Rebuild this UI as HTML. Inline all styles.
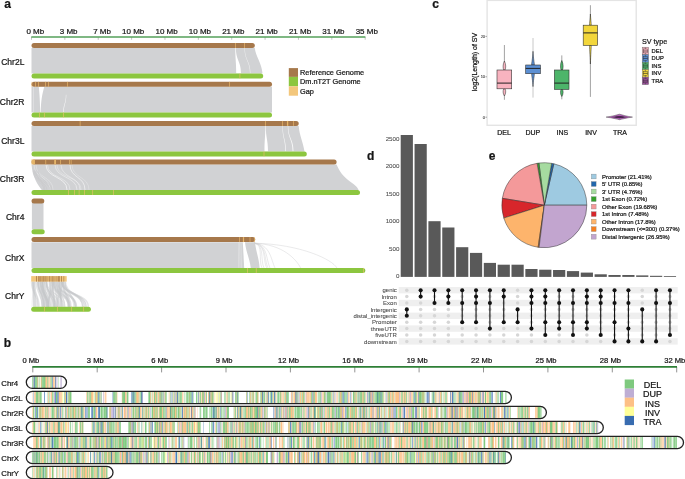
<!DOCTYPE html>
<html><head><meta charset="utf-8"><style>html,body{margin:0;padding:0;background:#fff;width:685px;height:479px;overflow:hidden}svg{display:block;will-change:transform}</style></head>
<body><svg width="685" height="479" viewBox="0 0 685 479" style='font-family:"Liberation Sans", sans-serif'>
<defs><clipPath id="cp0"><rect x="26.3" y="376.2" width="40.2" height="12.2" rx="6.1"/></clipPath><clipPath id="cp1"><rect x="26.3" y="391.4" width="485.1" height="12.2" rx="6.1"/></clipPath><clipPath id="cp2"><rect x="26.3" y="406.4" width="520.1" height="12.2" rx="6.1"/></clipPath><clipPath id="cp3"><rect x="26.3" y="421.4" width="577.0" height="12.2" rx="6.1"/></clipPath><clipPath id="cp4"><rect x="26.3" y="436.4" width="657.2" height="12.2" rx="6.1"/></clipPath><clipPath id="cp5"><rect x="26.3" y="451.4" width="485.1" height="12.2" rx="6.1"/></clipPath><clipPath id="cp6"><rect x="26.3" y="466.4" width="86.7" height="12.2" rx="6.1"/></clipPath></defs>
<rect width="685" height="479" fill="#fff"/>
<text x="4.3" y="8.2" font-size="12" font-weight="bold" fill="#161616" stroke="#161616" stroke-width="0.22">a</text>
<text x="44.20" y="34" font-size="8" text-anchor="end" fill="#161616" stroke="#161616" stroke-width="0.22">0 Mb</text>
<line x1="31.50" y1="37" x2="31.50" y2="39.8" stroke="#9a9a9a" stroke-width="0.6"/>
<text x="77.57" y="34" font-size="8" text-anchor="end" fill="#161616" stroke="#161616" stroke-width="0.22">3 Mb</text>
<line x1="64.87" y1="37" x2="64.87" y2="39.8" stroke="#9a9a9a" stroke-width="0.6"/>
<text x="110.94" y="34" font-size="8" text-anchor="end" fill="#161616" stroke="#161616" stroke-width="0.22">7 Mb</text>
<line x1="98.24" y1="37" x2="98.24" y2="39.8" stroke="#9a9a9a" stroke-width="0.6"/>
<text x="144.31" y="34" font-size="8" text-anchor="end" fill="#161616" stroke="#161616" stroke-width="0.22">10 Mb</text>
<line x1="131.61" y1="37" x2="131.61" y2="39.8" stroke="#9a9a9a" stroke-width="0.6"/>
<text x="177.68" y="34" font-size="8" text-anchor="end" fill="#161616" stroke="#161616" stroke-width="0.22">10 Mb</text>
<line x1="164.98" y1="37" x2="164.98" y2="39.8" stroke="#9a9a9a" stroke-width="0.6"/>
<text x="211.05" y="34" font-size="8" text-anchor="end" fill="#161616" stroke="#161616" stroke-width="0.22">10 Mb</text>
<line x1="198.35" y1="37" x2="198.35" y2="39.8" stroke="#9a9a9a" stroke-width="0.6"/>
<text x="244.42" y="34" font-size="8" text-anchor="end" fill="#161616" stroke="#161616" stroke-width="0.22">21 Mb</text>
<line x1="231.72" y1="37" x2="231.72" y2="39.8" stroke="#9a9a9a" stroke-width="0.6"/>
<text x="277.79" y="34" font-size="8" text-anchor="end" fill="#161616" stroke="#161616" stroke-width="0.22">21 Mb</text>
<line x1="265.09" y1="37" x2="265.09" y2="39.8" stroke="#9a9a9a" stroke-width="0.6"/>
<text x="311.16" y="34" font-size="8" text-anchor="end" fill="#161616" stroke="#161616" stroke-width="0.22">21 Mb</text>
<line x1="298.46" y1="37" x2="298.46" y2="39.8" stroke="#9a9a9a" stroke-width="0.6"/>
<text x="344.53" y="34" font-size="8" text-anchor="end" fill="#161616" stroke="#161616" stroke-width="0.22">31 Mb</text>
<line x1="331.83" y1="37" x2="331.83" y2="39.8" stroke="#9a9a9a" stroke-width="0.6"/>
<text x="377.90" y="34" font-size="8" text-anchor="end" fill="#161616" stroke="#161616" stroke-width="0.22">35 Mb</text>
<line x1="365.20" y1="37" x2="365.20" y2="39.8" stroke="#9a9a9a" stroke-width="0.6"/>
<line x1="31.3" y1="37.1" x2="365.4" y2="37.1" stroke="#55a05a" stroke-width="1.5"/>
<text x="24.4" y="64.7" font-size="8.5" text-anchor="end" fill="#161616" stroke="#161616" stroke-width="0.22">Chr2L</text>
<path d="M31.5,48.0 L254.8,48.0 C255.5,56.0 262,63.599999999999994 262.5,73.6 L31.5,73.6 Z" fill="#d1d2d4"/>
<path d="M235.3,48.0 L235.9,48.0 C235.9,60.8 241.0,60.8 241.0,73.6 L236.2,73.6 C236.2,60.8 235.3,60.8 235.3,48.0 Z" fill="#fff" opacity="1.0"/>
<path d="M244.5,48.0 L244.9,48.0 C244.9,60.8 250.5,60.8 250.5,73.6 L250.0,73.6 C250.0,60.8 244.5,60.8 244.5,48.0 Z" fill="#fff" opacity="0.7"/>
<rect x="31.5" y="43.0" width="223.3" height="5.0" rx="2.5" fill="#a6784b"/>
<rect x="235.15" y="43.0" width="0.7" height="5.0" fill="#f0c070" opacity="0.85"/>
<rect x="244.15" y="43.0" width="0.7" height="5.0" fill="#f0c070" opacity="0.85"/>
<rect x="31.5" y="73.6" width="231.7" height="5.0" rx="2.5" fill="#8cc63f"/>
<rect x="239.55" y="73.6" width="0.7" height="5.0" fill="#f0c070" opacity="0.85"/>
<text x="24.4" y="105.3" font-size="8.5" text-anchor="end" fill="#161616" stroke="#161616" stroke-width="0.22">Chr2R</text>
<path d="M31.5,86.8 L272,86.8 L272,112.6 L31.5,112.6 Z" fill="#d1d2d4"/>
<path d="M38.8,86.8 L44.3,86.8 C42,94.8 41,100.8 40.7,112.6 L40.2,112.6 C40,100.8 39.6,94.8 38.8,86.8 Z" fill="#fff"/>
<path d="M65.9,94.8 L66.3,94.8 C66.3,103.69999999999999 63.9,103.69999999999999 63.9,112.6 L63.3,112.6 C63.3,103.69999999999999 65.9,103.69999999999999 65.9,94.8 Z" fill="#fff" opacity="0.9"/>
<path d="M33.1,86.8 L33.5,86.8 C33.5,99.69999999999999 33.7,99.69999999999999 33.7,112.6 L33.3,112.6 C33.3,99.69999999999999 33.1,99.69999999999999 33.1,86.8 Z" fill="#fff" opacity="0.7"/>
<rect x="31.5" y="81.8" width="240.5" height="5.0" rx="2.5" fill="#a6784b"/>
<rect x="31.55" y="81.8" width="0.7" height="5.0" fill="#f0c070" opacity="0.85"/>
<rect x="35.05" y="81.8" width="0.7" height="5.0" fill="#f0c070" opacity="0.85"/>
<rect x="38.15" y="81.8" width="0.7" height="5.0" fill="#f0c070" opacity="0.85"/>
<rect x="45.05" y="81.8" width="0.7" height="5.0" fill="#f0c070" opacity="0.85"/>
<rect x="48.05" y="81.8" width="0.7" height="5.0" fill="#f0c070" opacity="0.85"/>
<rect x="67.15" y="81.8" width="0.7" height="5.0" fill="#f0c070" opacity="0.85"/>
<rect x="229.05" y="81.8" width="0.7" height="5.0" fill="#f0c070" opacity="0.85"/>
<rect x="31.5" y="112.6" width="240.5" height="5.0" rx="2.5" fill="#8cc63f"/>
<rect x="39.15" y="112.6" width="0.7" height="5.0" fill="#f0c070" opacity="0.85"/>
<rect x="43.95" y="112.6" width="0.7" height="5.0" fill="#f0c070" opacity="0.85"/>
<rect x="63.25" y="112.6" width="0.7" height="5.0" fill="#f0c070" opacity="0.85"/>
<text x="24.4" y="143.8" font-size="8.5" text-anchor="end" fill="#161616" stroke="#161616" stroke-width="0.22">Chr3L</text>
<path d="M31.5,125.9 L298.7,125.9 C299.5,135.9 303,141.4 304.5,151.4 L31.5,151.4 Z" fill="#d1d2d4"/>
<path d="M265.3,125.9 L265.8,125.9 C265.8,138.65 268.0,138.65 268.0,151.4 L264.5,151.4 C264.5,138.65 265.3,138.65 265.3,125.9 Z" fill="#fff" opacity="1.0"/>
<path d="M282.4,125.9 L282.8,125.9 C282.8,138.65 286.0,138.65 286.0,151.4 L285.3,151.4 C285.3,138.65 282.4,138.65 282.4,125.9 Z" fill="#fff" opacity="0.85"/>
<path d="M287.8,125.9 L288.3,125.9 C288.3,138.65 293.5,138.65 293.5,151.4 L292.6,151.4 C292.6,138.65 287.8,138.65 287.8,125.9 Z" fill="#fff" opacity="0.85"/>
<rect x="31.5" y="120.9" width="267.2" height="5.0" rx="2.5" fill="#a6784b"/>
<rect x="79.75" y="120.9" width="0.7" height="5.0" fill="#f0c070" opacity="0.85"/>
<rect x="265.15" y="120.9" width="0.7" height="5.0" fill="#f0c070" opacity="0.85"/>
<rect x="282.25" y="120.9" width="0.7" height="5.0" fill="#f0c070" opacity="0.85"/>
<rect x="286.95" y="120.9" width="1.3" height="5.0" fill="#f0c070" opacity="0.85"/>
<rect x="293.05" y="120.9" width="0.7" height="5.0" fill="#f0c070" opacity="0.85"/>
<rect x="31.5" y="151.4" width="275.3" height="5.0" rx="2.5" fill="#8cc63f"/>
<rect x="263.65" y="151.4" width="0.7" height="5.0" fill="#f0c070" opacity="0.85"/>
<text x="24.4" y="182.1" font-size="8.5" text-anchor="end" fill="#161616" stroke="#161616" stroke-width="0.22">Chr3R</text>
<path d="M31.5,164.5 L336.6,164.5 C339,170.5 343,176.5 350,181.5 C356,185.5 358,188.0 358.5,190.0 L41.8,190.0 C38,185.0 32.5,177.5 31.5,164.5 Z" fill="#d1d2d4"/>
<path d="M46,164.5 C46,178.5 67,176.0 67,190.0" stroke="#fff" stroke-width="0.6" fill="none" opacity="1.0"/>
<path d="M47.5,164.5 C47.5,178.5 70,176.0 70,190.0" stroke="#fff" stroke-width="0.6" fill="none" opacity="0.6"/>
<path d="M55,164.5 C55,178.5 77,176.0 77,190.0" stroke="#fff" stroke-width="0.6" fill="none" opacity="0.7"/>
<path d="M57,164.5 C57,178.5 81,176.0 81,190.0" stroke="#fff" stroke-width="0.6" fill="none" opacity="0.5"/>
<path d="M61,164.5 C61,178.5 80,176.0 80,190.0" stroke="#fff" stroke-width="0.6" fill="none" opacity="0.6"/>
<path d="M70,164.5 C70,178.5 85,176.0 85,190.0" stroke="#fff" stroke-width="0.6" fill="none" opacity="0.9"/>
<path d="M72,164.5 C72,178.5 89,176.0 89,190.0" stroke="#fff" stroke-width="0.6" fill="none" opacity="0.4"/>
<path d="M34,164.5 C34,178.5 50,176.0 50,190.0" stroke="#fff" stroke-width="0.6" fill="none" opacity="0.5"/>
<path d="M36,164.5 C36,178.5 53,176.0 53,190.0" stroke="#fff" stroke-width="0.6" fill="none" opacity="0.4"/>
<path d="M33,170.5 C33,180.5 44,182.0 44,190.0" stroke="#c6c7c9" stroke-width="0.5" fill="none"/>
<path d="M34,170.5 C34,180.5 47,182.0 47,190.0" stroke="#c6c7c9" stroke-width="0.5" fill="none"/>
<path d="M35,170.5 C35,180.5 50,182.0 50,190.0" stroke="#c6c7c9" stroke-width="0.5" fill="none"/>
<path d="M36,170.5 C36,180.5 45,182.0 45,190.0" stroke="#c6c7c9" stroke-width="0.5" fill="none"/>
<path d="M38,170.5 C38,180.5 52,182.0 52,190.0" stroke="#c6c7c9" stroke-width="0.5" fill="none"/>
<rect x="31.5" y="159.4" width="305.1" height="5.0" rx="2.5" fill="#a6784b"/>
<rect x="31.45" y="159.4" width="3.5" height="5.0" fill="#f0c070" opacity="0.85"/>
<rect x="45.45" y="159.4" width="0.7" height="5.0" fill="#f0c070" opacity="0.85"/>
<rect x="54.20" y="159.4" width="1.8" height="5.0" fill="#f0c070" opacity="0.85"/>
<rect x="60.25" y="159.4" width="0.7" height="5.0" fill="#f0c070" opacity="0.85"/>
<rect x="69.05" y="159.4" width="0.7" height="5.0" fill="#f0c070" opacity="0.85"/>
<rect x="70.75" y="159.4" width="0.7" height="5.0" fill="#f0c070" opacity="0.85"/>
<rect x="31.5" y="190.0" width="328.5" height="5.0" rx="2.5" fill="#8cc63f"/>
<rect x="68.05" y="190.0" width="0.7" height="5.0" fill="#f0c070" opacity="0.85"/>
<rect x="74.15" y="190.0" width="0.7" height="5.0" fill="#f0c070" opacity="0.85"/>
<rect x="78.75" y="190.0" width="0.7" height="5.0" fill="#f0c070" opacity="0.85"/>
<rect x="84.15" y="190.0" width="0.7" height="5.0" fill="#f0c070" opacity="0.85"/>
<rect x="92.35" y="190.0" width="0.7" height="5.0" fill="#f0c070" opacity="0.85"/>
<rect x="113.25" y="190.0" width="0.7" height="5.0" fill="#f0c070" opacity="0.85"/>
<text x="24.4" y="219.8" font-size="8.5" text-anchor="end" fill="#161616" stroke="#161616" stroke-width="0.22">Chr4</text>
<rect x="31.9" y="203" width="11.6" height="26.4" fill="#d1d2d4"/>
<rect x="31.5" y="198.4" width="12.8" height="5.0" rx="2.5" fill="#a6784b"/>
<rect x="31.5" y="229.2" width="13.2" height="5.0" rx="2.5" fill="#8cc63f"/>
<text x="24.4" y="260.9" font-size="8.5" text-anchor="end" fill="#161616" stroke="#161616" stroke-width="0.22">ChrX</text>
<path d="M31.5,242.2 L242.8,242.2 L244.2,267.9 L31.5,267.9 Z" fill="#d1d2d4"/>
<path d="M245,242.2 L255,242.2 C256,252.2 259,257.9 259.6,267.9 L250.8,267.9 C249.5,257.9 246,252.2 245,242.2 Z" fill="#d1d2d4"/>
<path d="M254,243.2 C264.0,244.2 258,259.9 262,267.9" stroke="#cfd0d2" stroke-width="0.45" fill="none"/>
<path d="M254,243.2 C265.0,244.2 260,259.9 264,267.9" stroke="#cfd0d2" stroke-width="0.45" fill="none"/>
<path d="M254,243.2 C266.4,244.2 262.7,259.9 266.7,267.9" stroke="#cfd0d2" stroke-width="0.45" fill="none"/>
<path d="M254,243.2 C267.0,244.2 264,259.9 268,267.9" stroke="#cfd0d2" stroke-width="0.45" fill="none"/>
<path d="M254,243.2 C268.0,244.2 266,259.9 270,267.9" stroke="#cfd0d2" stroke-width="0.45" fill="none"/>
<path d="M254,243.2 C270.5,244.2 271,259.9 275,267.9" stroke="#cfd0d2" stroke-width="0.45" fill="none"/>
<path d="M254,243.2 C283.3,244.2 296.6,259.9 300.6,267.9" stroke="#cfd0d2" stroke-width="0.45" fill="none"/>
<path d="M254,243.2 C301.4,244.2 332.8,259.9 336.8,267.9" stroke="#cfd0d2" stroke-width="0.45" fill="none"/>
<line x1="238.2" y1="242.2" x2="238.7" y2="267.9" stroke="#fff" stroke-width="0.4" opacity="0.6"/>
<line x1="239.5" y1="242.2" x2="240.0" y2="267.9" stroke="#fff" stroke-width="0.4" opacity="0.6"/>
<line x1="241" y1="242.2" x2="241.5" y2="267.9" stroke="#fff" stroke-width="0.4" opacity="0.6"/>
<rect x="31.5" y="237.1" width="223.7" height="5.0" rx="2.5" fill="#a6784b"/>
<rect x="239.25" y="237.1" width="0.7" height="5.0" fill="#f0c070" opacity="0.85"/>
<rect x="242.90" y="237.1" width="1.2" height="5.0" fill="#f0c070" opacity="0.85"/>
<rect x="249.65" y="237.1" width="0.7" height="5.0" fill="#f0c070" opacity="0.85"/>
<rect x="254.15" y="237.1" width="0.7" height="5.0" fill="#f0c070" opacity="0.85"/>
<rect x="31.5" y="267.9" width="333.8" height="5.0" rx="2.5" fill="#8cc63f"/>
<rect x="247.05" y="267.9" width="0.7" height="5.0" fill="#f0c070" opacity="0.85"/>
<rect x="255.85" y="267.9" width="0.7" height="5.0" fill="#f0c070" opacity="0.85"/>
<rect x="363.15" y="267.9" width="0.7" height="5.0" fill="#f0c070" opacity="0.85"/>
<text x="24.4" y="298.8" font-size="8.5" text-anchor="end" fill="#161616" stroke="#161616" stroke-width="0.22">ChrY</text>
<path d="M40.0,281.5 C40.0,295 43.5,293 43.5,306.8" stroke="#c6c7c9" stroke-opacity="0.45" stroke-width="1.7" fill="none"/>
<path d="M53.4,281.5 C53.4,295 47.5,293 47.5,306.8" stroke="#c6c7c9" stroke-opacity="0.45" stroke-width="2.1" fill="none"/>
<path d="M40.7,281.5 C40.7,295 48.8,293 48.8,306.8" stroke="#c6c7c9" stroke-opacity="0.45" stroke-width="1.4" fill="none"/>
<path d="M60.7,281.5 C60.7,295 71.3,293 71.3,306.8" stroke="#c6c7c9" stroke-opacity="0.45" stroke-width="0.9" fill="none"/>
<path d="M53.7,281.5 C53.7,295 69.2,293 69.2,306.8" stroke="#c6c7c9" stroke-opacity="0.45" stroke-width="1.9" fill="none"/>
<path d="M55.0,281.5 C55.0,295 57.0,293 57.0,306.8" stroke="#c6c7c9" stroke-opacity="0.45" stroke-width="1.7" fill="none"/>
<path d="M42.2,281.5 C42.2,295 46.9,293 46.9,306.8" stroke="#c6c7c9" stroke-opacity="0.45" stroke-width="1.5" fill="none"/>
<path d="M56.6,281.5 C56.6,295 76.1,293 76.1,306.8" stroke="#c6c7c9" stroke-opacity="0.45" stroke-width="2.3" fill="none"/>
<path d="M45.4,281.5 C45.4,295 54.4,293 54.4,306.8" stroke="#c6c7c9" stroke-opacity="0.45" stroke-width="2.3" fill="none"/>
<path d="M62.1,281.5 C62.1,295 57.2,293 57.2,306.8" stroke="#c6c7c9" stroke-opacity="0.45" stroke-width="1.0" fill="none"/>
<path d="M65.1,281.5 C65.1,295 75.4,293 75.4,306.8" stroke="#c6c7c9" stroke-opacity="0.45" stroke-width="1.1" fill="none"/>
<path d="M49.3,281.5 C49.3,295 52.7,293 52.7,306.8" stroke="#c6c7c9" stroke-opacity="0.45" stroke-width="1.7" fill="none"/>
<path d="M52.0,281.5 C52.0,295 68.8,293 68.8,306.8" stroke="#c6c7c9" stroke-opacity="0.45" stroke-width="2.3" fill="none"/>
<path d="M61.3,281.5 C61.3,295 86.2,293 86.2,306.8" stroke="#c6c7c9" stroke-opacity="0.45" stroke-width="0.9" fill="none"/>
<path d="M61.5,281.5 C61.5,295 88.3,293 88.3,306.8" stroke="#c6c7c9" stroke-opacity="0.45" stroke-width="1.6" fill="none"/>
<path d="M56.4,281.5 C56.4,295 62.3,293 62.3,306.8" stroke="#c6c7c9" stroke-opacity="0.45" stroke-width="1.6" fill="none"/>
<path d="M41.6,281.5 C41.6,295 46.6,293 46.6,306.8" stroke="#c6c7c9" stroke-opacity="0.45" stroke-width="2.4" fill="none"/>
<path d="M34.9,281.5 C34.9,295 38.0,293 38.0,306.8" stroke="#c6c7c9" stroke-opacity="0.45" stroke-width="0.9" fill="none"/>
<path d="M41.9,281.5 C41.9,295 53.5,293 53.5,306.8" stroke="#c6c7c9" stroke-opacity="0.45" stroke-width="0.7" fill="none"/>
<path d="M53.0,281.5 C53.0,295 54.5,293 54.5,306.8" stroke="#c6c7c9" stroke-opacity="0.45" stroke-width="1.2" fill="none"/>
<path d="M62.2,281.5 C62.2,295 85.5,293 85.5,306.8" stroke="#c6c7c9" stroke-opacity="0.45" stroke-width="2.4" fill="none"/>
<path d="M42.5,281.5 C42.5,295 44.7,293 44.7,306.8" stroke="#c6c7c9" stroke-opacity="0.45" stroke-width="0.7" fill="none"/>
<path d="M38.6,281.5 C38.6,295 43.5,293 43.5,306.8" stroke="#c6c7c9" stroke-opacity="0.45" stroke-width="0.9" fill="none"/>
<path d="M33.3,281.5 C33.3,295 34.6,293 34.6,306.8" stroke="#c6c7c9" stroke-opacity="0.45" stroke-width="2.3" fill="none"/>
<path d="M62.7,281.5 C62.7,295 69.1,293 69.1,306.8" stroke="#c6c7c9" stroke-opacity="0.45" stroke-width="1.5" fill="none"/>
<path d="M54.0,281.5 C54.0,295 64.6,293 64.6,306.8" stroke="#c6c7c9" stroke-opacity="0.45" stroke-width="1.7" fill="none"/>
<path d="M64.3,281.5 C64.3,295 74.3,293 74.3,306.8" stroke="#c6c7c9" stroke-opacity="0.45" stroke-width="1.9" fill="none"/>
<path d="M40.0,281.5 C40.0,295 48.3,293 48.3,306.8" stroke="#c6c7c9" stroke-opacity="0.45" stroke-width="1.5" fill="none"/>
<path d="M50.7,281.5 C50.7,295 48.7,293 48.7,306.8" stroke="#c6c7c9" stroke-opacity="0.45" stroke-width="1.6" fill="none"/>
<path d="M32.5,281.5 C32.5,295 36.7,293 36.7,306.8" stroke="#c6c7c9" stroke-opacity="0.45" stroke-width="0.7" fill="none"/>
<path d="M53.4,281.5 C53.4,295 62.7,293 62.7,306.8" stroke="#c6c7c9" stroke-opacity="0.45" stroke-width="1.2" fill="none"/>
<path d="M56.2,281.5 C56.2,295 64.8,293 64.8,306.8" stroke="#c6c7c9" stroke-opacity="0.45" stroke-width="0.7" fill="none"/>
<path d="M55.1,281.5 C55.1,295 70.4,293 70.4,306.8" stroke="#c6c7c9" stroke-opacity="0.45" stroke-width="1.4" fill="none"/>
<path d="M52.2,281.5 C52.2,295 55.1,293 55.1,306.8" stroke="#c6c7c9" stroke-opacity="0.45" stroke-width="1.2" fill="none"/>
<path d="M44.5,281.5 C44.5,295 49.1,293 49.1,306.8" stroke="#c6c7c9" stroke-opacity="0.45" stroke-width="1.3" fill="none"/>
<path d="M58.4,281.5 C58.4,295 57.0,293 57.0,306.8" stroke="#c6c7c9" stroke-opacity="0.45" stroke-width="1.9" fill="none"/>
<path d="M42.5,281.5 C42.5,295 48.3,293 48.3,306.8" stroke="#c6c7c9" stroke-opacity="0.45" stroke-width="1.0" fill="none"/>
<path d="M38.3,281.5 C38.3,295 44.2,293 44.2,306.8" stroke="#c6c7c9" stroke-opacity="0.45" stroke-width="0.8" fill="none"/>
<path d="M42.9,281.5 C42.9,295 50.2,293 50.2,306.8" stroke="#c6c7c9" stroke-opacity="0.45" stroke-width="1.4" fill="none"/>
<path d="M61.3,281.5 C61.3,295 60.6,293 60.6,306.8" stroke="#c6c7c9" stroke-opacity="0.45" stroke-width="1.8" fill="none"/>
<path d="M62.3,281.5 C62.3,295 68.1,293 68.1,306.8" stroke="#c6c7c9" stroke-opacity="0.45" stroke-width="0.8" fill="none"/>
<path d="M50.1,281.5 C50.1,295 55.4,293 55.4,306.8" stroke="#c6c7c9" stroke-opacity="0.45" stroke-width="2.1" fill="none"/>
<path d="M38.1,281.5 C38.1,295 44.3,293 44.3,306.8" stroke="#c6c7c9" stroke-opacity="0.45" stroke-width="1.8" fill="none"/>
<path d="M59.6,281.5 C59.6,295 61.1,293 61.1,306.8" stroke="#c6c7c9" stroke-opacity="0.45" stroke-width="1.1" fill="none"/>
<path d="M59.2,281.5 C59.2,295 61.2,293 61.2,306.8" stroke="#c6c7c9" stroke-opacity="0.45" stroke-width="1.4" fill="none"/>
<path d="M46.3,281.5 C46.3,295 55.9,293 55.9,306.8" stroke="#c6c7c9" stroke-opacity="0.45" stroke-width="0.9" fill="none"/>
<path d="M32.0,281.5 C32.0,295 38.7,293 38.7,306.8" stroke="#c6c7c9" stroke-opacity="0.45" stroke-width="2.4" fill="none"/>
<path d="M46.8,281.5 C46.8,295 63.8,293 63.8,306.8" stroke="#c6c7c9" stroke-opacity="0.45" stroke-width="1.0" fill="none"/>
<path d="M57.5,281.5 C57.5,295 76.0,293 76.0,306.8" stroke="#c6c7c9" stroke-opacity="0.45" stroke-width="1.5" fill="none"/>
<path d="M41.8,281.5 C41.8,295 42.3,293 42.3,306.8" stroke="#c6c7c9" stroke-opacity="0.45" stroke-width="0.7" fill="none"/>
<path d="M52.1,281.5 C52.1,295 59.2,293 59.2,306.8" stroke="#c6c7c9" stroke-opacity="0.45" stroke-width="0.7" fill="none"/>
<path d="M63.0,281.5 C63.0,295 83.4,293 83.4,306.8" stroke="#c6c7c9" stroke-opacity="0.45" stroke-width="2.2" fill="none"/>
<path d="M62.8,281.5 C62.8,295 69.9,293 69.9,306.8" stroke="#c6c7c9" stroke-opacity="0.45" stroke-width="1.9" fill="none"/>
<path d="M37.7,281.5 C37.7,295 42.4,293 42.4,306.8" stroke="#c6c7c9" stroke-opacity="0.45" stroke-width="1.5" fill="none"/>
<path d="M46.1,281.5 C46.1,295 59.0,293 59.0,306.8" stroke="#c6c7c9" stroke-opacity="0.45" stroke-width="1.2" fill="none"/>
<path d="M40.5,281.5 C40.5,295 47.8,293 47.8,306.8" stroke="#c6c7c9" stroke-opacity="0.45" stroke-width="2.0" fill="none"/>
<path d="M43.9,281.5 C43.9,295 46.5,293 46.5,306.8" stroke="#c6c7c9" stroke-opacity="0.45" stroke-width="2.1" fill="none"/>
<path d="M37.7,281.5 C37.7,295 47.9,293 47.9,306.8" stroke="#c6c7c9" stroke-opacity="0.45" stroke-width="2.1" fill="none"/>
<path d="M60.2,281.5 C60.2,295 58.6,293 58.6,306.8" stroke="#c6c7c9" stroke-opacity="0.45" stroke-width="2.2" fill="none"/>
<path d="M33.5,281.5 C33.5,295 33.6,293 33.6,306.8" stroke="#c6c7c9" stroke-opacity="0.45" stroke-width="1.5" fill="none"/>
<path d="M46.4,281.5 C46.4,295 55.2,293 55.2,306.8" stroke="#c6c7c9" stroke-opacity="0.45" stroke-width="0.6" fill="none"/>
<path d="M33.7,281.5 C33.7,295 32.0,293 32.0,306.8" stroke="#c6c7c9" stroke-opacity="0.45" stroke-width="0.7" fill="none"/>
<path d="M65.4,281.5 C65.4,295 82.5,293 82.5,306.8" stroke="#c6c7c9" stroke-opacity="0.45" stroke-width="1.5" fill="none"/>
<path d="M42.7,281.5 C42.7,295 44.5,293 44.5,306.8" stroke="#c6c7c9" stroke-opacity="0.45" stroke-width="1.8" fill="none"/>
<path d="M52.0,281.5 C52.0,295 53.7,293 53.7,306.8" stroke="#c6c7c9" stroke-opacity="0.45" stroke-width="1.2" fill="none"/>
<path d="M36.1,281.5 C36.1,295 42.2,293 42.2,306.8" stroke="#c6c7c9" stroke-opacity="0.45" stroke-width="1.3" fill="none"/>
<path d="M34.6,281.5 C34.6,295 35.6,293 35.6,306.8" stroke="#c6c7c9" stroke-opacity="0.45" stroke-width="1.7" fill="none"/>
<path d="M58.8,281.5 C58.8,295 68.5,293 68.5,306.8" stroke="#c6c7c9" stroke-opacity="0.45" stroke-width="1.7" fill="none"/>
<path d="M46.7,281.5 C46.7,295 51.2,293 51.2,306.8" stroke="#c6c7c9" stroke-opacity="0.45" stroke-width="1.9" fill="none"/>
<path d="M46.3,281.5 C46.3,295 54.5,293 54.5,306.8" stroke="#c6c7c9" stroke-opacity="0.45" stroke-width="1.0" fill="none"/>
<rect x="31.2" y="276.1" width="35.5" height="5.5" fill="#f3c77c"/>
<rect x="36.0" y="276.1" width="1.0" height="5.5" fill="#a8794a" opacity="0.81"/>
<rect x="38.2" y="276.1" width="1.2" height="5.5" fill="#a8794a" opacity="0.88"/>
<rect x="39.6" y="276.1" width="1.1" height="5.5" fill="#a8794a" opacity="0.87"/>
<rect x="41.0" y="276.1" width="0.6" height="5.5" fill="#a8794a" opacity="0.71"/>
<rect x="42.4" y="276.1" width="1.3" height="5.5" fill="#a8794a" opacity="0.78"/>
<rect x="43.6" y="276.1" width="1.2" height="5.5" fill="#a8794a" opacity="0.59"/>
<rect x="45.0" y="276.1" width="0.9" height="5.5" fill="#a8794a" opacity="0.64"/>
<rect x="46.4" y="276.1" width="1.0" height="5.5" fill="#a8794a" opacity="0.75"/>
<rect x="47.8" y="276.1" width="0.6" height="5.5" fill="#a8794a" opacity="0.63"/>
<rect x="49.0" y="276.1" width="0.8" height="5.5" fill="#a8794a" opacity="0.87"/>
<rect x="50.5" y="276.1" width="1.1" height="5.5" fill="#a8794a" opacity="0.61"/>
<rect x="52.0" y="276.1" width="1.2" height="5.5" fill="#a8794a" opacity="0.60"/>
<rect x="53.4" y="276.1" width="1.0" height="5.5" fill="#a8794a" opacity="0.59"/>
<rect x="54.8" y="276.1" width="0.6" height="5.5" fill="#a8794a" opacity="0.85"/>
<rect x="56.2" y="276.1" width="0.7" height="5.5" fill="#a8794a" opacity="0.63"/>
<rect x="57.6" y="276.1" width="1.3" height="5.5" fill="#a8794a" opacity="0.86"/>
<rect x="59.0" y="276.1" width="0.8" height="5.5" fill="#a8794a" opacity="0.89"/>
<rect x="61.0" y="276.1" width="1.0" height="5.5" fill="#a8794a" opacity="0.79"/>
<rect x="63.5" y="276.1" width="0.7" height="5.5" fill="#a8794a" opacity="0.88"/>
<rect x="31.2" y="306.7" width="59.7" height="5.0" rx="2.5" fill="#8cc63f"/>
<rect x="44.25" y="306.7" width="0.7" height="5.0" fill="#f0c070" opacity="0.85"/>
<rect x="57.25" y="306.7" width="0.7" height="5.0" fill="#f0c070" opacity="0.85"/>
<rect x="71.35" y="306.7" width="0.7" height="5.0" fill="#f0c070" opacity="0.85"/>
<rect x="83.35" y="306.7" width="0.7" height="5.0" fill="#f0c070" opacity="0.85"/>
<rect x="288.8" y="68.1" width="9.2" height="8.8" fill="#a6784b"/>
<rect x="288.8" y="76.9" width="9.2" height="9.4" fill="#8cc63f"/>
<rect x="288.8" y="86.3" width="9.2" height="9.4" fill="#f3c77c"/>
<text x="300" y="75" font-size="7.35" fill="#161616" stroke="#161616" stroke-width="0.22">Reference Genome</text>
<text x="300" y="84" font-size="7.35" fill="#161616" stroke="#161616" stroke-width="0.22">Dm.nT2T Genome</text>
<text x="300" y="93.5" font-size="7.35" fill="#161616" stroke="#161616" stroke-width="0.22">Gap</text>
<text x="432.3" y="7.6" font-size="12" font-weight="bold" fill="#161616" stroke="#161616" stroke-width="0.22">c</text>
<rect x="487.1" y="0.4" width="149.1" height="124.9" fill="none" stroke="#e4e4e4" stroke-width="1.4"/>
<line x1="485.4" y1="117.2" x2="487" y2="117.2" stroke="#444" stroke-width="0.45"/>
<text x="485.0" y="118.5" font-size="3.9" text-anchor="end" fill="#333" stroke="#333" stroke-width="0.08">0</text>
<line x1="485.4" y1="76.8" x2="487" y2="76.8" stroke="#444" stroke-width="0.45"/>
<text x="485.0" y="78.1" font-size="3.9" text-anchor="end" fill="#333" stroke="#333" stroke-width="0.08">10</text>
<line x1="485.4" y1="36.4" x2="487" y2="36.4" stroke="#444" stroke-width="0.45"/>
<text x="485.0" y="37.7" font-size="3.9" text-anchor="end" fill="#333" stroke="#333" stroke-width="0.08">20</text>
<text transform="translate(477.2,62) rotate(-90)" font-size="7" text-anchor="middle" fill="#161616" stroke="#161616" stroke-width="0.22">log2(Length) of SV</text>
<line x1="504.4" y1="45" x2="504.4" y2="99.8" stroke="#555" stroke-width="0.55"/>
<path d="M504.4,61 C506.09,64.15 505.96,68.20 505.05,70 L503.75,70 C502.84,68.20 502.71,64.15 504.4,61 Z" fill="#f8b3bf" stroke="#2a2a2a" stroke-width="0.5"/>
<path d="M504.4,96 C506.09,93.48 505.96,90.24 505.05,88.8 L503.75,88.8 C502.84,90.24 502.71,93.48 504.4,96 Z" fill="#f8b3bf" stroke="#2a2a2a" stroke-width="0.5"/>
<rect x="497" y="70" width="14.7" height="18.8" fill="#f8b3bf" stroke="#333" stroke-width="0.6"/>
<line x1="497" y1="83.1" x2="511.7" y2="83.1" stroke="#222" stroke-width="1"/>
<line x1="533" y1="38" x2="533" y2="97.6" stroke="#9a9a9a" stroke-width="0.55"/>
<path d="M533,51.3 C533.3,58.15 534.4,63 534.4,65 L531.6,65 C531.6,63 532.7,58.15 533,51.3 Z" fill="#5b8fd3" stroke="#2a2a2a" stroke-width="0.5"/>
<path d="M533,86.6 C533.3,80.15 534.4,75.7 534.4,73.7 L531.6,73.7 C531.6,75.7 532.7,80.15 533,86.6 Z" fill="#5b8fd3" stroke="#2a2a2a" stroke-width="0.5"/>
<rect x="525.7" y="65" width="14.7" height="8.7" fill="#5b8fd3" stroke="#333" stroke-width="0.6"/>
<line x1="525.7" y1="68.4" x2="540.4" y2="68.4" stroke="#222" stroke-width="1"/>
<line x1="561.8" y1="55.4" x2="561.8" y2="99.3" stroke="#555" stroke-width="0.55"/>
<path d="M561.8,60.5 C563.49,63.83 563.36,68.10 562.45,70 L561.15,70 C560.24,68.10 560.11,63.83 561.8,60.5 Z" fill="#4db56a" stroke="#2a2a2a" stroke-width="0.5"/>
<path d="M561.8,96.5 C563.49,94.02 563.36,90.82 562.45,89.4 L561.15,89.4 C560.24,90.82 560.11,94.02 561.8,96.5 Z" fill="#4db56a" stroke="#2a2a2a" stroke-width="0.5"/>
<rect x="554.4" y="70" width="14.6" height="19.4" fill="#4db56a" stroke="#333" stroke-width="0.6"/>
<line x1="554.4" y1="83.1" x2="569" y2="83.1" stroke="#222" stroke-width="1"/>
<line x1="590.4" y1="5.2" x2="590.4" y2="96.9" stroke="#555" stroke-width="0.55"/>
<path d="M590.4,14 C590.6999999999999,19.6 591.3,23.2 591.3,25.2 L589.5,25.2 C589.5,23.2 590.1,19.6 590.4,14 Z" fill="#f2d63b" stroke="#2a2a2a" stroke-width="0.5"/>
<path d="M590.4,64 C590.6999999999999,54.7 591.3,47.4 591.3,45.4 L589.5,45.4 C589.5,47.4 590.1,54.7 590.4,64 Z" fill="#f2d63b" stroke="#2a2a2a" stroke-width="0.5"/>
<rect x="583.2" y="25.2" width="14.4" height="20.2" fill="#f2d63b" stroke="#333" stroke-width="0.6"/>
<line x1="583.2" y1="32.9" x2="597.6" y2="32.9" stroke="#222" stroke-width="1"/>
<path d="M606.1,117.1 C612,116.4 617,114.8 619.5,114.2 C622,114.8 627,116.4 632.5,117.1 C627,117.8 622,119.2 619.5,119.7 C617,119.2 612,117.8 606.1,117.1 Z" fill="#b064b4" stroke="#333" stroke-width="0.4"/>
<path d="M611.5,117.1 C615,116.3 618,115.9 619.5,115.9 C621,115.9 624,116.3 627.5,117.1 C624,117.9 621,118.3 619.5,118.3 C618,118.3 615,117.9 611.5,117.1 Z" fill="#4a2450"/>
<text x="504" y="135" font-size="7.0" text-anchor="middle" fill="#161616" stroke="#161616" stroke-width="0.22">DEL</text>
<text x="532.8" y="135" font-size="7.0" text-anchor="middle" fill="#161616" stroke="#161616" stroke-width="0.22">DUP</text>
<text x="562.3" y="135" font-size="7.0" text-anchor="middle" fill="#161616" stroke="#161616" stroke-width="0.22">INS</text>
<text x="591" y="135" font-size="7.0" text-anchor="middle" fill="#161616" stroke="#161616" stroke-width="0.22">INV</text>
<text x="620" y="135" font-size="7.0" text-anchor="middle" fill="#161616" stroke="#161616" stroke-width="0.22">TRA</text>
<text x="642" y="44.3" font-size="7.2" fill="#161616" stroke="#161616" stroke-width="0.22">SV type</text>
<rect x="642.2" y="47.2" width="6.4" height="7.5" fill="#f8b3bf" stroke="#666" stroke-width="0.45"/>
<line x1="645.4" y1="47.5" x2="645.4" y2="54.4" stroke="#333" stroke-width="0.45"/>
<rect x="643.2" y="49.0" width="4.4" height="3.9" fill="#f8b3bf" stroke="#333" stroke-width="0.4"/>
<line x1="643.2" y1="51.0" x2="647.6" y2="51.0" stroke="#222" stroke-width="0.6"/>
<text x="651.6" y="52.8" font-size="5.8" fill="#161616" stroke="#161616" stroke-width="0.22">DEL</text>
<rect x="642.2" y="54.7" width="6.4" height="7.5" fill="#5b8fd3" stroke="#666" stroke-width="0.45"/>
<line x1="645.4" y1="55.0" x2="645.4" y2="61.9" stroke="#333" stroke-width="0.45"/>
<rect x="643.2" y="56.5" width="4.4" height="3.9" fill="#5b8fd3" stroke="#333" stroke-width="0.4"/>
<line x1="643.2" y1="58.4" x2="647.6" y2="58.4" stroke="#222" stroke-width="0.6"/>
<text x="651.6" y="60.3" font-size="5.8" fill="#161616" stroke="#161616" stroke-width="0.22">DUP</text>
<rect x="642.2" y="62.2" width="6.4" height="7.5" fill="#4db56a" stroke="#666" stroke-width="0.45"/>
<line x1="645.4" y1="62.5" x2="645.4" y2="69.4" stroke="#333" stroke-width="0.45"/>
<rect x="643.2" y="64.0" width="4.4" height="3.9" fill="#4db56a" stroke="#333" stroke-width="0.4"/>
<line x1="643.2" y1="65.9" x2="647.6" y2="65.9" stroke="#222" stroke-width="0.6"/>
<text x="651.6" y="67.8" font-size="5.8" fill="#161616" stroke="#161616" stroke-width="0.22">INS</text>
<rect x="642.2" y="69.6" width="6.4" height="7.5" fill="#f2d63b" stroke="#666" stroke-width="0.45"/>
<line x1="645.4" y1="69.9" x2="645.4" y2="76.8" stroke="#333" stroke-width="0.45"/>
<rect x="643.2" y="71.4" width="4.4" height="3.9" fill="#f2d63b" stroke="#333" stroke-width="0.4"/>
<line x1="643.2" y1="73.4" x2="647.6" y2="73.4" stroke="#222" stroke-width="0.6"/>
<text x="651.6" y="75.2" font-size="5.8" fill="#161616" stroke="#161616" stroke-width="0.22">INV</text>
<rect x="642.2" y="77.1" width="6.4" height="7.5" fill="#9b4f9b" stroke="#666" stroke-width="0.45"/>
<line x1="645.4" y1="77.4" x2="645.4" y2="84.3" stroke="#333" stroke-width="0.45"/>
<rect x="643.2" y="78.9" width="4.4" height="3.9" fill="#9b4f9b" stroke="#333" stroke-width="0.4"/>
<line x1="643.2" y1="80.9" x2="647.6" y2="80.9" stroke="#222" stroke-width="0.6"/>
<text x="651.6" y="82.7" font-size="5.8" fill="#161616" stroke="#161616" stroke-width="0.22">TRA</text>
<text x="367" y="159.5" font-size="12" font-weight="bold" fill="#161616" stroke="#161616" stroke-width="0.22">d</text>
<text x="399.4" y="278.3" font-size="6.2" text-anchor="end" fill="#4d4d4d" stroke="#4d4d4d" stroke-width="0.08">0</text>
<text x="399.4" y="250.8" font-size="6.2" text-anchor="end" fill="#4d4d4d" stroke="#4d4d4d" stroke-width="0.08">500</text>
<text x="399.4" y="223.3" font-size="6.2" text-anchor="end" fill="#4d4d4d" stroke="#4d4d4d" stroke-width="0.08">1000</text>
<text x="399.4" y="195.7" font-size="6.2" text-anchor="end" fill="#4d4d4d" stroke="#4d4d4d" stroke-width="0.08">1500</text>
<text x="399.4" y="168.2" font-size="6.2" text-anchor="end" fill="#4d4d4d" stroke="#4d4d4d" stroke-width="0.08">2000</text>
<text x="399.4" y="140.7" font-size="6.2" text-anchor="end" fill="#4d4d4d" stroke="#4d4d4d" stroke-width="0.08">2500</text>
<rect x="400.70" y="135" width="12.2" height="141.9" fill="#595959"/>
<rect x="414.55" y="144" width="12.2" height="132.9" fill="#595959"/>
<rect x="428.40" y="221.2" width="12.2" height="55.7" fill="#595959"/>
<rect x="442.25" y="227.5" width="12.2" height="49.4" fill="#595959"/>
<rect x="456.10" y="247.2" width="12.2" height="29.7" fill="#595959"/>
<rect x="469.95" y="252.9" width="12.2" height="24.0" fill="#595959"/>
<rect x="483.80" y="262.9" width="12.2" height="14.0" fill="#595959"/>
<rect x="497.65" y="264.7" width="12.2" height="12.2" fill="#595959"/>
<rect x="511.50" y="264.7" width="12.2" height="12.2" fill="#595959"/>
<rect x="525.35" y="269" width="12.2" height="7.9" fill="#595959"/>
<rect x="539.20" y="269.7" width="12.2" height="7.2" fill="#595959"/>
<rect x="553.05" y="270" width="12.2" height="6.9" fill="#595959"/>
<rect x="566.90" y="271.1" width="12.2" height="5.8" fill="#595959"/>
<rect x="580.75" y="272.6" width="12.2" height="4.3" fill="#595959"/>
<rect x="594.60" y="274.3" width="12.2" height="2.6" fill="#595959"/>
<rect x="608.45" y="275" width="12.2" height="1.9" fill="#595959"/>
<rect x="622.30" y="275" width="12.2" height="1.9" fill="#595959"/>
<rect x="636.15" y="275.4" width="12.2" height="1.5" fill="#595959"/>
<rect x="650.00" y="275.8" width="12.2" height="1.1" fill="#595959"/>
<rect x="663.85" y="276.1" width="12.2" height="0.8" fill="#595959"/>
<rect x="398.7" y="287.0" width="279" height="6.4" fill="#efefef"/>
<text x="396.8" y="292.3" font-size="6" text-anchor="end" fill="#4d4d4d" stroke="#4d4d4d" stroke-width="0.08">genic</text>
<text x="396.8" y="298.7" font-size="6" text-anchor="end" fill="#4d4d4d" stroke="#4d4d4d" stroke-width="0.08">Intron</text>
<rect x="398.7" y="299.8" width="279" height="6.4" fill="#efefef"/>
<text x="396.8" y="305.1" font-size="6" text-anchor="end" fill="#4d4d4d" stroke="#4d4d4d" stroke-width="0.08">Exon</text>
<text x="396.8" y="311.5" font-size="6" text-anchor="end" fill="#4d4d4d" stroke="#4d4d4d" stroke-width="0.08">Intergenic</text>
<rect x="398.7" y="312.6" width="279" height="6.4" fill="#efefef"/>
<text x="396.8" y="317.9" font-size="6" text-anchor="end" fill="#4d4d4d" stroke="#4d4d4d" stroke-width="0.08">distal_intergenic</text>
<text x="396.8" y="324.3" font-size="6" text-anchor="end" fill="#4d4d4d" stroke="#4d4d4d" stroke-width="0.08">Promoter</text>
<rect x="398.7" y="325.4" width="279" height="6.4" fill="#efefef"/>
<text x="396.8" y="330.7" font-size="6" text-anchor="end" fill="#4d4d4d" stroke="#4d4d4d" stroke-width="0.08">threeUTR</text>
<text x="396.8" y="337.1" font-size="6" text-anchor="end" fill="#4d4d4d" stroke="#4d4d4d" stroke-width="0.08">fiveUTR</text>
<rect x="398.7" y="338.2" width="279" height="6.4" fill="#efefef"/>
<text x="396.8" y="343.5" font-size="6" text-anchor="end" fill="#4d4d4d" stroke="#4d4d4d" stroke-width="0.08">downstream</text>
<circle cx="406.80" cy="290.2" r="1.75" fill="#d6d6d6"/>
<circle cx="406.80" cy="296.6" r="1.75" fill="#d6d6d6"/>
<circle cx="406.80" cy="303.0" r="1.75" fill="#d6d6d6"/>
<circle cx="406.80" cy="322.2" r="1.75" fill="#d6d6d6"/>
<circle cx="406.80" cy="328.6" r="1.75" fill="#d6d6d6"/>
<circle cx="406.80" cy="335.0" r="1.75" fill="#d6d6d6"/>
<circle cx="406.80" cy="341.4" r="1.75" fill="#d6d6d6"/>
<line x1="406.80" y1="309.4" x2="406.80" y2="315.8" stroke="#111" stroke-width="1.1"/>
<circle cx="406.80" cy="309.4" r="2.05" fill="#111"/>
<circle cx="406.80" cy="315.8" r="2.05" fill="#111"/>
<circle cx="420.65" cy="303.0" r="1.75" fill="#d6d6d6"/>
<circle cx="420.65" cy="309.4" r="1.75" fill="#d6d6d6"/>
<circle cx="420.65" cy="315.8" r="1.75" fill="#d6d6d6"/>
<circle cx="420.65" cy="322.2" r="1.75" fill="#d6d6d6"/>
<circle cx="420.65" cy="328.6" r="1.75" fill="#d6d6d6"/>
<circle cx="420.65" cy="335.0" r="1.75" fill="#d6d6d6"/>
<circle cx="420.65" cy="341.4" r="1.75" fill="#d6d6d6"/>
<line x1="420.65" y1="290.2" x2="420.65" y2="296.6" stroke="#111" stroke-width="1.1"/>
<circle cx="420.65" cy="290.2" r="2.05" fill="#111"/>
<circle cx="420.65" cy="296.6" r="2.05" fill="#111"/>
<circle cx="434.50" cy="296.6" r="1.75" fill="#d6d6d6"/>
<circle cx="434.50" cy="309.4" r="1.75" fill="#d6d6d6"/>
<circle cx="434.50" cy="315.8" r="1.75" fill="#d6d6d6"/>
<circle cx="434.50" cy="322.2" r="1.75" fill="#d6d6d6"/>
<circle cx="434.50" cy="328.6" r="1.75" fill="#d6d6d6"/>
<circle cx="434.50" cy="335.0" r="1.75" fill="#d6d6d6"/>
<circle cx="434.50" cy="341.4" r="1.75" fill="#d6d6d6"/>
<line x1="434.50" y1="290.2" x2="434.50" y2="303.0" stroke="#111" stroke-width="1.1"/>
<circle cx="434.50" cy="290.2" r="2.05" fill="#111"/>
<circle cx="434.50" cy="303.0" r="2.05" fill="#111"/>
<circle cx="448.35" cy="309.4" r="1.75" fill="#d6d6d6"/>
<circle cx="448.35" cy="315.8" r="1.75" fill="#d6d6d6"/>
<circle cx="448.35" cy="322.2" r="1.75" fill="#d6d6d6"/>
<circle cx="448.35" cy="328.6" r="1.75" fill="#d6d6d6"/>
<circle cx="448.35" cy="335.0" r="1.75" fill="#d6d6d6"/>
<circle cx="448.35" cy="341.4" r="1.75" fill="#d6d6d6"/>
<line x1="448.35" y1="290.2" x2="448.35" y2="303.0" stroke="#111" stroke-width="1.1"/>
<circle cx="448.35" cy="290.2" r="2.05" fill="#111"/>
<circle cx="448.35" cy="296.6" r="2.05" fill="#111"/>
<circle cx="448.35" cy="303.0" r="2.05" fill="#111"/>
<circle cx="462.20" cy="296.6" r="1.75" fill="#d6d6d6"/>
<circle cx="462.20" cy="309.4" r="1.75" fill="#d6d6d6"/>
<circle cx="462.20" cy="315.8" r="1.75" fill="#d6d6d6"/>
<circle cx="462.20" cy="328.6" r="1.75" fill="#d6d6d6"/>
<circle cx="462.20" cy="335.0" r="1.75" fill="#d6d6d6"/>
<circle cx="462.20" cy="341.4" r="1.75" fill="#d6d6d6"/>
<line x1="462.20" y1="290.2" x2="462.20" y2="322.2" stroke="#111" stroke-width="1.1"/>
<circle cx="462.20" cy="290.2" r="2.05" fill="#111"/>
<circle cx="462.20" cy="303.0" r="2.05" fill="#111"/>
<circle cx="462.20" cy="322.2" r="2.05" fill="#111"/>
<circle cx="476.05" cy="309.4" r="1.75" fill="#d6d6d6"/>
<circle cx="476.05" cy="315.8" r="1.75" fill="#d6d6d6"/>
<circle cx="476.05" cy="328.6" r="1.75" fill="#d6d6d6"/>
<circle cx="476.05" cy="335.0" r="1.75" fill="#d6d6d6"/>
<circle cx="476.05" cy="341.4" r="1.75" fill="#d6d6d6"/>
<line x1="476.05" y1="290.2" x2="476.05" y2="322.2" stroke="#111" stroke-width="1.1"/>
<circle cx="476.05" cy="290.2" r="2.05" fill="#111"/>
<circle cx="476.05" cy="296.6" r="2.05" fill="#111"/>
<circle cx="476.05" cy="303.0" r="2.05" fill="#111"/>
<circle cx="476.05" cy="322.2" r="2.05" fill="#111"/>
<circle cx="489.90" cy="296.6" r="1.75" fill="#d6d6d6"/>
<circle cx="489.90" cy="309.4" r="1.75" fill="#d6d6d6"/>
<circle cx="489.90" cy="315.8" r="1.75" fill="#d6d6d6"/>
<circle cx="489.90" cy="322.2" r="1.75" fill="#d6d6d6"/>
<circle cx="489.90" cy="335.0" r="1.75" fill="#d6d6d6"/>
<circle cx="489.90" cy="341.4" r="1.75" fill="#d6d6d6"/>
<line x1="489.90" y1="290.2" x2="489.90" y2="328.6" stroke="#111" stroke-width="1.1"/>
<circle cx="489.90" cy="290.2" r="2.05" fill="#111"/>
<circle cx="489.90" cy="303.0" r="2.05" fill="#111"/>
<circle cx="489.90" cy="328.6" r="2.05" fill="#111"/>
<circle cx="503.75" cy="303.0" r="1.75" fill="#d6d6d6"/>
<circle cx="503.75" cy="309.4" r="1.75" fill="#d6d6d6"/>
<circle cx="503.75" cy="315.8" r="1.75" fill="#d6d6d6"/>
<circle cx="503.75" cy="328.6" r="1.75" fill="#d6d6d6"/>
<circle cx="503.75" cy="335.0" r="1.75" fill="#d6d6d6"/>
<circle cx="503.75" cy="341.4" r="1.75" fill="#d6d6d6"/>
<line x1="503.75" y1="290.2" x2="503.75" y2="322.2" stroke="#111" stroke-width="1.1"/>
<circle cx="503.75" cy="290.2" r="2.05" fill="#111"/>
<circle cx="503.75" cy="296.6" r="2.05" fill="#111"/>
<circle cx="503.75" cy="322.2" r="2.05" fill="#111"/>
<circle cx="517.60" cy="290.2" r="1.75" fill="#d6d6d6"/>
<circle cx="517.60" cy="296.6" r="1.75" fill="#d6d6d6"/>
<circle cx="517.60" cy="303.0" r="1.75" fill="#d6d6d6"/>
<circle cx="517.60" cy="315.8" r="1.75" fill="#d6d6d6"/>
<circle cx="517.60" cy="328.6" r="1.75" fill="#d6d6d6"/>
<circle cx="517.60" cy="335.0" r="1.75" fill="#d6d6d6"/>
<circle cx="517.60" cy="341.4" r="1.75" fill="#d6d6d6"/>
<line x1="517.60" y1="309.4" x2="517.60" y2="322.2" stroke="#111" stroke-width="1.1"/>
<circle cx="517.60" cy="309.4" r="2.05" fill="#111"/>
<circle cx="517.60" cy="322.2" r="2.05" fill="#111"/>
<circle cx="531.45" cy="309.4" r="1.75" fill="#d6d6d6"/>
<circle cx="531.45" cy="315.8" r="1.75" fill="#d6d6d6"/>
<circle cx="531.45" cy="322.2" r="1.75" fill="#d6d6d6"/>
<circle cx="531.45" cy="335.0" r="1.75" fill="#d6d6d6"/>
<circle cx="531.45" cy="341.4" r="1.75" fill="#d6d6d6"/>
<line x1="531.45" y1="290.2" x2="531.45" y2="328.6" stroke="#111" stroke-width="1.1"/>
<circle cx="531.45" cy="290.2" r="2.05" fill="#111"/>
<circle cx="531.45" cy="296.6" r="2.05" fill="#111"/>
<circle cx="531.45" cy="303.0" r="2.05" fill="#111"/>
<circle cx="531.45" cy="328.6" r="2.05" fill="#111"/>
<circle cx="545.30" cy="309.4" r="1.75" fill="#d6d6d6"/>
<circle cx="545.30" cy="315.8" r="1.75" fill="#d6d6d6"/>
<circle cx="545.30" cy="328.6" r="1.75" fill="#d6d6d6"/>
<circle cx="545.30" cy="341.4" r="1.75" fill="#d6d6d6"/>
<line x1="545.30" y1="290.2" x2="545.30" y2="335.0" stroke="#111" stroke-width="1.1"/>
<circle cx="545.30" cy="290.2" r="2.05" fill="#111"/>
<circle cx="545.30" cy="296.6" r="2.05" fill="#111"/>
<circle cx="545.30" cy="303.0" r="2.05" fill="#111"/>
<circle cx="545.30" cy="322.2" r="2.05" fill="#111"/>
<circle cx="545.30" cy="335.0" r="2.05" fill="#111"/>
<circle cx="559.15" cy="296.6" r="1.75" fill="#d6d6d6"/>
<circle cx="559.15" cy="309.4" r="1.75" fill="#d6d6d6"/>
<circle cx="559.15" cy="315.8" r="1.75" fill="#d6d6d6"/>
<circle cx="559.15" cy="335.0" r="1.75" fill="#d6d6d6"/>
<circle cx="559.15" cy="341.4" r="1.75" fill="#d6d6d6"/>
<line x1="559.15" y1="290.2" x2="559.15" y2="328.6" stroke="#111" stroke-width="1.1"/>
<circle cx="559.15" cy="290.2" r="2.05" fill="#111"/>
<circle cx="559.15" cy="303.0" r="2.05" fill="#111"/>
<circle cx="559.15" cy="322.2" r="2.05" fill="#111"/>
<circle cx="559.15" cy="328.6" r="2.05" fill="#111"/>
<circle cx="573.00" cy="296.6" r="1.75" fill="#d6d6d6"/>
<circle cx="573.00" cy="309.4" r="1.75" fill="#d6d6d6"/>
<circle cx="573.00" cy="315.8" r="1.75" fill="#d6d6d6"/>
<circle cx="573.00" cy="328.6" r="1.75" fill="#d6d6d6"/>
<circle cx="573.00" cy="341.4" r="1.75" fill="#d6d6d6"/>
<line x1="573.00" y1="290.2" x2="573.00" y2="335.0" stroke="#111" stroke-width="1.1"/>
<circle cx="573.00" cy="290.2" r="2.05" fill="#111"/>
<circle cx="573.00" cy="303.0" r="2.05" fill="#111"/>
<circle cx="573.00" cy="322.2" r="2.05" fill="#111"/>
<circle cx="573.00" cy="335.0" r="2.05" fill="#111"/>
<circle cx="586.85" cy="309.4" r="1.75" fill="#d6d6d6"/>
<circle cx="586.85" cy="315.8" r="1.75" fill="#d6d6d6"/>
<circle cx="586.85" cy="335.0" r="1.75" fill="#d6d6d6"/>
<circle cx="586.85" cy="341.4" r="1.75" fill="#d6d6d6"/>
<line x1="586.85" y1="290.2" x2="586.85" y2="328.6" stroke="#111" stroke-width="1.1"/>
<circle cx="586.85" cy="290.2" r="2.05" fill="#111"/>
<circle cx="586.85" cy="296.6" r="2.05" fill="#111"/>
<circle cx="586.85" cy="303.0" r="2.05" fill="#111"/>
<circle cx="586.85" cy="322.2" r="2.05" fill="#111"/>
<circle cx="586.85" cy="328.6" r="2.05" fill="#111"/>
<circle cx="600.70" cy="309.4" r="1.75" fill="#d6d6d6"/>
<circle cx="600.70" cy="315.8" r="1.75" fill="#d6d6d6"/>
<circle cx="600.70" cy="322.2" r="1.75" fill="#d6d6d6"/>
<circle cx="600.70" cy="328.6" r="1.75" fill="#d6d6d6"/>
<circle cx="600.70" cy="341.4" r="1.75" fill="#d6d6d6"/>
<line x1="600.70" y1="290.2" x2="600.70" y2="335.0" stroke="#111" stroke-width="1.1"/>
<circle cx="600.70" cy="290.2" r="2.05" fill="#111"/>
<circle cx="600.70" cy="296.6" r="2.05" fill="#111"/>
<circle cx="600.70" cy="303.0" r="2.05" fill="#111"/>
<circle cx="600.70" cy="335.0" r="2.05" fill="#111"/>
<circle cx="614.55" cy="296.6" r="1.75" fill="#d6d6d6"/>
<circle cx="614.55" cy="309.4" r="1.75" fill="#d6d6d6"/>
<circle cx="614.55" cy="315.8" r="1.75" fill="#d6d6d6"/>
<circle cx="614.55" cy="328.6" r="1.75" fill="#d6d6d6"/>
<circle cx="614.55" cy="335.0" r="1.75" fill="#d6d6d6"/>
<line x1="614.55" y1="290.2" x2="614.55" y2="341.4" stroke="#111" stroke-width="1.1"/>
<circle cx="614.55" cy="290.2" r="2.05" fill="#111"/>
<circle cx="614.55" cy="303.0" r="2.05" fill="#111"/>
<circle cx="614.55" cy="322.2" r="2.05" fill="#111"/>
<circle cx="614.55" cy="341.4" r="2.05" fill="#111"/>
<circle cx="628.40" cy="296.6" r="1.75" fill="#d6d6d6"/>
<circle cx="628.40" cy="309.4" r="1.75" fill="#d6d6d6"/>
<circle cx="628.40" cy="315.8" r="1.75" fill="#d6d6d6"/>
<circle cx="628.40" cy="322.2" r="1.75" fill="#d6d6d6"/>
<circle cx="628.40" cy="335.0" r="1.75" fill="#d6d6d6"/>
<line x1="628.40" y1="290.2" x2="628.40" y2="341.4" stroke="#111" stroke-width="1.1"/>
<circle cx="628.40" cy="290.2" r="2.05" fill="#111"/>
<circle cx="628.40" cy="303.0" r="2.05" fill="#111"/>
<circle cx="628.40" cy="328.6" r="2.05" fill="#111"/>
<circle cx="628.40" cy="341.4" r="2.05" fill="#111"/>
<circle cx="642.25" cy="290.2" r="1.75" fill="#d6d6d6"/>
<circle cx="642.25" cy="296.6" r="1.75" fill="#d6d6d6"/>
<circle cx="642.25" cy="303.0" r="1.75" fill="#d6d6d6"/>
<circle cx="642.25" cy="315.8" r="1.75" fill="#d6d6d6"/>
<circle cx="642.25" cy="322.2" r="1.75" fill="#d6d6d6"/>
<circle cx="642.25" cy="328.6" r="1.75" fill="#d6d6d6"/>
<circle cx="642.25" cy="335.0" r="1.75" fill="#d6d6d6"/>
<line x1="642.25" y1="309.4" x2="642.25" y2="341.4" stroke="#111" stroke-width="1.1"/>
<circle cx="642.25" cy="309.4" r="2.05" fill="#111"/>
<circle cx="642.25" cy="341.4" r="2.05" fill="#111"/>
<circle cx="656.10" cy="296.6" r="1.75" fill="#d6d6d6"/>
<circle cx="656.10" cy="309.4" r="1.75" fill="#d6d6d6"/>
<circle cx="656.10" cy="315.8" r="1.75" fill="#d6d6d6"/>
<circle cx="656.10" cy="322.2" r="1.75" fill="#d6d6d6"/>
<circle cx="656.10" cy="328.6" r="1.75" fill="#d6d6d6"/>
<circle cx="656.10" cy="335.0" r="1.75" fill="#d6d6d6"/>
<line x1="656.10" y1="290.2" x2="656.10" y2="341.4" stroke="#111" stroke-width="1.1"/>
<circle cx="656.10" cy="290.2" r="2.05" fill="#111"/>
<circle cx="656.10" cy="303.0" r="2.05" fill="#111"/>
<circle cx="656.10" cy="341.4" r="2.05" fill="#111"/>
<circle cx="669.95" cy="296.6" r="1.75" fill="#d6d6d6"/>
<circle cx="669.95" cy="309.4" r="1.75" fill="#d6d6d6"/>
<circle cx="669.95" cy="315.8" r="1.75" fill="#d6d6d6"/>
<circle cx="669.95" cy="322.2" r="1.75" fill="#d6d6d6"/>
<circle cx="669.95" cy="328.6" r="1.75" fill="#d6d6d6"/>
<circle cx="669.95" cy="341.4" r="1.75" fill="#d6d6d6"/>
<line x1="669.95" y1="290.2" x2="669.95" y2="335.0" stroke="#111" stroke-width="1.1"/>
<circle cx="669.95" cy="290.2" r="2.05" fill="#111"/>
<circle cx="669.95" cy="303.0" r="2.05" fill="#111"/>
<circle cx="669.95" cy="335.0" r="2.05" fill="#111"/>
<text x="488.8" y="159.5" font-size="12" font-weight="bold" fill="#161616" stroke="#161616" stroke-width="0.22">e</text>
<path d="M544.3,205.2 L586.80,205.20 A42.5,42.5 0 0 0 553.82,163.78 Z" fill="#9ecae1" stroke="#333" stroke-width="0.5"/>
<path d="M544.3,205.2 L553.82,163.78 A42.5,42.5 0 0 0 551.59,163.33 Z" fill="#2166ac" stroke="#333" stroke-width="0.5"/>
<path d="M544.3,205.2 L551.59,163.33 A42.5,42.5 0 0 0 538.93,163.04 Z" fill="#a6dba0" stroke="#333" stroke-width="0.5"/>
<path d="M544.3,205.2 L538.93,163.04 A42.5,42.5 0 0 0 537.03,163.33 Z" fill="#33a02c" stroke="#333" stroke-width="0.5"/>
<path d="M544.3,205.2 L537.03,163.33 A42.5,42.5 0 0 0 502.36,198.32 Z" fill="#f4999a" stroke="#333" stroke-width="0.5"/>
<path d="M544.3,205.2 L502.36,198.32 A42.5,42.5 0 0 0 503.79,218.05 Z" fill="#d7262b" stroke="#333" stroke-width="0.5"/>
<path d="M544.3,205.2 L503.79,218.05 A42.5,42.5 0 0 0 538.14,247.25 Z" fill="#fdb46c" stroke="#333" stroke-width="0.5"/>
<path d="M544.3,205.2 L538.14,247.25 A42.5,42.5 0 0 0 539.12,247.38 Z" fill="#f57f20" stroke="#333" stroke-width="0.5"/>
<path d="M544.3,205.2 L539.12,247.38 A42.5,42.5 0 0 0 586.80,205.20 Z" fill="#c2a5cf" stroke="#333" stroke-width="0.5"/>
<rect x="591.3" y="174.1" width="4.8" height="4.8" fill="#9ecae1" stroke="#777" stroke-width="0.3"/>
<text x="602" y="178.5" font-size="5.9" fill="#161616" stroke="#161616" stroke-width="0.22">Promoter (21.41%)</text>
<rect x="591.3" y="181.6" width="4.8" height="4.8" fill="#2166ac" stroke="#777" stroke-width="0.3"/>
<text x="602" y="186.0" font-size="5.9" fill="#161616" stroke="#161616" stroke-width="0.22">5' UTR (0.85%)</text>
<rect x="591.3" y="189.1" width="4.8" height="4.8" fill="#a6dba0" stroke="#777" stroke-width="0.3"/>
<text x="602" y="193.5" font-size="5.9" fill="#161616" stroke="#161616" stroke-width="0.22">3' UTR (4.76%)</text>
<rect x="591.3" y="196.7" width="4.8" height="4.8" fill="#33a02c" stroke="#777" stroke-width="0.3"/>
<text x="602" y="201.1" font-size="5.9" fill="#161616" stroke="#161616" stroke-width="0.22">1st Exon (0.72%)</text>
<rect x="591.3" y="204.2" width="4.8" height="4.8" fill="#f4999a" stroke="#777" stroke-width="0.3"/>
<text x="602" y="208.6" font-size="5.9" fill="#161616" stroke="#161616" stroke-width="0.22">Other Exon (19.68%)</text>
<rect x="591.3" y="211.7" width="4.8" height="4.8" fill="#d7262b" stroke="#777" stroke-width="0.3"/>
<text x="602" y="216.1" font-size="5.9" fill="#161616" stroke="#161616" stroke-width="0.22">1st Intron (7.48%)</text>
<rect x="591.3" y="219.2" width="4.8" height="4.8" fill="#fdb46c" stroke="#777" stroke-width="0.3"/>
<text x="602" y="223.6" font-size="5.9" fill="#161616" stroke="#161616" stroke-width="0.22">Other Intron (17.8%)</text>
<rect x="591.3" y="226.7" width="4.8" height="4.8" fill="#f57f20" stroke="#777" stroke-width="0.3"/>
<text x="602" y="231.1" font-size="5.9" fill="#161616" stroke="#161616" stroke-width="0.22">Downstream (&lt;=300) (0.37%)</text>
<rect x="591.3" y="234.3" width="4.8" height="4.8" fill="#c2a5cf" stroke="#777" stroke-width="0.3"/>
<text x="602" y="238.7" font-size="5.9" fill="#161616" stroke="#161616" stroke-width="0.22">Distal Intergenic (26.95%)</text>
<text x="3.8" y="346.8" font-size="12" font-weight="bold" fill="#161616" stroke="#161616" stroke-width="0.22">b</text>
<text x="30.9" y="363" font-size="7.6" text-anchor="middle" fill="#161616" stroke="#161616" stroke-width="0.22">0 Mb</text>
<line x1="32.8" y1="367" x2="32.8" y2="372.4" stroke="#666" stroke-width="0.7"/>
<text x="95.3" y="363" font-size="7.6" text-anchor="middle" fill="#161616" stroke="#161616" stroke-width="0.22">3 Mb</text>
<line x1="97.2" y1="367" x2="97.2" y2="372.4" stroke="#666" stroke-width="0.7"/>
<text x="159.7" y="363" font-size="7.6" text-anchor="middle" fill="#161616" stroke="#161616" stroke-width="0.22">6 Mb</text>
<line x1="161.6" y1="367" x2="161.6" y2="372.4" stroke="#666" stroke-width="0.7"/>
<text x="224.1" y="363" font-size="7.6" text-anchor="middle" fill="#161616" stroke="#161616" stroke-width="0.22">9 Mb</text>
<line x1="226.0" y1="367" x2="226.0" y2="372.4" stroke="#666" stroke-width="0.7"/>
<text x="288.5" y="363" font-size="7.6" text-anchor="middle" fill="#161616" stroke="#161616" stroke-width="0.22">12 Mb</text>
<line x1="290.4" y1="367" x2="290.4" y2="372.4" stroke="#666" stroke-width="0.7"/>
<text x="352.9" y="363" font-size="7.6" text-anchor="middle" fill="#161616" stroke="#161616" stroke-width="0.22">16 Mb</text>
<line x1="354.8" y1="367" x2="354.8" y2="372.4" stroke="#666" stroke-width="0.7"/>
<text x="417.2" y="363" font-size="7.6" text-anchor="middle" fill="#161616" stroke="#161616" stroke-width="0.22">19 Mb</text>
<line x1="419.1" y1="367" x2="419.1" y2="372.4" stroke="#666" stroke-width="0.7"/>
<text x="481.6" y="363" font-size="7.6" text-anchor="middle" fill="#161616" stroke="#161616" stroke-width="0.22">22 Mb</text>
<line x1="483.5" y1="367" x2="483.5" y2="372.4" stroke="#666" stroke-width="0.7"/>
<text x="546.0" y="363" font-size="7.6" text-anchor="middle" fill="#161616" stroke="#161616" stroke-width="0.22">25 Mb</text>
<line x1="547.9" y1="367" x2="547.9" y2="372.4" stroke="#666" stroke-width="0.7"/>
<text x="610.4" y="363" font-size="7.6" text-anchor="middle" fill="#161616" stroke="#161616" stroke-width="0.22">28 Mb</text>
<line x1="612.3" y1="367" x2="612.3" y2="372.4" stroke="#666" stroke-width="0.7"/>
<text x="674.8" y="363" font-size="7.6" text-anchor="middle" fill="#161616" stroke="#161616" stroke-width="0.22">32 Mb</text>
<line x1="676.7" y1="367" x2="676.7" y2="372.4" stroke="#666" stroke-width="0.7"/>
<line x1="32.3" y1="366.8" x2="677" y2="366.8" stroke="#2e7f36" stroke-width="1.8"/>
<text x="1.3" y="386.0" font-size="7.8" fill="#161616" stroke="#161616" stroke-width="0.22">Chr4</text>
<g clip-path="url(#cp0)">
<rect x="32.3" y="376.2" width="1.0" height="12.2" fill="#7fc97f" opacity="0.96"/>
<rect x="33.0" y="376.2" width="1.3" height="12.2" fill="#beaed4" opacity="0.88"/>
<rect x="33.7" y="376.2" width="0.8" height="12.2" fill="#7fc97f" opacity="0.86"/>
<rect x="34.2" y="376.2" width="1.0" height="12.2" fill="#386cb0" opacity="0.76"/>
<rect x="34.9" y="376.2" width="1.3" height="12.2" fill="#7fc97f" opacity="0.71"/>
<rect x="35.6" y="376.2" width="1.0" height="12.2" fill="#7fc97f" opacity="0.88"/>
<rect x="36.3" y="376.2" width="1.6" height="12.2" fill="#7fc97f" opacity="0.70"/>
<rect x="36.8" y="376.2" width="0.8" height="12.2" fill="#7fc97f" opacity="0.87"/>
<rect x="37.3" y="376.2" width="0.8" height="12.2" fill="#fdc086" opacity="0.85"/>
<rect x="37.8" y="376.2" width="0.4" height="12.2" fill="#7fc97f" opacity="0.95"/>
<rect x="38.9" y="376.2" width="0.4" height="12.2" fill="#fdc086" opacity="0.70"/>
<rect x="39.6" y="376.2" width="0.4" height="12.2" fill="#7fc97f" opacity="0.99"/>
<rect x="40.7" y="376.2" width="1.3" height="12.2" fill="#fdc086" opacity="0.93"/>
<rect x="41.6" y="376.2" width="0.8" height="12.2" fill="#7fc97f" opacity="0.99"/>
<rect x="42.1" y="376.2" width="1.6" height="12.2" fill="#7fc97f" opacity="0.72"/>
<rect x="43.2" y="376.2" width="1.3" height="12.2" fill="#7fc97f" opacity="0.85"/>
<rect x="43.9" y="376.2" width="1.0" height="12.2" fill="#7fc97f" opacity="0.83"/>
<rect x="44.6" y="376.2" width="1.3" height="12.2" fill="#7fc97f" opacity="0.97"/>
<rect x="45.3" y="376.2" width="1.3" height="12.2" fill="#fdc086" opacity="0.73"/>
<rect x="46.0" y="376.2" width="0.8" height="12.2" fill="#fdc086" opacity="0.82"/>
<rect x="46.5" y="376.2" width="1.3" height="12.2" fill="#fdc086" opacity="0.70"/>
<rect x="47.4" y="376.2" width="1.0" height="12.2" fill="#7fc97f" opacity="0.88"/>
<rect x="48.1" y="376.2" width="0.6" height="12.2" fill="#fdc086" opacity="0.79"/>
<rect x="48.8" y="376.2" width="0.6" height="12.2" fill="#fdc086" opacity="0.75"/>
<rect x="49.5" y="376.2" width="1.0" height="12.2" fill="#fdc086" opacity="0.88"/>
<rect x="50.6" y="376.2" width="0.4" height="12.2" fill="#7fc97f" opacity="0.99"/>
<rect x="51.3" y="376.2" width="1.0" height="12.2" fill="#7fc97f" opacity="0.95"/>
<rect x="52.4" y="376.2" width="0.6" height="12.2" fill="#386cb0" opacity="0.84"/>
<rect x="53.1" y="376.2" width="1.3" height="12.2" fill="#fdc086" opacity="0.88"/>
<rect x="53.6" y="376.2" width="0.6" height="12.2" fill="#fdc086" opacity="0.72"/>
<rect x="54.7" y="376.2" width="0.8" height="12.2" fill="#fdc086" opacity="0.99"/>
<rect x="55.2" y="376.2" width="1.0" height="12.2" fill="#386cb0" opacity="0.76"/>
<rect x="55.9" y="376.2" width="0.4" height="12.2" fill="#beaed4" opacity="0.81"/>
<rect x="57.3" y="376.2" width="0.4" height="12.2" fill="#beaed4" opacity="0.92"/>
<rect x="58.2" y="376.2" width="0.4" height="12.2" fill="#7fc97f" opacity="0.86"/>
<rect x="60.3" y="376.2" width="1.6" height="12.2" fill="#beaed4" opacity="0.72"/>
</g>
<rect x="26.3" y="376.2" width="40.2" height="12.2" rx="6.1" fill="none" stroke="#222" stroke-width="1.3"/>
<text x="1.3" y="401.2" font-size="7.8" fill="#161616" stroke="#161616" stroke-width="0.22">Chr2L</text>
<g clip-path="url(#cp1)">
<rect x="32.3" y="391.4" width="0.4" height="12.2" fill="#fdc086" opacity="0.81"/>
<rect x="33.3" y="391.4" width="0.4" height="12.2" fill="#386cb0" opacity="0.82"/>
<rect x="34.2" y="391.4" width="1.6" height="12.2" fill="#fdc086" opacity="0.84"/>
<rect x="35.8" y="391.4" width="1.3" height="12.2" fill="#7fc97f" opacity="0.88"/>
<rect x="36.9" y="391.4" width="1.6" height="12.2" fill="#7fc97f" opacity="0.93"/>
<rect x="38.0" y="391.4" width="0.4" height="12.2" fill="#7fc97f" opacity="0.74"/>
<rect x="38.7" y="391.4" width="0.8" height="12.2" fill="#fdc086" opacity="0.83"/>
<rect x="39.4" y="391.4" width="1.6" height="12.2" fill="#7fc97f" opacity="0.89"/>
<rect x="41.2" y="391.4" width="0.8" height="12.2" fill="#7fc97f" opacity="0.74"/>
<rect x="44.0" y="391.4" width="0.8" height="12.2" fill="#386cb0" opacity="0.81"/>
<rect x="47.3" y="391.4" width="0.4" height="12.2" fill="#7fc97f" opacity="0.88"/>
<rect x="48.2" y="391.4" width="0.8" height="12.2" fill="#fdc086" opacity="0.87"/>
<rect x="48.9" y="391.4" width="0.6" height="12.2" fill="#7fc97f" opacity="0.95"/>
<rect x="50.6" y="391.4" width="1.6" height="12.2" fill="#fdc086" opacity="0.89"/>
<rect x="52.2" y="391.4" width="1.0" height="12.2" fill="#7fc97f" opacity="0.91"/>
<rect x="53.3" y="391.4" width="0.4" height="12.2" fill="#7fc97f" opacity="0.78"/>
<rect x="54.2" y="391.4" width="1.3" height="12.2" fill="#beaed4" opacity="1.00"/>
<rect x="54.9" y="391.4" width="1.6" height="12.2" fill="#386cb0" opacity="0.62"/>
<rect x="56.0" y="391.4" width="1.0" height="12.2" fill="#7fc97f" opacity="0.97"/>
<rect x="56.5" y="391.4" width="0.8" height="12.2" fill="#7fc97f" opacity="0.90"/>
<rect x="57.2" y="391.4" width="1.6" height="12.2" fill="#386cb0" opacity="0.63"/>
<rect x="57.9" y="391.4" width="0.4" height="12.2" fill="#386cb0" opacity="0.73"/>
<rect x="58.8" y="391.4" width="1.6" height="12.2" fill="#fdc086" opacity="0.80"/>
<rect x="59.3" y="391.4" width="0.8" height="12.2" fill="#fdc086" opacity="0.93"/>
<rect x="60.4" y="391.4" width="0.6" height="12.2" fill="#fdc086" opacity="0.72"/>
<rect x="60.9" y="391.4" width="0.8" height="12.2" fill="#fdc086" opacity="0.97"/>
<rect x="62.0" y="391.4" width="1.3" height="12.2" fill="#ffff99" opacity="0.73"/>
<rect x="64.2" y="391.4" width="1.6" height="12.2" fill="#7fc97f" opacity="0.77"/>
<rect x="65.1" y="391.4" width="1.3" height="12.2" fill="#fdc086" opacity="0.86"/>
<rect x="66.0" y="391.4" width="1.0" height="12.2" fill="#386cb0" opacity="0.82"/>
<rect x="66.7" y="391.4" width="0.6" height="12.2" fill="#386cb0" opacity="0.73"/>
<rect x="67.8" y="391.4" width="1.3" height="12.2" fill="#7fc97f" opacity="0.70"/>
<rect x="68.9" y="391.4" width="1.0" height="12.2" fill="#fdc086" opacity="1.00"/>
<rect x="69.4" y="391.4" width="1.6" height="12.2" fill="#7fc97f" opacity="0.98"/>
<rect x="70.5" y="391.4" width="1.0" height="12.2" fill="#7fc97f" opacity="0.84"/>
<rect x="86.2" y="391.4" width="1.0" height="12.2" fill="#fdc086" opacity="0.73"/>
<rect x="87.3" y="391.4" width="0.8" height="12.2" fill="#7fc97f" opacity="0.93"/>
<rect x="87.8" y="391.4" width="0.6" height="12.2" fill="#7fc97f" opacity="0.91"/>
<rect x="88.7" y="391.4" width="0.6" height="12.2" fill="#fdc086" opacity="0.73"/>
<rect x="89.2" y="391.4" width="1.3" height="12.2" fill="#7fc97f" opacity="0.76"/>
<rect x="90.3" y="391.4" width="1.6" height="12.2" fill="#7fc97f" opacity="0.86"/>
<rect x="91.0" y="391.4" width="1.6" height="12.2" fill="#fdc086" opacity="0.77"/>
<rect x="91.7" y="391.4" width="1.3" height="12.2" fill="#fdc086" opacity="0.74"/>
<rect x="92.6" y="391.4" width="0.8" height="12.2" fill="#fdc086" opacity="0.97"/>
<rect x="93.3" y="391.4" width="0.6" height="12.2" fill="#ffff99" opacity="0.63"/>
<rect x="94.0" y="391.4" width="0.4" height="12.2" fill="#7fc97f" opacity="0.73"/>
<rect x="95.1" y="391.4" width="1.6" height="12.2" fill="#7fc97f" opacity="0.82"/>
<rect x="95.6" y="391.4" width="1.3" height="12.2" fill="#fdc086" opacity="0.97"/>
<rect x="96.5" y="391.4" width="1.3" height="12.2" fill="#fdc086" opacity="0.80"/>
<rect x="97.2" y="391.4" width="1.0" height="12.2" fill="#7fc97f" opacity="0.71"/>
<rect x="98.3" y="391.4" width="0.6" height="12.2" fill="#386cb0" opacity="0.83"/>
<rect x="98.8" y="391.4" width="0.6" height="12.2" fill="#386cb0" opacity="0.72"/>
<rect x="99.3" y="391.4" width="1.0" height="12.2" fill="#7fc97f" opacity="0.81"/>
<rect x="100.0" y="391.4" width="0.4" height="12.2" fill="#fdc086" opacity="0.71"/>
<rect x="100.7" y="391.4" width="1.0" height="12.2" fill="#7fc97f" opacity="0.81"/>
<rect x="101.4" y="391.4" width="0.4" height="12.2" fill="#beaed4" opacity="0.70"/>
<rect x="103.0" y="391.4" width="0.6" height="12.2" fill="#beaed4" opacity="0.99"/>
<rect x="103.9" y="391.4" width="0.4" height="12.2" fill="#fdc086" opacity="0.93"/>
<rect x="105.0" y="391.4" width="0.8" height="12.2" fill="#fdc086" opacity="0.91"/>
<rect x="106.1" y="391.4" width="0.4" height="12.2" fill="#fdc086" opacity="0.79"/>
<rect x="112.6" y="391.4" width="0.8" height="12.2" fill="#386cb0" opacity="0.83"/>
<rect x="113.1" y="391.4" width="1.6" height="12.2" fill="#7fc97f" opacity="0.76"/>
<rect x="114.2" y="391.4" width="1.3" height="12.2" fill="#7fc97f" opacity="0.85"/>
<rect x="115.3" y="391.4" width="1.6" height="12.2" fill="#7fc97f" opacity="0.82"/>
<rect x="115.8" y="391.4" width="0.4" height="12.2" fill="#fdc086" opacity="0.78"/>
<rect x="116.9" y="391.4" width="0.6" height="12.2" fill="#fdc086" opacity="0.70"/>
<rect x="121.8" y="391.4" width="0.8" height="12.2" fill="#fdc086" opacity="0.85"/>
<rect x="122.3" y="391.4" width="1.6" height="12.2" fill="#7fc97f" opacity="0.88"/>
<rect x="122.8" y="391.4" width="0.6" height="12.2" fill="#7fc97f" opacity="0.99"/>
<rect x="123.9" y="391.4" width="1.3" height="12.2" fill="#7fc97f" opacity="0.98"/>
<rect x="125.0" y="391.4" width="1.0" height="12.2" fill="#fdc086" opacity="0.81"/>
<rect x="125.9" y="391.4" width="0.8" height="12.2" fill="#fdc086" opacity="0.79"/>
<rect x="126.8" y="391.4" width="1.6" height="12.2" fill="#7fc97f" opacity="0.93"/>
<rect x="131.4" y="391.4" width="1.3" height="12.2" fill="#386cb0" opacity="0.84"/>
<rect x="132.6" y="391.4" width="1.0" height="12.2" fill="#7fc97f" opacity="0.93"/>
<rect x="133.1" y="391.4" width="1.6" height="12.2" fill="#386cb0" opacity="0.64"/>
<rect x="133.8" y="391.4" width="0.4" height="12.2" fill="#7fc97f" opacity="0.83"/>
<rect x="134.3" y="391.4" width="0.4" height="12.2" fill="#7fc97f" opacity="0.75"/>
<rect x="135.2" y="391.4" width="1.6" height="12.2" fill="#7fc97f" opacity="0.88"/>
<rect x="136.3" y="391.4" width="1.6" height="12.2" fill="#fdc086" opacity="1.00"/>
<rect x="137.2" y="391.4" width="0.8" height="12.2" fill="#fdc086" opacity="0.89"/>
<rect x="138.1" y="391.4" width="1.3" height="12.2" fill="#fdc086" opacity="0.87"/>
<rect x="138.8" y="391.4" width="0.6" height="12.2" fill="#7fc97f" opacity="0.77"/>
<rect x="140.0" y="391.4" width="0.4" height="12.2" fill="#7fc97f" opacity="0.83"/>
<rect x="140.5" y="391.4" width="1.3" height="12.2" fill="#7fc97f" opacity="0.93"/>
<rect x="141.2" y="391.4" width="1.6" height="12.2" fill="#386cb0" opacity="0.72"/>
<rect x="142.1" y="391.4" width="0.8" height="12.2" fill="#beaed4" opacity="0.74"/>
<rect x="148.4" y="391.4" width="1.6" height="12.2" fill="#7fc97f" opacity="0.94"/>
<rect x="149.3" y="391.4" width="1.3" height="12.2" fill="#7fc97f" opacity="0.86"/>
<rect x="150.0" y="391.4" width="0.8" height="12.2" fill="#fdc086" opacity="0.84"/>
<rect x="150.9" y="391.4" width="0.4" height="12.2" fill="#7fc97f" opacity="0.87"/>
<rect x="152.0" y="391.4" width="0.4" height="12.2" fill="#7fc97f" opacity="0.76"/>
<rect x="152.5" y="391.4" width="1.0" height="12.2" fill="#fdc086" opacity="0.91"/>
<rect x="154.1" y="391.4" width="1.6" height="12.2" fill="#7fc97f" opacity="0.97"/>
<rect x="155.0" y="391.4" width="1.3" height="12.2" fill="#fdc086" opacity="0.97"/>
<rect x="155.9" y="391.4" width="0.8" height="12.2" fill="#7fc97f" opacity="0.77"/>
<rect x="156.6" y="391.4" width="0.8" height="12.2" fill="#7fc97f" opacity="0.90"/>
<rect x="157.7" y="391.4" width="1.0" height="12.2" fill="#fdc086" opacity="0.95"/>
<rect x="158.4" y="391.4" width="1.0" height="12.2" fill="#fdc086" opacity="0.78"/>
<rect x="158.9" y="391.4" width="0.4" height="12.2" fill="#fdc086" opacity="0.87"/>
<rect x="159.4" y="391.4" width="1.0" height="12.2" fill="#7fc97f" opacity="0.86"/>
<rect x="159.9" y="391.4" width="0.8" height="12.2" fill="#fdc086" opacity="0.97"/>
<rect x="160.4" y="391.4" width="1.6" height="12.2" fill="#7fc97f" opacity="0.92"/>
<rect x="161.5" y="391.4" width="0.6" height="12.2" fill="#beaed4" opacity="0.97"/>
<rect x="162.4" y="391.4" width="1.0" height="12.2" fill="#7fc97f" opacity="0.94"/>
<rect x="163.3" y="391.4" width="1.0" height="12.2" fill="#beaed4" opacity="0.94"/>
<rect x="163.8" y="391.4" width="0.4" height="12.2" fill="#7fc97f" opacity="0.95"/>
<rect x="164.7" y="391.4" width="1.0" height="12.2" fill="#fdc086" opacity="0.97"/>
<rect x="165.2" y="391.4" width="1.6" height="12.2" fill="#7fc97f" opacity="0.73"/>
<rect x="168.8" y="391.4" width="0.6" height="12.2" fill="#fdc086" opacity="1.00"/>
<rect x="169.9" y="391.4" width="0.8" height="12.2" fill="#7fc97f" opacity="0.83"/>
<rect x="170.8" y="391.4" width="0.4" height="12.2" fill="#beaed4" opacity="0.92"/>
<rect x="171.7" y="391.4" width="0.6" height="12.2" fill="#386cb0" opacity="0.79"/>
<rect x="172.2" y="391.4" width="0.4" height="12.2" fill="#7fc97f" opacity="0.76"/>
<rect x="173.1" y="391.4" width="0.6" height="12.2" fill="#fdc086" opacity="0.84"/>
<rect x="173.8" y="391.4" width="0.8" height="12.2" fill="#7fc97f" opacity="0.97"/>
<rect x="174.7" y="391.4" width="1.3" height="12.2" fill="#beaed4" opacity="0.78"/>
<rect x="175.8" y="391.4" width="0.8" height="12.2" fill="#fdc086" opacity="0.93"/>
<rect x="176.3" y="391.4" width="0.6" height="12.2" fill="#7fc97f" opacity="0.77"/>
<rect x="177.0" y="391.4" width="1.0" height="12.2" fill="#386cb0" opacity="0.80"/>
<rect x="177.9" y="391.4" width="0.4" height="12.2" fill="#fdc086" opacity="0.77"/>
<rect x="178.4" y="391.4" width="0.8" height="12.2" fill="#7fc97f" opacity="0.77"/>
<rect x="179.5" y="391.4" width="0.8" height="12.2" fill="#7fc97f" opacity="0.97"/>
<rect x="180.2" y="391.4" width="1.3" height="12.2" fill="#7fc97f" opacity="0.86"/>
<rect x="180.9" y="391.4" width="0.6" height="12.2" fill="#7fc97f" opacity="0.95"/>
<rect x="182.1" y="391.4" width="1.3" height="12.2" fill="#fdc086" opacity="0.73"/>
<rect x="184.6" y="391.4" width="0.6" height="12.2" fill="#7fc97f" opacity="0.98"/>
<rect x="186.2" y="391.4" width="1.3" height="12.2" fill="#7fc97f" opacity="0.85"/>
<rect x="187.1" y="391.4" width="1.0" height="12.2" fill="#7fc97f" opacity="0.79"/>
<rect x="188.2" y="391.4" width="0.4" height="12.2" fill="#7fc97f" opacity="0.91"/>
<rect x="188.7" y="391.4" width="1.6" height="12.2" fill="#7fc97f" opacity="0.99"/>
<rect x="189.2" y="391.4" width="0.4" height="12.2" fill="#fdc086" opacity="0.91"/>
<rect x="190.3" y="391.4" width="1.3" height="12.2" fill="#7fc97f" opacity="0.93"/>
<rect x="191.7" y="391.4" width="1.0" height="12.2" fill="#386cb0" opacity="0.79"/>
<rect x="193.1" y="391.4" width="0.6" height="12.2" fill="#7fc97f" opacity="0.73"/>
<rect x="196.0" y="391.4" width="1.0" height="12.2" fill="#7fc97f" opacity="0.74"/>
<rect x="196.5" y="391.4" width="0.6" height="12.2" fill="#7fc97f" opacity="0.95"/>
<rect x="197.0" y="391.4" width="0.4" height="12.2" fill="#7fc97f" opacity="0.74"/>
<rect x="198.1" y="391.4" width="0.8" height="12.2" fill="#386cb0" opacity="0.71"/>
<rect x="198.8" y="391.4" width="0.6" height="12.2" fill="#fdc086" opacity="0.82"/>
<rect x="199.7" y="391.4" width="1.3" height="12.2" fill="#7fc97f" opacity="0.82"/>
<rect x="201.3" y="391.4" width="1.3" height="12.2" fill="#fdc086" opacity="0.78"/>
<rect x="202.0" y="391.4" width="1.6" height="12.2" fill="#7fc97f" opacity="0.87"/>
<rect x="202.7" y="391.4" width="0.8" height="12.2" fill="#fdc086" opacity="0.88"/>
<rect x="203.4" y="391.4" width="0.6" height="12.2" fill="#7fc97f" opacity="0.85"/>
<rect x="204.1" y="391.4" width="0.6" height="12.2" fill="#386cb0" opacity="0.73"/>
<rect x="204.8" y="391.4" width="0.4" height="12.2" fill="#fdc086" opacity="0.76"/>
<rect x="205.3" y="391.4" width="1.0" height="12.2" fill="#fdc086" opacity="0.91"/>
<rect x="206.2" y="391.4" width="0.8" height="12.2" fill="#7fc97f" opacity="0.96"/>
<rect x="208.0" y="391.4" width="1.3" height="12.2" fill="#fdc086" opacity="0.87"/>
<rect x="208.9" y="391.4" width="1.6" height="12.2" fill="#386cb0" opacity="0.80"/>
<rect x="209.6" y="391.4" width="0.4" height="12.2" fill="#7fc97f" opacity="0.97"/>
<rect x="210.3" y="391.4" width="0.8" height="12.2" fill="#fdc086" opacity="0.76"/>
<rect x="210.8" y="391.4" width="1.0" height="12.2" fill="#7fc97f" opacity="1.00"/>
<rect x="211.5" y="391.4" width="1.6" height="12.2" fill="#fdc086" opacity="0.97"/>
<rect x="212.0" y="391.4" width="1.0" height="12.2" fill="#7fc97f" opacity="0.74"/>
<rect x="213.1" y="391.4" width="0.6" height="12.2" fill="#7fc97f" opacity="0.87"/>
<rect x="214.0" y="391.4" width="0.4" height="12.2" fill="#fdc086" opacity="0.94"/>
<rect x="215.6" y="391.4" width="1.0" height="12.2" fill="#ffff99" opacity="0.83"/>
<rect x="216.7" y="391.4" width="1.0" height="12.2" fill="#ffff99" opacity="0.72"/>
<rect x="217.8" y="391.4" width="0.4" height="12.2" fill="#fdc086" opacity="0.97"/>
<rect x="218.7" y="391.4" width="1.0" height="12.2" fill="#7fc97f" opacity="0.71"/>
<rect x="219.2" y="391.4" width="1.3" height="12.2" fill="#ffff99" opacity="0.78"/>
<rect x="220.1" y="391.4" width="0.4" height="12.2" fill="#7fc97f" opacity="0.95"/>
<rect x="220.8" y="391.4" width="1.0" height="12.2" fill="#386cb0" opacity="0.72"/>
<rect x="221.3" y="391.4" width="0.6" height="12.2" fill="#fdc086" opacity="0.90"/>
<rect x="224.0" y="391.4" width="0.6" height="12.2" fill="#7fc97f" opacity="0.92"/>
<rect x="225.0" y="391.4" width="0.6" height="12.2" fill="#7fc97f" opacity="0.86"/>
<rect x="226.1" y="391.4" width="0.6" height="12.2" fill="#fdc086" opacity="0.71"/>
<rect x="226.8" y="391.4" width="1.0" height="12.2" fill="#fdc086" opacity="0.82"/>
<rect x="227.7" y="391.4" width="0.6" height="12.2" fill="#7fc97f" opacity="0.71"/>
<rect x="228.6" y="391.4" width="1.0" height="12.2" fill="#7fc97f" opacity="0.93"/>
<rect x="230.4" y="391.4" width="1.6" height="12.2" fill="#ffff99" opacity="0.65"/>
<rect x="231.8" y="391.4" width="1.6" height="12.2" fill="#386cb0" opacity="0.65"/>
<rect x="232.5" y="391.4" width="0.4" height="12.2" fill="#fdc086" opacity="0.79"/>
<rect x="235.0" y="391.4" width="1.0" height="12.2" fill="#7fc97f" opacity="0.75"/>
<rect x="235.9" y="391.4" width="1.6" height="12.2" fill="#7fc97f" opacity="0.75"/>
<rect x="236.6" y="391.4" width="0.8" height="12.2" fill="#fdc086" opacity="0.81"/>
<rect x="237.1" y="391.4" width="0.6" height="12.2" fill="#386cb0" opacity="0.82"/>
<rect x="237.8" y="391.4" width="0.8" height="12.2" fill="#7fc97f" opacity="0.90"/>
<rect x="246.0" y="391.4" width="0.8" height="12.2" fill="#fdc086" opacity="0.83"/>
<rect x="246.5" y="391.4" width="0.6" height="12.2" fill="#7fc97f" opacity="0.78"/>
<rect x="247.0" y="391.4" width="0.6" height="12.2" fill="#386cb0" opacity="0.61"/>
<rect x="249.2" y="391.4" width="1.0" height="12.2" fill="#7fc97f" opacity="0.72"/>
<rect x="250.1" y="391.4" width="1.0" height="12.2" fill="#fdc086" opacity="0.86"/>
<rect x="250.8" y="391.4" width="0.6" height="12.2" fill="#7fc97f" opacity="0.83"/>
<rect x="251.9" y="391.4" width="0.8" height="12.2" fill="#fdc086" opacity="0.94"/>
<rect x="252.6" y="391.4" width="1.3" height="12.2" fill="#7fc97f" opacity="0.87"/>
<rect x="253.7" y="391.4" width="0.6" height="12.2" fill="#fdc086" opacity="0.91"/>
<rect x="255.5" y="391.4" width="1.3" height="12.2" fill="#7fc97f" opacity="0.85"/>
<rect x="256.6" y="391.4" width="1.6" height="12.2" fill="#7fc97f" opacity="0.94"/>
<rect x="257.1" y="391.4" width="0.6" height="12.2" fill="#fdc086" opacity="0.86"/>
<rect x="258.3" y="391.4" width="0.4" height="12.2" fill="#fdc086" opacity="0.95"/>
<rect x="260.3" y="391.4" width="1.3" height="12.2" fill="#7fc97f" opacity="0.78"/>
<rect x="261.0" y="391.4" width="1.6" height="12.2" fill="#fdc086" opacity="0.94"/>
<rect x="261.5" y="391.4" width="1.0" height="12.2" fill="#7fc97f" opacity="0.76"/>
<rect x="262.0" y="391.4" width="1.3" height="12.2" fill="#386cb0" opacity="0.64"/>
<rect x="263.1" y="391.4" width="0.4" height="12.2" fill="#7fc97f" opacity="0.82"/>
<rect x="263.8" y="391.4" width="1.3" height="12.2" fill="#7fc97f" opacity="0.83"/>
<rect x="265.0" y="391.4" width="0.4" height="12.2" fill="#fdc086" opacity="0.77"/>
<rect x="266.1" y="391.4" width="0.6" height="12.2" fill="#7fc97f" opacity="0.80"/>
<rect x="266.8" y="391.4" width="1.0" height="12.2" fill="#fdc086" opacity="1.00"/>
<rect x="267.7" y="391.4" width="1.3" height="12.2" fill="#386cb0" opacity="0.64"/>
<rect x="268.8" y="391.4" width="0.4" height="12.2" fill="#7fc97f" opacity="0.80"/>
<rect x="270.2" y="391.4" width="1.0" height="12.2" fill="#7fc97f" opacity="0.84"/>
<rect x="271.1" y="391.4" width="1.0" height="12.2" fill="#386cb0" opacity="0.77"/>
<rect x="272.2" y="391.4" width="1.0" height="12.2" fill="#7fc97f" opacity="0.71"/>
<rect x="273.1" y="391.4" width="0.8" height="12.2" fill="#fdc086" opacity="0.86"/>
<rect x="274.0" y="391.4" width="1.3" height="12.2" fill="#386cb0" opacity="0.78"/>
<rect x="274.9" y="391.4" width="0.4" height="12.2" fill="#7fc97f" opacity="0.98"/>
<rect x="275.8" y="391.4" width="0.6" height="12.2" fill="#fdc086" opacity="0.97"/>
<rect x="277.4" y="391.4" width="1.0" height="12.2" fill="#7fc97f" opacity="0.93"/>
<rect x="277.9" y="391.4" width="1.3" height="12.2" fill="#7fc97f" opacity="0.71"/>
<rect x="278.6" y="391.4" width="0.6" height="12.2" fill="#7fc97f" opacity="0.79"/>
<rect x="279.7" y="391.4" width="1.6" height="12.2" fill="#7fc97f" opacity="0.91"/>
<rect x="280.6" y="391.4" width="1.0" height="12.2" fill="#fdc086" opacity="0.74"/>
<rect x="282.4" y="391.4" width="1.0" height="12.2" fill="#fdc086" opacity="0.81"/>
<rect x="282.9" y="391.4" width="0.8" height="12.2" fill="#fdc086" opacity="0.74"/>
<rect x="284.5" y="391.4" width="1.6" height="12.2" fill="#7fc97f" opacity="0.90"/>
<rect x="285.2" y="391.4" width="0.8" height="12.2" fill="#fdc086" opacity="0.99"/>
<rect x="286.1" y="391.4" width="1.6" height="12.2" fill="#7fc97f" opacity="0.94"/>
<rect x="286.6" y="391.4" width="0.4" height="12.2" fill="#beaed4" opacity="0.98"/>
<rect x="287.5" y="391.4" width="0.8" height="12.2" fill="#7fc97f" opacity="0.98"/>
<rect x="288.2" y="391.4" width="0.6" height="12.2" fill="#7fc97f" opacity="0.91"/>
<rect x="290.9" y="391.4" width="1.6" height="12.2" fill="#fdc086" opacity="0.79"/>
<rect x="291.9" y="391.4" width="0.4" height="12.2" fill="#386cb0" opacity="0.67"/>
<rect x="293.0" y="391.4" width="0.8" height="12.2" fill="#ffff99" opacity="0.62"/>
<rect x="293.5" y="391.4" width="0.8" height="12.2" fill="#fdc086" opacity="0.78"/>
<rect x="294.2" y="391.4" width="1.0" height="12.2" fill="#fdc086" opacity="0.99"/>
<rect x="295.1" y="391.4" width="1.6" height="12.2" fill="#386cb0" opacity="0.79"/>
<rect x="295.6" y="391.4" width="1.0" height="12.2" fill="#fdc086" opacity="0.72"/>
<rect x="296.1" y="391.4" width="1.0" height="12.2" fill="#7fc97f" opacity="0.97"/>
<rect x="296.6" y="391.4" width="1.6" height="12.2" fill="#beaed4" opacity="0.79"/>
<rect x="297.5" y="391.4" width="0.4" height="12.2" fill="#7fc97f" opacity="0.76"/>
<rect x="298.2" y="391.4" width="0.6" height="12.2" fill="#7fc97f" opacity="0.70"/>
<rect x="299.3" y="391.4" width="1.3" height="12.2" fill="#beaed4" opacity="0.90"/>
<rect x="299.8" y="391.4" width="1.3" height="12.2" fill="#fdc086" opacity="0.91"/>
<rect x="300.7" y="391.4" width="0.4" height="12.2" fill="#ffff99" opacity="0.68"/>
<rect x="301.4" y="391.4" width="1.6" height="12.2" fill="#7fc97f" opacity="0.76"/>
<rect x="302.1" y="391.4" width="1.3" height="12.2" fill="#fdc086" opacity="0.94"/>
<rect x="303.0" y="391.4" width="0.8" height="12.2" fill="#7fc97f" opacity="0.90"/>
<rect x="304.1" y="391.4" width="0.6" height="12.2" fill="#7fc97f" opacity="0.91"/>
<rect x="304.8" y="391.4" width="0.4" height="12.2" fill="#fdc086" opacity="0.97"/>
<rect x="305.7" y="391.4" width="1.0" height="12.2" fill="#beaed4" opacity="0.90"/>
<rect x="306.2" y="391.4" width="1.0" height="12.2" fill="#fdc086" opacity="0.72"/>
<rect x="307.1" y="391.4" width="1.6" height="12.2" fill="#fdc086" opacity="0.82"/>
<rect x="308.0" y="391.4" width="0.6" height="12.2" fill="#fdc086" opacity="0.95"/>
<rect x="309.1" y="391.4" width="0.6" height="12.2" fill="#fdc086" opacity="0.95"/>
<rect x="309.8" y="391.4" width="1.0" height="12.2" fill="#fdc086" opacity="0.79"/>
<rect x="310.5" y="391.4" width="1.0" height="12.2" fill="#fdc086" opacity="0.98"/>
<rect x="311.2" y="391.4" width="0.8" height="12.2" fill="#7fc97f" opacity="0.89"/>
<rect x="312.3" y="391.4" width="1.6" height="12.2" fill="#386cb0" opacity="0.61"/>
<rect x="312.8" y="391.4" width="0.6" height="12.2" fill="#7fc97f" opacity="0.92"/>
<rect x="313.3" y="391.4" width="0.4" height="12.2" fill="#fdc086" opacity="0.96"/>
<rect x="314.0" y="391.4" width="0.8" height="12.2" fill="#7fc97f" opacity="0.96"/>
<rect x="314.9" y="391.4" width="1.6" height="12.2" fill="#fdc086" opacity="0.93"/>
<rect x="316.0" y="391.4" width="0.6" height="12.2" fill="#fdc086" opacity="0.94"/>
<rect x="316.7" y="391.4" width="0.4" height="12.2" fill="#fdc086" opacity="0.97"/>
<rect x="317.8" y="391.4" width="0.6" height="12.2" fill="#7fc97f" opacity="0.71"/>
<rect x="318.5" y="391.4" width="1.0" height="12.2" fill="#7fc97f" opacity="0.77"/>
<rect x="319.6" y="391.4" width="1.3" height="12.2" fill="#7fc97f" opacity="0.72"/>
<rect x="320.1" y="391.4" width="0.4" height="12.2" fill="#7fc97f" opacity="0.85"/>
<rect x="320.8" y="391.4" width="1.0" height="12.2" fill="#beaed4" opacity="0.82"/>
<rect x="321.9" y="391.4" width="0.6" height="12.2" fill="#fdc086" opacity="0.90"/>
<rect x="322.8" y="391.4" width="0.8" height="12.2" fill="#fdc086" opacity="1.00"/>
<rect x="323.9" y="391.4" width="1.6" height="12.2" fill="#7fc97f" opacity="0.96"/>
<rect x="324.6" y="391.4" width="0.4" height="12.2" fill="#fdc086" opacity="0.79"/>
<rect x="325.7" y="391.4" width="0.6" height="12.2" fill="#7fc97f" opacity="0.81"/>
<rect x="326.6" y="391.4" width="1.6" height="12.2" fill="#beaed4" opacity="0.79"/>
<rect x="327.1" y="391.4" width="1.0" height="12.2" fill="#7fc97f" opacity="0.91"/>
<rect x="328.0" y="391.4" width="1.3" height="12.2" fill="#7fc97f" opacity="0.87"/>
<rect x="328.7" y="391.4" width="1.6" height="12.2" fill="#7fc97f" opacity="0.90"/>
<rect x="329.6" y="391.4" width="1.0" height="12.2" fill="#7fc97f" opacity="0.78"/>
<rect x="330.5" y="391.4" width="0.8" height="12.2" fill="#7fc97f" opacity="0.92"/>
<rect x="331.2" y="391.4" width="0.6" height="12.2" fill="#fdc086" opacity="0.90"/>
<rect x="331.9" y="391.4" width="0.6" height="12.2" fill="#7fc97f" opacity="0.81"/>
<rect x="333.0" y="391.4" width="1.0" height="12.2" fill="#beaed4" opacity="0.82"/>
<rect x="333.9" y="391.4" width="0.6" height="12.2" fill="#7fc97f" opacity="0.75"/>
<rect x="334.4" y="391.4" width="0.4" height="12.2" fill="#fdc086" opacity="0.80"/>
<rect x="335.5" y="391.4" width="0.6" height="12.2" fill="#beaed4" opacity="0.93"/>
<rect x="336.2" y="391.4" width="0.4" height="12.2" fill="#fdc086" opacity="0.98"/>
<rect x="337.1" y="391.4" width="0.8" height="12.2" fill="#fdc086" opacity="0.70"/>
<rect x="338.2" y="391.4" width="0.4" height="12.2" fill="#7fc97f" opacity="0.88"/>
<rect x="339.3" y="391.4" width="1.6" height="12.2" fill="#7fc97f" opacity="0.99"/>
<rect x="339.8" y="391.4" width="1.6" height="12.2" fill="#fdc086" opacity="0.84"/>
<rect x="340.9" y="391.4" width="1.3" height="12.2" fill="#fdc086" opacity="0.71"/>
<rect x="341.4" y="391.4" width="1.0" height="12.2" fill="#7fc97f" opacity="0.88"/>
<rect x="342.6" y="391.4" width="0.8" height="12.2" fill="#386cb0" opacity="0.78"/>
<rect x="343.5" y="391.4" width="1.0" height="12.2" fill="#386cb0" opacity="0.70"/>
<rect x="344.2" y="391.4" width="1.0" height="12.2" fill="#7fc97f" opacity="0.76"/>
<rect x="345.4" y="391.4" width="0.8" height="12.2" fill="#7fc97f" opacity="0.96"/>
<rect x="346.3" y="391.4" width="0.8" height="12.2" fill="#7fc97f" opacity="0.86"/>
<rect x="347.4" y="391.4" width="0.8" height="12.2" fill="#386cb0" opacity="0.66"/>
<rect x="347.9" y="391.4" width="1.0" height="12.2" fill="#fdc086" opacity="0.72"/>
<rect x="349.5" y="391.4" width="0.6" height="12.2" fill="#fdc086" opacity="0.75"/>
<rect x="350.4" y="391.4" width="0.8" height="12.2" fill="#386cb0" opacity="0.65"/>
<rect x="351.3" y="391.4" width="0.6" height="12.2" fill="#fdc086" opacity="0.71"/>
<rect x="352.9" y="391.4" width="1.6" height="12.2" fill="#7fc97f" opacity="0.89"/>
<rect x="353.6" y="391.4" width="1.0" height="12.2" fill="#7fc97f" opacity="0.94"/>
<rect x="354.5" y="391.4" width="0.6" height="12.2" fill="#fdc086" opacity="0.75"/>
<rect x="355.2" y="391.4" width="1.3" height="12.2" fill="#7fc97f" opacity="0.74"/>
<rect x="355.7" y="391.4" width="0.8" height="12.2" fill="#fdc086" opacity="0.81"/>
<rect x="356.4" y="391.4" width="0.4" height="12.2" fill="#fdc086" opacity="0.92"/>
<rect x="357.3" y="391.4" width="1.0" height="12.2" fill="#7fc97f" opacity="0.72"/>
<rect x="358.2" y="391.4" width="1.3" height="12.2" fill="#7fc97f" opacity="0.84"/>
<rect x="358.7" y="391.4" width="0.8" height="12.2" fill="#beaed4" opacity="0.83"/>
<rect x="359.8" y="391.4" width="0.8" height="12.2" fill="#7fc97f" opacity="0.96"/>
<rect x="360.3" y="391.4" width="1.0" height="12.2" fill="#7fc97f" opacity="0.84"/>
<rect x="361.0" y="391.4" width="1.3" height="12.2" fill="#7fc97f" opacity="0.89"/>
<rect x="361.9" y="391.4" width="0.8" height="12.2" fill="#fdc086" opacity="0.90"/>
<rect x="362.8" y="391.4" width="1.6" height="12.2" fill="#7fc97f" opacity="0.88"/>
<rect x="363.3" y="391.4" width="0.6" height="12.2" fill="#fdc086" opacity="0.96"/>
<rect x="364.4" y="391.4" width="0.8" height="12.2" fill="#7fc97f" opacity="0.96"/>
<rect x="364.9" y="391.4" width="0.4" height="12.2" fill="#7fc97f" opacity="0.76"/>
<rect x="365.8" y="391.4" width="0.4" height="12.2" fill="#fdc086" opacity="0.90"/>
<rect x="366.7" y="391.4" width="0.4" height="12.2" fill="#fdc086" opacity="0.75"/>
<rect x="367.2" y="391.4" width="1.0" height="12.2" fill="#beaed4" opacity="0.84"/>
<rect x="367.7" y="391.4" width="0.4" height="12.2" fill="#386cb0" opacity="0.70"/>
<rect x="368.4" y="391.4" width="1.6" height="12.2" fill="#7fc97f" opacity="0.72"/>
<rect x="369.5" y="391.4" width="1.6" height="12.2" fill="#386cb0" opacity="0.73"/>
<rect x="370.2" y="391.4" width="0.6" height="12.2" fill="#fdc086" opacity="0.73"/>
<rect x="370.7" y="391.4" width="1.6" height="12.2" fill="#fdc086" opacity="0.94"/>
<rect x="371.6" y="391.4" width="1.6" height="12.2" fill="#beaed4" opacity="0.97"/>
<rect x="372.7" y="391.4" width="0.4" height="12.2" fill="#7fc97f" opacity="0.81"/>
<rect x="373.2" y="391.4" width="1.0" height="12.2" fill="#fdc086" opacity="0.86"/>
<rect x="373.7" y="391.4" width="0.4" height="12.2" fill="#7fc97f" opacity="0.85"/>
<rect x="374.2" y="391.4" width="0.6" height="12.2" fill="#7fc97f" opacity="0.73"/>
<rect x="375.1" y="391.4" width="0.6" height="12.2" fill="#7fc97f" opacity="0.82"/>
<rect x="375.6" y="391.4" width="1.3" height="12.2" fill="#7fc97f" opacity="0.87"/>
<rect x="376.7" y="391.4" width="1.3" height="12.2" fill="#7fc97f" opacity="0.99"/>
<rect x="377.4" y="391.4" width="1.3" height="12.2" fill="#386cb0" opacity="0.78"/>
<rect x="377.9" y="391.4" width="0.4" height="12.2" fill="#7fc97f" opacity="0.94"/>
<rect x="378.4" y="391.4" width="1.6" height="12.2" fill="#7fc97f" opacity="0.79"/>
<rect x="378.9" y="391.4" width="1.0" height="12.2" fill="#7fc97f" opacity="0.99"/>
<rect x="379.4" y="391.4" width="0.8" height="12.2" fill="#7fc97f" opacity="0.78"/>
<rect x="379.9" y="391.4" width="1.0" height="12.2" fill="#7fc97f" opacity="0.85"/>
<rect x="380.6" y="391.4" width="1.3" height="12.2" fill="#386cb0" opacity="0.62"/>
<rect x="381.5" y="391.4" width="1.3" height="12.2" fill="#7fc97f" opacity="0.81"/>
<rect x="382.6" y="391.4" width="1.0" height="12.2" fill="#7fc97f" opacity="0.83"/>
<rect x="383.7" y="391.4" width="0.6" height="12.2" fill="#fdc086" opacity="0.86"/>
<rect x="385.3" y="391.4" width="0.4" height="12.2" fill="#7fc97f" opacity="0.85"/>
<rect x="386.0" y="391.4" width="1.3" height="12.2" fill="#beaed4" opacity="0.70"/>
<rect x="387.1" y="391.4" width="0.4" height="12.2" fill="#7fc97f" opacity="0.88"/>
<rect x="387.8" y="391.4" width="1.3" height="12.2" fill="#fdc086" opacity="0.95"/>
<rect x="388.5" y="391.4" width="1.3" height="12.2" fill="#7fc97f" opacity="0.76"/>
<rect x="389.0" y="391.4" width="0.8" height="12.2" fill="#7fc97f" opacity="0.73"/>
<rect x="389.9" y="391.4" width="1.0" height="12.2" fill="#fdc086" opacity="0.81"/>
<rect x="390.4" y="391.4" width="0.6" height="12.2" fill="#fdc086" opacity="0.80"/>
<rect x="391.3" y="391.4" width="0.6" height="12.2" fill="#fdc086" opacity="0.89"/>
<rect x="391.8" y="391.4" width="1.0" height="12.2" fill="#7fc97f" opacity="0.89"/>
<rect x="392.5" y="391.4" width="1.6" height="12.2" fill="#fdc086" opacity="0.89"/>
<rect x="393.2" y="391.4" width="0.4" height="12.2" fill="#fdc086" opacity="0.84"/>
<rect x="394.1" y="391.4" width="0.4" height="12.2" fill="#7fc97f" opacity="0.73"/>
<rect x="394.8" y="391.4" width="1.0" height="12.2" fill="#fdc086" opacity="0.94"/>
<rect x="395.9" y="391.4" width="1.6" height="12.2" fill="#fdc086" opacity="0.95"/>
<rect x="396.8" y="391.4" width="1.3" height="12.2" fill="#fdc086" opacity="0.91"/>
<rect x="397.9" y="391.4" width="1.6" height="12.2" fill="#fdc086" opacity="0.98"/>
<rect x="398.6" y="391.4" width="0.8" height="12.2" fill="#fdc086" opacity="0.95"/>
<rect x="399.1" y="391.4" width="0.8" height="12.2" fill="#beaed4" opacity="0.71"/>
<rect x="400.2" y="391.4" width="0.6" height="12.2" fill="#fdc086" opacity="0.98"/>
<rect x="401.3" y="391.4" width="1.0" height="12.2" fill="#7fc97f" opacity="0.92"/>
<rect x="402.0" y="391.4" width="0.8" height="12.2" fill="#7fc97f" opacity="0.80"/>
<rect x="402.7" y="391.4" width="1.0" height="12.2" fill="#fdc086" opacity="0.86"/>
<rect x="403.8" y="391.4" width="1.3" height="12.2" fill="#fdc086" opacity="0.81"/>
<rect x="404.5" y="391.4" width="1.0" height="12.2" fill="#7fc97f" opacity="0.91"/>
<rect x="405.2" y="391.4" width="0.8" height="12.2" fill="#fdc086" opacity="0.87"/>
<rect x="406.1" y="391.4" width="0.8" height="12.2" fill="#7fc97f" opacity="0.91"/>
<rect x="407.2" y="391.4" width="0.4" height="12.2" fill="#fdc086" opacity="0.99"/>
<rect x="408.3" y="391.4" width="0.4" height="12.2" fill="#7fc97f" opacity="0.93"/>
<rect x="408.8" y="391.4" width="1.3" height="12.2" fill="#fdc086" opacity="0.71"/>
<rect x="409.7" y="391.4" width="1.3" height="12.2" fill="#beaed4" opacity="0.85"/>
<rect x="410.8" y="391.4" width="0.8" height="12.2" fill="#fdc086" opacity="0.73"/>
<rect x="411.5" y="391.4" width="0.6" height="12.2" fill="#fdc086" opacity="0.92"/>
<rect x="412.4" y="391.4" width="0.6" height="12.2" fill="#fdc086" opacity="0.97"/>
<rect x="413.3" y="391.4" width="0.8" height="12.2" fill="#7fc97f" opacity="0.94"/>
<rect x="414.2" y="391.4" width="1.6" height="12.2" fill="#386cb0" opacity="0.63"/>
<rect x="415.1" y="391.4" width="0.8" height="12.2" fill="#7fc97f" opacity="0.87"/>
<rect x="416.0" y="391.4" width="0.8" height="12.2" fill="#7fc97f" opacity="0.94"/>
<rect x="416.7" y="391.4" width="0.6" height="12.2" fill="#fdc086" opacity="0.86"/>
<rect x="417.4" y="391.4" width="1.3" height="12.2" fill="#fdc086" opacity="0.75"/>
<rect x="418.3" y="391.4" width="1.0" height="12.2" fill="#386cb0" opacity="0.69"/>
<rect x="419.0" y="391.4" width="1.6" height="12.2" fill="#7fc97f" opacity="0.92"/>
<rect x="419.9" y="391.4" width="1.3" height="12.2" fill="#7fc97f" opacity="0.98"/>
<rect x="420.4" y="391.4" width="0.4" height="12.2" fill="#7fc97f" opacity="0.87"/>
<rect x="420.9" y="391.4" width="0.8" height="12.2" fill="#7fc97f" opacity="0.96"/>
<rect x="421.9" y="391.4" width="1.0" height="12.2" fill="#fdc086" opacity="0.99"/>
<rect x="422.4" y="391.4" width="1.6" height="12.2" fill="#7fc97f" opacity="0.86"/>
<rect x="423.3" y="391.4" width="0.6" height="12.2" fill="#fdc086" opacity="0.73"/>
<rect x="424.0" y="391.4" width="0.4" height="12.2" fill="#fdc086" opacity="0.71"/>
<rect x="424.5" y="391.4" width="0.8" height="12.2" fill="#7fc97f" opacity="0.77"/>
<rect x="426.6" y="391.4" width="1.3" height="12.2" fill="#386cb0" opacity="0.74"/>
<rect x="428.0" y="391.4" width="0.6" height="12.2" fill="#386cb0" opacity="0.61"/>
<rect x="428.5" y="391.4" width="0.8" height="12.2" fill="#386cb0" opacity="0.61"/>
<rect x="429.0" y="391.4" width="0.6" height="12.2" fill="#fdc086" opacity="0.86"/>
<rect x="429.5" y="391.4" width="0.4" height="12.2" fill="#386cb0" opacity="0.65"/>
<rect x="431.7" y="391.4" width="0.6" height="12.2" fill="#7fc97f" opacity="0.70"/>
<rect x="432.4" y="391.4" width="1.3" height="12.2" fill="#7fc97f" opacity="0.92"/>
<rect x="433.3" y="391.4" width="0.6" height="12.2" fill="#386cb0" opacity="0.70"/>
<rect x="434.0" y="391.4" width="0.8" height="12.2" fill="#7fc97f" opacity="0.77"/>
<rect x="434.9" y="391.4" width="1.6" height="12.2" fill="#fdc086" opacity="0.78"/>
<rect x="435.8" y="391.4" width="0.4" height="12.2" fill="#7fc97f" opacity="0.80"/>
<rect x="437.2" y="391.4" width="0.4" height="12.2" fill="#fdc086" opacity="0.85"/>
<rect x="438.3" y="391.4" width="1.0" height="12.2" fill="#fdc086" opacity="0.74"/>
<rect x="439.2" y="391.4" width="0.4" height="12.2" fill="#386cb0" opacity="0.70"/>
<rect x="439.9" y="391.4" width="1.6" height="12.2" fill="#fdc086" opacity="0.80"/>
<rect x="440.6" y="391.4" width="0.8" height="12.2" fill="#fdc086" opacity="0.98"/>
<rect x="441.1" y="391.4" width="0.4" height="12.2" fill="#7fc97f" opacity="0.71"/>
<rect x="441.6" y="391.4" width="0.6" height="12.2" fill="#7fc97f" opacity="0.76"/>
<rect x="443.6" y="391.4" width="0.6" height="12.2" fill="#7fc97f" opacity="0.91"/>
<rect x="444.1" y="391.4" width="0.6" height="12.2" fill="#fdc086" opacity="0.77"/>
<rect x="445.2" y="391.4" width="1.6" height="12.2" fill="#7fc97f" opacity="0.78"/>
<rect x="447.1" y="391.4" width="0.6" height="12.2" fill="#fdc086" opacity="0.78"/>
<rect x="450.1" y="391.4" width="0.8" height="12.2" fill="#386cb0" opacity="0.83"/>
<rect x="450.8" y="391.4" width="0.8" height="12.2" fill="#fdc086" opacity="0.73"/>
<rect x="451.9" y="391.4" width="1.3" height="12.2" fill="#386cb0" opacity="0.72"/>
<rect x="452.4" y="391.4" width="1.0" height="12.2" fill="#386cb0" opacity="0.61"/>
<rect x="453.5" y="391.4" width="0.8" height="12.2" fill="#7fc97f" opacity="0.75"/>
<rect x="454.2" y="391.4" width="0.4" height="12.2" fill="#7fc97f" opacity="0.94"/>
<rect x="455.3" y="391.4" width="0.4" height="12.2" fill="#7fc97f" opacity="0.75"/>
<rect x="455.8" y="391.4" width="0.4" height="12.2" fill="#7fc97f" opacity="0.95"/>
<rect x="456.7" y="391.4" width="0.8" height="12.2" fill="#fdc086" opacity="0.80"/>
<rect x="457.6" y="391.4" width="1.3" height="12.2" fill="#fdc086" opacity="0.83"/>
<rect x="458.7" y="391.4" width="1.0" height="12.2" fill="#7fc97f" opacity="0.98"/>
<rect x="459.4" y="391.4" width="1.3" height="12.2" fill="#386cb0" opacity="0.67"/>
<rect x="460.1" y="391.4" width="0.8" height="12.2" fill="#7fc97f" opacity="0.88"/>
<rect x="460.8" y="391.4" width="0.8" height="12.2" fill="#7fc97f" opacity="0.73"/>
<rect x="461.3" y="391.4" width="1.3" height="12.2" fill="#7fc97f" opacity="0.92"/>
<rect x="462.4" y="391.4" width="1.6" height="12.2" fill="#beaed4" opacity="0.78"/>
<rect x="463.5" y="391.4" width="0.8" height="12.2" fill="#beaed4" opacity="0.84"/>
<rect x="464.2" y="391.4" width="0.8" height="12.2" fill="#fdc086" opacity="0.72"/>
<rect x="465.1" y="391.4" width="0.6" height="12.2" fill="#fdc086" opacity="0.82"/>
<rect x="465.6" y="391.4" width="1.6" height="12.2" fill="#beaed4" opacity="0.83"/>
<rect x="466.1" y="391.4" width="1.0" height="12.2" fill="#fdc086" opacity="0.75"/>
<rect x="467.0" y="391.4" width="1.3" height="12.2" fill="#beaed4" opacity="0.98"/>
<rect x="467.7" y="391.4" width="1.0" height="12.2" fill="#fdc086" opacity="0.99"/>
<rect x="468.4" y="391.4" width="1.6" height="12.2" fill="#fdc086" opacity="0.94"/>
<rect x="469.1" y="391.4" width="1.0" height="12.2" fill="#7fc97f" opacity="0.77"/>
<rect x="469.6" y="391.4" width="1.6" height="12.2" fill="#7fc97f" opacity="0.94"/>
<rect x="470.7" y="391.4" width="1.6" height="12.2" fill="#fdc086" opacity="0.99"/>
<rect x="471.4" y="391.4" width="0.8" height="12.2" fill="#fdc086" opacity="0.79"/>
<rect x="472.1" y="391.4" width="0.8" height="12.2" fill="#386cb0" opacity="0.76"/>
<rect x="472.8" y="391.4" width="1.0" height="12.2" fill="#fdc086" opacity="0.94"/>
<rect x="473.3" y="391.4" width="1.0" height="12.2" fill="#fdc086" opacity="0.85"/>
<rect x="474.4" y="391.4" width="0.4" height="12.2" fill="#7fc97f" opacity="0.75"/>
<rect x="475.1" y="391.4" width="1.3" height="12.2" fill="#fdc086" opacity="0.91"/>
<rect x="476.2" y="391.4" width="0.8" height="12.2" fill="#fdc086" opacity="0.71"/>
<rect x="477.1" y="391.4" width="0.4" height="12.2" fill="#7fc97f" opacity="0.98"/>
<rect x="477.6" y="391.4" width="1.3" height="12.2" fill="#fdc086" opacity="0.99"/>
<rect x="478.1" y="391.4" width="0.8" height="12.2" fill="#7fc97f" opacity="1.00"/>
<rect x="478.6" y="391.4" width="1.6" height="12.2" fill="#fdc086" opacity="0.84"/>
<rect x="479.3" y="391.4" width="1.3" height="12.2" fill="#7fc97f" opacity="0.83"/>
<rect x="480.4" y="391.4" width="0.4" height="12.2" fill="#386cb0" opacity="0.67"/>
<rect x="481.5" y="391.4" width="0.6" height="12.2" fill="#fdc086" opacity="0.97"/>
<rect x="482.0" y="391.4" width="1.0" height="12.2" fill="#beaed4" opacity="0.82"/>
<rect x="482.9" y="391.4" width="1.0" height="12.2" fill="#386cb0" opacity="0.73"/>
<rect x="483.6" y="391.4" width="0.4" height="12.2" fill="#fdc086" opacity="0.76"/>
<rect x="484.5" y="391.4" width="1.3" height="12.2" fill="#fdc086" opacity="0.80"/>
<rect x="485.0" y="391.4" width="1.0" height="12.2" fill="#7fc97f" opacity="0.99"/>
<rect x="486.1" y="391.4" width="0.8" height="12.2" fill="#ffff99" opacity="0.61"/>
<rect x="486.6" y="391.4" width="1.0" height="12.2" fill="#fdc086" opacity="0.83"/>
<rect x="487.3" y="391.4" width="1.0" height="12.2" fill="#fdc086" opacity="0.92"/>
<rect x="488.4" y="391.4" width="0.6" height="12.2" fill="#fdc086" opacity="0.88"/>
<rect x="488.9" y="391.4" width="1.3" height="12.2" fill="#7fc97f" opacity="0.72"/>
<rect x="490.0" y="391.4" width="1.0" height="12.2" fill="#7fc97f" opacity="0.82"/>
<rect x="491.1" y="391.4" width="0.6" height="12.2" fill="#386cb0" opacity="0.81"/>
<rect x="492.2" y="391.4" width="0.8" height="12.2" fill="#386cb0" opacity="0.76"/>
<rect x="494.9" y="391.4" width="0.4" height="12.2" fill="#fdc086" opacity="0.83"/>
<rect x="495.8" y="391.4" width="0.6" height="12.2" fill="#7fc97f" opacity="0.79"/>
<rect x="496.3" y="391.4" width="0.8" height="12.2" fill="#fdc086" opacity="0.73"/>
<rect x="497.4" y="391.4" width="1.3" height="12.2" fill="#7fc97f" opacity="0.81"/>
<rect x="499.9" y="391.4" width="1.3" height="12.2" fill="#386cb0" opacity="0.76"/>
<rect x="501.0" y="391.4" width="1.6" height="12.2" fill="#7fc97f" opacity="0.88"/>
<rect x="501.5" y="391.4" width="1.6" height="12.2" fill="#7fc97f" opacity="0.91"/>
<rect x="505.4" y="391.4" width="1.0" height="12.2" fill="#7fc97f" opacity="0.87"/>
</g>
<rect x="26.3" y="391.4" width="485.1" height="12.2" rx="6.1" fill="none" stroke="#222" stroke-width="1.3"/>
<text x="1.3" y="416.2" font-size="7.8" fill="#161616" stroke="#161616" stroke-width="0.22">Chr2R</text>
<g clip-path="url(#cp2)">
<rect x="32.3" y="406.4" width="1.6" height="12.2" fill="#fdc086" opacity="0.80"/>
<rect x="33.2" y="406.4" width="0.8" height="12.2" fill="#7fc97f" opacity="0.90"/>
<rect x="34.3" y="406.4" width="0.4" height="12.2" fill="#7fc97f" opacity="0.93"/>
<rect x="35.2" y="406.4" width="1.3" height="12.2" fill="#386cb0" opacity="0.67"/>
<rect x="36.1" y="406.4" width="1.0" height="12.2" fill="#7fc97f" opacity="0.98"/>
<rect x="37.2" y="406.4" width="0.8" height="12.2" fill="#386cb0" opacity="0.84"/>
<rect x="37.9" y="406.4" width="0.4" height="12.2" fill="#7fc97f" opacity="0.86"/>
<rect x="39.0" y="406.4" width="0.8" height="12.2" fill="#7fc97f" opacity="0.93"/>
<rect x="39.5" y="406.4" width="1.3" height="12.2" fill="#fdc086" opacity="0.91"/>
<rect x="40.2" y="406.4" width="0.8" height="12.2" fill="#7fc97f" opacity="0.87"/>
<rect x="40.7" y="406.4" width="1.0" height="12.2" fill="#fdc086" opacity="0.74"/>
<rect x="41.6" y="406.4" width="1.3" height="12.2" fill="#7fc97f" opacity="0.75"/>
<rect x="42.1" y="406.4" width="1.6" height="12.2" fill="#fdc086" opacity="0.92"/>
<rect x="43.0" y="406.4" width="0.4" height="12.2" fill="#fdc086" opacity="0.71"/>
<rect x="43.9" y="406.4" width="0.6" height="12.2" fill="#fdc086" opacity="0.81"/>
<rect x="44.8" y="406.4" width="0.6" height="12.2" fill="#fdc086" opacity="0.91"/>
<rect x="45.3" y="406.4" width="1.3" height="12.2" fill="#7fc97f" opacity="0.85"/>
<rect x="46.2" y="406.4" width="0.6" height="12.2" fill="#fdc086" opacity="0.80"/>
<rect x="47.1" y="406.4" width="1.0" height="12.2" fill="#7fc97f" opacity="0.75"/>
<rect x="47.8" y="406.4" width="1.3" height="12.2" fill="#fdc086" opacity="0.76"/>
<rect x="48.7" y="406.4" width="0.6" height="12.2" fill="#beaed4" opacity="0.72"/>
<rect x="49.8" y="406.4" width="0.4" height="12.2" fill="#fdc086" opacity="0.92"/>
<rect x="50.3" y="406.4" width="0.4" height="12.2" fill="#fdc086" opacity="0.93"/>
<rect x="51.4" y="406.4" width="1.0" height="12.2" fill="#7fc97f" opacity="0.73"/>
<rect x="51.9" y="406.4" width="1.3" height="12.2" fill="#7fc97f" opacity="0.78"/>
<rect x="52.6" y="406.4" width="0.8" height="12.2" fill="#7fc97f" opacity="0.93"/>
<rect x="53.3" y="406.4" width="0.8" height="12.2" fill="#7fc97f" opacity="0.70"/>
<rect x="54.2" y="406.4" width="1.0" height="12.2" fill="#fdc086" opacity="0.78"/>
<rect x="54.7" y="406.4" width="0.4" height="12.2" fill="#7fc97f" opacity="0.85"/>
<rect x="55.6" y="406.4" width="1.3" height="12.2" fill="#fdc086" opacity="0.83"/>
<rect x="56.3" y="406.4" width="1.0" height="12.2" fill="#7fc97f" opacity="0.78"/>
<rect x="57.4" y="406.4" width="1.3" height="12.2" fill="#386cb0" opacity="0.80"/>
<rect x="58.1" y="406.4" width="0.8" height="12.2" fill="#7fc97f" opacity="0.71"/>
<rect x="58.6" y="406.4" width="0.8" height="12.2" fill="#fdc086" opacity="0.81"/>
<rect x="59.7" y="406.4" width="1.6" height="12.2" fill="#386cb0" opacity="0.62"/>
<rect x="61.1" y="406.4" width="0.6" height="12.2" fill="#fdc086" opacity="0.80"/>
<rect x="62.2" y="406.4" width="0.8" height="12.2" fill="#7fc97f" opacity="0.79"/>
<rect x="63.6" y="406.4" width="0.4" height="12.2" fill="#7fc97f" opacity="0.74"/>
<rect x="64.7" y="406.4" width="1.0" height="12.2" fill="#fdc086" opacity="0.86"/>
<rect x="65.2" y="406.4" width="0.6" height="12.2" fill="#7fc97f" opacity="0.92"/>
<rect x="65.9" y="406.4" width="0.6" height="12.2" fill="#386cb0" opacity="0.76"/>
<rect x="66.8" y="406.4" width="1.6" height="12.2" fill="#fdc086" opacity="0.70"/>
<rect x="67.5" y="406.4" width="0.6" height="12.2" fill="#fdc086" opacity="0.80"/>
<rect x="68.0" y="406.4" width="0.6" height="12.2" fill="#7fc97f" opacity="0.94"/>
<rect x="68.7" y="406.4" width="0.4" height="12.2" fill="#7fc97f" opacity="0.92"/>
<rect x="69.4" y="406.4" width="1.6" height="12.2" fill="#7fc97f" opacity="0.75"/>
<rect x="70.5" y="406.4" width="0.8" height="12.2" fill="#fdc086" opacity="0.97"/>
<rect x="71.2" y="406.4" width="0.4" height="12.2" fill="#fdc086" opacity="0.98"/>
<rect x="71.7" y="406.4" width="0.8" height="12.2" fill="#7fc97f" opacity="0.95"/>
<rect x="72.6" y="406.4" width="1.6" height="12.2" fill="#7fc97f" opacity="0.85"/>
<rect x="73.1" y="406.4" width="0.8" height="12.2" fill="#7fc97f" opacity="0.76"/>
<rect x="73.6" y="406.4" width="0.6" height="12.2" fill="#fdc086" opacity="0.81"/>
<rect x="74.1" y="406.4" width="1.6" height="12.2" fill="#fdc086" opacity="0.91"/>
<rect x="75.0" y="406.4" width="0.4" height="12.2" fill="#7fc97f" opacity="0.88"/>
<rect x="75.5" y="406.4" width="0.4" height="12.2" fill="#7fc97f" opacity="0.81"/>
<rect x="76.4" y="406.4" width="1.0" height="12.2" fill="#7fc97f" opacity="0.88"/>
<rect x="77.1" y="406.4" width="0.4" height="12.2" fill="#beaed4" opacity="0.93"/>
<rect x="77.8" y="406.4" width="1.0" height="12.2" fill="#fdc086" opacity="0.72"/>
<rect x="78.3" y="406.4" width="1.0" height="12.2" fill="#7fc97f" opacity="0.95"/>
<rect x="79.4" y="406.4" width="0.8" height="12.2" fill="#fdc086" opacity="0.72"/>
<rect x="79.9" y="406.4" width="0.6" height="12.2" fill="#fdc086" opacity="0.97"/>
<rect x="80.6" y="406.4" width="1.0" height="12.2" fill="#7fc97f" opacity="0.91"/>
<rect x="81.3" y="406.4" width="1.3" height="12.2" fill="#386cb0" opacity="0.80"/>
<rect x="81.8" y="406.4" width="0.6" height="12.2" fill="#7fc97f" opacity="0.73"/>
<rect x="82.5" y="406.4" width="1.3" height="12.2" fill="#7fc97f" opacity="0.75"/>
<rect x="83.6" y="406.4" width="1.0" height="12.2" fill="#fdc086" opacity="0.85"/>
<rect x="85.2" y="406.4" width="0.8" height="12.2" fill="#386cb0" opacity="0.71"/>
<rect x="86.3" y="406.4" width="0.8" height="12.2" fill="#386cb0" opacity="0.63"/>
<rect x="87.4" y="406.4" width="0.8" height="12.2" fill="#386cb0" opacity="0.63"/>
<rect x="87.9" y="406.4" width="0.8" height="12.2" fill="#7fc97f" opacity="0.93"/>
<rect x="88.4" y="406.4" width="1.6" height="12.2" fill="#7fc97f" opacity="0.82"/>
<rect x="91.3" y="406.4" width="1.6" height="12.2" fill="#386cb0" opacity="0.82"/>
<rect x="93.3" y="406.4" width="1.3" height="12.2" fill="#7fc97f" opacity="0.82"/>
<rect x="93.8" y="406.4" width="1.6" height="12.2" fill="#7fc97f" opacity="0.89"/>
<rect x="94.7" y="406.4" width="1.3" height="12.2" fill="#7fc97f" opacity="0.78"/>
<rect x="95.2" y="406.4" width="0.8" height="12.2" fill="#beaed4" opacity="0.88"/>
<rect x="96.1" y="406.4" width="1.3" height="12.2" fill="#fdc086" opacity="0.92"/>
<rect x="96.6" y="406.4" width="0.4" height="12.2" fill="#fdc086" opacity="0.89"/>
<rect x="98.2" y="406.4" width="1.6" height="12.2" fill="#386cb0" opacity="0.80"/>
<rect x="98.9" y="406.4" width="1.0" height="12.2" fill="#386cb0" opacity="0.71"/>
<rect x="99.8" y="406.4" width="0.6" height="12.2" fill="#7fc97f" opacity="0.92"/>
<rect x="100.9" y="406.4" width="1.3" height="12.2" fill="#7fc97f" opacity="0.93"/>
<rect x="101.6" y="406.4" width="1.3" height="12.2" fill="#7fc97f" opacity="0.71"/>
<rect x="103.4" y="406.4" width="1.6" height="12.2" fill="#7fc97f" opacity="0.89"/>
<rect x="104.3" y="406.4" width="0.4" height="12.2" fill="#7fc97f" opacity="0.90"/>
<rect x="105.2" y="406.4" width="1.3" height="12.2" fill="#7fc97f" opacity="0.95"/>
<rect x="105.7" y="406.4" width="1.6" height="12.2" fill="#7fc97f" opacity="0.77"/>
<rect x="106.2" y="406.4" width="0.4" height="12.2" fill="#7fc97f" opacity="0.80"/>
<rect x="106.7" y="406.4" width="0.8" height="12.2" fill="#386cb0" opacity="0.69"/>
<rect x="109.2" y="406.4" width="0.8" height="12.2" fill="#fdc086" opacity="0.84"/>
<rect x="109.7" y="406.4" width="1.3" height="12.2" fill="#7fc97f" opacity="0.78"/>
<rect x="110.4" y="406.4" width="0.8" height="12.2" fill="#fdc086" opacity="1.00"/>
<rect x="111.3" y="406.4" width="1.3" height="12.2" fill="#beaed4" opacity="0.94"/>
<rect x="112.4" y="406.4" width="1.6" height="12.2" fill="#beaed4" opacity="0.82"/>
<rect x="113.5" y="406.4" width="0.4" height="12.2" fill="#386cb0" opacity="0.61"/>
<rect x="114.6" y="406.4" width="1.6" height="12.2" fill="#386cb0" opacity="0.71"/>
<rect x="115.7" y="406.4" width="0.6" height="12.2" fill="#fdc086" opacity="0.83"/>
<rect x="116.6" y="406.4" width="1.0" height="12.2" fill="#ffff99" opacity="0.65"/>
<rect x="117.1" y="406.4" width="0.6" height="12.2" fill="#beaed4" opacity="0.74"/>
<rect x="117.8" y="406.4" width="1.6" height="12.2" fill="#fdc086" opacity="0.87"/>
<rect x="118.5" y="406.4" width="1.0" height="12.2" fill="#7fc97f" opacity="0.99"/>
<rect x="119.4" y="406.4" width="0.8" height="12.2" fill="#fdc086" opacity="0.83"/>
<rect x="119.9" y="406.4" width="0.4" height="12.2" fill="#386cb0" opacity="0.68"/>
<rect x="121.0" y="406.4" width="0.6" height="12.2" fill="#fdc086" opacity="0.97"/>
<rect x="121.7" y="406.4" width="0.8" height="12.2" fill="#7fc97f" opacity="0.83"/>
<rect x="122.2" y="406.4" width="0.6" height="12.2" fill="#386cb0" opacity="0.75"/>
<rect x="123.1" y="406.4" width="0.4" height="12.2" fill="#fdc086" opacity="0.77"/>
<rect x="124.0" y="406.4" width="1.3" height="12.2" fill="#fdc086" opacity="0.96"/>
<rect x="124.9" y="406.4" width="0.8" height="12.2" fill="#fdc086" opacity="0.96"/>
<rect x="125.6" y="406.4" width="0.4" height="12.2" fill="#beaed4" opacity="0.77"/>
<rect x="126.3" y="406.4" width="1.0" height="12.2" fill="#fdc086" opacity="0.85"/>
<rect x="127.0" y="406.4" width="0.6" height="12.2" fill="#7fc97f" opacity="0.88"/>
<rect x="127.7" y="406.4" width="1.6" height="12.2" fill="#beaed4" opacity="0.86"/>
<rect x="128.8" y="406.4" width="1.0" height="12.2" fill="#fdc086" opacity="0.74"/>
<rect x="129.7" y="406.4" width="0.8" height="12.2" fill="#fdc086" opacity="0.78"/>
<rect x="130.4" y="406.4" width="1.0" height="12.2" fill="#fdc086" opacity="0.71"/>
<rect x="131.5" y="406.4" width="0.4" height="12.2" fill="#386cb0" opacity="0.64"/>
<rect x="132.4" y="406.4" width="1.6" height="12.2" fill="#7fc97f" opacity="0.74"/>
<rect x="132.9" y="406.4" width="1.0" height="12.2" fill="#7fc97f" opacity="0.96"/>
<rect x="133.8" y="406.4" width="0.6" height="12.2" fill="#fdc086" opacity="0.98"/>
<rect x="134.7" y="406.4" width="1.0" height="12.2" fill="#7fc97f" opacity="0.89"/>
<rect x="135.6" y="406.4" width="0.4" height="12.2" fill="#7fc97f" opacity="0.72"/>
<rect x="136.1" y="406.4" width="1.0" height="12.2" fill="#fdc086" opacity="0.80"/>
<rect x="136.6" y="406.4" width="1.0" height="12.2" fill="#7fc97f" opacity="0.99"/>
<rect x="137.5" y="406.4" width="1.6" height="12.2" fill="#fdc086" opacity="0.74"/>
<rect x="138.0" y="406.4" width="1.6" height="12.2" fill="#7fc97f" opacity="0.73"/>
<rect x="139.1" y="406.4" width="0.8" height="12.2" fill="#386cb0" opacity="0.74"/>
<rect x="140.0" y="406.4" width="1.0" height="12.2" fill="#fdc086" opacity="0.84"/>
<rect x="140.9" y="406.4" width="0.6" height="12.2" fill="#fdc086" opacity="0.96"/>
<rect x="142.0" y="406.4" width="0.6" height="12.2" fill="#386cb0" opacity="0.79"/>
<rect x="142.5" y="406.4" width="1.0" height="12.2" fill="#7fc97f" opacity="0.87"/>
<rect x="143.4" y="406.4" width="0.8" height="12.2" fill="#fdc086" opacity="0.70"/>
<rect x="144.5" y="406.4" width="0.6" height="12.2" fill="#7fc97f" opacity="0.78"/>
<rect x="145.2" y="406.4" width="1.3" height="12.2" fill="#fdc086" opacity="0.83"/>
<rect x="145.7" y="406.4" width="1.6" height="12.2" fill="#7fc97f" opacity="0.86"/>
<rect x="146.4" y="406.4" width="1.3" height="12.2" fill="#fdc086" opacity="0.70"/>
<rect x="148.2" y="406.4" width="1.0" height="12.2" fill="#7fc97f" opacity="0.93"/>
<rect x="149.3" y="406.4" width="0.6" height="12.2" fill="#fdc086" opacity="0.81"/>
<rect x="150.4" y="406.4" width="0.4" height="12.2" fill="#386cb0" opacity="0.72"/>
<rect x="151.1" y="406.4" width="0.4" height="12.2" fill="#7fc97f" opacity="0.89"/>
<rect x="152.0" y="406.4" width="1.0" height="12.2" fill="#7fc97f" opacity="0.93"/>
<rect x="153.1" y="406.4" width="1.6" height="12.2" fill="#fdc086" opacity="0.99"/>
<rect x="153.8" y="406.4" width="1.3" height="12.2" fill="#7fc97f" opacity="0.81"/>
<rect x="154.3" y="406.4" width="1.0" height="12.2" fill="#fdc086" opacity="0.77"/>
<rect x="155.2" y="406.4" width="0.8" height="12.2" fill="#7fc97f" opacity="0.73"/>
<rect x="155.9" y="406.4" width="1.6" height="12.2" fill="#fdc086" opacity="0.81"/>
<rect x="156.6" y="406.4" width="0.8" height="12.2" fill="#7fc97f" opacity="0.93"/>
<rect x="157.3" y="406.4" width="0.4" height="12.2" fill="#7fc97f" opacity="0.81"/>
<rect x="158.4" y="406.4" width="1.6" height="12.2" fill="#fdc086" opacity="0.71"/>
<rect x="159.5" y="406.4" width="1.0" height="12.2" fill="#7fc97f" opacity="0.99"/>
<rect x="160.0" y="406.4" width="1.3" height="12.2" fill="#7fc97f" opacity="0.86"/>
<rect x="160.5" y="406.4" width="0.8" height="12.2" fill="#7fc97f" opacity="0.94"/>
<rect x="161.0" y="406.4" width="1.0" height="12.2" fill="#7fc97f" opacity="0.88"/>
<rect x="161.9" y="406.4" width="1.0" height="12.2" fill="#fdc086" opacity="0.85"/>
<rect x="162.4" y="406.4" width="0.8" height="12.2" fill="#fdc086" opacity="0.82"/>
<rect x="162.9" y="406.4" width="1.0" height="12.2" fill="#7fc97f" opacity="0.77"/>
<rect x="163.8" y="406.4" width="1.0" height="12.2" fill="#7fc97f" opacity="0.72"/>
<rect x="164.9" y="406.4" width="0.8" height="12.2" fill="#7fc97f" opacity="0.87"/>
<rect x="165.8" y="406.4" width="1.3" height="12.2" fill="#beaed4" opacity="0.81"/>
<rect x="166.7" y="406.4" width="0.4" height="12.2" fill="#7fc97f" opacity="0.79"/>
<rect x="167.2" y="406.4" width="1.0" height="12.2" fill="#fdc086" opacity="0.92"/>
<rect x="167.7" y="406.4" width="1.0" height="12.2" fill="#fdc086" opacity="0.75"/>
<rect x="168.8" y="406.4" width="1.3" height="12.2" fill="#fdc086" opacity="0.73"/>
<rect x="169.9" y="406.4" width="1.3" height="12.2" fill="#7fc97f" opacity="0.99"/>
<rect x="170.6" y="406.4" width="1.0" height="12.2" fill="#386cb0" opacity="0.82"/>
<rect x="171.1" y="406.4" width="1.3" height="12.2" fill="#fdc086" opacity="0.87"/>
<rect x="171.6" y="406.4" width="0.6" height="12.2" fill="#7fc97f" opacity="0.98"/>
<rect x="172.3" y="406.4" width="0.8" height="12.2" fill="#7fc97f" opacity="0.93"/>
<rect x="173.4" y="406.4" width="1.6" height="12.2" fill="#7fc97f" opacity="0.97"/>
<rect x="173.9" y="406.4" width="1.6" height="12.2" fill="#7fc97f" opacity="0.91"/>
<rect x="174.8" y="406.4" width="1.0" height="12.2" fill="#fdc086" opacity="0.92"/>
<rect x="175.3" y="406.4" width="1.6" height="12.2" fill="#fdc086" opacity="0.71"/>
<rect x="176.4" y="406.4" width="0.6" height="12.2" fill="#7fc97f" opacity="0.97"/>
<rect x="177.5" y="406.4" width="1.0" height="12.2" fill="#7fc97f" opacity="0.87"/>
<rect x="178.0" y="406.4" width="1.3" height="12.2" fill="#7fc97f" opacity="0.88"/>
<rect x="178.5" y="406.4" width="1.3" height="12.2" fill="#7fc97f" opacity="0.77"/>
<rect x="179.6" y="406.4" width="1.0" height="12.2" fill="#fdc086" opacity="0.80"/>
<rect x="180.5" y="406.4" width="0.4" height="12.2" fill="#7fc97f" opacity="0.98"/>
<rect x="181.0" y="406.4" width="0.4" height="12.2" fill="#7fc97f" opacity="0.94"/>
<rect x="181.9" y="406.4" width="1.0" height="12.2" fill="#386cb0" opacity="0.84"/>
<rect x="183.0" y="406.4" width="0.8" height="12.2" fill="#fdc086" opacity="0.85"/>
<rect x="183.9" y="406.4" width="1.3" height="12.2" fill="#fdc086" opacity="0.80"/>
<rect x="184.6" y="406.4" width="0.6" height="12.2" fill="#7fc97f" opacity="0.92"/>
<rect x="185.1" y="406.4" width="1.6" height="12.2" fill="#fdc086" opacity="0.95"/>
<rect x="186.0" y="406.4" width="1.6" height="12.2" fill="#fdc086" opacity="0.71"/>
<rect x="186.5" y="406.4" width="1.0" height="12.2" fill="#7fc97f" opacity="0.88"/>
<rect x="188.3" y="406.4" width="1.6" height="12.2" fill="#7fc97f" opacity="0.72"/>
<rect x="188.8" y="406.4" width="1.0" height="12.2" fill="#fdc086" opacity="0.94"/>
<rect x="190.6" y="406.4" width="1.6" height="12.2" fill="#fdc086" opacity="0.91"/>
<rect x="191.3" y="406.4" width="1.0" height="12.2" fill="#386cb0" opacity="0.81"/>
<rect x="192.0" y="406.4" width="1.0" height="12.2" fill="#fdc086" opacity="0.88"/>
<rect x="192.7" y="406.4" width="0.4" height="12.2" fill="#fdc086" opacity="0.91"/>
<rect x="193.4" y="406.4" width="1.3" height="12.2" fill="#7fc97f" opacity="0.72"/>
<rect x="193.9" y="406.4" width="0.4" height="12.2" fill="#fdc086" opacity="0.86"/>
<rect x="194.4" y="406.4" width="1.3" height="12.2" fill="#beaed4" opacity="0.72"/>
<rect x="195.5" y="406.4" width="0.4" height="12.2" fill="#fdc086" opacity="0.88"/>
<rect x="197.1" y="406.4" width="0.4" height="12.2" fill="#fdc086" opacity="0.80"/>
<rect x="199.6" y="406.4" width="1.6" height="12.2" fill="#7fc97f" opacity="0.70"/>
<rect x="203.0" y="406.4" width="1.6" height="12.2" fill="#7fc97f" opacity="0.88"/>
<rect x="204.1" y="406.4" width="0.4" height="12.2" fill="#7fc97f" opacity="0.99"/>
<rect x="204.8" y="406.4" width="0.8" height="12.2" fill="#7fc97f" opacity="0.70"/>
<rect x="205.7" y="406.4" width="1.6" height="12.2" fill="#7fc97f" opacity="0.85"/>
<rect x="206.6" y="406.4" width="0.8" height="12.2" fill="#7fc97f" opacity="0.80"/>
<rect x="209.3" y="406.4" width="0.6" height="12.2" fill="#7fc97f" opacity="0.73"/>
<rect x="210.5" y="406.4" width="1.3" height="12.2" fill="#7fc97f" opacity="0.81"/>
<rect x="211.4" y="406.4" width="0.8" height="12.2" fill="#7fc97f" opacity="0.83"/>
<rect x="211.9" y="406.4" width="0.4" height="12.2" fill="#7fc97f" opacity="0.77"/>
<rect x="212.8" y="406.4" width="1.3" height="12.2" fill="#386cb0" opacity="0.82"/>
<rect x="213.7" y="406.4" width="0.8" height="12.2" fill="#7fc97f" opacity="0.87"/>
<rect x="214.2" y="406.4" width="1.3" height="12.2" fill="#386cb0" opacity="0.63"/>
<rect x="214.7" y="406.4" width="0.6" height="12.2" fill="#7fc97f" opacity="0.97"/>
<rect x="215.8" y="406.4" width="1.0" height="12.2" fill="#7fc97f" opacity="0.91"/>
<rect x="216.3" y="406.4" width="0.4" height="12.2" fill="#386cb0" opacity="0.77"/>
<rect x="216.8" y="406.4" width="0.6" height="12.2" fill="#fdc086" opacity="0.80"/>
<rect x="217.5" y="406.4" width="1.3" height="12.2" fill="#fdc086" opacity="0.96"/>
<rect x="218.4" y="406.4" width="1.0" height="12.2" fill="#7fc97f" opacity="0.76"/>
<rect x="218.9" y="406.4" width="0.4" height="12.2" fill="#fdc086" opacity="0.99"/>
<rect x="220.0" y="406.4" width="0.6" height="12.2" fill="#386cb0" opacity="0.78"/>
<rect x="220.9" y="406.4" width="0.8" height="12.2" fill="#7fc97f" opacity="0.73"/>
<rect x="221.4" y="406.4" width="0.4" height="12.2" fill="#7fc97f" opacity="0.87"/>
<rect x="222.5" y="406.4" width="0.8" height="12.2" fill="#7fc97f" opacity="0.76"/>
<rect x="223.6" y="406.4" width="0.4" height="12.2" fill="#7fc97f" opacity="0.89"/>
<rect x="224.1" y="406.4" width="0.6" height="12.2" fill="#7fc97f" opacity="0.91"/>
<rect x="224.8" y="406.4" width="0.6" height="12.2" fill="#beaed4" opacity="0.85"/>
<rect x="225.3" y="406.4" width="1.3" height="12.2" fill="#beaed4" opacity="0.95"/>
<rect x="226.0" y="406.4" width="0.8" height="12.2" fill="#fdc086" opacity="0.70"/>
<rect x="226.9" y="406.4" width="1.0" height="12.2" fill="#7fc97f" opacity="0.96"/>
<rect x="227.6" y="406.4" width="1.3" height="12.2" fill="#7fc97f" opacity="0.74"/>
<rect x="228.1" y="406.4" width="0.8" height="12.2" fill="#7fc97f" opacity="0.74"/>
<rect x="233.7" y="406.4" width="0.8" height="12.2" fill="#7fc97f" opacity="0.87"/>
<rect x="234.4" y="406.4" width="0.6" height="12.2" fill="#fdc086" opacity="0.77"/>
<rect x="235.1" y="406.4" width="0.8" height="12.2" fill="#7fc97f" opacity="1.00"/>
<rect x="236.0" y="406.4" width="0.4" height="12.2" fill="#fdc086" opacity="0.72"/>
<rect x="237.1" y="406.4" width="1.0" height="12.2" fill="#386cb0" opacity="0.66"/>
<rect x="237.6" y="406.4" width="1.3" height="12.2" fill="#7fc97f" opacity="0.70"/>
<rect x="238.3" y="406.4" width="0.8" height="12.2" fill="#fdc086" opacity="0.88"/>
<rect x="239.4" y="406.4" width="1.6" height="12.2" fill="#7fc97f" opacity="0.79"/>
<rect x="239.9" y="406.4" width="1.6" height="12.2" fill="#386cb0" opacity="0.85"/>
<rect x="240.6" y="406.4" width="1.0" height="12.2" fill="#7fc97f" opacity="0.85"/>
<rect x="241.1" y="406.4" width="0.6" height="12.2" fill="#fdc086" opacity="0.94"/>
<rect x="242.2" y="406.4" width="0.6" height="12.2" fill="#fdc086" opacity="0.95"/>
<rect x="242.9" y="406.4" width="0.6" height="12.2" fill="#7fc97f" opacity="0.93"/>
<rect x="244.0" y="406.4" width="0.6" height="12.2" fill="#7fc97f" opacity="0.83"/>
<rect x="244.9" y="406.4" width="0.8" height="12.2" fill="#7fc97f" opacity="0.87"/>
<rect x="245.6" y="406.4" width="1.3" height="12.2" fill="#7fc97f" opacity="0.84"/>
<rect x="246.1" y="406.4" width="1.0" height="12.2" fill="#fdc086" opacity="0.92"/>
<rect x="247.2" y="406.4" width="1.0" height="12.2" fill="#fdc086" opacity="0.98"/>
<rect x="247.7" y="406.4" width="1.0" height="12.2" fill="#fdc086" opacity="0.90"/>
<rect x="248.2" y="406.4" width="1.3" height="12.2" fill="#7fc97f" opacity="0.83"/>
<rect x="248.9" y="406.4" width="0.4" height="12.2" fill="#fdc086" opacity="0.96"/>
<rect x="249.6" y="406.4" width="1.6" height="12.2" fill="#fdc086" opacity="0.86"/>
<rect x="250.1" y="406.4" width="1.0" height="12.2" fill="#7fc97f" opacity="0.92"/>
<rect x="250.8" y="406.4" width="0.8" height="12.2" fill="#7fc97f" opacity="0.77"/>
<rect x="251.7" y="406.4" width="1.3" height="12.2" fill="#7fc97f" opacity="0.76"/>
<rect x="252.2" y="406.4" width="0.4" height="12.2" fill="#fdc086" opacity="0.96"/>
<rect x="252.9" y="406.4" width="0.8" height="12.2" fill="#fdc086" opacity="0.77"/>
<rect x="253.6" y="406.4" width="1.6" height="12.2" fill="#fdc086" opacity="0.92"/>
<rect x="254.5" y="406.4" width="0.6" height="12.2" fill="#7fc97f" opacity="0.96"/>
<rect x="255.2" y="406.4" width="0.8" height="12.2" fill="#7fc97f" opacity="0.87"/>
<rect x="255.7" y="406.4" width="1.6" height="12.2" fill="#7fc97f" opacity="0.92"/>
<rect x="256.2" y="406.4" width="0.6" height="12.2" fill="#7fc97f" opacity="0.73"/>
<rect x="256.9" y="406.4" width="1.0" height="12.2" fill="#7fc97f" opacity="0.81"/>
<rect x="257.4" y="406.4" width="1.6" height="12.2" fill="#386cb0" opacity="0.75"/>
<rect x="258.1" y="406.4" width="1.3" height="12.2" fill="#fdc086" opacity="0.73"/>
<rect x="259.0" y="406.4" width="1.6" height="12.2" fill="#7fc97f" opacity="0.75"/>
<rect x="259.7" y="406.4" width="0.6" height="12.2" fill="#7fc97f" opacity="0.83"/>
<rect x="260.6" y="406.4" width="1.3" height="12.2" fill="#fdc086" opacity="0.71"/>
<rect x="261.3" y="406.4" width="1.3" height="12.2" fill="#fdc086" opacity="0.79"/>
<rect x="262.4" y="406.4" width="0.4" height="12.2" fill="#386cb0" opacity="0.67"/>
<rect x="263.5" y="406.4" width="1.0" height="12.2" fill="#beaed4" opacity="0.99"/>
<rect x="264.0" y="406.4" width="1.6" height="12.2" fill="#7fc97f" opacity="0.76"/>
<rect x="264.7" y="406.4" width="0.6" height="12.2" fill="#fdc086" opacity="0.75"/>
<rect x="265.8" y="406.4" width="0.6" height="12.2" fill="#7fc97f" opacity="0.84"/>
<rect x="266.5" y="406.4" width="0.4" height="12.2" fill="#fdc086" opacity="0.99"/>
<rect x="267.4" y="406.4" width="0.6" height="12.2" fill="#7fc97f" opacity="0.81"/>
<rect x="273.5" y="406.4" width="0.8" height="12.2" fill="#386cb0" opacity="0.85"/>
<rect x="274.6" y="406.4" width="0.8" height="12.2" fill="#fdc086" opacity="0.82"/>
<rect x="275.1" y="406.4" width="0.8" height="12.2" fill="#fdc086" opacity="0.92"/>
<rect x="275.8" y="406.4" width="1.0" height="12.2" fill="#386cb0" opacity="0.72"/>
<rect x="276.7" y="406.4" width="1.3" height="12.2" fill="#7fc97f" opacity="0.96"/>
<rect x="277.2" y="406.4" width="1.6" height="12.2" fill="#beaed4" opacity="0.75"/>
<rect x="278.1" y="406.4" width="0.4" height="12.2" fill="#ffff99" opacity="0.64"/>
<rect x="278.8" y="406.4" width="1.3" height="12.2" fill="#7fc97f" opacity="0.79"/>
<rect x="279.9" y="406.4" width="0.6" height="12.2" fill="#386cb0" opacity="0.71"/>
<rect x="281.0" y="406.4" width="0.8" height="12.2" fill="#7fc97f" opacity="0.79"/>
<rect x="281.5" y="406.4" width="1.0" height="12.2" fill="#fdc086" opacity="0.70"/>
<rect x="282.6" y="406.4" width="1.3" height="12.2" fill="#fdc086" opacity="0.80"/>
<rect x="283.1" y="406.4" width="0.6" height="12.2" fill="#beaed4" opacity="0.79"/>
<rect x="283.8" y="406.4" width="0.6" height="12.2" fill="#7fc97f" opacity="0.83"/>
<rect x="284.7" y="406.4" width="1.6" height="12.2" fill="#beaed4" opacity="0.94"/>
<rect x="285.4" y="406.4" width="1.6" height="12.2" fill="#fdc086" opacity="0.80"/>
<rect x="286.3" y="406.4" width="1.0" height="12.2" fill="#beaed4" opacity="1.00"/>
<rect x="287.2" y="406.4" width="1.0" height="12.2" fill="#7fc97f" opacity="0.83"/>
<rect x="287.9" y="406.4" width="0.6" height="12.2" fill="#fdc086" opacity="0.73"/>
<rect x="288.4" y="406.4" width="0.4" height="12.2" fill="#fdc086" opacity="0.97"/>
<rect x="288.9" y="406.4" width="1.0" height="12.2" fill="#7fc97f" opacity="0.84"/>
<rect x="289.6" y="406.4" width="1.6" height="12.2" fill="#7fc97f" opacity="0.79"/>
<rect x="290.7" y="406.4" width="1.3" height="12.2" fill="#fdc086" opacity="0.96"/>
<rect x="291.2" y="406.4" width="1.6" height="12.2" fill="#fdc086" opacity="0.84"/>
<rect x="292.1" y="406.4" width="0.4" height="12.2" fill="#7fc97f" opacity="0.83"/>
<rect x="292.8" y="406.4" width="1.0" height="12.2" fill="#fdc086" opacity="0.85"/>
<rect x="293.5" y="406.4" width="0.4" height="12.2" fill="#fdc086" opacity="0.72"/>
<rect x="294.4" y="406.4" width="1.6" height="12.2" fill="#7fc97f" opacity="0.70"/>
<rect x="295.3" y="406.4" width="0.4" height="12.2" fill="#7fc97f" opacity="1.00"/>
<rect x="296.4" y="406.4" width="1.6" height="12.2" fill="#7fc97f" opacity="0.73"/>
<rect x="296.9" y="406.4" width="0.4" height="12.2" fill="#7fc97f" opacity="0.86"/>
<rect x="297.6" y="406.4" width="1.3" height="12.2" fill="#7fc97f" opacity="0.74"/>
<rect x="298.3" y="406.4" width="1.3" height="12.2" fill="#7fc97f" opacity="0.93"/>
<rect x="299.4" y="406.4" width="0.6" height="12.2" fill="#7fc97f" opacity="0.94"/>
<rect x="300.1" y="406.4" width="0.6" height="12.2" fill="#7fc97f" opacity="0.87"/>
<rect x="301.0" y="406.4" width="0.8" height="12.2" fill="#7fc97f" opacity="0.94"/>
<rect x="302.1" y="406.4" width="0.4" height="12.2" fill="#beaed4" opacity="0.82"/>
<rect x="302.6" y="406.4" width="0.8" height="12.2" fill="#fdc086" opacity="0.80"/>
<rect x="303.5" y="406.4" width="1.0" height="12.2" fill="#7fc97f" opacity="0.95"/>
<rect x="304.6" y="406.4" width="0.8" height="12.2" fill="#fdc086" opacity="0.71"/>
<rect x="305.5" y="406.4" width="1.0" height="12.2" fill="#fdc086" opacity="0.86"/>
<rect x="306.4" y="406.4" width="0.4" height="12.2" fill="#beaed4" opacity="0.88"/>
<rect x="307.3" y="406.4" width="1.3" height="12.2" fill="#beaed4" opacity="0.92"/>
<rect x="308.0" y="406.4" width="0.4" height="12.2" fill="#7fc97f" opacity="0.95"/>
<rect x="308.5" y="406.4" width="1.3" height="12.2" fill="#386cb0" opacity="0.69"/>
<rect x="309.0" y="406.4" width="1.0" height="12.2" fill="#fdc086" opacity="0.71"/>
<rect x="310.1" y="406.4" width="0.6" height="12.2" fill="#7fc97f" opacity="0.85"/>
<rect x="310.8" y="406.4" width="0.4" height="12.2" fill="#fdc086" opacity="0.88"/>
<rect x="311.5" y="406.4" width="0.6" height="12.2" fill="#7fc97f" opacity="0.94"/>
<rect x="312.6" y="406.4" width="1.6" height="12.2" fill="#fdc086" opacity="0.87"/>
<rect x="313.7" y="406.4" width="1.3" height="12.2" fill="#7fc97f" opacity="0.76"/>
<rect x="314.2" y="406.4" width="1.6" height="12.2" fill="#386cb0" opacity="0.73"/>
<rect x="314.7" y="406.4" width="0.8" height="12.2" fill="#7fc97f" opacity="0.88"/>
<rect x="315.8" y="406.4" width="1.0" height="12.2" fill="#ffff99" opacity="0.64"/>
<rect x="317.2" y="406.4" width="1.3" height="12.2" fill="#7fc97f" opacity="0.83"/>
<rect x="317.7" y="406.4" width="1.6" height="12.2" fill="#fdc086" opacity="0.82"/>
<rect x="318.8" y="406.4" width="0.8" height="12.2" fill="#7fc97f" opacity="0.95"/>
<rect x="319.9" y="406.4" width="1.3" height="12.2" fill="#7fc97f" opacity="0.78"/>
<rect x="320.8" y="406.4" width="1.3" height="12.2" fill="#386cb0" opacity="0.63"/>
<rect x="321.3" y="406.4" width="0.8" height="12.2" fill="#fdc086" opacity="0.90"/>
<rect x="322.0" y="406.4" width="0.8" height="12.2" fill="#7fc97f" opacity="0.89"/>
<rect x="323.2" y="406.4" width="0.6" height="12.2" fill="#beaed4" opacity="0.95"/>
<rect x="324.1" y="406.4" width="0.6" height="12.2" fill="#7fc97f" opacity="0.93"/>
<rect x="325.2" y="406.4" width="1.0" height="12.2" fill="#fdc086" opacity="0.87"/>
<rect x="325.9" y="406.4" width="0.8" height="12.2" fill="#fdc086" opacity="0.71"/>
<rect x="326.8" y="406.4" width="0.6" height="12.2" fill="#fdc086" opacity="0.86"/>
<rect x="327.5" y="406.4" width="1.3" height="12.2" fill="#7fc97f" opacity="0.87"/>
<rect x="328.2" y="406.4" width="0.8" height="12.2" fill="#fdc086" opacity="0.83"/>
<rect x="329.1" y="406.4" width="1.0" height="12.2" fill="#7fc97f" opacity="0.86"/>
<rect x="330.2" y="406.4" width="0.6" height="12.2" fill="#fdc086" opacity="0.90"/>
<rect x="331.1" y="406.4" width="0.8" height="12.2" fill="#fdc086" opacity="0.91"/>
<rect x="331.8" y="406.4" width="1.6" height="12.2" fill="#7fc97f" opacity="0.73"/>
<rect x="332.3" y="406.4" width="1.0" height="12.2" fill="#7fc97f" opacity="0.77"/>
<rect x="333.2" y="406.4" width="0.6" height="12.2" fill="#7fc97f" opacity="0.90"/>
<rect x="334.1" y="406.4" width="0.8" height="12.2" fill="#7fc97f" opacity="0.75"/>
<rect x="334.8" y="406.4" width="1.6" height="12.2" fill="#beaed4" opacity="0.78"/>
<rect x="335.9" y="406.4" width="1.0" height="12.2" fill="#7fc97f" opacity="0.84"/>
<rect x="336.4" y="406.4" width="0.8" height="12.2" fill="#7fc97f" opacity="0.81"/>
<rect x="337.5" y="406.4" width="1.0" height="12.2" fill="#7fc97f" opacity="0.92"/>
<rect x="338.0" y="406.4" width="0.6" height="12.2" fill="#386cb0" opacity="0.68"/>
<rect x="338.7" y="406.4" width="1.6" height="12.2" fill="#7fc97f" opacity="0.78"/>
<rect x="339.6" y="406.4" width="0.8" height="12.2" fill="#7fc97f" opacity="0.77"/>
<rect x="340.1" y="406.4" width="1.6" height="12.2" fill="#fdc086" opacity="0.85"/>
<rect x="340.6" y="406.4" width="1.6" height="12.2" fill="#7fc97f" opacity="0.79"/>
<rect x="341.3" y="406.4" width="1.6" height="12.2" fill="#fdc086" opacity="0.93"/>
<rect x="342.0" y="406.4" width="1.6" height="12.2" fill="#beaed4" opacity="0.86"/>
<rect x="343.1" y="406.4" width="1.0" height="12.2" fill="#fdc086" opacity="0.85"/>
<rect x="344.0" y="406.4" width="0.4" height="12.2" fill="#fdc086" opacity="0.71"/>
<rect x="344.7" y="406.4" width="0.4" height="12.2" fill="#fdc086" opacity="0.86"/>
<rect x="345.4" y="406.4" width="1.0" height="12.2" fill="#386cb0" opacity="0.83"/>
<rect x="346.5" y="406.4" width="1.6" height="12.2" fill="#7fc97f" opacity="0.74"/>
<rect x="347.0" y="406.4" width="1.6" height="12.2" fill="#7fc97f" opacity="1.00"/>
<rect x="347.5" y="406.4" width="1.3" height="12.2" fill="#7fc97f" opacity="0.93"/>
<rect x="348.6" y="406.4" width="0.6" height="12.2" fill="#fdc086" opacity="0.86"/>
<rect x="349.5" y="406.4" width="1.0" height="12.2" fill="#7fc97f" opacity="0.72"/>
<rect x="350.0" y="406.4" width="0.8" height="12.2" fill="#fdc086" opacity="0.98"/>
<rect x="350.5" y="406.4" width="1.3" height="12.2" fill="#fdc086" opacity="0.73"/>
<rect x="351.4" y="406.4" width="1.6" height="12.2" fill="#7fc97f" opacity="0.85"/>
<rect x="352.5" y="406.4" width="0.4" height="12.2" fill="#fdc086" opacity="0.92"/>
<rect x="353.2" y="406.4" width="1.3" height="12.2" fill="#7fc97f" opacity="0.85"/>
<rect x="354.3" y="406.4" width="1.6" height="12.2" fill="#7fc97f" opacity="0.78"/>
<rect x="355.0" y="406.4" width="1.3" height="12.2" fill="#fdc086" opacity="0.84"/>
<rect x="355.5" y="406.4" width="1.3" height="12.2" fill="#fdc086" opacity="0.79"/>
<rect x="356.0" y="406.4" width="0.6" height="12.2" fill="#7fc97f" opacity="0.97"/>
<rect x="357.1" y="406.4" width="0.4" height="12.2" fill="#fdc086" opacity="0.91"/>
<rect x="358.2" y="406.4" width="0.6" height="12.2" fill="#beaed4" opacity="0.73"/>
<rect x="358.9" y="406.4" width="0.6" height="12.2" fill="#7fc97f" opacity="0.85"/>
<rect x="359.6" y="406.4" width="1.6" height="12.2" fill="#7fc97f" opacity="0.76"/>
<rect x="360.7" y="406.4" width="0.6" height="12.2" fill="#386cb0" opacity="0.76"/>
<rect x="361.8" y="406.4" width="1.6" height="12.2" fill="#fdc086" opacity="0.79"/>
<rect x="362.3" y="406.4" width="0.4" height="12.2" fill="#fdc086" opacity="0.88"/>
<rect x="362.8" y="406.4" width="0.8" height="12.2" fill="#7fc97f" opacity="0.94"/>
<rect x="363.5" y="406.4" width="0.4" height="12.2" fill="#386cb0" opacity="0.78"/>
<rect x="364.0" y="406.4" width="1.0" height="12.2" fill="#7fc97f" opacity="0.96"/>
<rect x="364.7" y="406.4" width="1.0" height="12.2" fill="#fdc086" opacity="0.76"/>
<rect x="365.8" y="406.4" width="0.6" height="12.2" fill="#386cb0" opacity="0.84"/>
<rect x="366.3" y="406.4" width="1.0" height="12.2" fill="#7fc97f" opacity="0.72"/>
<rect x="367.3" y="406.4" width="0.4" height="12.2" fill="#fdc086" opacity="0.92"/>
<rect x="368.4" y="406.4" width="0.4" height="12.2" fill="#7fc97f" opacity="0.83"/>
<rect x="369.3" y="406.4" width="0.6" height="12.2" fill="#7fc97f" opacity="0.97"/>
<rect x="370.2" y="406.4" width="0.8" height="12.2" fill="#fdc086" opacity="0.89"/>
<rect x="370.9" y="406.4" width="1.6" height="12.2" fill="#fdc086" opacity="0.99"/>
<rect x="372.7" y="406.4" width="0.8" height="12.2" fill="#386cb0" opacity="0.83"/>
<rect x="373.4" y="406.4" width="0.4" height="12.2" fill="#fdc086" opacity="0.99"/>
<rect x="373.9" y="406.4" width="0.6" height="12.2" fill="#fdc086" opacity="0.81"/>
<rect x="375.0" y="406.4" width="0.4" height="12.2" fill="#fdc086" opacity="0.88"/>
<rect x="375.5" y="406.4" width="1.0" height="12.2" fill="#fdc086" opacity="0.79"/>
<rect x="376.2" y="406.4" width="1.3" height="12.2" fill="#beaed4" opacity="0.81"/>
<rect x="377.1" y="406.4" width="1.0" height="12.2" fill="#7fc97f" opacity="0.92"/>
<rect x="377.8" y="406.4" width="1.3" height="12.2" fill="#fdc086" opacity="0.94"/>
<rect x="378.7" y="406.4" width="0.8" height="12.2" fill="#7fc97f" opacity="0.81"/>
<rect x="379.4" y="406.4" width="0.6" height="12.2" fill="#386cb0" opacity="0.77"/>
<rect x="380.5" y="406.4" width="1.3" height="12.2" fill="#fdc086" opacity="0.86"/>
<rect x="381.4" y="406.4" width="0.4" height="12.2" fill="#7fc97f" opacity="0.81"/>
<rect x="382.3" y="406.4" width="0.4" height="12.2" fill="#7fc97f" opacity="0.79"/>
<rect x="383.0" y="406.4" width="0.4" height="12.2" fill="#7fc97f" opacity="0.72"/>
<rect x="383.9" y="406.4" width="0.8" height="12.2" fill="#7fc97f" opacity="0.89"/>
<rect x="384.4" y="406.4" width="1.0" height="12.2" fill="#fdc086" opacity="0.98"/>
<rect x="385.3" y="406.4" width="0.4" height="12.2" fill="#beaed4" opacity="0.93"/>
<rect x="386.4" y="406.4" width="0.4" height="12.2" fill="#7fc97f" opacity="0.82"/>
<rect x="386.9" y="406.4" width="0.4" height="12.2" fill="#7fc97f" opacity="0.73"/>
<rect x="388.0" y="406.4" width="1.3" height="12.2" fill="#fdc086" opacity="0.76"/>
<rect x="388.7" y="406.4" width="0.6" height="12.2" fill="#fdc086" opacity="0.98"/>
<rect x="389.2" y="406.4" width="1.6" height="12.2" fill="#7fc97f" opacity="0.83"/>
<rect x="390.1" y="406.4" width="1.3" height="12.2" fill="#fdc086" opacity="0.76"/>
<rect x="391.2" y="406.4" width="1.6" height="12.2" fill="#beaed4" opacity="0.72"/>
<rect x="391.9" y="406.4" width="1.6" height="12.2" fill="#fdc086" opacity="0.76"/>
<rect x="392.8" y="406.4" width="0.4" height="12.2" fill="#beaed4" opacity="0.88"/>
<rect x="393.5" y="406.4" width="0.8" height="12.2" fill="#386cb0" opacity="0.61"/>
<rect x="394.6" y="406.4" width="1.0" height="12.2" fill="#386cb0" opacity="0.76"/>
<rect x="396.0" y="406.4" width="1.3" height="12.2" fill="#7fc97f" opacity="0.89"/>
<rect x="396.7" y="406.4" width="0.6" height="12.2" fill="#7fc97f" opacity="0.71"/>
<rect x="398.1" y="406.4" width="1.6" height="12.2" fill="#fdc086" opacity="0.88"/>
<rect x="399.0" y="406.4" width="0.6" height="12.2" fill="#7fc97f" opacity="0.85"/>
<rect x="399.9" y="406.4" width="1.3" height="12.2" fill="#7fc97f" opacity="0.89"/>
<rect x="401.3" y="406.4" width="1.3" height="12.2" fill="#fdc086" opacity="0.70"/>
<rect x="402.4" y="406.4" width="0.6" height="12.2" fill="#beaed4" opacity="0.70"/>
<rect x="403.5" y="406.4" width="1.6" height="12.2" fill="#386cb0" opacity="0.82"/>
<rect x="405.7" y="406.4" width="0.8" height="12.2" fill="#fdc086" opacity="0.81"/>
<rect x="406.4" y="406.4" width="0.6" height="12.2" fill="#fdc086" opacity="0.83"/>
<rect x="407.3" y="406.4" width="0.8" height="12.2" fill="#beaed4" opacity="0.94"/>
<rect x="407.8" y="406.4" width="0.4" height="12.2" fill="#fdc086" opacity="0.91"/>
<rect x="408.3" y="406.4" width="1.3" height="12.2" fill="#fdc086" opacity="0.98"/>
<rect x="409.4" y="406.4" width="1.3" height="12.2" fill="#7fc97f" opacity="0.76"/>
<rect x="410.3" y="406.4" width="0.8" height="12.2" fill="#fdc086" opacity="0.70"/>
<rect x="411.0" y="406.4" width="1.0" height="12.2" fill="#beaed4" opacity="0.92"/>
<rect x="411.9" y="406.4" width="1.6" height="12.2" fill="#7fc97f" opacity="0.80"/>
<rect x="413.0" y="406.4" width="1.3" height="12.2" fill="#7fc97f" opacity="0.89"/>
<rect x="415.0" y="406.4" width="1.6" height="12.2" fill="#beaed4" opacity="0.98"/>
<rect x="415.5" y="406.4" width="1.3" height="12.2" fill="#386cb0" opacity="0.66"/>
<rect x="417.3" y="406.4" width="1.3" height="12.2" fill="#fdc086" opacity="0.90"/>
<rect x="417.8" y="406.4" width="0.4" height="12.2" fill="#7fc97f" opacity="0.88"/>
<rect x="418.9" y="406.4" width="0.8" height="12.2" fill="#7fc97f" opacity="0.75"/>
<rect x="421.0" y="406.4" width="1.3" height="12.2" fill="#fdc086" opacity="0.78"/>
<rect x="422.4" y="406.4" width="1.3" height="12.2" fill="#fdc086" opacity="0.81"/>
<rect x="422.9" y="406.4" width="1.6" height="12.2" fill="#7fc97f" opacity="0.76"/>
<rect x="424.3" y="406.4" width="1.6" height="12.2" fill="#fdc086" opacity="0.71"/>
<rect x="425.2" y="406.4" width="1.3" height="12.2" fill="#7fc97f" opacity="0.72"/>
<rect x="425.9" y="406.4" width="1.0" height="12.2" fill="#7fc97f" opacity="0.77"/>
<rect x="426.8" y="406.4" width="0.4" height="12.2" fill="#fdc086" opacity="0.72"/>
<rect x="427.7" y="406.4" width="0.4" height="12.2" fill="#fdc086" opacity="0.72"/>
<rect x="428.4" y="406.4" width="0.8" height="12.2" fill="#fdc086" opacity="0.88"/>
<rect x="428.9" y="406.4" width="1.6" height="12.2" fill="#fdc086" opacity="1.00"/>
<rect x="429.8" y="406.4" width="1.3" height="12.2" fill="#fdc086" opacity="0.95"/>
<rect x="431.2" y="406.4" width="0.6" height="12.2" fill="#7fc97f" opacity="0.87"/>
<rect x="431.9" y="406.4" width="0.8" height="12.2" fill="#fdc086" opacity="0.83"/>
<rect x="432.6" y="406.4" width="0.6" height="12.2" fill="#fdc086" opacity="0.72"/>
<rect x="434.2" y="406.4" width="1.3" height="12.2" fill="#fdc086" opacity="0.72"/>
<rect x="435.3" y="406.4" width="1.0" height="12.2" fill="#fdc086" opacity="0.98"/>
<rect x="436.2" y="406.4" width="1.3" height="12.2" fill="#7fc97f" opacity="0.92"/>
<rect x="437.1" y="406.4" width="0.4" height="12.2" fill="#7fc97f" opacity="0.83"/>
<rect x="438.2" y="406.4" width="0.6" height="12.2" fill="#beaed4" opacity="0.87"/>
<rect x="440.2" y="406.4" width="0.4" height="12.2" fill="#fdc086" opacity="0.76"/>
<rect x="440.7" y="406.4" width="1.3" height="12.2" fill="#7fc97f" opacity="0.77"/>
<rect x="441.6" y="406.4" width="0.6" height="12.2" fill="#fdc086" opacity="0.97"/>
<rect x="442.3" y="406.4" width="0.4" height="12.2" fill="#7fc97f" opacity="0.85"/>
<rect x="443.0" y="406.4" width="0.4" height="12.2" fill="#7fc97f" opacity="0.71"/>
<rect x="443.9" y="406.4" width="0.8" height="12.2" fill="#7fc97f" opacity="0.81"/>
<rect x="444.6" y="406.4" width="1.3" height="12.2" fill="#7fc97f" opacity="0.80"/>
<rect x="445.3" y="406.4" width="0.8" height="12.2" fill="#7fc97f" opacity="0.83"/>
<rect x="446.0" y="406.4" width="0.4" height="12.2" fill="#386cb0" opacity="0.78"/>
<rect x="446.9" y="406.4" width="1.3" height="12.2" fill="#fdc086" opacity="0.77"/>
<rect x="447.4" y="406.4" width="0.4" height="12.2" fill="#beaed4" opacity="0.96"/>
<rect x="448.1" y="406.4" width="0.4" height="12.2" fill="#fdc086" opacity="0.71"/>
<rect x="448.8" y="406.4" width="1.6" height="12.2" fill="#fdc086" opacity="0.90"/>
<rect x="450.2" y="406.4" width="1.6" height="12.2" fill="#fdc086" opacity="0.85"/>
<rect x="450.7" y="406.4" width="0.6" height="12.2" fill="#7fc97f" opacity="0.80"/>
<rect x="451.6" y="406.4" width="1.6" height="12.2" fill="#386cb0" opacity="0.80"/>
<rect x="452.7" y="406.4" width="0.8" height="12.2" fill="#fdc086" opacity="0.96"/>
<rect x="453.2" y="406.4" width="1.3" height="12.2" fill="#fdc086" opacity="0.85"/>
<rect x="454.1" y="406.4" width="1.0" height="12.2" fill="#7fc97f" opacity="0.96"/>
<rect x="454.6" y="406.4" width="0.8" height="12.2" fill="#fdc086" opacity="0.75"/>
<rect x="455.3" y="406.4" width="1.6" height="12.2" fill="#386cb0" opacity="0.69"/>
<rect x="456.4" y="406.4" width="1.3" height="12.2" fill="#fdc086" opacity="0.91"/>
<rect x="457.3" y="406.4" width="0.6" height="12.2" fill="#386cb0" opacity="0.62"/>
<rect x="458.0" y="406.4" width="0.6" height="12.2" fill="#7fc97f" opacity="0.73"/>
<rect x="458.9" y="406.4" width="1.6" height="12.2" fill="#fdc086" opacity="0.87"/>
<rect x="459.4" y="406.4" width="1.0" height="12.2" fill="#fdc086" opacity="0.84"/>
<rect x="460.3" y="406.4" width="1.0" height="12.2" fill="#7fc97f" opacity="0.82"/>
<rect x="461.2" y="406.4" width="1.6" height="12.2" fill="#fdc086" opacity="1.00"/>
<rect x="461.9" y="406.4" width="0.8" height="12.2" fill="#fdc086" opacity="0.92"/>
<rect x="462.4" y="406.4" width="0.4" height="12.2" fill="#beaed4" opacity="0.73"/>
<rect x="463.1" y="406.4" width="0.6" height="12.2" fill="#ffff99" opacity="0.61"/>
<rect x="463.8" y="406.4" width="0.4" height="12.2" fill="#fdc086" opacity="0.83"/>
<rect x="464.5" y="406.4" width="0.4" height="12.2" fill="#fdc086" opacity="0.88"/>
<rect x="465.6" y="406.4" width="0.6" height="12.2" fill="#7fc97f" opacity="0.97"/>
<rect x="466.1" y="406.4" width="1.0" height="12.2" fill="#fdc086" opacity="0.79"/>
<rect x="467.0" y="406.4" width="1.6" height="12.2" fill="#7fc97f" opacity="0.93"/>
<rect x="467.5" y="406.4" width="0.4" height="12.2" fill="#fdc086" opacity="0.80"/>
<rect x="468.2" y="406.4" width="1.3" height="12.2" fill="#fdc086" opacity="0.77"/>
<rect x="468.9" y="406.4" width="1.3" height="12.2" fill="#fdc086" opacity="0.89"/>
<rect x="470.0" y="406.4" width="0.8" height="12.2" fill="#fdc086" opacity="0.87"/>
<rect x="470.7" y="406.4" width="0.4" height="12.2" fill="#7fc97f" opacity="0.89"/>
<rect x="471.8" y="406.4" width="1.6" height="12.2" fill="#7fc97f" opacity="0.81"/>
<rect x="472.9" y="406.4" width="1.6" height="12.2" fill="#7fc97f" opacity="0.96"/>
<rect x="473.4" y="406.4" width="0.4" height="12.2" fill="#7fc97f" opacity="0.89"/>
<rect x="474.3" y="406.4" width="1.6" height="12.2" fill="#7fc97f" opacity="0.76"/>
<rect x="474.8" y="406.4" width="0.6" height="12.2" fill="#386cb0" opacity="0.72"/>
<rect x="475.5" y="406.4" width="0.6" height="12.2" fill="#fdc086" opacity="0.79"/>
<rect x="476.4" y="406.4" width="1.6" height="12.2" fill="#7fc97f" opacity="0.91"/>
<rect x="476.9" y="406.4" width="1.0" height="12.2" fill="#386cb0" opacity="0.74"/>
<rect x="477.4" y="406.4" width="1.3" height="12.2" fill="#7fc97f" opacity="0.78"/>
<rect x="478.3" y="406.4" width="1.6" height="12.2" fill="#7fc97f" opacity="0.85"/>
<rect x="479.4" y="406.4" width="1.3" height="12.2" fill="#fdc086" opacity="0.92"/>
<rect x="480.1" y="406.4" width="0.4" height="12.2" fill="#7fc97f" opacity="0.86"/>
<rect x="480.6" y="406.4" width="1.0" height="12.2" fill="#7fc97f" opacity="0.80"/>
<rect x="481.7" y="406.4" width="1.3" height="12.2" fill="#7fc97f" opacity="0.74"/>
<rect x="482.4" y="406.4" width="0.6" height="12.2" fill="#fdc086" opacity="0.70"/>
<rect x="483.1" y="406.4" width="0.6" height="12.2" fill="#7fc97f" opacity="0.82"/>
<rect x="484.0" y="406.4" width="1.3" height="12.2" fill="#386cb0" opacity="0.82"/>
<rect x="484.5" y="406.4" width="1.3" height="12.2" fill="#386cb0" opacity="0.71"/>
<rect x="485.0" y="406.4" width="1.0" height="12.2" fill="#fdc086" opacity="0.92"/>
<rect x="485.9" y="406.4" width="1.0" height="12.2" fill="#fdc086" opacity="0.77"/>
<rect x="486.4" y="406.4" width="0.4" height="12.2" fill="#7fc97f" opacity="0.95"/>
<rect x="486.9" y="406.4" width="1.6" height="12.2" fill="#7fc97f" opacity="0.77"/>
<rect x="487.6" y="406.4" width="1.6" height="12.2" fill="#7fc97f" opacity="0.91"/>
<rect x="488.5" y="406.4" width="1.3" height="12.2" fill="#fdc086" opacity="0.92"/>
<rect x="489.0" y="406.4" width="1.3" height="12.2" fill="#beaed4" opacity="0.94"/>
<rect x="489.5" y="406.4" width="0.8" height="12.2" fill="#7fc97f" opacity="0.71"/>
<rect x="490.2" y="406.4" width="0.8" height="12.2" fill="#7fc97f" opacity="0.75"/>
<rect x="491.1" y="406.4" width="0.6" height="12.2" fill="#beaed4" opacity="0.99"/>
<rect x="492.2" y="406.4" width="1.6" height="12.2" fill="#fdc086" opacity="0.83"/>
<rect x="492.7" y="406.4" width="1.0" height="12.2" fill="#fdc086" opacity="0.98"/>
<rect x="493.2" y="406.4" width="1.3" height="12.2" fill="#7fc97f" opacity="0.97"/>
<rect x="493.7" y="406.4" width="1.6" height="12.2" fill="#386cb0" opacity="0.68"/>
<rect x="494.8" y="406.4" width="1.3" height="12.2" fill="#fdc086" opacity="0.85"/>
<rect x="495.7" y="406.4" width="0.6" height="12.2" fill="#7fc97f" opacity="0.71"/>
<rect x="496.4" y="406.4" width="0.4" height="12.2" fill="#beaed4" opacity="0.73"/>
<rect x="496.9" y="406.4" width="0.6" height="12.2" fill="#fdc086" opacity="0.87"/>
<rect x="498.0" y="406.4" width="1.6" height="12.2" fill="#fdc086" opacity="0.73"/>
<rect x="501.1" y="406.4" width="0.8" height="12.2" fill="#fdc086" opacity="0.91"/>
<rect x="502.2" y="406.4" width="1.0" height="12.2" fill="#fdc086" opacity="0.90"/>
<rect x="502.9" y="406.4" width="0.4" height="12.2" fill="#7fc97f" opacity="0.99"/>
<rect x="504.0" y="406.4" width="1.0" height="12.2" fill="#386cb0" opacity="0.77"/>
<rect x="504.9" y="406.4" width="1.0" height="12.2" fill="#beaed4" opacity="0.99"/>
<rect x="505.6" y="406.4" width="0.6" height="12.2" fill="#7fc97f" opacity="0.90"/>
<rect x="506.3" y="406.4" width="0.4" height="12.2" fill="#7fc97f" opacity="0.99"/>
<rect x="507.4" y="406.4" width="0.8" height="12.2" fill="#386cb0" opacity="0.80"/>
<rect x="508.1" y="406.4" width="0.6" height="12.2" fill="#7fc97f" opacity="0.84"/>
<rect x="509.2" y="406.4" width="1.0" height="12.2" fill="#fdc086" opacity="0.82"/>
<rect x="510.1" y="406.4" width="0.6" height="12.2" fill="#7fc97f" opacity="0.91"/>
<rect x="517.2" y="406.4" width="0.8" height="12.2" fill="#fdc086" opacity="0.71"/>
<rect x="518.3" y="406.4" width="1.3" height="12.2" fill="#7fc97f" opacity="0.92"/>
<rect x="519.2" y="406.4" width="0.4" height="12.2" fill="#fdc086" opacity="0.84"/>
<rect x="520.3" y="406.4" width="0.4" height="12.2" fill="#7fc97f" opacity="0.96"/>
<rect x="520.8" y="406.4" width="1.0" height="12.2" fill="#7fc97f" opacity="0.87"/>
<rect x="521.9" y="406.4" width="1.0" height="12.2" fill="#7fc97f" opacity="0.87"/>
<rect x="522.8" y="406.4" width="0.6" height="12.2" fill="#7fc97f" opacity="0.83"/>
<rect x="523.3" y="406.4" width="1.0" height="12.2" fill="#fdc086" opacity="0.85"/>
<rect x="524.2" y="406.4" width="0.4" height="12.2" fill="#7fc97f" opacity="0.95"/>
<rect x="524.9" y="406.4" width="1.3" height="12.2" fill="#7fc97f" opacity="0.87"/>
<rect x="525.8" y="406.4" width="0.6" height="12.2" fill="#fdc086" opacity="0.96"/>
<rect x="526.9" y="406.4" width="1.6" height="12.2" fill="#7fc97f" opacity="0.82"/>
<rect x="528.0" y="406.4" width="0.8" height="12.2" fill="#beaed4" opacity="0.82"/>
<rect x="528.5" y="406.4" width="1.3" height="12.2" fill="#fdc086" opacity="0.83"/>
<rect x="529.0" y="406.4" width="0.8" height="12.2" fill="#fdc086" opacity="0.74"/>
<rect x="535.1" y="406.4" width="0.8" height="12.2" fill="#fdc086" opacity="0.89"/>
<rect x="535.8" y="406.4" width="1.0" height="12.2" fill="#fdc086" opacity="0.73"/>
<rect x="536.3" y="406.4" width="0.4" height="12.2" fill="#fdc086" opacity="0.72"/>
<rect x="537.0" y="406.4" width="1.6" height="12.2" fill="#fdc086" opacity="0.80"/>
<rect x="537.7" y="406.4" width="1.3" height="12.2" fill="#7fc97f" opacity="0.99"/>
<rect x="538.4" y="406.4" width="1.6" height="12.2" fill="#7fc97f" opacity="0.87"/>
<rect x="539.5" y="406.4" width="0.4" height="12.2" fill="#7fc97f" opacity="0.90"/>
<rect x="540.2" y="406.4" width="1.3" height="12.2" fill="#7fc97f" opacity="0.85"/>
</g>
<rect x="26.3" y="406.4" width="520.1" height="12.2" rx="6.1" fill="none" stroke="#222" stroke-width="1.3"/>
<text x="1.3" y="431.2" font-size="7.8" fill="#161616" stroke="#161616" stroke-width="0.22">Chr3L</text>
<g clip-path="url(#cp3)">
<rect x="32.3" y="421.4" width="1.6" height="12.2" fill="#fdc086" opacity="0.75"/>
<rect x="33.4" y="421.4" width="1.6" height="12.2" fill="#7fc97f" opacity="0.87"/>
<rect x="34.1" y="421.4" width="0.8" height="12.2" fill="#7fc97f" opacity="0.91"/>
<rect x="34.6" y="421.4" width="0.6" height="12.2" fill="#7fc97f" opacity="0.99"/>
<rect x="35.7" y="421.4" width="0.4" height="12.2" fill="#fdc086" opacity="0.85"/>
<rect x="36.8" y="421.4" width="0.4" height="12.2" fill="#7fc97f" opacity="0.75"/>
<rect x="37.9" y="421.4" width="0.4" height="12.2" fill="#beaed4" opacity="0.84"/>
<rect x="38.6" y="421.4" width="0.4" height="12.2" fill="#fdc086" opacity="0.87"/>
<rect x="39.1" y="421.4" width="0.6" height="12.2" fill="#fdc086" opacity="0.98"/>
<rect x="40.2" y="421.4" width="1.0" height="12.2" fill="#386cb0" opacity="0.64"/>
<rect x="41.6" y="421.4" width="0.6" height="12.2" fill="#7fc97f" opacity="0.76"/>
<rect x="43.7" y="421.4" width="0.8" height="12.2" fill="#fdc086" opacity="0.84"/>
<rect x="45.1" y="421.4" width="1.6" height="12.2" fill="#7fc97f" opacity="0.71"/>
<rect x="46.0" y="421.4" width="1.0" height="12.2" fill="#7fc97f" opacity="0.91"/>
<rect x="46.5" y="421.4" width="1.0" height="12.2" fill="#fdc086" opacity="0.97"/>
<rect x="47.2" y="421.4" width="0.8" height="12.2" fill="#386cb0" opacity="0.83"/>
<rect x="48.3" y="421.4" width="1.0" height="12.2" fill="#fdc086" opacity="0.76"/>
<rect x="49.2" y="421.4" width="1.0" height="12.2" fill="#7fc97f" opacity="0.80"/>
<rect x="50.3" y="421.4" width="0.4" height="12.2" fill="#fdc086" opacity="0.99"/>
<rect x="51.2" y="421.4" width="1.0" height="12.2" fill="#fdc086" opacity="0.70"/>
<rect x="51.7" y="421.4" width="1.0" height="12.2" fill="#fdc086" opacity="0.81"/>
<rect x="52.4" y="421.4" width="0.4" height="12.2" fill="#fdc086" opacity="0.72"/>
<rect x="53.3" y="421.4" width="1.6" height="12.2" fill="#7fc97f" opacity="0.88"/>
<rect x="54.2" y="421.4" width="0.6" height="12.2" fill="#fdc086" opacity="0.92"/>
<rect x="55.1" y="421.4" width="0.8" height="12.2" fill="#fdc086" opacity="0.90"/>
<rect x="56.2" y="421.4" width="1.3" height="12.2" fill="#fdc086" opacity="0.84"/>
<rect x="57.1" y="421.4" width="0.8" height="12.2" fill="#fdc086" opacity="1.00"/>
<rect x="57.8" y="421.4" width="1.6" height="12.2" fill="#7fc97f" opacity="0.95"/>
<rect x="58.5" y="421.4" width="1.3" height="12.2" fill="#386cb0" opacity="0.65"/>
<rect x="59.4" y="421.4" width="1.0" height="12.2" fill="#7fc97f" opacity="0.93"/>
<rect x="60.5" y="421.4" width="1.6" height="12.2" fill="#fdc086" opacity="0.95"/>
<rect x="62.3" y="421.4" width="1.6" height="12.2" fill="#fdc086" opacity="0.72"/>
<rect x="63.4" y="421.4" width="1.0" height="12.2" fill="#7fc97f" opacity="0.97"/>
<rect x="65.2" y="421.4" width="1.3" height="12.2" fill="#fdc086" opacity="0.80"/>
<rect x="65.7" y="421.4" width="1.3" height="12.2" fill="#fdc086" opacity="0.85"/>
<rect x="66.2" y="421.4" width="1.0" height="12.2" fill="#ffff99" opacity="0.79"/>
<rect x="67.1" y="421.4" width="0.4" height="12.2" fill="#fdc086" opacity="0.82"/>
<rect x="68.0" y="421.4" width="0.8" height="12.2" fill="#fdc086" opacity="0.93"/>
<rect x="69.8" y="421.4" width="1.3" height="12.2" fill="#7fc97f" opacity="0.72"/>
<rect x="72.3" y="421.4" width="0.4" height="12.2" fill="#7fc97f" opacity="0.86"/>
<rect x="73.9" y="421.4" width="0.4" height="12.2" fill="#fdc086" opacity="0.96"/>
<rect x="75.0" y="421.4" width="1.3" height="12.2" fill="#7fc97f" opacity="0.82"/>
<rect x="76.1" y="421.4" width="1.6" height="12.2" fill="#7fc97f" opacity="0.71"/>
<rect x="79.0" y="421.4" width="0.6" height="12.2" fill="#fdc086" opacity="0.92"/>
<rect x="80.1" y="421.4" width="1.3" height="12.2" fill="#7fc97f" opacity="0.94"/>
<rect x="81.0" y="421.4" width="0.4" height="12.2" fill="#fdc086" opacity="0.87"/>
<rect x="82.0" y="421.4" width="1.3" height="12.2" fill="#7fc97f" opacity="0.90"/>
<rect x="82.7" y="421.4" width="0.4" height="12.2" fill="#fdc086" opacity="0.90"/>
<rect x="91.6" y="421.4" width="0.6" height="12.2" fill="#fdc086" opacity="0.89"/>
<rect x="92.3" y="421.4" width="1.0" height="12.2" fill="#7fc97f" opacity="0.86"/>
<rect x="93.4" y="421.4" width="0.6" height="12.2" fill="#386cb0" opacity="0.69"/>
<rect x="93.9" y="421.4" width="0.6" height="12.2" fill="#386cb0" opacity="0.77"/>
<rect x="94.6" y="421.4" width="0.6" height="12.2" fill="#7fc97f" opacity="0.84"/>
<rect x="95.3" y="421.4" width="0.6" height="12.2" fill="#fdc086" opacity="0.88"/>
<rect x="96.4" y="421.4" width="1.3" height="12.2" fill="#7fc97f" opacity="0.94"/>
<rect x="97.3" y="421.4" width="0.8" height="12.2" fill="#7fc97f" opacity="0.71"/>
<rect x="98.0" y="421.4" width="1.0" height="12.2" fill="#386cb0" opacity="0.61"/>
<rect x="98.5" y="421.4" width="1.0" height="12.2" fill="#7fc97f" opacity="0.95"/>
<rect x="99.4" y="421.4" width="0.6" height="12.2" fill="#fdc086" opacity="0.81"/>
<rect x="99.9" y="421.4" width="1.6" height="12.2" fill="#beaed4" opacity="0.90"/>
<rect x="100.4" y="421.4" width="1.0" height="12.2" fill="#7fc97f" opacity="0.85"/>
<rect x="101.3" y="421.4" width="1.6" height="12.2" fill="#386cb0" opacity="0.66"/>
<rect x="102.4" y="421.4" width="1.6" height="12.2" fill="#7fc97f" opacity="0.94"/>
<rect x="103.3" y="421.4" width="0.6" height="12.2" fill="#fdc086" opacity="0.81"/>
<rect x="104.4" y="421.4" width="1.3" height="12.2" fill="#fdc086" opacity="0.91"/>
<rect x="105.5" y="421.4" width="0.4" height="12.2" fill="#fdc086" opacity="0.74"/>
<rect x="106.6" y="421.4" width="1.6" height="12.2" fill="#beaed4" opacity="0.76"/>
<rect x="107.1" y="421.4" width="1.0" height="12.2" fill="#7fc97f" opacity="0.70"/>
<rect x="108.2" y="421.4" width="0.6" height="12.2" fill="#386cb0" opacity="0.63"/>
<rect x="108.7" y="421.4" width="1.3" height="12.2" fill="#7fc97f" opacity="0.81"/>
<rect x="109.6" y="421.4" width="1.0" height="12.2" fill="#fdc086" opacity="0.99"/>
<rect x="110.1" y="421.4" width="1.6" height="12.2" fill="#7fc97f" opacity="0.75"/>
<rect x="111.2" y="421.4" width="0.6" height="12.2" fill="#7fc97f" opacity="0.98"/>
<rect x="112.3" y="421.4" width="1.3" height="12.2" fill="#7fc97f" opacity="0.84"/>
<rect x="113.4" y="421.4" width="0.8" height="12.2" fill="#7fc97f" opacity="0.81"/>
<rect x="114.3" y="421.4" width="0.4" height="12.2" fill="#7fc97f" opacity="0.98"/>
<rect x="115.0" y="421.4" width="0.8" height="12.2" fill="#fdc086" opacity="0.71"/>
<rect x="115.7" y="421.4" width="1.0" height="12.2" fill="#7fc97f" opacity="0.92"/>
<rect x="116.6" y="421.4" width="1.6" height="12.2" fill="#fdc086" opacity="0.74"/>
<rect x="117.5" y="421.4" width="1.6" height="12.2" fill="#fdc086" opacity="0.72"/>
<rect x="118.4" y="421.4" width="0.4" height="12.2" fill="#fdc086" opacity="0.93"/>
<rect x="118.9" y="421.4" width="0.6" height="12.2" fill="#386cb0" opacity="0.76"/>
<rect x="119.6" y="421.4" width="1.3" height="12.2" fill="#7fc97f" opacity="0.86"/>
<rect x="128.3" y="421.4" width="1.6" height="12.2" fill="#7fc97f" opacity="0.84"/>
<rect x="129.0" y="421.4" width="0.8" height="12.2" fill="#7fc97f" opacity="0.75"/>
<rect x="129.9" y="421.4" width="1.3" height="12.2" fill="#fdc086" opacity="0.99"/>
<rect x="130.4" y="421.4" width="1.0" height="12.2" fill="#7fc97f" opacity="0.99"/>
<rect x="131.3" y="421.4" width="1.3" height="12.2" fill="#beaed4" opacity="0.81"/>
<rect x="132.0" y="421.4" width="0.6" height="12.2" fill="#fdc086" opacity="0.82"/>
<rect x="132.5" y="421.4" width="1.6" height="12.2" fill="#386cb0" opacity="0.62"/>
<rect x="133.4" y="421.4" width="0.8" height="12.2" fill="#7fc97f" opacity="0.71"/>
<rect x="134.3" y="421.4" width="1.0" height="12.2" fill="#7fc97f" opacity="0.74"/>
<rect x="134.8" y="421.4" width="1.3" height="12.2" fill="#7fc97f" opacity="0.83"/>
<rect x="137.1" y="421.4" width="1.3" height="12.2" fill="#fdc086" opacity="0.70"/>
<rect x="138.1" y="421.4" width="0.4" height="12.2" fill="#7fc97f" opacity="0.91"/>
<rect x="139.2" y="421.4" width="0.6" height="12.2" fill="#7fc97f" opacity="0.74"/>
<rect x="141.0" y="421.4" width="0.4" height="12.2" fill="#386cb0" opacity="0.62"/>
<rect x="141.7" y="421.4" width="0.6" height="12.2" fill="#7fc97f" opacity="0.91"/>
<rect x="143.3" y="421.4" width="0.4" height="12.2" fill="#fdc086" opacity="0.75"/>
<rect x="144.9" y="421.4" width="1.6" height="12.2" fill="#7fc97f" opacity="0.93"/>
<rect x="148.5" y="421.4" width="1.6" height="12.2" fill="#7fc97f" opacity="0.77"/>
<rect x="149.2" y="421.4" width="0.8" height="12.2" fill="#fdc086" opacity="0.80"/>
<rect x="150.1" y="421.4" width="1.6" height="12.2" fill="#beaed4" opacity="0.86"/>
<rect x="150.8" y="421.4" width="0.6" height="12.2" fill="#7fc97f" opacity="0.91"/>
<rect x="151.9" y="421.4" width="1.0" height="12.2" fill="#386cb0" opacity="0.70"/>
<rect x="154.4" y="421.4" width="1.3" height="12.2" fill="#7fc97f" opacity="0.78"/>
<rect x="154.9" y="421.4" width="1.6" height="12.2" fill="#7fc97f" opacity="0.75"/>
<rect x="155.6" y="421.4" width="1.3" height="12.2" fill="#7fc97f" opacity="0.78"/>
<rect x="156.3" y="421.4" width="1.6" height="12.2" fill="#fdc086" opacity="0.78"/>
<rect x="157.0" y="421.4" width="0.8" height="12.2" fill="#7fc97f" opacity="0.96"/>
<rect x="157.7" y="421.4" width="0.8" height="12.2" fill="#7fc97f" opacity="0.99"/>
<rect x="158.2" y="421.4" width="0.4" height="12.2" fill="#fdc086" opacity="0.94"/>
<rect x="158.7" y="421.4" width="1.3" height="12.2" fill="#ffff99" opacity="0.63"/>
<rect x="159.2" y="421.4" width="1.6" height="12.2" fill="#386cb0" opacity="0.71"/>
<rect x="159.7" y="421.4" width="1.0" height="12.2" fill="#fdc086" opacity="0.95"/>
<rect x="160.6" y="421.4" width="1.6" height="12.2" fill="#fdc086" opacity="0.73"/>
<rect x="161.1" y="421.4" width="0.8" height="12.2" fill="#7fc97f" opacity="0.76"/>
<rect x="162.2" y="421.4" width="1.0" height="12.2" fill="#386cb0" opacity="0.65"/>
<rect x="163.1" y="421.4" width="0.4" height="12.2" fill="#fdc086" opacity="0.85"/>
<rect x="163.6" y="421.4" width="1.0" height="12.2" fill="#fdc086" opacity="0.81"/>
<rect x="164.7" y="421.4" width="1.3" height="12.2" fill="#7fc97f" opacity="0.92"/>
<rect x="165.4" y="421.4" width="1.6" height="12.2" fill="#fdc086" opacity="0.84"/>
<rect x="165.9" y="421.4" width="1.0" height="12.2" fill="#fdc086" opacity="0.71"/>
<rect x="167.0" y="421.4" width="0.4" height="12.2" fill="#7fc97f" opacity="0.95"/>
<rect x="167.5" y="421.4" width="0.8" height="12.2" fill="#fdc086" opacity="0.81"/>
<rect x="168.6" y="421.4" width="0.8" height="12.2" fill="#fdc086" opacity="0.83"/>
<rect x="169.3" y="421.4" width="0.6" height="12.2" fill="#7fc97f" opacity="0.76"/>
<rect x="170.0" y="421.4" width="1.3" height="12.2" fill="#fdc086" opacity="0.99"/>
<rect x="170.5" y="421.4" width="0.8" height="12.2" fill="#fdc086" opacity="0.95"/>
<rect x="171.2" y="421.4" width="0.8" height="12.2" fill="#fdc086" opacity="0.72"/>
<rect x="171.9" y="421.4" width="0.8" height="12.2" fill="#fdc086" opacity="0.85"/>
<rect x="172.4" y="421.4" width="1.0" height="12.2" fill="#7fc97f" opacity="0.76"/>
<rect x="173.1" y="421.4" width="0.6" height="12.2" fill="#7fc97f" opacity="0.98"/>
<rect x="173.8" y="421.4" width="0.6" height="12.2" fill="#fdc086" opacity="0.71"/>
<rect x="174.3" y="421.4" width="0.6" height="12.2" fill="#7fc97f" opacity="1.00"/>
<rect x="177.4" y="421.4" width="0.8" height="12.2" fill="#7fc97f" opacity="0.79"/>
<rect x="178.1" y="421.4" width="1.0" height="12.2" fill="#fdc086" opacity="0.81"/>
<rect x="178.8" y="421.4" width="0.6" height="12.2" fill="#fdc086" opacity="0.79"/>
<rect x="179.7" y="421.4" width="0.4" height="12.2" fill="#386cb0" opacity="0.74"/>
<rect x="180.2" y="421.4" width="1.3" height="12.2" fill="#fdc086" opacity="0.71"/>
<rect x="181.1" y="421.4" width="0.8" height="12.2" fill="#beaed4" opacity="0.75"/>
<rect x="181.8" y="421.4" width="1.0" height="12.2" fill="#fdc086" opacity="1.00"/>
<rect x="182.3" y="421.4" width="1.0" height="12.2" fill="#7fc97f" opacity="0.90"/>
<rect x="182.8" y="421.4" width="1.6" height="12.2" fill="#fdc086" opacity="0.71"/>
<rect x="183.7" y="421.4" width="1.6" height="12.2" fill="#fdc086" opacity="0.72"/>
<rect x="184.4" y="421.4" width="1.0" height="12.2" fill="#fdc086" opacity="0.89"/>
<rect x="184.9" y="421.4" width="1.6" height="12.2" fill="#fdc086" opacity="0.91"/>
<rect x="186.5" y="421.4" width="1.3" height="12.2" fill="#7fc97f" opacity="0.76"/>
<rect x="187.2" y="421.4" width="0.4" height="12.2" fill="#386cb0" opacity="0.62"/>
<rect x="188.1" y="421.4" width="0.8" height="12.2" fill="#fdc086" opacity="1.00"/>
<rect x="188.8" y="421.4" width="0.6" height="12.2" fill="#7fc97f" opacity="0.84"/>
<rect x="189.3" y="421.4" width="0.8" height="12.2" fill="#7fc97f" opacity="0.94"/>
<rect x="190.4" y="421.4" width="0.4" height="12.2" fill="#7fc97f" opacity="0.85"/>
<rect x="191.1" y="421.4" width="0.6" height="12.2" fill="#fdc086" opacity="0.96"/>
<rect x="191.8" y="421.4" width="1.0" height="12.2" fill="#7fc97f" opacity="0.91"/>
<rect x="192.7" y="421.4" width="0.6" height="12.2" fill="#7fc97f" opacity="0.89"/>
<rect x="193.6" y="421.4" width="1.6" height="12.2" fill="#fdc086" opacity="0.99"/>
<rect x="194.3" y="421.4" width="0.4" height="12.2" fill="#fdc086" opacity="0.89"/>
<rect x="195.0" y="421.4" width="1.0" height="12.2" fill="#ffff99" opacity="0.65"/>
<rect x="196.1" y="421.4" width="0.6" height="12.2" fill="#fdc086" opacity="0.78"/>
<rect x="196.8" y="421.4" width="1.0" height="12.2" fill="#fdc086" opacity="1.00"/>
<rect x="197.5" y="421.4" width="1.6" height="12.2" fill="#7fc97f" opacity="0.70"/>
<rect x="198.4" y="421.4" width="1.6" height="12.2" fill="#7fc97f" opacity="0.95"/>
<rect x="199.5" y="421.4" width="0.4" height="12.2" fill="#fdc086" opacity="0.80"/>
<rect x="200.2" y="421.4" width="0.6" height="12.2" fill="#7fc97f" opacity="0.95"/>
<rect x="203.3" y="421.4" width="0.4" height="12.2" fill="#386cb0" opacity="0.75"/>
<rect x="209.4" y="421.4" width="0.6" height="12.2" fill="#7fc97f" opacity="0.99"/>
<rect x="211.2" y="421.4" width="1.3" height="12.2" fill="#7fc97f" opacity="0.78"/>
<rect x="212.6" y="421.4" width="1.6" height="12.2" fill="#386cb0" opacity="0.71"/>
<rect x="215.2" y="421.4" width="1.0" height="12.2" fill="#fdc086" opacity="0.71"/>
<rect x="216.1" y="421.4" width="0.8" height="12.2" fill="#7fc97f" opacity="0.91"/>
<rect x="217.0" y="421.4" width="0.4" height="12.2" fill="#386cb0" opacity="0.64"/>
<rect x="218.1" y="421.4" width="0.4" height="12.2" fill="#beaed4" opacity="0.96"/>
<rect x="218.6" y="421.4" width="1.0" height="12.2" fill="#386cb0" opacity="0.75"/>
<rect x="219.3" y="421.4" width="1.0" height="12.2" fill="#beaed4" opacity="0.78"/>
<rect x="220.4" y="421.4" width="0.8" height="12.2" fill="#7fc97f" opacity="0.90"/>
<rect x="221.5" y="421.4" width="0.4" height="12.2" fill="#beaed4" opacity="0.78"/>
<rect x="222.4" y="421.4" width="0.4" height="12.2" fill="#fdc086" opacity="0.72"/>
<rect x="222.9" y="421.4" width="1.3" height="12.2" fill="#7fc97f" opacity="0.88"/>
<rect x="224.0" y="421.4" width="1.3" height="12.2" fill="#7fc97f" opacity="0.81"/>
<rect x="224.5" y="421.4" width="1.6" height="12.2" fill="#7fc97f" opacity="0.73"/>
<rect x="225.4" y="421.4" width="1.6" height="12.2" fill="#fdc086" opacity="0.73"/>
<rect x="225.9" y="421.4" width="1.0" height="12.2" fill="#7fc97f" opacity="0.93"/>
<rect x="226.8" y="421.4" width="1.6" height="12.2" fill="#fdc086" opacity="0.82"/>
<rect x="227.7" y="421.4" width="0.6" height="12.2" fill="#fdc086" opacity="0.90"/>
<rect x="228.8" y="421.4" width="0.4" height="12.2" fill="#7fc97f" opacity="0.93"/>
<rect x="229.9" y="421.4" width="0.6" height="12.2" fill="#beaed4" opacity="0.97"/>
<rect x="230.4" y="421.4" width="0.6" height="12.2" fill="#7fc97f" opacity="0.79"/>
<rect x="231.3" y="421.4" width="0.8" height="12.2" fill="#7fc97f" opacity="0.79"/>
<rect x="231.8" y="421.4" width="0.8" height="12.2" fill="#386cb0" opacity="0.72"/>
<rect x="232.7" y="421.4" width="0.8" height="12.2" fill="#fdc086" opacity="0.97"/>
<rect x="233.8" y="421.4" width="0.4" height="12.2" fill="#7fc97f" opacity="0.98"/>
<rect x="234.3" y="421.4" width="0.6" height="12.2" fill="#7fc97f" opacity="0.79"/>
<rect x="235.0" y="421.4" width="0.6" height="12.2" fill="#fdc086" opacity="0.81"/>
<rect x="235.9" y="421.4" width="1.0" height="12.2" fill="#fdc086" opacity="0.82"/>
<rect x="236.6" y="421.4" width="0.8" height="12.2" fill="#386cb0" opacity="0.66"/>
<rect x="237.5" y="421.4" width="0.4" height="12.2" fill="#ffff99" opacity="0.63"/>
<rect x="238.0" y="421.4" width="0.6" height="12.2" fill="#fdc086" opacity="0.76"/>
<rect x="238.5" y="421.4" width="1.6" height="12.2" fill="#fdc086" opacity="0.93"/>
<rect x="239.4" y="421.4" width="0.4" height="12.2" fill="#7fc97f" opacity="0.97"/>
<rect x="239.9" y="421.4" width="1.3" height="12.2" fill="#7fc97f" opacity="0.75"/>
<rect x="240.6" y="421.4" width="0.8" height="12.2" fill="#fdc086" opacity="0.85"/>
<rect x="241.7" y="421.4" width="1.3" height="12.2" fill="#fdc086" opacity="0.95"/>
<rect x="242.6" y="421.4" width="1.0" height="12.2" fill="#7fc97f" opacity="0.91"/>
<rect x="243.5" y="421.4" width="1.3" height="12.2" fill="#fdc086" opacity="0.83"/>
<rect x="244.4" y="421.4" width="1.0" height="12.2" fill="#beaed4" opacity="0.88"/>
<rect x="245.1" y="421.4" width="1.0" height="12.2" fill="#7fc97f" opacity="0.71"/>
<rect x="246.2" y="421.4" width="1.6" height="12.2" fill="#7fc97f" opacity="0.74"/>
<rect x="247.3" y="421.4" width="1.3" height="12.2" fill="#7fc97f" opacity="0.80"/>
<rect x="248.2" y="421.4" width="0.6" height="12.2" fill="#7fc97f" opacity="0.71"/>
<rect x="249.3" y="421.4" width="0.8" height="12.2" fill="#7fc97f" opacity="0.83"/>
<rect x="249.8" y="421.4" width="1.0" height="12.2" fill="#fdc086" opacity="0.79"/>
<rect x="250.3" y="421.4" width="1.0" height="12.2" fill="#7fc97f" opacity="1.00"/>
<rect x="250.8" y="421.4" width="1.6" height="12.2" fill="#fdc086" opacity="0.92"/>
<rect x="251.3" y="421.4" width="0.6" height="12.2" fill="#7fc97f" opacity="0.90"/>
<rect x="252.2" y="421.4" width="1.6" height="12.2" fill="#7fc97f" opacity="0.96"/>
<rect x="252.9" y="421.4" width="0.6" height="12.2" fill="#7fc97f" opacity="0.91"/>
<rect x="253.8" y="421.4" width="1.3" height="12.2" fill="#fdc086" opacity="0.92"/>
<rect x="254.9" y="421.4" width="1.3" height="12.2" fill="#7fc97f" opacity="0.92"/>
<rect x="255.6" y="421.4" width="0.8" height="12.2" fill="#7fc97f" opacity="0.84"/>
<rect x="256.3" y="421.4" width="1.3" height="12.2" fill="#7fc97f" opacity="0.90"/>
<rect x="256.8" y="421.4" width="1.6" height="12.2" fill="#fdc086" opacity="0.91"/>
<rect x="257.3" y="421.4" width="0.4" height="12.2" fill="#7fc97f" opacity="0.78"/>
<rect x="258.4" y="421.4" width="0.6" height="12.2" fill="#7fc97f" opacity="0.96"/>
<rect x="259.3" y="421.4" width="1.3" height="12.2" fill="#fdc086" opacity="0.74"/>
<rect x="260.0" y="421.4" width="1.6" height="12.2" fill="#7fc97f" opacity="0.79"/>
<rect x="260.9" y="421.4" width="1.3" height="12.2" fill="#fdc086" opacity="0.70"/>
<rect x="262.0" y="421.4" width="0.6" height="12.2" fill="#fdc086" opacity="0.75"/>
<rect x="262.5" y="421.4" width="1.6" height="12.2" fill="#7fc97f" opacity="0.72"/>
<rect x="263.6" y="421.4" width="1.0" height="12.2" fill="#7fc97f" opacity="0.82"/>
<rect x="264.5" y="421.4" width="0.4" height="12.2" fill="#fdc086" opacity="0.74"/>
<rect x="265.6" y="421.4" width="1.3" height="12.2" fill="#386cb0" opacity="0.77"/>
<rect x="266.1" y="421.4" width="1.3" height="12.2" fill="#fdc086" opacity="0.95"/>
<rect x="266.8" y="421.4" width="0.4" height="12.2" fill="#7fc97f" opacity="0.94"/>
<rect x="267.9" y="421.4" width="1.6" height="12.2" fill="#beaed4" opacity="0.85"/>
<rect x="268.6" y="421.4" width="0.8" height="12.2" fill="#fdc086" opacity="0.96"/>
<rect x="269.1" y="421.4" width="0.4" height="12.2" fill="#7fc97f" opacity="0.89"/>
<rect x="269.8" y="421.4" width="0.4" height="12.2" fill="#fdc086" opacity="0.78"/>
<rect x="270.7" y="421.4" width="0.4" height="12.2" fill="#fdc086" opacity="0.70"/>
<rect x="271.2" y="421.4" width="1.0" height="12.2" fill="#7fc97f" opacity="0.97"/>
<rect x="271.9" y="421.4" width="0.4" height="12.2" fill="#fdc086" opacity="0.72"/>
<rect x="273.0" y="421.4" width="1.6" height="12.2" fill="#7fc97f" opacity="0.75"/>
<rect x="274.1" y="421.4" width="0.4" height="12.2" fill="#7fc97f" opacity="0.87"/>
<rect x="275.0" y="421.4" width="1.3" height="12.2" fill="#7fc97f" opacity="0.88"/>
<rect x="275.9" y="421.4" width="1.3" height="12.2" fill="#7fc97f" opacity="0.76"/>
<rect x="276.4" y="421.4" width="1.3" height="12.2" fill="#fdc086" opacity="0.72"/>
<rect x="276.9" y="421.4" width="1.0" height="12.2" fill="#7fc97f" opacity="0.84"/>
<rect x="278.7" y="421.4" width="1.0" height="12.2" fill="#7fc97f" opacity="0.71"/>
<rect x="279.2" y="421.4" width="0.8" height="12.2" fill="#7fc97f" opacity="0.71"/>
<rect x="279.7" y="421.4" width="0.6" height="12.2" fill="#7fc97f" opacity="0.90"/>
<rect x="280.6" y="421.4" width="1.6" height="12.2" fill="#fdc086" opacity="0.95"/>
<rect x="281.1" y="421.4" width="1.3" height="12.2" fill="#fdc086" opacity="0.75"/>
<rect x="283.6" y="421.4" width="0.4" height="12.2" fill="#fdc086" opacity="0.76"/>
<rect x="288.2" y="421.4" width="1.6" height="12.2" fill="#fdc086" opacity="0.97"/>
<rect x="288.7" y="421.4" width="0.6" height="12.2" fill="#7fc97f" opacity="0.77"/>
<rect x="290.1" y="421.4" width="1.3" height="12.2" fill="#386cb0" opacity="0.84"/>
<rect x="291.0" y="421.4" width="0.4" height="12.2" fill="#fdc086" opacity="0.98"/>
<rect x="292.1" y="421.4" width="0.6" height="12.2" fill="#7fc97f" opacity="0.89"/>
<rect x="292.6" y="421.4" width="1.3" height="12.2" fill="#7fc97f" opacity="0.90"/>
<rect x="293.7" y="421.4" width="0.8" height="12.2" fill="#7fc97f" opacity="0.78"/>
<rect x="294.4" y="421.4" width="1.3" height="12.2" fill="#7fc97f" opacity="0.73"/>
<rect x="295.3" y="421.4" width="1.6" height="12.2" fill="#7fc97f" opacity="0.84"/>
<rect x="296.0" y="421.4" width="1.3" height="12.2" fill="#fdc086" opacity="0.98"/>
<rect x="296.5" y="421.4" width="0.4" height="12.2" fill="#7fc97f" opacity="0.77"/>
<rect x="297.6" y="421.4" width="1.6" height="12.2" fill="#fdc086" opacity="0.79"/>
<rect x="298.7" y="421.4" width="1.0" height="12.2" fill="#fdc086" opacity="0.99"/>
<rect x="299.2" y="421.4" width="0.6" height="12.2" fill="#386cb0" opacity="0.80"/>
<rect x="299.7" y="421.4" width="1.6" height="12.2" fill="#beaed4" opacity="0.94"/>
<rect x="300.4" y="421.4" width="0.4" height="12.2" fill="#386cb0" opacity="0.65"/>
<rect x="301.5" y="421.4" width="1.3" height="12.2" fill="#7fc97f" opacity="0.75"/>
<rect x="302.4" y="421.4" width="1.3" height="12.2" fill="#7fc97f" opacity="0.85"/>
<rect x="303.5" y="421.4" width="1.0" height="12.2" fill="#fdc086" opacity="0.98"/>
<rect x="304.4" y="421.4" width="0.4" height="12.2" fill="#7fc97f" opacity="0.95"/>
<rect x="305.3" y="421.4" width="1.3" height="12.2" fill="#fdc086" opacity="0.95"/>
<rect x="306.0" y="421.4" width="1.0" height="12.2" fill="#7fc97f" opacity="0.98"/>
<rect x="307.1" y="421.4" width="1.6" height="12.2" fill="#fdc086" opacity="0.93"/>
<rect x="308.2" y="421.4" width="0.8" height="12.2" fill="#7fc97f" opacity="0.90"/>
<rect x="308.7" y="421.4" width="1.6" height="12.2" fill="#fdc086" opacity="0.79"/>
<rect x="309.2" y="421.4" width="1.0" height="12.2" fill="#7fc97f" opacity="0.84"/>
<rect x="310.3" y="421.4" width="0.6" height="12.2" fill="#7fc97f" opacity="0.87"/>
<rect x="311.0" y="421.4" width="0.8" height="12.2" fill="#fdc086" opacity="0.71"/>
<rect x="312.1" y="421.4" width="0.8" height="12.2" fill="#fdc086" opacity="0.71"/>
<rect x="312.8" y="421.4" width="0.8" height="12.2" fill="#fdc086" opacity="0.74"/>
<rect x="313.5" y="421.4" width="0.4" height="12.2" fill="#386cb0" opacity="0.80"/>
<rect x="314.6" y="421.4" width="0.4" height="12.2" fill="#386cb0" opacity="0.67"/>
<rect x="315.3" y="421.4" width="0.6" height="12.2" fill="#7fc97f" opacity="0.95"/>
<rect x="317.3" y="421.4" width="1.0" height="12.2" fill="#7fc97f" opacity="0.97"/>
<rect x="317.8" y="421.4" width="0.4" height="12.2" fill="#7fc97f" opacity="0.84"/>
<rect x="318.7" y="421.4" width="0.8" height="12.2" fill="#7fc97f" opacity="0.89"/>
<rect x="319.8" y="421.4" width="0.4" height="12.2" fill="#7fc97f" opacity="0.83"/>
<rect x="320.3" y="421.4" width="1.6" height="12.2" fill="#fdc086" opacity="0.85"/>
<rect x="321.0" y="421.4" width="1.3" height="12.2" fill="#fdc086" opacity="0.84"/>
<rect x="322.8" y="421.4" width="0.4" height="12.2" fill="#7fc97f" opacity="0.87"/>
<rect x="323.7" y="421.4" width="1.3" height="12.2" fill="#7fc97f" opacity="0.85"/>
<rect x="324.4" y="421.4" width="0.6" height="12.2" fill="#7fc97f" opacity="0.76"/>
<rect x="325.5" y="421.4" width="1.6" height="12.2" fill="#fdc086" opacity="0.86"/>
<rect x="326.0" y="421.4" width="0.4" height="12.2" fill="#fdc086" opacity="0.76"/>
<rect x="327.1" y="421.4" width="0.4" height="12.2" fill="#fdc086" opacity="0.71"/>
<rect x="328.0" y="421.4" width="0.8" height="12.2" fill="#fdc086" opacity="0.98"/>
<rect x="329.1" y="421.4" width="0.8" height="12.2" fill="#fdc086" opacity="0.77"/>
<rect x="330.0" y="421.4" width="1.6" height="12.2" fill="#fdc086" opacity="0.79"/>
<rect x="330.7" y="421.4" width="0.8" height="12.2" fill="#7fc97f" opacity="0.96"/>
<rect x="331.4" y="421.4" width="1.3" height="12.2" fill="#7fc97f" opacity="0.92"/>
<rect x="331.9" y="421.4" width="1.0" height="12.2" fill="#beaed4" opacity="0.93"/>
<rect x="332.4" y="421.4" width="0.6" height="12.2" fill="#fdc086" opacity="0.97"/>
<rect x="332.9" y="421.4" width="1.0" height="12.2" fill="#fdc086" opacity="0.76"/>
<rect x="334.0" y="421.4" width="0.4" height="12.2" fill="#fdc086" opacity="0.86"/>
<rect x="334.7" y="421.4" width="0.8" height="12.2" fill="#7fc97f" opacity="0.84"/>
<rect x="335.8" y="421.4" width="1.6" height="12.2" fill="#7fc97f" opacity="0.70"/>
<rect x="336.5" y="421.4" width="1.6" height="12.2" fill="#fdc086" opacity="0.96"/>
<rect x="337.4" y="421.4" width="0.6" height="12.2" fill="#7fc97f" opacity="0.73"/>
<rect x="338.5" y="421.4" width="1.6" height="12.2" fill="#7fc97f" opacity="0.98"/>
<rect x="339.4" y="421.4" width="1.0" height="12.2" fill="#ffff99" opacity="0.80"/>
<rect x="340.5" y="421.4" width="1.0" height="12.2" fill="#7fc97f" opacity="0.77"/>
<rect x="341.0" y="421.4" width="0.8" height="12.2" fill="#386cb0" opacity="0.69"/>
<rect x="341.9" y="421.4" width="1.6" height="12.2" fill="#7fc97f" opacity="0.93"/>
<rect x="342.8" y="421.4" width="1.0" height="12.2" fill="#fdc086" opacity="0.73"/>
<rect x="343.7" y="421.4" width="0.6" height="12.2" fill="#7fc97f" opacity="0.96"/>
<rect x="344.4" y="421.4" width="0.4" height="12.2" fill="#ffff99" opacity="0.67"/>
<rect x="345.5" y="421.4" width="0.8" height="12.2" fill="#7fc97f" opacity="0.72"/>
<rect x="346.4" y="421.4" width="0.6" height="12.2" fill="#7fc97f" opacity="0.96"/>
<rect x="347.5" y="421.4" width="0.4" height="12.2" fill="#386cb0" opacity="0.60"/>
<rect x="348.4" y="421.4" width="0.8" height="12.2" fill="#7fc97f" opacity="0.96"/>
<rect x="348.9" y="421.4" width="1.3" height="12.2" fill="#7fc97f" opacity="0.75"/>
<rect x="349.4" y="421.4" width="0.8" height="12.2" fill="#fdc086" opacity="0.85"/>
<rect x="349.9" y="421.4" width="1.3" height="12.2" fill="#7fc97f" opacity="0.84"/>
<rect x="350.6" y="421.4" width="0.6" height="12.2" fill="#fdc086" opacity="0.86"/>
<rect x="351.1" y="421.4" width="1.6" height="12.2" fill="#fdc086" opacity="0.73"/>
<rect x="352.2" y="421.4" width="0.8" height="12.2" fill="#fdc086" opacity="0.81"/>
<rect x="353.1" y="421.4" width="0.8" height="12.2" fill="#7fc97f" opacity="0.98"/>
<rect x="354.2" y="421.4" width="0.4" height="12.2" fill="#fdc086" opacity="0.73"/>
<rect x="354.9" y="421.4" width="1.3" height="12.2" fill="#fdc086" opacity="0.80"/>
<rect x="355.8" y="421.4" width="0.6" height="12.2" fill="#fdc086" opacity="0.96"/>
<rect x="356.7" y="421.4" width="0.6" height="12.2" fill="#386cb0" opacity="0.65"/>
<rect x="357.2" y="421.4" width="1.3" height="12.2" fill="#7fc97f" opacity="0.87"/>
<rect x="358.1" y="421.4" width="0.8" height="12.2" fill="#fdc086" opacity="0.97"/>
<rect x="359.0" y="421.4" width="0.8" height="12.2" fill="#7fc97f" opacity="0.78"/>
<rect x="359.7" y="421.4" width="0.8" height="12.2" fill="#ffff99" opacity="0.72"/>
<rect x="360.6" y="421.4" width="0.4" height="12.2" fill="#7fc97f" opacity="0.78"/>
<rect x="361.3" y="421.4" width="0.8" height="12.2" fill="#beaed4" opacity="0.79"/>
<rect x="361.8" y="421.4" width="1.6" height="12.2" fill="#fdc086" opacity="0.82"/>
<rect x="362.5" y="421.4" width="0.4" height="12.2" fill="#7fc97f" opacity="0.74"/>
<rect x="363.2" y="421.4" width="1.0" height="12.2" fill="#fdc086" opacity="0.86"/>
<rect x="363.9" y="421.4" width="1.3" height="12.2" fill="#fdc086" opacity="0.80"/>
<rect x="365.5" y="421.4" width="0.6" height="12.2" fill="#fdc086" opacity="0.77"/>
<rect x="366.6" y="421.4" width="1.0" height="12.2" fill="#7fc97f" opacity="0.92"/>
<rect x="367.3" y="421.4" width="1.3" height="12.2" fill="#fdc086" opacity="0.87"/>
<rect x="368.4" y="421.4" width="0.8" height="12.2" fill="#7fc97f" opacity="0.78"/>
<rect x="369.3" y="421.4" width="0.8" height="12.2" fill="#7fc97f" opacity="0.72"/>
<rect x="370.0" y="421.4" width="1.0" height="12.2" fill="#beaed4" opacity="0.97"/>
<rect x="370.9" y="421.4" width="1.0" height="12.2" fill="#7fc97f" opacity="0.76"/>
<rect x="371.6" y="421.4" width="1.0" height="12.2" fill="#fdc086" opacity="0.79"/>
<rect x="372.1" y="421.4" width="0.6" height="12.2" fill="#7fc97f" opacity="1.00"/>
<rect x="373.2" y="421.4" width="0.8" height="12.2" fill="#7fc97f" opacity="0.75"/>
<rect x="374.6" y="421.4" width="0.8" height="12.2" fill="#fdc086" opacity="0.86"/>
<rect x="375.3" y="421.4" width="0.6" height="12.2" fill="#7fc97f" opacity="1.00"/>
<rect x="376.4" y="421.4" width="1.3" height="12.2" fill="#7fc97f" opacity="0.78"/>
<rect x="377.6" y="421.4" width="0.8" height="12.2" fill="#386cb0" opacity="0.68"/>
<rect x="378.3" y="421.4" width="1.3" height="12.2" fill="#fdc086" opacity="0.75"/>
<rect x="378.8" y="421.4" width="0.6" height="12.2" fill="#7fc97f" opacity="0.90"/>
<rect x="379.5" y="421.4" width="1.3" height="12.2" fill="#386cb0" opacity="0.61"/>
<rect x="380.4" y="421.4" width="1.3" height="12.2" fill="#7fc97f" opacity="0.74"/>
<rect x="381.8" y="421.4" width="0.6" height="12.2" fill="#386cb0" opacity="0.84"/>
<rect x="382.7" y="421.4" width="1.6" height="12.2" fill="#fdc086" opacity="0.75"/>
<rect x="383.8" y="421.4" width="1.3" height="12.2" fill="#7fc97f" opacity="0.72"/>
<rect x="384.5" y="421.4" width="0.6" height="12.2" fill="#7fc97f" opacity="0.99"/>
<rect x="385.4" y="421.4" width="1.0" height="12.2" fill="#386cb0" opacity="0.81"/>
<rect x="386.5" y="421.4" width="1.3" height="12.2" fill="#7fc97f" opacity="0.87"/>
<rect x="388.5" y="421.4" width="1.0" height="12.2" fill="#7fc97f" opacity="0.91"/>
<rect x="390.3" y="421.4" width="1.3" height="12.2" fill="#fdc086" opacity="0.79"/>
<rect x="392.1" y="421.4" width="1.3" height="12.2" fill="#fdc086" opacity="0.83"/>
<rect x="393.2" y="421.4" width="0.8" height="12.2" fill="#fdc086" opacity="0.74"/>
<rect x="394.6" y="421.4" width="0.6" height="12.2" fill="#7fc97f" opacity="0.95"/>
<rect x="395.7" y="421.4" width="1.3" height="12.2" fill="#7fc97f" opacity="0.72"/>
<rect x="396.9" y="421.4" width="0.6" height="12.2" fill="#7fc97f" opacity="0.75"/>
<rect x="397.8" y="421.4" width="0.6" height="12.2" fill="#7fc97f" opacity="0.85"/>
<rect x="398.5" y="421.4" width="0.4" height="12.2" fill="#fdc086" opacity="0.81"/>
<rect x="399.4" y="421.4" width="0.8" height="12.2" fill="#7fc97f" opacity="0.84"/>
<rect x="400.3" y="421.4" width="0.4" height="12.2" fill="#fdc086" opacity="0.79"/>
<rect x="402.1" y="421.4" width="0.4" height="12.2" fill="#7fc97f" opacity="0.76"/>
<rect x="402.8" y="421.4" width="0.8" height="12.2" fill="#fdc086" opacity="0.74"/>
<rect x="403.3" y="421.4" width="1.0" height="12.2" fill="#386cb0" opacity="0.62"/>
<rect x="404.2" y="421.4" width="1.3" height="12.2" fill="#fdc086" opacity="1.00"/>
<rect x="405.3" y="421.4" width="1.0" height="12.2" fill="#7fc97f" opacity="0.91"/>
<rect x="405.8" y="421.4" width="1.0" height="12.2" fill="#fdc086" opacity="0.80"/>
<rect x="406.9" y="421.4" width="1.3" height="12.2" fill="#7fc97f" opacity="0.74"/>
<rect x="407.8" y="421.4" width="1.0" height="12.2" fill="#fdc086" opacity="0.84"/>
<rect x="408.5" y="421.4" width="1.6" height="12.2" fill="#fdc086" opacity="0.91"/>
<rect x="409.0" y="421.4" width="0.6" height="12.2" fill="#fdc086" opacity="0.75"/>
<rect x="409.7" y="421.4" width="1.0" height="12.2" fill="#fdc086" opacity="0.77"/>
<rect x="410.6" y="421.4" width="1.3" height="12.2" fill="#fdc086" opacity="0.96"/>
<rect x="411.3" y="421.4" width="1.3" height="12.2" fill="#7fc97f" opacity="0.93"/>
<rect x="412.2" y="421.4" width="1.3" height="12.2" fill="#386cb0" opacity="0.81"/>
<rect x="412.9" y="421.4" width="0.6" height="12.2" fill="#fdc086" opacity="0.88"/>
<rect x="413.4" y="421.4" width="1.6" height="12.2" fill="#7fc97f" opacity="0.79"/>
<rect x="414.3" y="421.4" width="0.8" height="12.2" fill="#7fc97f" opacity="0.75"/>
<rect x="415.4" y="421.4" width="1.3" height="12.2" fill="#7fc97f" opacity="0.75"/>
<rect x="416.1" y="421.4" width="1.0" height="12.2" fill="#7fc97f" opacity="0.80"/>
<rect x="417.2" y="421.4" width="1.0" height="12.2" fill="#7fc97f" opacity="0.93"/>
<rect x="417.7" y="421.4" width="0.4" height="12.2" fill="#beaed4" opacity="0.74"/>
<rect x="418.8" y="421.4" width="1.6" height="12.2" fill="#7fc97f" opacity="0.93"/>
<rect x="419.5" y="421.4" width="1.6" height="12.2" fill="#7fc97f" opacity="0.93"/>
<rect x="420.2" y="421.4" width="1.0" height="12.2" fill="#fdc086" opacity="0.94"/>
<rect x="421.3" y="421.4" width="1.0" height="12.2" fill="#386cb0" opacity="0.77"/>
<rect x="422.2" y="421.4" width="0.6" height="12.2" fill="#beaed4" opacity="0.83"/>
<rect x="423.1" y="421.4" width="1.0" height="12.2" fill="#fdc086" opacity="0.97"/>
<rect x="423.6" y="421.4" width="0.6" height="12.2" fill="#fdc086" opacity="0.90"/>
<rect x="424.1" y="421.4" width="1.6" height="12.2" fill="#7fc97f" opacity="0.97"/>
<rect x="425.2" y="421.4" width="1.3" height="12.2" fill="#7fc97f" opacity="0.83"/>
<rect x="425.9" y="421.4" width="0.6" height="12.2" fill="#7fc97f" opacity="0.75"/>
<rect x="426.4" y="421.4" width="1.3" height="12.2" fill="#7fc97f" opacity="0.93"/>
<rect x="427.1" y="421.4" width="0.8" height="12.2" fill="#7fc97f" opacity="0.97"/>
<rect x="428.2" y="421.4" width="0.4" height="12.2" fill="#fdc086" opacity="0.83"/>
<rect x="428.7" y="421.4" width="0.8" height="12.2" fill="#7fc97f" opacity="0.76"/>
<rect x="429.4" y="421.4" width="1.0" height="12.2" fill="#fdc086" opacity="0.87"/>
<rect x="429.9" y="421.4" width="0.6" height="12.2" fill="#386cb0" opacity="0.83"/>
<rect x="430.4" y="421.4" width="1.3" height="12.2" fill="#fdc086" opacity="0.92"/>
<rect x="431.5" y="421.4" width="1.6" height="12.2" fill="#fdc086" opacity="0.77"/>
<rect x="432.2" y="421.4" width="1.3" height="12.2" fill="#fdc086" opacity="0.74"/>
<rect x="432.7" y="421.4" width="1.3" height="12.2" fill="#7fc97f" opacity="0.86"/>
<rect x="433.6" y="421.4" width="0.4" height="12.2" fill="#386cb0" opacity="0.80"/>
<rect x="434.3" y="421.4" width="1.0" height="12.2" fill="#fdc086" opacity="0.89"/>
<rect x="435.4" y="421.4" width="0.8" height="12.2" fill="#7fc97f" opacity="0.72"/>
<rect x="436.1" y="421.4" width="0.6" height="12.2" fill="#fdc086" opacity="0.70"/>
<rect x="436.6" y="421.4" width="1.0" height="12.2" fill="#fdc086" opacity="0.92"/>
<rect x="437.7" y="421.4" width="1.3" height="12.2" fill="#fdc086" opacity="0.98"/>
<rect x="438.6" y="421.4" width="1.0" height="12.2" fill="#7fc97f" opacity="0.72"/>
<rect x="439.1" y="421.4" width="1.0" height="12.2" fill="#fdc086" opacity="0.74"/>
<rect x="439.8" y="421.4" width="0.8" height="12.2" fill="#fdc086" opacity="0.70"/>
<rect x="440.5" y="421.4" width="1.3" height="12.2" fill="#fdc086" opacity="0.88"/>
<rect x="441.0" y="421.4" width="1.3" height="12.2" fill="#7fc97f" opacity="0.86"/>
<rect x="442.1" y="421.4" width="0.8" height="12.2" fill="#fdc086" opacity="0.91"/>
<rect x="442.6" y="421.4" width="0.8" height="12.2" fill="#7fc97f" opacity="0.94"/>
<rect x="443.3" y="421.4" width="0.4" height="12.2" fill="#fdc086" opacity="0.87"/>
<rect x="443.8" y="421.4" width="0.4" height="12.2" fill="#7fc97f" opacity="0.85"/>
<rect x="444.7" y="421.4" width="0.6" height="12.2" fill="#beaed4" opacity="0.76"/>
<rect x="445.2" y="421.4" width="1.3" height="12.2" fill="#7fc97f" opacity="0.87"/>
<rect x="445.9" y="421.4" width="0.4" height="12.2" fill="#7fc97f" opacity="0.89"/>
<rect x="447.0" y="421.4" width="0.8" height="12.2" fill="#7fc97f" opacity="0.79"/>
<rect x="448.1" y="421.4" width="1.3" height="12.2" fill="#fdc086" opacity="0.86"/>
<rect x="449.2" y="421.4" width="1.3" height="12.2" fill="#fdc086" opacity="0.78"/>
<rect x="449.7" y="421.4" width="1.0" height="12.2" fill="#fdc086" opacity="0.80"/>
<rect x="450.8" y="421.4" width="0.6" height="12.2" fill="#7fc97f" opacity="0.92"/>
<rect x="451.9" y="421.4" width="1.3" height="12.2" fill="#386cb0" opacity="0.61"/>
<rect x="452.4" y="421.4" width="0.4" height="12.2" fill="#7fc97f" opacity="0.87"/>
<rect x="453.1" y="421.4" width="1.6" height="12.2" fill="#fdc086" opacity="0.76"/>
<rect x="454.0" y="421.4" width="0.6" height="12.2" fill="#fdc086" opacity="0.91"/>
<rect x="454.5" y="421.4" width="1.0" height="12.2" fill="#fdc086" opacity="0.99"/>
<rect x="455.6" y="421.4" width="0.8" height="12.2" fill="#7fc97f" opacity="0.77"/>
<rect x="456.1" y="421.4" width="1.0" height="12.2" fill="#fdc086" opacity="0.78"/>
<rect x="456.8" y="421.4" width="1.6" height="12.2" fill="#7fc97f" opacity="0.93"/>
<rect x="457.5" y="421.4" width="1.0" height="12.2" fill="#fdc086" opacity="0.79"/>
<rect x="458.4" y="421.4" width="0.6" height="12.2" fill="#fdc086" opacity="0.81"/>
<rect x="459.3" y="421.4" width="0.6" height="12.2" fill="#7fc97f" opacity="0.88"/>
<rect x="460.7" y="421.4" width="1.0" height="12.2" fill="#386cb0" opacity="0.74"/>
<rect x="461.2" y="421.4" width="1.0" height="12.2" fill="#ffff99" opacity="0.60"/>
<rect x="461.7" y="421.4" width="1.6" height="12.2" fill="#fdc086" opacity="0.78"/>
<rect x="462.4" y="421.4" width="1.3" height="12.2" fill="#7fc97f" opacity="0.95"/>
<rect x="463.1" y="421.4" width="0.4" height="12.2" fill="#beaed4" opacity="0.77"/>
<rect x="464.0" y="421.4" width="0.4" height="12.2" fill="#beaed4" opacity="0.77"/>
<rect x="464.5" y="421.4" width="1.6" height="12.2" fill="#7fc97f" opacity="0.81"/>
<rect x="465.0" y="421.4" width="1.3" height="12.2" fill="#7fc97f" opacity="0.90"/>
<rect x="466.1" y="421.4" width="1.6" height="12.2" fill="#7fc97f" opacity="0.85"/>
<rect x="468.4" y="421.4" width="1.6" height="12.2" fill="#7fc97f" opacity="0.98"/>
<rect x="469.3" y="421.4" width="1.6" height="12.2" fill="#fdc086" opacity="0.84"/>
<rect x="470.2" y="421.4" width="1.0" height="12.2" fill="#fdc086" opacity="0.94"/>
<rect x="470.9" y="421.4" width="0.6" height="12.2" fill="#7fc97f" opacity="0.83"/>
<rect x="472.0" y="421.4" width="0.4" height="12.2" fill="#7fc97f" opacity="0.87"/>
<rect x="472.7" y="421.4" width="0.6" height="12.2" fill="#fdc086" opacity="0.83"/>
<rect x="474.3" y="421.4" width="0.8" height="12.2" fill="#7fc97f" opacity="0.85"/>
<rect x="475.0" y="421.4" width="0.4" height="12.2" fill="#fdc086" opacity="0.88"/>
<rect x="475.7" y="421.4" width="1.0" height="12.2" fill="#7fc97f" opacity="0.91"/>
<rect x="476.8" y="421.4" width="0.6" height="12.2" fill="#7fc97f" opacity="0.82"/>
<rect x="477.7" y="421.4" width="0.4" height="12.2" fill="#fdc086" opacity="0.85"/>
<rect x="478.2" y="421.4" width="0.8" height="12.2" fill="#7fc97f" opacity="1.00"/>
<rect x="479.3" y="421.4" width="0.8" height="12.2" fill="#7fc97f" opacity="0.91"/>
<rect x="479.8" y="421.4" width="1.0" height="12.2" fill="#7fc97f" opacity="0.92"/>
<rect x="480.9" y="421.4" width="1.3" height="12.2" fill="#7fc97f" opacity="0.80"/>
<rect x="481.6" y="421.4" width="1.0" height="12.2" fill="#7fc97f" opacity="0.97"/>
<rect x="482.1" y="421.4" width="1.6" height="12.2" fill="#fdc086" opacity="0.93"/>
<rect x="482.8" y="421.4" width="1.6" height="12.2" fill="#7fc97f" opacity="0.83"/>
<rect x="483.7" y="421.4" width="0.4" height="12.2" fill="#7fc97f" opacity="0.85"/>
<rect x="484.2" y="421.4" width="0.4" height="12.2" fill="#beaed4" opacity="0.88"/>
<rect x="485.3" y="421.4" width="0.8" height="12.2" fill="#386cb0" opacity="0.79"/>
<rect x="486.4" y="421.4" width="1.0" height="12.2" fill="#fdc086" opacity="0.72"/>
<rect x="487.3" y="421.4" width="0.6" height="12.2" fill="#7fc97f" opacity="0.84"/>
<rect x="488.2" y="421.4" width="1.3" height="12.2" fill="#7fc97f" opacity="0.79"/>
<rect x="489.1" y="421.4" width="1.3" height="12.2" fill="#7fc97f" opacity="0.90"/>
<rect x="489.8" y="421.4" width="0.8" height="12.2" fill="#7fc97f" opacity="0.93"/>
<rect x="490.3" y="421.4" width="0.8" height="12.2" fill="#fdc086" opacity="0.83"/>
<rect x="491.4" y="421.4" width="1.6" height="12.2" fill="#fdc086" opacity="0.89"/>
<rect x="492.3" y="421.4" width="1.6" height="12.2" fill="#fdc086" opacity="1.00"/>
<rect x="493.2" y="421.4" width="1.0" height="12.2" fill="#fdc086" opacity="0.83"/>
<rect x="494.1" y="421.4" width="0.4" height="12.2" fill="#7fc97f" opacity="0.79"/>
<rect x="494.6" y="421.4" width="0.4" height="12.2" fill="#386cb0" opacity="0.80"/>
<rect x="495.7" y="421.4" width="1.0" height="12.2" fill="#fdc086" opacity="0.80"/>
<rect x="496.6" y="421.4" width="1.3" height="12.2" fill="#fdc086" opacity="0.78"/>
<rect x="497.3" y="421.4" width="0.4" height="12.2" fill="#fdc086" opacity="0.96"/>
<rect x="498.0" y="421.4" width="1.0" height="12.2" fill="#7fc97f" opacity="0.97"/>
<rect x="498.7" y="421.4" width="1.0" height="12.2" fill="#fdc086" opacity="0.97"/>
<rect x="499.4" y="421.4" width="0.4" height="12.2" fill="#fdc086" opacity="0.94"/>
<rect x="500.3" y="421.4" width="1.6" height="12.2" fill="#7fc97f" opacity="0.91"/>
<rect x="500.8" y="421.4" width="1.6" height="12.2" fill="#fdc086" opacity="0.93"/>
<rect x="501.9" y="421.4" width="1.0" height="12.2" fill="#7fc97f" opacity="0.85"/>
<rect x="502.8" y="421.4" width="0.6" height="12.2" fill="#beaed4" opacity="0.77"/>
<rect x="503.7" y="421.4" width="1.3" height="12.2" fill="#fdc086" opacity="0.85"/>
<rect x="505.7" y="421.4" width="0.6" height="12.2" fill="#7fc97f" opacity="0.93"/>
<rect x="506.8" y="421.4" width="0.4" height="12.2" fill="#fdc086" opacity="0.81"/>
<rect x="507.9" y="421.4" width="0.4" height="12.2" fill="#7fc97f" opacity="0.76"/>
<rect x="508.6" y="421.4" width="1.3" height="12.2" fill="#7fc97f" opacity="0.79"/>
<rect x="509.1" y="421.4" width="1.0" height="12.2" fill="#fdc086" opacity="0.76"/>
<rect x="510.5" y="421.4" width="0.8" height="12.2" fill="#fdc086" opacity="0.72"/>
<rect x="511.4" y="421.4" width="0.6" height="12.2" fill="#7fc97f" opacity="0.85"/>
<rect x="512.1" y="421.4" width="1.0" height="12.2" fill="#fdc086" opacity="0.83"/>
<rect x="513.0" y="421.4" width="1.0" height="12.2" fill="#7fc97f" opacity="0.84"/>
<rect x="513.7" y="421.4" width="0.4" height="12.2" fill="#fdc086" opacity="0.78"/>
<rect x="514.6" y="421.4" width="0.4" height="12.2" fill="#7fc97f" opacity="0.98"/>
<rect x="515.7" y="421.4" width="0.8" height="12.2" fill="#fdc086" opacity="0.76"/>
<rect x="516.8" y="421.4" width="1.3" height="12.2" fill="#7fc97f" opacity="0.98"/>
<rect x="517.9" y="421.4" width="1.3" height="12.2" fill="#beaed4" opacity="0.77"/>
<rect x="518.8" y="421.4" width="1.6" height="12.2" fill="#386cb0" opacity="0.73"/>
<rect x="519.7" y="421.4" width="0.8" height="12.2" fill="#beaed4" opacity="0.78"/>
<rect x="520.4" y="421.4" width="1.0" height="12.2" fill="#fdc086" opacity="0.78"/>
<rect x="521.5" y="421.4" width="0.6" height="12.2" fill="#7fc97f" opacity="0.95"/>
<rect x="522.6" y="421.4" width="0.4" height="12.2" fill="#386cb0" opacity="0.66"/>
<rect x="523.1" y="421.4" width="0.6" height="12.2" fill="#7fc97f" opacity="0.99"/>
<rect x="524.2" y="421.4" width="1.0" height="12.2" fill="#fdc086" opacity="0.86"/>
<rect x="525.1" y="421.4" width="0.6" height="12.2" fill="#7fc97f" opacity="0.86"/>
<rect x="525.8" y="421.4" width="1.3" height="12.2" fill="#fdc086" opacity="0.71"/>
<rect x="526.3" y="421.4" width="0.6" height="12.2" fill="#7fc97f" opacity="0.79"/>
<rect x="527.4" y="421.4" width="1.0" height="12.2" fill="#fdc086" opacity="0.96"/>
<rect x="528.1" y="421.4" width="0.6" height="12.2" fill="#beaed4" opacity="0.75"/>
<rect x="529.0" y="421.4" width="0.6" height="12.2" fill="#7fc97f" opacity="0.78"/>
<rect x="529.9" y="421.4" width="0.6" height="12.2" fill="#7fc97f" opacity="0.87"/>
<rect x="530.4" y="421.4" width="1.6" height="12.2" fill="#7fc97f" opacity="0.95"/>
<rect x="530.9" y="421.4" width="0.6" height="12.2" fill="#7fc97f" opacity="0.93"/>
<rect x="532.0" y="421.4" width="1.3" height="12.2" fill="#7fc97f" opacity="0.73"/>
<rect x="533.1" y="421.4" width="1.0" height="12.2" fill="#386cb0" opacity="0.78"/>
<rect x="533.6" y="421.4" width="1.0" height="12.2" fill="#7fc97f" opacity="0.92"/>
<rect x="534.5" y="421.4" width="0.8" height="12.2" fill="#7fc97f" opacity="0.94"/>
<rect x="535.0" y="421.4" width="0.4" height="12.2" fill="#7fc97f" opacity="0.97"/>
<rect x="535.7" y="421.4" width="0.6" height="12.2" fill="#fdc086" opacity="0.85"/>
<rect x="536.6" y="421.4" width="0.8" height="12.2" fill="#fdc086" opacity="0.93"/>
<rect x="537.7" y="421.4" width="1.3" height="12.2" fill="#fdc086" opacity="0.95"/>
<rect x="538.8" y="421.4" width="0.6" height="12.2" fill="#7fc97f" opacity="0.84"/>
<rect x="539.5" y="421.4" width="0.6" height="12.2" fill="#7fc97f" opacity="0.91"/>
<rect x="540.0" y="421.4" width="1.3" height="12.2" fill="#fdc086" opacity="0.70"/>
<rect x="540.5" y="421.4" width="0.6" height="12.2" fill="#7fc97f" opacity="0.93"/>
<rect x="541.6" y="421.4" width="1.0" height="12.2" fill="#fdc086" opacity="0.77"/>
<rect x="542.3" y="421.4" width="1.0" height="12.2" fill="#beaed4" opacity="0.96"/>
<rect x="542.8" y="421.4" width="1.6" height="12.2" fill="#fdc086" opacity="0.81"/>
<rect x="543.5" y="421.4" width="0.6" height="12.2" fill="#fdc086" opacity="0.78"/>
<rect x="544.6" y="421.4" width="1.6" height="12.2" fill="#fdc086" opacity="0.86"/>
<rect x="545.1" y="421.4" width="0.6" height="12.2" fill="#fdc086" opacity="0.79"/>
<rect x="545.6" y="421.4" width="1.0" height="12.2" fill="#fdc086" opacity="0.91"/>
<rect x="546.1" y="421.4" width="0.8" height="12.2" fill="#7fc97f" opacity="0.98"/>
<rect x="546.8" y="421.4" width="1.0" height="12.2" fill="#fdc086" opacity="0.98"/>
<rect x="547.3" y="421.4" width="0.6" height="12.2" fill="#fdc086" opacity="0.87"/>
<rect x="548.4" y="421.4" width="1.3" height="12.2" fill="#fdc086" opacity="0.76"/>
<rect x="549.5" y="421.4" width="0.4" height="12.2" fill="#fdc086" opacity="0.87"/>
<rect x="550.0" y="421.4" width="1.6" height="12.2" fill="#7fc97f" opacity="0.96"/>
<rect x="550.9" y="421.4" width="1.3" height="12.2" fill="#7fc97f" opacity="0.98"/>
<rect x="551.8" y="421.4" width="1.0" height="12.2" fill="#7fc97f" opacity="0.78"/>
<rect x="552.5" y="421.4" width="1.0" height="12.2" fill="#fdc086" opacity="0.87"/>
<rect x="553.4" y="421.4" width="0.8" height="12.2" fill="#fdc086" opacity="0.89"/>
<rect x="554.3" y="421.4" width="0.6" height="12.2" fill="#fdc086" opacity="0.96"/>
<rect x="554.8" y="421.4" width="0.6" height="12.2" fill="#fdc086" opacity="0.71"/>
<rect x="555.3" y="421.4" width="0.6" height="12.2" fill="#7fc97f" opacity="0.77"/>
<rect x="556.0" y="421.4" width="1.3" height="12.2" fill="#7fc97f" opacity="1.00"/>
<rect x="556.9" y="421.4" width="0.8" height="12.2" fill="#fdc086" opacity="0.74"/>
<rect x="560.7" y="421.4" width="0.6" height="12.2" fill="#fdc086" opacity="0.87"/>
<rect x="561.4" y="421.4" width="1.3" height="12.2" fill="#7fc97f" opacity="0.94"/>
<rect x="562.8" y="421.4" width="1.3" height="12.2" fill="#fdc086" opacity="0.92"/>
<rect x="564.0" y="421.4" width="0.4" height="12.2" fill="#7fc97f" opacity="0.82"/>
<rect x="564.7" y="421.4" width="0.4" height="12.2" fill="#7fc97f" opacity="0.95"/>
<rect x="565.8" y="421.4" width="0.6" height="12.2" fill="#fdc086" opacity="0.97"/>
<rect x="568.3" y="421.4" width="1.3" height="12.2" fill="#fdc086" opacity="0.99"/>
<rect x="569.0" y="421.4" width="0.8" height="12.2" fill="#fdc086" opacity="0.99"/>
<rect x="569.9" y="421.4" width="0.4" height="12.2" fill="#fdc086" opacity="0.97"/>
<rect x="573.0" y="421.4" width="0.8" height="12.2" fill="#fdc086" opacity="0.92"/>
<rect x="574.1" y="421.4" width="0.4" height="12.2" fill="#fdc086" opacity="0.95"/>
<rect x="574.6" y="421.4" width="1.0" height="12.2" fill="#fdc086" opacity="0.77"/>
<rect x="575.7" y="421.4" width="0.4" height="12.2" fill="#fdc086" opacity="0.73"/>
<rect x="576.4" y="421.4" width="1.0" height="12.2" fill="#7fc97f" opacity="0.81"/>
<rect x="578.2" y="421.4" width="1.0" height="12.2" fill="#fdc086" opacity="0.87"/>
<rect x="578.7" y="421.4" width="1.3" height="12.2" fill="#7fc97f" opacity="0.73"/>
<rect x="579.2" y="421.4" width="1.3" height="12.2" fill="#386cb0" opacity="0.68"/>
<rect x="581.0" y="421.4" width="0.8" height="12.2" fill="#fdc086" opacity="0.95"/>
<rect x="581.7" y="421.4" width="0.6" height="12.2" fill="#fdc086" opacity="0.76"/>
<rect x="582.6" y="421.4" width="1.6" height="12.2" fill="#7fc97f" opacity="0.79"/>
<rect x="583.7" y="421.4" width="0.4" height="12.2" fill="#7fc97f" opacity="0.86"/>
<rect x="584.6" y="421.4" width="0.4" height="12.2" fill="#fdc086" opacity="0.84"/>
<rect x="585.7" y="421.4" width="0.4" height="12.2" fill="#7fc97f" opacity="0.80"/>
<rect x="586.4" y="421.4" width="0.6" height="12.2" fill="#fdc086" opacity="0.98"/>
<rect x="587.3" y="421.4" width="0.4" height="12.2" fill="#7fc97f" opacity="0.97"/>
<rect x="588.0" y="421.4" width="0.8" height="12.2" fill="#fdc086" opacity="0.90"/>
<rect x="589.1" y="421.4" width="0.8" height="12.2" fill="#7fc97f" opacity="0.72"/>
<rect x="589.6" y="421.4" width="0.4" height="12.2" fill="#7fc97f" opacity="0.95"/>
<rect x="590.7" y="421.4" width="0.4" height="12.2" fill="#fdc086" opacity="0.89"/>
<rect x="591.4" y="421.4" width="0.4" height="12.2" fill="#7fc97f" opacity="0.73"/>
<rect x="591.9" y="421.4" width="0.4" height="12.2" fill="#386cb0" opacity="0.70"/>
<rect x="592.6" y="421.4" width="0.6" height="12.2" fill="#7fc97f" opacity="0.89"/>
<rect x="593.3" y="421.4" width="0.8" height="12.2" fill="#7fc97f" opacity="0.99"/>
<rect x="594.0" y="421.4" width="0.6" height="12.2" fill="#386cb0" opacity="0.64"/>
<rect x="594.5" y="421.4" width="0.4" height="12.2" fill="#7fc97f" opacity="0.71"/>
<rect x="595.4" y="421.4" width="0.6" height="12.2" fill="#fdc086" opacity="0.77"/>
<rect x="596.1" y="421.4" width="1.0" height="12.2" fill="#7fc97f" opacity="0.99"/>
<rect x="596.6" y="421.4" width="1.6" height="12.2" fill="#beaed4" opacity="0.77"/>
</g>
<rect x="26.3" y="421.4" width="577.0" height="12.2" rx="6.1" fill="none" stroke="#222" stroke-width="1.3"/>
<text x="1.3" y="446.2" font-size="7.8" fill="#161616" stroke="#161616" stroke-width="0.22">Chr3R</text>
<g clip-path="url(#cp4)">
<rect x="33.4" y="436.4" width="1.0" height="12.2" fill="#fdc086" opacity="0.98"/>
<rect x="34.3" y="436.4" width="0.4" height="12.2" fill="#fdc086" opacity="0.96"/>
<rect x="34.8" y="436.4" width="1.0" height="12.2" fill="#fdc086" opacity="0.81"/>
<rect x="35.7" y="436.4" width="1.6" height="12.2" fill="#fdc086" opacity="0.80"/>
<rect x="36.2" y="436.4" width="1.3" height="12.2" fill="#7fc97f" opacity="0.94"/>
<rect x="37.3" y="436.4" width="0.4" height="12.2" fill="#7fc97f" opacity="0.96"/>
<rect x="37.8" y="436.4" width="1.3" height="12.2" fill="#fdc086" opacity="0.88"/>
<rect x="39.8" y="436.4" width="1.3" height="12.2" fill="#7fc97f" opacity="0.77"/>
<rect x="40.3" y="436.4" width="0.8" height="12.2" fill="#7fc97f" opacity="0.93"/>
<rect x="41.2" y="436.4" width="0.6" height="12.2" fill="#386cb0" opacity="0.80"/>
<rect x="41.7" y="436.4" width="0.6" height="12.2" fill="#7fc97f" opacity="0.83"/>
<rect x="42.6" y="436.4" width="1.3" height="12.2" fill="#fdc086" opacity="0.92"/>
<rect x="43.1" y="436.4" width="1.0" height="12.2" fill="#7fc97f" opacity="0.84"/>
<rect x="43.6" y="436.4" width="0.4" height="12.2" fill="#fdc086" opacity="0.86"/>
<rect x="44.1" y="436.4" width="1.3" height="12.2" fill="#7fc97f" opacity="0.78"/>
<rect x="44.8" y="436.4" width="0.6" height="12.2" fill="#fdc086" opacity="0.79"/>
<rect x="45.9" y="436.4" width="0.4" height="12.2" fill="#fdc086" opacity="0.71"/>
<rect x="47.0" y="436.4" width="0.8" height="12.2" fill="#fdc086" opacity="0.93"/>
<rect x="47.9" y="436.4" width="0.8" height="12.2" fill="#386cb0" opacity="0.78"/>
<rect x="48.4" y="436.4" width="1.6" height="12.2" fill="#fdc086" opacity="0.70"/>
<rect x="49.3" y="436.4" width="0.8" height="12.2" fill="#7fc97f" opacity="0.99"/>
<rect x="49.8" y="436.4" width="0.6" height="12.2" fill="#fdc086" opacity="0.71"/>
<rect x="50.7" y="436.4" width="1.0" height="12.2" fill="#7fc97f" opacity="0.80"/>
<rect x="51.8" y="436.4" width="1.6" height="12.2" fill="#386cb0" opacity="0.85"/>
<rect x="52.9" y="436.4" width="0.4" height="12.2" fill="#7fc97f" opacity="0.71"/>
<rect x="54.0" y="436.4" width="1.0" height="12.2" fill="#7fc97f" opacity="1.00"/>
<rect x="54.5" y="436.4" width="1.0" height="12.2" fill="#7fc97f" opacity="0.88"/>
<rect x="55.0" y="436.4" width="1.3" height="12.2" fill="#7fc97f" opacity="0.82"/>
<rect x="55.7" y="436.4" width="0.8" height="12.2" fill="#7fc97f" opacity="0.90"/>
<rect x="56.6" y="436.4" width="1.6" height="12.2" fill="#7fc97f" opacity="0.92"/>
<rect x="58.2" y="436.4" width="0.8" height="12.2" fill="#7fc97f" opacity="0.81"/>
<rect x="58.7" y="436.4" width="1.0" height="12.2" fill="#fdc086" opacity="0.78"/>
<rect x="59.6" y="436.4" width="0.4" height="12.2" fill="#fdc086" opacity="0.82"/>
<rect x="60.3" y="436.4" width="1.3" height="12.2" fill="#fdc086" opacity="0.70"/>
<rect x="61.2" y="436.4" width="1.6" height="12.2" fill="#7fc97f" opacity="0.91"/>
<rect x="61.9" y="436.4" width="1.0" height="12.2" fill="#fdc086" opacity="0.77"/>
<rect x="62.4" y="436.4" width="0.6" height="12.2" fill="#beaed4" opacity="0.88"/>
<rect x="63.5" y="436.4" width="1.6" height="12.2" fill="#fdc086" opacity="0.77"/>
<rect x="66.2" y="436.4" width="1.6" height="12.2" fill="#7fc97f" opacity="0.82"/>
<rect x="66.9" y="436.4" width="1.3" height="12.2" fill="#386cb0" opacity="0.78"/>
<rect x="67.8" y="436.4" width="1.3" height="12.2" fill="#fdc086" opacity="0.72"/>
<rect x="68.7" y="436.4" width="0.6" height="12.2" fill="#fdc086" opacity="0.98"/>
<rect x="69.8" y="436.4" width="1.0" height="12.2" fill="#7fc97f" opacity="0.77"/>
<rect x="70.9" y="436.4" width="0.8" height="12.2" fill="#fdc086" opacity="0.74"/>
<rect x="71.4" y="436.4" width="0.6" height="12.2" fill="#7fc97f" opacity="0.86"/>
<rect x="72.1" y="436.4" width="0.6" height="12.2" fill="#386cb0" opacity="0.79"/>
<rect x="72.6" y="436.4" width="0.6" height="12.2" fill="#fdc086" opacity="0.92"/>
<rect x="73.3" y="436.4" width="0.4" height="12.2" fill="#7fc97f" opacity="0.79"/>
<rect x="73.8" y="436.4" width="0.8" height="12.2" fill="#7fc97f" opacity="0.90"/>
<rect x="74.7" y="436.4" width="0.6" height="12.2" fill="#386cb0" opacity="0.69"/>
<rect x="75.2" y="436.4" width="1.3" height="12.2" fill="#7fc97f" opacity="0.98"/>
<rect x="75.9" y="436.4" width="0.6" height="12.2" fill="#7fc97f" opacity="0.85"/>
<rect x="77.0" y="436.4" width="1.0" height="12.2" fill="#7fc97f" opacity="0.86"/>
<rect x="77.7" y="436.4" width="0.4" height="12.2" fill="#fdc086" opacity="0.93"/>
<rect x="78.6" y="436.4" width="0.6" height="12.2" fill="#7fc97f" opacity="0.79"/>
<rect x="79.3" y="436.4" width="1.0" height="12.2" fill="#beaed4" opacity="0.86"/>
<rect x="80.4" y="436.4" width="1.6" height="12.2" fill="#7fc97f" opacity="0.76"/>
<rect x="81.1" y="436.4" width="1.3" height="12.2" fill="#ffff99" opacity="0.63"/>
<rect x="81.6" y="436.4" width="1.0" height="12.2" fill="#fdc086" opacity="0.89"/>
<rect x="82.7" y="436.4" width="1.0" height="12.2" fill="#7fc97f" opacity="0.96"/>
<rect x="83.6" y="436.4" width="1.3" height="12.2" fill="#7fc97f" opacity="0.81"/>
<rect x="84.1" y="436.4" width="0.4" height="12.2" fill="#fdc086" opacity="0.70"/>
<rect x="85.2" y="436.4" width="0.8" height="12.2" fill="#7fc97f" opacity="0.97"/>
<rect x="85.7" y="436.4" width="1.0" height="12.2" fill="#386cb0" opacity="0.67"/>
<rect x="86.8" y="436.4" width="0.4" height="12.2" fill="#7fc97f" opacity="0.95"/>
<rect x="87.3" y="436.4" width="0.4" height="12.2" fill="#fdc086" opacity="0.94"/>
<rect x="88.4" y="436.4" width="0.6" height="12.2" fill="#fdc086" opacity="0.91"/>
<rect x="89.5" y="436.4" width="1.6" height="12.2" fill="#7fc97f" opacity="0.92"/>
<rect x="90.4" y="436.4" width="0.6" height="12.2" fill="#7fc97f" opacity="0.85"/>
<rect x="91.5" y="436.4" width="0.8" height="12.2" fill="#7fc97f" opacity="0.74"/>
<rect x="92.4" y="436.4" width="0.4" height="12.2" fill="#fdc086" opacity="0.90"/>
<rect x="93.3" y="436.4" width="1.0" height="12.2" fill="#7fc97f" opacity="0.99"/>
<rect x="93.8" y="436.4" width="0.6" height="12.2" fill="#fdc086" opacity="0.79"/>
<rect x="94.3" y="436.4" width="1.3" height="12.2" fill="#7fc97f" opacity="0.70"/>
<rect x="94.8" y="436.4" width="1.6" height="12.2" fill="#fdc086" opacity="0.99"/>
<rect x="95.5" y="436.4" width="0.6" height="12.2" fill="#7fc97f" opacity="0.91"/>
<rect x="96.2" y="436.4" width="0.8" height="12.2" fill="#386cb0" opacity="0.63"/>
<rect x="96.7" y="436.4" width="1.0" height="12.2" fill="#fdc086" opacity="0.87"/>
<rect x="97.6" y="436.4" width="1.6" height="12.2" fill="#beaed4" opacity="0.84"/>
<rect x="98.7" y="436.4" width="1.3" height="12.2" fill="#7fc97f" opacity="1.00"/>
<rect x="99.8" y="436.4" width="0.8" height="12.2" fill="#fdc086" opacity="0.90"/>
<rect x="100.3" y="436.4" width="0.4" height="12.2" fill="#fdc086" opacity="0.72"/>
<rect x="101.2" y="436.4" width="0.8" height="12.2" fill="#7fc97f" opacity="0.91"/>
<rect x="101.7" y="436.4" width="0.8" height="12.2" fill="#7fc97f" opacity="0.82"/>
<rect x="102.4" y="436.4" width="0.6" height="12.2" fill="#7fc97f" opacity="0.78"/>
<rect x="103.1" y="436.4" width="1.6" height="12.2" fill="#beaed4" opacity="0.82"/>
<rect x="103.6" y="436.4" width="1.6" height="12.2" fill="#7fc97f" opacity="0.72"/>
<rect x="104.3" y="436.4" width="1.6" height="12.2" fill="#ffff99" opacity="0.83"/>
<rect x="104.8" y="436.4" width="0.8" height="12.2" fill="#fdc086" opacity="0.94"/>
<rect x="105.7" y="436.4" width="0.8" height="12.2" fill="#fdc086" opacity="0.85"/>
<rect x="106.4" y="436.4" width="1.0" height="12.2" fill="#386cb0" opacity="0.67"/>
<rect x="107.1" y="436.4" width="1.6" height="12.2" fill="#7fc97f" opacity="0.72"/>
<rect x="107.8" y="436.4" width="0.4" height="12.2" fill="#7fc97f" opacity="0.95"/>
<rect x="108.5" y="436.4" width="1.3" height="12.2" fill="#fdc086" opacity="0.73"/>
<rect x="109.4" y="436.4" width="1.6" height="12.2" fill="#7fc97f" opacity="0.82"/>
<rect x="110.1" y="436.4" width="1.3" height="12.2" fill="#7fc97f" opacity="0.71"/>
<rect x="111.2" y="436.4" width="1.3" height="12.2" fill="#386cb0" opacity="0.75"/>
<rect x="111.9" y="436.4" width="0.4" height="12.2" fill="#7fc97f" opacity="0.84"/>
<rect x="112.8" y="436.4" width="1.3" height="12.2" fill="#7fc97f" opacity="0.79"/>
<rect x="113.9" y="436.4" width="0.8" height="12.2" fill="#fdc086" opacity="0.70"/>
<rect x="114.6" y="436.4" width="0.8" height="12.2" fill="#7fc97f" opacity="0.82"/>
<rect x="115.1" y="436.4" width="0.8" height="12.2" fill="#7fc97f" opacity="0.79"/>
<rect x="115.6" y="436.4" width="0.6" height="12.2" fill="#7fc97f" opacity="0.74"/>
<rect x="116.1" y="436.4" width="0.4" height="12.2" fill="#7fc97f" opacity="0.85"/>
<rect x="116.6" y="436.4" width="1.0" height="12.2" fill="#7fc97f" opacity="0.80"/>
<rect x="117.5" y="436.4" width="0.6" height="12.2" fill="#7fc97f" opacity="0.76"/>
<rect x="118.0" y="436.4" width="0.8" height="12.2" fill="#fdc086" opacity="0.83"/>
<rect x="118.5" y="436.4" width="0.6" height="12.2" fill="#7fc97f" opacity="0.77"/>
<rect x="119.0" y="436.4" width="1.0" height="12.2" fill="#7fc97f" opacity="0.87"/>
<rect x="119.5" y="436.4" width="1.3" height="12.2" fill="#7fc97f" opacity="0.91"/>
<rect x="120.0" y="436.4" width="1.0" height="12.2" fill="#7fc97f" opacity="0.74"/>
<rect x="121.1" y="436.4" width="1.6" height="12.2" fill="#7fc97f" opacity="0.78"/>
<rect x="122.0" y="436.4" width="1.0" height="12.2" fill="#fdc086" opacity="0.86"/>
<rect x="122.5" y="436.4" width="0.4" height="12.2" fill="#386cb0" opacity="0.63"/>
<rect x="123.0" y="436.4" width="1.6" height="12.2" fill="#7fc97f" opacity="0.96"/>
<rect x="124.1" y="436.4" width="0.8" height="12.2" fill="#7fc97f" opacity="0.75"/>
<rect x="124.8" y="436.4" width="1.3" height="12.2" fill="#7fc97f" opacity="0.99"/>
<rect x="125.3" y="436.4" width="0.6" height="12.2" fill="#7fc97f" opacity="0.76"/>
<rect x="126.2" y="436.4" width="1.3" height="12.2" fill="#7fc97f" opacity="0.94"/>
<rect x="127.3" y="436.4" width="0.6" height="12.2" fill="#beaed4" opacity="0.75"/>
<rect x="128.2" y="436.4" width="0.8" height="12.2" fill="#7fc97f" opacity="0.79"/>
<rect x="129.3" y="436.4" width="1.0" height="12.2" fill="#ffff99" opacity="0.75"/>
<rect x="130.4" y="436.4" width="0.6" height="12.2" fill="#fdc086" opacity="0.71"/>
<rect x="130.9" y="436.4" width="1.6" height="12.2" fill="#fdc086" opacity="0.72"/>
<rect x="131.8" y="436.4" width="1.6" height="12.2" fill="#386cb0" opacity="0.60"/>
<rect x="132.7" y="436.4" width="0.8" height="12.2" fill="#fdc086" opacity="0.74"/>
<rect x="133.8" y="436.4" width="0.4" height="12.2" fill="#fdc086" opacity="0.79"/>
<rect x="134.5" y="436.4" width="0.8" height="12.2" fill="#7fc97f" opacity="0.98"/>
<rect x="135.4" y="436.4" width="1.3" height="12.2" fill="#7fc97f" opacity="0.79"/>
<rect x="136.5" y="436.4" width="0.6" height="12.2" fill="#7fc97f" opacity="0.79"/>
<rect x="137.6" y="436.4" width="0.8" height="12.2" fill="#fdc086" opacity="0.91"/>
<rect x="138.1" y="436.4" width="0.6" height="12.2" fill="#fdc086" opacity="0.97"/>
<rect x="139.2" y="436.4" width="1.6" height="12.2" fill="#7fc97f" opacity="0.83"/>
<rect x="141.2" y="436.4" width="1.3" height="12.2" fill="#7fc97f" opacity="0.73"/>
<rect x="141.7" y="436.4" width="1.6" height="12.2" fill="#ffff99" opacity="0.80"/>
<rect x="142.6" y="436.4" width="1.0" height="12.2" fill="#7fc97f" opacity="0.94"/>
<rect x="143.5" y="436.4" width="0.6" height="12.2" fill="#fdc086" opacity="0.73"/>
<rect x="144.6" y="436.4" width="1.6" height="12.2" fill="#7fc97f" opacity="0.72"/>
<rect x="145.7" y="436.4" width="0.8" height="12.2" fill="#7fc97f" opacity="0.81"/>
<rect x="146.2" y="436.4" width="0.8" height="12.2" fill="#7fc97f" opacity="0.81"/>
<rect x="147.3" y="436.4" width="0.4" height="12.2" fill="#beaed4" opacity="0.73"/>
<rect x="148.0" y="436.4" width="1.3" height="12.2" fill="#fdc086" opacity="0.89"/>
<rect x="148.7" y="436.4" width="1.6" height="12.2" fill="#7fc97f" opacity="0.79"/>
<rect x="149.6" y="436.4" width="0.4" height="12.2" fill="#386cb0" opacity="0.66"/>
<rect x="150.1" y="436.4" width="0.6" height="12.2" fill="#7fc97f" opacity="0.73"/>
<rect x="150.8" y="436.4" width="1.0" height="12.2" fill="#7fc97f" opacity="0.80"/>
<rect x="152.8" y="436.4" width="1.0" height="12.2" fill="#ffff99" opacity="0.72"/>
<rect x="153.9" y="436.4" width="1.6" height="12.2" fill="#fdc086" opacity="0.73"/>
<rect x="154.4" y="436.4" width="0.4" height="12.2" fill="#7fc97f" opacity="0.98"/>
<rect x="155.5" y="436.4" width="1.3" height="12.2" fill="#fdc086" opacity="0.79"/>
<rect x="156.4" y="436.4" width="0.8" height="12.2" fill="#ffff99" opacity="0.74"/>
<rect x="157.3" y="436.4" width="1.0" height="12.2" fill="#beaed4" opacity="0.98"/>
<rect x="157.8" y="436.4" width="1.3" height="12.2" fill="#7fc97f" opacity="0.84"/>
<rect x="158.5" y="436.4" width="0.8" height="12.2" fill="#7fc97f" opacity="0.96"/>
<rect x="159.6" y="436.4" width="0.6" height="12.2" fill="#fdc086" opacity="0.93"/>
<rect x="160.1" y="436.4" width="0.8" height="12.2" fill="#beaed4" opacity="0.88"/>
<rect x="160.8" y="436.4" width="0.6" height="12.2" fill="#fdc086" opacity="0.84"/>
<rect x="161.5" y="436.4" width="1.3" height="12.2" fill="#ffff99" opacity="0.62"/>
<rect x="162.6" y="436.4" width="1.3" height="12.2" fill="#7fc97f" opacity="0.93"/>
<rect x="163.5" y="436.4" width="1.3" height="12.2" fill="#7fc97f" opacity="0.74"/>
<rect x="164.2" y="436.4" width="0.8" height="12.2" fill="#fdc086" opacity="0.96"/>
<rect x="165.1" y="436.4" width="1.0" height="12.2" fill="#7fc97f" opacity="0.74"/>
<rect x="165.6" y="436.4" width="1.3" height="12.2" fill="#7fc97f" opacity="0.77"/>
<rect x="168.5" y="436.4" width="0.8" height="12.2" fill="#beaed4" opacity="0.85"/>
<rect x="169.6" y="436.4" width="0.6" height="12.2" fill="#fdc086" opacity="0.85"/>
<rect x="171.5" y="436.4" width="1.6" height="12.2" fill="#7fc97f" opacity="0.72"/>
<rect x="172.6" y="436.4" width="0.6" height="12.2" fill="#fdc086" opacity="0.71"/>
<rect x="173.3" y="436.4" width="0.4" height="12.2" fill="#7fc97f" opacity="0.85"/>
<rect x="174.2" y="436.4" width="0.4" height="12.2" fill="#7fc97f" opacity="0.92"/>
<rect x="175.1" y="436.4" width="0.8" height="12.2" fill="#fdc086" opacity="0.97"/>
<rect x="176.0" y="436.4" width="0.6" height="12.2" fill="#fdc086" opacity="0.90"/>
<rect x="176.5" y="436.4" width="0.6" height="12.2" fill="#fdc086" opacity="0.96"/>
<rect x="178.1" y="436.4" width="0.6" height="12.2" fill="#7fc97f" opacity="0.84"/>
<rect x="178.8" y="436.4" width="1.3" height="12.2" fill="#386cb0" opacity="0.73"/>
<rect x="180.9" y="436.4" width="0.6" height="12.2" fill="#7fc97f" opacity="0.98"/>
<rect x="182.0" y="436.4" width="0.6" height="12.2" fill="#7fc97f" opacity="0.91"/>
<rect x="182.5" y="436.4" width="1.0" height="12.2" fill="#fdc086" opacity="0.74"/>
<rect x="183.6" y="436.4" width="0.6" height="12.2" fill="#386cb0" opacity="0.64"/>
<rect x="187.2" y="436.4" width="0.4" height="12.2" fill="#beaed4" opacity="0.75"/>
<rect x="188.3" y="436.4" width="0.6" height="12.2" fill="#7fc97f" opacity="0.96"/>
<rect x="189.4" y="436.4" width="0.4" height="12.2" fill="#7fc97f" opacity="0.99"/>
<rect x="190.1" y="436.4" width="1.3" height="12.2" fill="#7fc97f" opacity="0.92"/>
<rect x="190.8" y="436.4" width="1.0" height="12.2" fill="#7fc97f" opacity="0.99"/>
<rect x="191.3" y="436.4" width="1.3" height="12.2" fill="#7fc97f" opacity="0.75"/>
<rect x="193.3" y="436.4" width="0.8" height="12.2" fill="#fdc086" opacity="0.78"/>
<rect x="194.0" y="436.4" width="0.6" height="12.2" fill="#7fc97f" opacity="0.95"/>
<rect x="196.3" y="436.4" width="1.0" height="12.2" fill="#7fc97f" opacity="0.86"/>
<rect x="197.4" y="436.4" width="1.6" height="12.2" fill="#fdc086" opacity="0.93"/>
<rect x="198.5" y="436.4" width="1.6" height="12.2" fill="#beaed4" opacity="0.84"/>
<rect x="199.6" y="436.4" width="0.6" height="12.2" fill="#fdc086" opacity="0.78"/>
<rect x="200.5" y="436.4" width="1.6" height="12.2" fill="#7fc97f" opacity="0.80"/>
<rect x="201.2" y="436.4" width="0.8" height="12.2" fill="#386cb0" opacity="0.63"/>
<rect x="202.1" y="436.4" width="0.4" height="12.2" fill="#fdc086" opacity="0.76"/>
<rect x="203.5" y="436.4" width="0.6" height="12.2" fill="#fdc086" opacity="0.92"/>
<rect x="205.1" y="436.4" width="0.6" height="12.2" fill="#fdc086" opacity="0.74"/>
<rect x="206.2" y="436.4" width="1.0" height="12.2" fill="#7fc97f" opacity="0.78"/>
<rect x="207.1" y="436.4" width="0.8" height="12.2" fill="#fdc086" opacity="0.89"/>
<rect x="207.6" y="436.4" width="0.8" height="12.2" fill="#7fc97f" opacity="0.73"/>
<rect x="208.3" y="436.4" width="1.6" height="12.2" fill="#386cb0" opacity="0.84"/>
<rect x="210.5" y="436.4" width="0.6" height="12.2" fill="#fdc086" opacity="0.95"/>
<rect x="211.6" y="436.4" width="1.0" height="12.2" fill="#7fc97f" opacity="0.74"/>
<rect x="212.8" y="436.4" width="0.4" height="12.2" fill="#7fc97f" opacity="0.83"/>
<rect x="213.7" y="436.4" width="0.4" height="12.2" fill="#7fc97f" opacity="0.75"/>
<rect x="216.2" y="436.4" width="0.4" height="12.2" fill="#7fc97f" opacity="0.99"/>
<rect x="216.9" y="436.4" width="1.6" height="12.2" fill="#beaed4" opacity="0.88"/>
<rect x="217.6" y="436.4" width="1.0" height="12.2" fill="#fdc086" opacity="0.89"/>
<rect x="218.3" y="436.4" width="1.6" height="12.2" fill="#beaed4" opacity="0.72"/>
<rect x="220.3" y="436.4" width="0.4" height="12.2" fill="#beaed4" opacity="0.83"/>
<rect x="221.0" y="436.4" width="0.4" height="12.2" fill="#7fc97f" opacity="0.87"/>
<rect x="222.1" y="436.4" width="0.8" height="12.2" fill="#fdc086" opacity="0.97"/>
<rect x="223.8" y="436.4" width="1.6" height="12.2" fill="#7fc97f" opacity="0.87"/>
<rect x="224.5" y="436.4" width="1.0" height="12.2" fill="#fdc086" opacity="0.97"/>
<rect x="225.4" y="436.4" width="0.4" height="12.2" fill="#7fc97f" opacity="0.71"/>
<rect x="225.9" y="436.4" width="1.3" height="12.2" fill="#7fc97f" opacity="1.00"/>
<rect x="226.4" y="436.4" width="0.4" height="12.2" fill="#7fc97f" opacity="0.99"/>
<rect x="226.9" y="436.4" width="1.3" height="12.2" fill="#fdc086" opacity="0.91"/>
<rect x="227.6" y="436.4" width="1.3" height="12.2" fill="#7fc97f" opacity="0.93"/>
<rect x="228.1" y="436.4" width="1.0" height="12.2" fill="#7fc97f" opacity="0.79"/>
<rect x="228.6" y="436.4" width="0.4" height="12.2" fill="#7fc97f" opacity="0.94"/>
<rect x="229.1" y="436.4" width="0.6" height="12.2" fill="#fdc086" opacity="0.82"/>
<rect x="229.6" y="436.4" width="0.6" height="12.2" fill="#7fc97f" opacity="0.83"/>
<rect x="230.3" y="436.4" width="1.0" height="12.2" fill="#7fc97f" opacity="0.79"/>
<rect x="230.8" y="436.4" width="0.8" height="12.2" fill="#fdc086" opacity="0.74"/>
<rect x="231.3" y="436.4" width="1.6" height="12.2" fill="#fdc086" opacity="0.89"/>
<rect x="232.0" y="436.4" width="0.4" height="12.2" fill="#7fc97f" opacity="0.96"/>
<rect x="233.1" y="436.4" width="1.0" height="12.2" fill="#7fc97f" opacity="0.89"/>
<rect x="234.2" y="436.4" width="0.4" height="12.2" fill="#ffff99" opacity="0.73"/>
<rect x="234.9" y="436.4" width="1.6" height="12.2" fill="#7fc97f" opacity="0.74"/>
<rect x="235.6" y="436.4" width="0.8" height="12.2" fill="#7fc97f" opacity="0.76"/>
<rect x="236.3" y="436.4" width="1.3" height="12.2" fill="#fdc086" opacity="0.71"/>
<rect x="236.8" y="436.4" width="0.6" height="12.2" fill="#ffff99" opacity="0.70"/>
<rect x="237.9" y="436.4" width="0.4" height="12.2" fill="#7fc97f" opacity="0.96"/>
<rect x="239.0" y="436.4" width="0.8" height="12.2" fill="#7fc97f" opacity="0.95"/>
<rect x="239.7" y="436.4" width="0.8" height="12.2" fill="#beaed4" opacity="0.77"/>
<rect x="240.4" y="436.4" width="0.4" height="12.2" fill="#fdc086" opacity="0.82"/>
<rect x="241.1" y="436.4" width="1.0" height="12.2" fill="#fdc086" opacity="0.93"/>
<rect x="242.2" y="436.4" width="0.6" height="12.2" fill="#fdc086" opacity="0.92"/>
<rect x="242.9" y="436.4" width="0.8" height="12.2" fill="#7fc97f" opacity="0.93"/>
<rect x="243.4" y="436.4" width="0.8" height="12.2" fill="#ffff99" opacity="0.69"/>
<rect x="243.9" y="436.4" width="1.3" height="12.2" fill="#fdc086" opacity="0.76"/>
<rect x="245.0" y="436.4" width="0.8" height="12.2" fill="#386cb0" opacity="0.76"/>
<rect x="245.5" y="436.4" width="0.4" height="12.2" fill="#fdc086" opacity="0.84"/>
<rect x="246.2" y="436.4" width="1.0" height="12.2" fill="#7fc97f" opacity="0.78"/>
<rect x="246.9" y="436.4" width="0.6" height="12.2" fill="#7fc97f" opacity="0.84"/>
<rect x="248.0" y="436.4" width="0.4" height="12.2" fill="#7fc97f" opacity="0.71"/>
<rect x="248.5" y="436.4" width="1.3" height="12.2" fill="#fdc086" opacity="0.71"/>
<rect x="249.0" y="436.4" width="0.6" height="12.2" fill="#7fc97f" opacity="0.94"/>
<rect x="249.7" y="436.4" width="1.3" height="12.2" fill="#fdc086" opacity="0.89"/>
<rect x="250.8" y="436.4" width="0.6" height="12.2" fill="#fdc086" opacity="0.86"/>
<rect x="251.7" y="436.4" width="1.0" height="12.2" fill="#7fc97f" opacity="0.94"/>
<rect x="252.6" y="436.4" width="1.6" height="12.2" fill="#386cb0" opacity="0.60"/>
<rect x="253.1" y="436.4" width="1.0" height="12.2" fill="#fdc086" opacity="0.93"/>
<rect x="255.3" y="436.4" width="0.8" height="12.2" fill="#7fc97f" opacity="0.73"/>
<rect x="256.4" y="436.4" width="1.3" height="12.2" fill="#7fc97f" opacity="0.95"/>
<rect x="256.9" y="436.4" width="1.0" height="12.2" fill="#7fc97f" opacity="0.83"/>
<rect x="257.8" y="436.4" width="0.6" height="12.2" fill="#7fc97f" opacity="0.73"/>
<rect x="259.2" y="436.4" width="0.8" height="12.2" fill="#386cb0" opacity="0.73"/>
<rect x="259.9" y="436.4" width="1.0" height="12.2" fill="#7fc97f" opacity="0.81"/>
<rect x="261.7" y="436.4" width="0.4" height="12.2" fill="#7fc97f" opacity="0.79"/>
<rect x="263.3" y="436.4" width="0.4" height="12.2" fill="#7fc97f" opacity="0.80"/>
<rect x="265.1" y="436.4" width="0.6" height="12.2" fill="#fdc086" opacity="0.82"/>
<rect x="266.3" y="436.4" width="1.3" height="12.2" fill="#7fc97f" opacity="0.76"/>
<rect x="268.3" y="436.4" width="0.6" height="12.2" fill="#7fc97f" opacity="0.71"/>
<rect x="269.0" y="436.4" width="0.8" height="12.2" fill="#fdc086" opacity="0.80"/>
<rect x="269.9" y="436.4" width="1.3" height="12.2" fill="#fdc086" opacity="0.88"/>
<rect x="270.8" y="436.4" width="0.8" height="12.2" fill="#386cb0" opacity="0.82"/>
<rect x="273.0" y="436.4" width="1.3" height="12.2" fill="#fdc086" opacity="0.74"/>
<rect x="275.0" y="436.4" width="1.3" height="12.2" fill="#beaed4" opacity="0.73"/>
<rect x="275.7" y="436.4" width="1.0" height="12.2" fill="#7fc97f" opacity="0.77"/>
<rect x="279.1" y="436.4" width="1.0" height="12.2" fill="#fdc086" opacity="0.78"/>
<rect x="280.5" y="436.4" width="0.4" height="12.2" fill="#fdc086" opacity="0.77"/>
<rect x="281.4" y="436.4" width="1.6" height="12.2" fill="#fdc086" opacity="0.75"/>
<rect x="282.3" y="436.4" width="0.8" height="12.2" fill="#fdc086" opacity="0.84"/>
<rect x="283.3" y="436.4" width="0.6" height="12.2" fill="#7fc97f" opacity="0.80"/>
<rect x="284.5" y="436.4" width="0.4" height="12.2" fill="#7fc97f" opacity="0.95"/>
<rect x="287.4" y="436.4" width="0.4" height="12.2" fill="#386cb0" opacity="0.63"/>
<rect x="287.9" y="436.4" width="0.4" height="12.2" fill="#7fc97f" opacity="0.81"/>
<rect x="288.6" y="436.4" width="1.3" height="12.2" fill="#beaed4" opacity="0.74"/>
<rect x="289.5" y="436.4" width="1.3" height="12.2" fill="#7fc97f" opacity="0.80"/>
<rect x="290.6" y="436.4" width="0.4" height="12.2" fill="#7fc97f" opacity="0.97"/>
<rect x="291.1" y="436.4" width="1.0" height="12.2" fill="#386cb0" opacity="0.80"/>
<rect x="292.5" y="436.4" width="1.0" height="12.2" fill="#fdc086" opacity="0.71"/>
<rect x="293.0" y="436.4" width="1.6" height="12.2" fill="#7fc97f" opacity="0.98"/>
<rect x="294.8" y="436.4" width="0.4" height="12.2" fill="#7fc97f" opacity="0.97"/>
<rect x="295.5" y="436.4" width="0.4" height="12.2" fill="#fdc086" opacity="0.74"/>
<rect x="296.6" y="436.4" width="1.6" height="12.2" fill="#7fc97f" opacity="0.71"/>
<rect x="297.7" y="436.4" width="1.3" height="12.2" fill="#7fc97f" opacity="0.99"/>
<rect x="298.8" y="436.4" width="1.3" height="12.2" fill="#fdc086" opacity="0.85"/>
<rect x="300.9" y="436.4" width="0.8" height="12.2" fill="#fdc086" opacity="0.81"/>
<rect x="302.3" y="436.4" width="0.4" height="12.2" fill="#7fc97f" opacity="0.89"/>
<rect x="303.4" y="436.4" width="1.0" height="12.2" fill="#7fc97f" opacity="0.95"/>
<rect x="304.5" y="436.4" width="0.4" height="12.2" fill="#7fc97f" opacity="0.73"/>
<rect x="305.4" y="436.4" width="0.6" height="12.2" fill="#ffff99" opacity="0.60"/>
<rect x="306.3" y="436.4" width="1.6" height="12.2" fill="#beaed4" opacity="0.96"/>
<rect x="307.0" y="436.4" width="1.3" height="12.2" fill="#7fc97f" opacity="0.73"/>
<rect x="308.1" y="436.4" width="0.8" height="12.2" fill="#386cb0" opacity="0.80"/>
<rect x="309.2" y="436.4" width="0.8" height="12.2" fill="#fdc086" opacity="0.88"/>
<rect x="309.7" y="436.4" width="0.4" height="12.2" fill="#7fc97f" opacity="0.97"/>
<rect x="310.6" y="436.4" width="0.8" height="12.2" fill="#7fc97f" opacity="0.79"/>
<rect x="311.1" y="436.4" width="1.0" height="12.2" fill="#7fc97f" opacity="0.85"/>
<rect x="311.6" y="436.4" width="0.4" height="12.2" fill="#7fc97f" opacity="0.87"/>
<rect x="312.7" y="436.4" width="0.6" height="12.2" fill="#fdc086" opacity="0.90"/>
<rect x="313.2" y="436.4" width="0.8" height="12.2" fill="#fdc086" opacity="0.98"/>
<rect x="314.3" y="436.4" width="0.4" height="12.2" fill="#fdc086" opacity="0.77"/>
<rect x="315.4" y="436.4" width="1.3" height="12.2" fill="#fdc086" opacity="0.76"/>
<rect x="316.3" y="436.4" width="1.6" height="12.2" fill="#7fc97f" opacity="0.94"/>
<rect x="317.4" y="436.4" width="1.6" height="12.2" fill="#fdc086" opacity="0.75"/>
<rect x="318.5" y="436.4" width="1.3" height="12.2" fill="#7fc97f" opacity="0.98"/>
<rect x="319.0" y="436.4" width="0.4" height="12.2" fill="#fdc086" opacity="0.82"/>
<rect x="319.7" y="436.4" width="1.0" height="12.2" fill="#7fc97f" opacity="0.84"/>
<rect x="320.4" y="436.4" width="0.6" height="12.2" fill="#7fc97f" opacity="0.98"/>
<rect x="321.5" y="436.4" width="1.0" height="12.2" fill="#fdc086" opacity="0.77"/>
<rect x="322.2" y="436.4" width="0.6" height="12.2" fill="#fdc086" opacity="0.75"/>
<rect x="323.1" y="436.4" width="1.3" height="12.2" fill="#fdc086" opacity="0.81"/>
<rect x="323.6" y="436.4" width="0.4" height="12.2" fill="#fdc086" opacity="0.76"/>
<rect x="324.1" y="436.4" width="0.6" height="12.2" fill="#7fc97f" opacity="0.90"/>
<rect x="324.8" y="436.4" width="0.8" height="12.2" fill="#386cb0" opacity="0.84"/>
<rect x="325.9" y="436.4" width="0.4" height="12.2" fill="#7fc97f" opacity="0.82"/>
<rect x="327.3" y="436.4" width="1.6" height="12.2" fill="#fdc086" opacity="0.95"/>
<rect x="328.4" y="436.4" width="1.0" height="12.2" fill="#fdc086" opacity="0.87"/>
<rect x="329.1" y="436.4" width="1.0" height="12.2" fill="#7fc97f" opacity="0.86"/>
<rect x="329.6" y="436.4" width="1.6" height="12.2" fill="#fdc086" opacity="0.87"/>
<rect x="330.7" y="436.4" width="0.4" height="12.2" fill="#fdc086" opacity="0.84"/>
<rect x="331.6" y="436.4" width="1.0" height="12.2" fill="#7fc97f" opacity="0.84"/>
<rect x="332.1" y="436.4" width="0.4" height="12.2" fill="#7fc97f" opacity="0.97"/>
<rect x="333.0" y="436.4" width="0.6" height="12.2" fill="#beaed4" opacity="0.85"/>
<rect x="334.1" y="436.4" width="0.6" height="12.2" fill="#386cb0" opacity="0.74"/>
<rect x="335.0" y="436.4" width="0.6" height="12.2" fill="#7fc97f" opacity="0.89"/>
<rect x="335.7" y="436.4" width="1.3" height="12.2" fill="#7fc97f" opacity="0.95"/>
<rect x="336.6" y="436.4" width="0.8" height="12.2" fill="#7fc97f" opacity="0.87"/>
<rect x="337.5" y="436.4" width="1.6" height="12.2" fill="#7fc97f" opacity="0.88"/>
<rect x="338.0" y="436.4" width="0.6" height="12.2" fill="#7fc97f" opacity="0.78"/>
<rect x="339.1" y="436.4" width="0.4" height="12.2" fill="#7fc97f" opacity="0.97"/>
<rect x="340.0" y="436.4" width="1.6" height="12.2" fill="#7fc97f" opacity="0.83"/>
<rect x="340.7" y="436.4" width="1.0" height="12.2" fill="#fdc086" opacity="0.94"/>
<rect x="341.8" y="436.4" width="0.4" height="12.2" fill="#7fc97f" opacity="0.82"/>
<rect x="342.9" y="436.4" width="1.0" height="12.2" fill="#7fc97f" opacity="0.74"/>
<rect x="344.0" y="436.4" width="1.0" height="12.2" fill="#fdc086" opacity="0.91"/>
<rect x="344.9" y="436.4" width="0.6" height="12.2" fill="#fdc086" opacity="0.71"/>
<rect x="346.0" y="436.4" width="1.0" height="12.2" fill="#7fc97f" opacity="0.92"/>
<rect x="346.5" y="436.4" width="0.6" height="12.2" fill="#fdc086" opacity="0.78"/>
<rect x="347.4" y="436.4" width="1.3" height="12.2" fill="#7fc97f" opacity="0.95"/>
<rect x="347.9" y="436.4" width="1.6" height="12.2" fill="#fdc086" opacity="0.84"/>
<rect x="348.6" y="436.4" width="0.8" height="12.2" fill="#7fc97f" opacity="0.92"/>
<rect x="349.5" y="436.4" width="0.4" height="12.2" fill="#ffff99" opacity="0.66"/>
<rect x="350.0" y="436.4" width="1.0" height="12.2" fill="#7fc97f" opacity="0.97"/>
<rect x="350.5" y="436.4" width="1.3" height="12.2" fill="#7fc97f" opacity="0.81"/>
<rect x="351.0" y="436.4" width="0.4" height="12.2" fill="#beaed4" opacity="0.87"/>
<rect x="351.5" y="436.4" width="1.6" height="12.2" fill="#7fc97f" opacity="0.78"/>
<rect x="352.0" y="436.4" width="0.8" height="12.2" fill="#fdc086" opacity="0.91"/>
<rect x="353.1" y="436.4" width="0.8" height="12.2" fill="#7fc97f" opacity="0.82"/>
<rect x="354.0" y="436.4" width="1.0" height="12.2" fill="#fdc086" opacity="0.92"/>
<rect x="355.1" y="436.4" width="1.0" height="12.2" fill="#fdc086" opacity="0.97"/>
<rect x="355.6" y="436.4" width="0.6" height="12.2" fill="#fdc086" opacity="0.96"/>
<rect x="356.5" y="436.4" width="0.6" height="12.2" fill="#7fc97f" opacity="0.93"/>
<rect x="357.0" y="436.4" width="0.8" height="12.2" fill="#fdc086" opacity="0.89"/>
<rect x="358.1" y="436.4" width="0.6" height="12.2" fill="#7fc97f" opacity="0.86"/>
<rect x="359.2" y="436.4" width="0.8" height="12.2" fill="#386cb0" opacity="0.75"/>
<rect x="360.1" y="436.4" width="0.8" height="12.2" fill="#7fc97f" opacity="0.81"/>
<rect x="360.6" y="436.4" width="1.6" height="12.2" fill="#fdc086" opacity="0.96"/>
<rect x="361.1" y="436.4" width="1.3" height="12.2" fill="#7fc97f" opacity="0.75"/>
<rect x="361.8" y="436.4" width="0.4" height="12.2" fill="#fdc086" opacity="0.84"/>
<rect x="362.5" y="436.4" width="0.4" height="12.2" fill="#ffff99" opacity="0.83"/>
<rect x="363.4" y="436.4" width="1.6" height="12.2" fill="#7fc97f" opacity="0.70"/>
<rect x="364.3" y="436.4" width="1.6" height="12.2" fill="#7fc97f" opacity="0.82"/>
<rect x="364.8" y="436.4" width="0.8" height="12.2" fill="#fdc086" opacity="0.75"/>
<rect x="365.7" y="436.4" width="0.4" height="12.2" fill="#fdc086" opacity="0.79"/>
<rect x="366.2" y="436.4" width="0.4" height="12.2" fill="#fdc086" opacity="0.92"/>
<rect x="366.9" y="436.4" width="1.0" height="12.2" fill="#7fc97f" opacity="0.85"/>
<rect x="367.8" y="436.4" width="1.0" height="12.2" fill="#7fc97f" opacity="0.73"/>
<rect x="368.3" y="436.4" width="1.0" height="12.2" fill="#fdc086" opacity="0.77"/>
<rect x="368.8" y="436.4" width="0.8" height="12.2" fill="#7fc97f" opacity="0.79"/>
<rect x="369.3" y="436.4" width="1.0" height="12.2" fill="#7fc97f" opacity="0.71"/>
<rect x="370.0" y="436.4" width="1.6" height="12.2" fill="#7fc97f" opacity="0.81"/>
<rect x="370.9" y="436.4" width="0.4" height="12.2" fill="#7fc97f" opacity="0.76"/>
<rect x="372.0" y="436.4" width="1.0" height="12.2" fill="#7fc97f" opacity="0.87"/>
<rect x="372.9" y="436.4" width="1.0" height="12.2" fill="#7fc97f" opacity="0.93"/>
<rect x="374.0" y="436.4" width="1.3" height="12.2" fill="#fdc086" opacity="0.98"/>
<rect x="375.1" y="436.4" width="1.6" height="12.2" fill="#fdc086" opacity="0.88"/>
<rect x="376.2" y="436.4" width="0.8" height="12.2" fill="#7fc97f" opacity="0.81"/>
<rect x="376.7" y="436.4" width="0.8" height="12.2" fill="#7fc97f" opacity="0.79"/>
<rect x="377.8" y="436.4" width="1.0" height="12.2" fill="#7fc97f" opacity="0.93"/>
<rect x="378.5" y="436.4" width="0.4" height="12.2" fill="#fdc086" opacity="0.86"/>
<rect x="379.2" y="436.4" width="1.0" height="12.2" fill="#386cb0" opacity="0.63"/>
<rect x="380.1" y="436.4" width="0.6" height="12.2" fill="#fdc086" opacity="0.96"/>
<rect x="381.2" y="436.4" width="0.4" height="12.2" fill="#7fc97f" opacity="0.83"/>
<rect x="382.3" y="436.4" width="1.3" height="12.2" fill="#7fc97f" opacity="0.79"/>
<rect x="383.4" y="436.4" width="1.0" height="12.2" fill="#386cb0" opacity="0.65"/>
<rect x="385.0" y="436.4" width="1.0" height="12.2" fill="#7fc97f" opacity="0.95"/>
<rect x="386.1" y="436.4" width="0.6" height="12.2" fill="#fdc086" opacity="0.77"/>
<rect x="386.8" y="436.4" width="1.6" height="12.2" fill="#fdc086" opacity="0.88"/>
<rect x="387.7" y="436.4" width="1.0" height="12.2" fill="#386cb0" opacity="0.78"/>
<rect x="388.8" y="436.4" width="1.3" height="12.2" fill="#fdc086" opacity="0.74"/>
<rect x="389.5" y="436.4" width="1.0" height="12.2" fill="#7fc97f" opacity="0.90"/>
<rect x="390.4" y="436.4" width="1.0" height="12.2" fill="#7fc97f" opacity="0.79"/>
<rect x="391.1" y="436.4" width="0.6" height="12.2" fill="#fdc086" opacity="0.89"/>
<rect x="394.5" y="436.4" width="1.0" height="12.2" fill="#fdc086" opacity="0.81"/>
<rect x="395.4" y="436.4" width="0.4" height="12.2" fill="#fdc086" opacity="0.77"/>
<rect x="395.9" y="436.4" width="1.6" height="12.2" fill="#fdc086" opacity="0.75"/>
<rect x="397.7" y="436.4" width="0.8" height="12.2" fill="#fdc086" opacity="0.85"/>
<rect x="398.2" y="436.4" width="1.0" height="12.2" fill="#fdc086" opacity="0.74"/>
<rect x="398.9" y="436.4" width="0.8" height="12.2" fill="#7fc97f" opacity="0.82"/>
<rect x="400.0" y="436.4" width="1.6" height="12.2" fill="#fdc086" opacity="0.87"/>
<rect x="401.1" y="436.4" width="1.3" height="12.2" fill="#7fc97f" opacity="0.96"/>
<rect x="402.2" y="436.4" width="1.3" height="12.2" fill="#fdc086" opacity="0.87"/>
<rect x="403.3" y="436.4" width="0.8" height="12.2" fill="#fdc086" opacity="0.80"/>
<rect x="404.0" y="436.4" width="1.6" height="12.2" fill="#fdc086" opacity="0.78"/>
<rect x="404.7" y="436.4" width="0.4" height="12.2" fill="#fdc086" opacity="0.86"/>
<rect x="405.7" y="436.4" width="0.4" height="12.2" fill="#fdc086" opacity="0.77"/>
<rect x="406.4" y="436.4" width="0.6" height="12.2" fill="#7fc97f" opacity="0.78"/>
<rect x="406.9" y="436.4" width="0.4" height="12.2" fill="#fdc086" opacity="0.93"/>
<rect x="407.4" y="436.4" width="0.6" height="12.2" fill="#7fc97f" opacity="0.93"/>
<rect x="408.1" y="436.4" width="0.6" height="12.2" fill="#fdc086" opacity="0.90"/>
<rect x="409.2" y="436.4" width="1.3" height="12.2" fill="#fdc086" opacity="0.86"/>
<rect x="410.1" y="436.4" width="0.6" height="12.2" fill="#7fc97f" opacity="0.97"/>
<rect x="411.2" y="436.4" width="0.4" height="12.2" fill="#7fc97f" opacity="0.81"/>
<rect x="412.3" y="436.4" width="0.8" height="12.2" fill="#386cb0" opacity="0.78"/>
<rect x="413.2" y="436.4" width="0.6" height="12.2" fill="#fdc086" opacity="0.90"/>
<rect x="414.3" y="436.4" width="1.6" height="12.2" fill="#7fc97f" opacity="0.78"/>
<rect x="415.4" y="436.4" width="0.8" height="12.2" fill="#beaed4" opacity="0.97"/>
<rect x="416.3" y="436.4" width="0.6" height="12.2" fill="#fdc086" opacity="0.81"/>
<rect x="416.8" y="436.4" width="1.0" height="12.2" fill="#7fc97f" opacity="0.96"/>
<rect x="417.9" y="436.4" width="0.6" height="12.2" fill="#fdc086" opacity="0.87"/>
<rect x="418.4" y="436.4" width="0.8" height="12.2" fill="#fdc086" opacity="0.86"/>
<rect x="419.3" y="436.4" width="1.6" height="12.2" fill="#7fc97f" opacity="0.80"/>
<rect x="420.2" y="436.4" width="0.8" height="12.2" fill="#7fc97f" opacity="0.96"/>
<rect x="420.7" y="436.4" width="0.4" height="12.2" fill="#fdc086" opacity="0.78"/>
<rect x="421.4" y="436.4" width="1.0" height="12.2" fill="#7fc97f" opacity="0.83"/>
<rect x="422.1" y="436.4" width="1.6" height="12.2" fill="#fdc086" opacity="0.75"/>
<rect x="423.2" y="436.4" width="0.8" height="12.2" fill="#fdc086" opacity="0.92"/>
<rect x="424.1" y="436.4" width="1.3" height="12.2" fill="#7fc97f" opacity="0.98"/>
<rect x="425.0" y="436.4" width="1.6" height="12.2" fill="#7fc97f" opacity="0.92"/>
<rect x="426.1" y="436.4" width="1.6" height="12.2" fill="#fdc086" opacity="0.80"/>
<rect x="426.6" y="436.4" width="1.3" height="12.2" fill="#386cb0" opacity="0.65"/>
<rect x="427.3" y="436.4" width="1.0" height="12.2" fill="#fdc086" opacity="0.96"/>
<rect x="428.2" y="436.4" width="1.3" height="12.2" fill="#7fc97f" opacity="0.99"/>
<rect x="429.3" y="436.4" width="1.3" height="12.2" fill="#7fc97f" opacity="0.95"/>
<rect x="430.4" y="436.4" width="1.3" height="12.2" fill="#fdc086" opacity="0.76"/>
<rect x="430.9" y="436.4" width="0.6" height="12.2" fill="#7fc97f" opacity="0.87"/>
<rect x="431.6" y="436.4" width="1.6" height="12.2" fill="#fdc086" opacity="0.96"/>
<rect x="432.7" y="436.4" width="0.4" height="12.2" fill="#fdc086" opacity="0.94"/>
<rect x="433.6" y="436.4" width="1.0" height="12.2" fill="#beaed4" opacity="0.86"/>
<rect x="434.3" y="436.4" width="1.0" height="12.2" fill="#fdc086" opacity="0.79"/>
<rect x="435.2" y="436.4" width="1.6" height="12.2" fill="#7fc97f" opacity="0.71"/>
<rect x="436.3" y="436.4" width="1.3" height="12.2" fill="#7fc97f" opacity="0.96"/>
<rect x="436.8" y="436.4" width="1.0" height="12.2" fill="#7fc97f" opacity="0.82"/>
<rect x="437.3" y="436.4" width="0.8" height="12.2" fill="#7fc97f" opacity="0.88"/>
<rect x="437.8" y="436.4" width="1.6" height="12.2" fill="#fdc086" opacity="0.72"/>
<rect x="438.9" y="436.4" width="0.6" height="12.2" fill="#7fc97f" opacity="0.85"/>
<rect x="439.4" y="436.4" width="1.0" height="12.2" fill="#7fc97f" opacity="0.85"/>
<rect x="440.5" y="436.4" width="1.6" height="12.2" fill="#7fc97f" opacity="0.89"/>
<rect x="441.6" y="436.4" width="0.8" height="12.2" fill="#fdc086" opacity="0.75"/>
<rect x="442.3" y="436.4" width="0.6" height="12.2" fill="#7fc97f" opacity="0.74"/>
<rect x="443.4" y="436.4" width="1.0" height="12.2" fill="#fdc086" opacity="0.78"/>
<rect x="443.9" y="436.4" width="1.6" height="12.2" fill="#7fc97f" opacity="0.89"/>
<rect x="444.6" y="436.4" width="0.8" height="12.2" fill="#fdc086" opacity="0.73"/>
<rect x="445.7" y="436.4" width="0.6" height="12.2" fill="#7fc97f" opacity="0.86"/>
<rect x="446.7" y="436.4" width="1.3" height="12.2" fill="#fdc086" opacity="0.84"/>
<rect x="447.4" y="436.4" width="1.6" height="12.2" fill="#386cb0" opacity="0.78"/>
<rect x="447.9" y="436.4" width="1.6" height="12.2" fill="#7fc97f" opacity="1.00"/>
<rect x="448.6" y="436.4" width="1.3" height="12.2" fill="#7fc97f" opacity="0.74"/>
<rect x="449.5" y="436.4" width="0.8" height="12.2" fill="#fdc086" opacity="0.94"/>
<rect x="450.6" y="436.4" width="1.0" height="12.2" fill="#7fc97f" opacity="0.82"/>
<rect x="451.3" y="436.4" width="1.6" height="12.2" fill="#7fc97f" opacity="0.72"/>
<rect x="452.7" y="436.4" width="0.4" height="12.2" fill="#beaed4" opacity="0.78"/>
<rect x="453.4" y="436.4" width="0.4" height="12.2" fill="#fdc086" opacity="0.94"/>
<rect x="454.1" y="436.4" width="1.0" height="12.2" fill="#7fc97f" opacity="0.95"/>
<rect x="455.1" y="436.4" width="1.0" height="12.2" fill="#7fc97f" opacity="0.84"/>
<rect x="456.0" y="436.4" width="0.8" height="12.2" fill="#fdc086" opacity="0.76"/>
<rect x="456.7" y="436.4" width="1.6" height="12.2" fill="#386cb0" opacity="0.81"/>
<rect x="458.3" y="436.4" width="1.3" height="12.2" fill="#fdc086" opacity="0.76"/>
<rect x="459.4" y="436.4" width="0.8" height="12.2" fill="#7fc97f" opacity="0.88"/>
<rect x="460.5" y="436.4" width="1.3" height="12.2" fill="#fdc086" opacity="0.83"/>
<rect x="461.9" y="436.4" width="0.8" height="12.2" fill="#7fc97f" opacity="0.76"/>
<rect x="463.0" y="436.4" width="0.8" height="12.2" fill="#386cb0" opacity="0.77"/>
<rect x="463.7" y="436.4" width="1.0" height="12.2" fill="#fdc086" opacity="0.97"/>
<rect x="464.6" y="436.4" width="0.4" height="12.2" fill="#7fc97f" opacity="0.96"/>
<rect x="466.6" y="436.4" width="0.6" height="12.2" fill="#fdc086" opacity="0.81"/>
<rect x="468.2" y="436.4" width="1.6" height="12.2" fill="#fdc086" opacity="0.93"/>
<rect x="469.3" y="436.4" width="1.0" height="12.2" fill="#fdc086" opacity="0.82"/>
<rect x="470.2" y="436.4" width="1.6" height="12.2" fill="#fdc086" opacity="0.87"/>
<rect x="471.1" y="436.4" width="0.4" height="12.2" fill="#fdc086" opacity="0.77"/>
<rect x="471.8" y="436.4" width="0.4" height="12.2" fill="#7fc97f" opacity="0.99"/>
<rect x="472.3" y="436.4" width="0.4" height="12.2" fill="#ffff99" opacity="0.64"/>
<rect x="473.2" y="436.4" width="1.3" height="12.2" fill="#7fc97f" opacity="0.98"/>
<rect x="474.4" y="436.4" width="0.4" height="12.2" fill="#fdc086" opacity="0.75"/>
<rect x="475.5" y="436.4" width="0.8" height="12.2" fill="#fdc086" opacity="0.93"/>
<rect x="477.6" y="436.4" width="0.4" height="12.2" fill="#7fc97f" opacity="0.78"/>
<rect x="478.1" y="436.4" width="0.8" height="12.2" fill="#7fc97f" opacity="0.83"/>
<rect x="478.8" y="436.4" width="1.0" height="12.2" fill="#fdc086" opacity="0.71"/>
<rect x="479.5" y="436.4" width="1.3" height="12.2" fill="#fdc086" opacity="0.72"/>
<rect x="480.4" y="436.4" width="0.4" height="12.2" fill="#fdc086" opacity="0.89"/>
<rect x="481.1" y="436.4" width="0.6" height="12.2" fill="#fdc086" opacity="0.96"/>
<rect x="483.6" y="436.4" width="1.6" height="12.2" fill="#7fc97f" opacity="0.99"/>
<rect x="488.3" y="436.4" width="1.0" height="12.2" fill="#fdc086" opacity="1.00"/>
<rect x="489.0" y="436.4" width="0.8" height="12.2" fill="#fdc086" opacity="0.74"/>
<rect x="489.9" y="436.4" width="0.6" height="12.2" fill="#7fc97f" opacity="0.88"/>
<rect x="491.1" y="436.4" width="1.6" height="12.2" fill="#7fc97f" opacity="0.72"/>
<rect x="492.0" y="436.4" width="1.0" height="12.2" fill="#7fc97f" opacity="0.95"/>
<rect x="492.5" y="436.4" width="1.6" height="12.2" fill="#fdc086" opacity="0.96"/>
<rect x="495.0" y="436.4" width="1.0" height="12.2" fill="#fdc086" opacity="0.82"/>
<rect x="496.6" y="436.4" width="0.6" height="12.2" fill="#fdc086" opacity="0.98"/>
<rect x="498.0" y="436.4" width="1.0" height="12.2" fill="#7fc97f" opacity="0.85"/>
<rect x="498.5" y="436.4" width="0.4" height="12.2" fill="#7fc97f" opacity="0.85"/>
<rect x="499.0" y="436.4" width="0.4" height="12.2" fill="#7fc97f" opacity="0.90"/>
<rect x="500.8" y="436.4" width="1.3" height="12.2" fill="#fdc086" opacity="0.91"/>
<rect x="501.7" y="436.4" width="1.0" height="12.2" fill="#fdc086" opacity="0.86"/>
<rect x="502.6" y="436.4" width="1.6" height="12.2" fill="#386cb0" opacity="0.74"/>
<rect x="503.1" y="436.4" width="0.6" height="12.2" fill="#7fc97f" opacity="0.89"/>
<rect x="504.2" y="436.4" width="1.6" height="12.2" fill="#7fc97f" opacity="0.94"/>
<rect x="504.9" y="436.4" width="0.8" height="12.2" fill="#fdc086" opacity="0.94"/>
<rect x="506.3" y="436.4" width="1.6" height="12.2" fill="#7fc97f" opacity="0.73"/>
<rect x="507.4" y="436.4" width="1.6" height="12.2" fill="#7fc97f" opacity="0.81"/>
<rect x="507.9" y="436.4" width="0.4" height="12.2" fill="#386cb0" opacity="0.70"/>
<rect x="508.8" y="436.4" width="0.8" height="12.2" fill="#7fc97f" opacity="0.81"/>
<rect x="511.3" y="436.4" width="1.3" height="12.2" fill="#386cb0" opacity="0.80"/>
<rect x="512.2" y="436.4" width="1.3" height="12.2" fill="#7fc97f" opacity="0.95"/>
<rect x="512.7" y="436.4" width="1.6" height="12.2" fill="#fdc086" opacity="0.79"/>
<rect x="516.3" y="436.4" width="0.6" height="12.2" fill="#fdc086" opacity="0.78"/>
<rect x="517.0" y="436.4" width="0.8" height="12.2" fill="#7fc97f" opacity="0.96"/>
<rect x="518.6" y="436.4" width="0.8" height="12.2" fill="#fdc086" opacity="0.94"/>
<rect x="519.7" y="436.4" width="0.6" height="12.2" fill="#fdc086" opacity="0.76"/>
<rect x="520.4" y="436.4" width="1.6" height="12.2" fill="#fdc086" opacity="0.79"/>
<rect x="521.5" y="436.4" width="1.6" height="12.2" fill="#7fc97f" opacity="0.95"/>
<rect x="522.2" y="436.4" width="0.4" height="12.2" fill="#fdc086" opacity="0.87"/>
<rect x="523.1" y="436.4" width="0.8" height="12.2" fill="#7fc97f" opacity="0.99"/>
<rect x="524.2" y="436.4" width="1.0" height="12.2" fill="#386cb0" opacity="0.65"/>
<rect x="525.1" y="436.4" width="0.6" height="12.2" fill="#7fc97f" opacity="0.94"/>
<rect x="525.6" y="436.4" width="1.3" height="12.2" fill="#386cb0" opacity="0.68"/>
<rect x="526.3" y="436.4" width="1.0" height="12.2" fill="#fdc086" opacity="0.93"/>
<rect x="528.5" y="436.4" width="1.6" height="12.2" fill="#7fc97f" opacity="0.98"/>
<rect x="529.9" y="436.4" width="1.6" height="12.2" fill="#386cb0" opacity="0.73"/>
<rect x="531.9" y="436.4" width="1.3" height="12.2" fill="#7fc97f" opacity="0.94"/>
<rect x="532.4" y="436.4" width="0.4" height="12.2" fill="#fdc086" opacity="0.94"/>
<rect x="533.1" y="436.4" width="1.3" height="12.2" fill="#7fc97f" opacity="0.84"/>
<rect x="534.2" y="436.4" width="1.6" height="12.2" fill="#7fc97f" opacity="0.77"/>
<rect x="535.3" y="436.4" width="0.4" height="12.2" fill="#fdc086" opacity="0.91"/>
<rect x="536.0" y="436.4" width="1.3" height="12.2" fill="#386cb0" opacity="0.78"/>
<rect x="538.9" y="436.4" width="0.6" height="12.2" fill="#7fc97f" opacity="0.73"/>
<rect x="539.6" y="436.4" width="1.6" height="12.2" fill="#7fc97f" opacity="0.78"/>
<rect x="541.0" y="436.4" width="1.3" height="12.2" fill="#fdc086" opacity="0.98"/>
<rect x="542.6" y="436.4" width="0.8" height="12.2" fill="#fdc086" opacity="0.71"/>
<rect x="543.5" y="436.4" width="1.3" height="12.2" fill="#7fc97f" opacity="0.81"/>
<rect x="544.6" y="436.4" width="0.8" height="12.2" fill="#beaed4" opacity="0.86"/>
<rect x="545.5" y="436.4" width="0.4" height="12.2" fill="#fdc086" opacity="0.84"/>
<rect x="547.7" y="436.4" width="1.0" height="12.2" fill="#fdc086" opacity="0.96"/>
<rect x="548.8" y="436.4" width="0.4" height="12.2" fill="#7fc97f" opacity="0.89"/>
<rect x="549.9" y="436.4" width="1.6" height="12.2" fill="#fdc086" opacity="0.93"/>
<rect x="550.4" y="436.4" width="0.6" height="12.2" fill="#386cb0" opacity="0.82"/>
<rect x="550.9" y="436.4" width="1.6" height="12.2" fill="#7fc97f" opacity="0.92"/>
<rect x="552.0" y="436.4" width="1.3" height="12.2" fill="#beaed4" opacity="0.85"/>
<rect x="552.5" y="436.4" width="1.0" height="12.2" fill="#7fc97f" opacity="0.71"/>
<rect x="553.4" y="436.4" width="0.4" height="12.2" fill="#ffff99" opacity="0.83"/>
<rect x="554.3" y="436.4" width="1.3" height="12.2" fill="#fdc086" opacity="0.72"/>
<rect x="554.8" y="436.4" width="1.0" height="12.2" fill="#fdc086" opacity="0.98"/>
<rect x="555.5" y="436.4" width="1.3" height="12.2" fill="#7fc97f" opacity="0.89"/>
<rect x="556.2" y="436.4" width="0.4" height="12.2" fill="#7fc97f" opacity="0.91"/>
<rect x="557.3" y="436.4" width="1.0" height="12.2" fill="#7fc97f" opacity="0.77"/>
<rect x="558.4" y="436.4" width="0.8" height="12.2" fill="#7fc97f" opacity="0.96"/>
<rect x="559.5" y="436.4" width="0.6" height="12.2" fill="#7fc97f" opacity="0.96"/>
<rect x="560.0" y="436.4" width="0.8" height="12.2" fill="#fdc086" opacity="0.74"/>
<rect x="560.5" y="436.4" width="0.6" height="12.2" fill="#ffff99" opacity="0.74"/>
<rect x="561.4" y="436.4" width="1.6" height="12.2" fill="#fdc086" opacity="0.87"/>
<rect x="562.1" y="436.4" width="1.3" height="12.2" fill="#fdc086" opacity="0.75"/>
<rect x="563.2" y="436.4" width="0.8" height="12.2" fill="#7fc97f" opacity="0.90"/>
<rect x="564.3" y="436.4" width="0.6" height="12.2" fill="#beaed4" opacity="1.00"/>
<rect x="565.0" y="436.4" width="1.0" height="12.2" fill="#fdc086" opacity="0.94"/>
<rect x="565.5" y="436.4" width="1.6" height="12.2" fill="#7fc97f" opacity="0.71"/>
<rect x="566.4" y="436.4" width="1.6" height="12.2" fill="#386cb0" opacity="0.73"/>
<rect x="566.9" y="436.4" width="1.6" height="12.2" fill="#fdc086" opacity="0.97"/>
<rect x="568.0" y="436.4" width="1.6" height="12.2" fill="#fdc086" opacity="0.82"/>
<rect x="568.9" y="436.4" width="1.0" height="12.2" fill="#7fc97f" opacity="0.89"/>
<rect x="569.4" y="436.4" width="0.6" height="12.2" fill="#fdc086" opacity="0.70"/>
<rect x="570.1" y="436.4" width="0.4" height="12.2" fill="#7fc97f" opacity="0.84"/>
<rect x="571.0" y="436.4" width="1.6" height="12.2" fill="#386cb0" opacity="0.80"/>
<rect x="571.7" y="436.4" width="1.6" height="12.2" fill="#7fc97f" opacity="0.89"/>
<rect x="572.4" y="436.4" width="0.6" height="12.2" fill="#7fc97f" opacity="0.78"/>
<rect x="573.1" y="436.4" width="0.4" height="12.2" fill="#fdc086" opacity="0.90"/>
<rect x="573.6" y="436.4" width="1.3" height="12.2" fill="#7fc97f" opacity="0.73"/>
<rect x="574.1" y="436.4" width="0.8" height="12.2" fill="#7fc97f" opacity="1.00"/>
<rect x="574.8" y="436.4" width="0.8" height="12.2" fill="#fdc086" opacity="0.99"/>
<rect x="575.7" y="436.4" width="0.6" height="12.2" fill="#fdc086" opacity="0.97"/>
<rect x="576.2" y="436.4" width="0.4" height="12.2" fill="#fdc086" opacity="0.91"/>
<rect x="577.3" y="436.4" width="0.8" height="12.2" fill="#386cb0" opacity="0.61"/>
<rect x="578.4" y="436.4" width="1.3" height="12.2" fill="#fdc086" opacity="0.76"/>
<rect x="579.1" y="436.4" width="1.3" height="12.2" fill="#7fc97f" opacity="0.95"/>
<rect x="580.0" y="436.4" width="0.4" height="12.2" fill="#fdc086" opacity="0.96"/>
<rect x="580.5" y="436.4" width="1.0" height="12.2" fill="#fdc086" opacity="0.93"/>
<rect x="581.0" y="436.4" width="1.6" height="12.2" fill="#fdc086" opacity="0.85"/>
<rect x="582.1" y="436.4" width="1.0" height="12.2" fill="#386cb0" opacity="0.84"/>
<rect x="582.6" y="436.4" width="0.4" height="12.2" fill="#fdc086" opacity="0.77"/>
<rect x="583.5" y="436.4" width="1.3" height="12.2" fill="#7fc97f" opacity="0.72"/>
<rect x="584.6" y="436.4" width="0.8" height="12.2" fill="#fdc086" opacity="0.88"/>
<rect x="585.5" y="436.4" width="1.6" height="12.2" fill="#7fc97f" opacity="0.99"/>
<rect x="586.2" y="436.4" width="1.0" height="12.2" fill="#7fc97f" opacity="0.70"/>
<rect x="587.1" y="436.4" width="1.6" height="12.2" fill="#7fc97f" opacity="0.95"/>
<rect x="587.6" y="436.4" width="1.3" height="12.2" fill="#7fc97f" opacity="0.99"/>
<rect x="588.7" y="436.4" width="0.4" height="12.2" fill="#7fc97f" opacity="0.87"/>
<rect x="589.4" y="436.4" width="0.8" height="12.2" fill="#fdc086" opacity="0.79"/>
<rect x="589.9" y="436.4" width="0.6" height="12.2" fill="#7fc97f" opacity="0.84"/>
<rect x="590.8" y="436.4" width="0.6" height="12.2" fill="#fdc086" opacity="0.78"/>
<rect x="592.2" y="436.4" width="0.6" height="12.2" fill="#fdc086" opacity="0.78"/>
<rect x="593.3" y="436.4" width="1.3" height="12.2" fill="#7fc97f" opacity="0.73"/>
<rect x="594.2" y="436.4" width="0.4" height="12.2" fill="#ffff99" opacity="0.85"/>
<rect x="594.7" y="436.4" width="0.4" height="12.2" fill="#7fc97f" opacity="0.88"/>
<rect x="595.4" y="436.4" width="1.6" height="12.2" fill="#7fc97f" opacity="0.93"/>
<rect x="596.5" y="436.4" width="1.6" height="12.2" fill="#7fc97f" opacity="0.97"/>
<rect x="598.5" y="436.4" width="1.6" height="12.2" fill="#7fc97f" opacity="0.85"/>
<rect x="599.0" y="436.4" width="0.4" height="12.2" fill="#7fc97f" opacity="1.00"/>
<rect x="599.5" y="436.4" width="1.3" height="12.2" fill="#fdc086" opacity="0.86"/>
<rect x="600.4" y="436.4" width="0.8" height="12.2" fill="#fdc086" opacity="0.72"/>
<rect x="600.9" y="436.4" width="1.6" height="12.2" fill="#fdc086" opacity="0.73"/>
<rect x="602.0" y="436.4" width="1.3" height="12.2" fill="#7fc97f" opacity="0.89"/>
<rect x="604.1" y="436.4" width="1.6" height="12.2" fill="#7fc97f" opacity="0.78"/>
<rect x="605.7" y="436.4" width="0.4" height="12.2" fill="#7fc97f" opacity="0.82"/>
<rect x="607.3" y="436.4" width="0.4" height="12.2" fill="#7fc97f" opacity="0.92"/>
<rect x="607.8" y="436.4" width="0.8" height="12.2" fill="#fdc086" opacity="0.90"/>
<rect x="610.4" y="436.4" width="0.8" height="12.2" fill="#7fc97f" opacity="0.84"/>
<rect x="610.9" y="436.4" width="0.4" height="12.2" fill="#7fc97f" opacity="0.74"/>
<rect x="611.8" y="436.4" width="1.0" height="12.2" fill="#fdc086" opacity="0.77"/>
<rect x="612.5" y="436.4" width="0.6" height="12.2" fill="#7fc97f" opacity="0.86"/>
<rect x="613.0" y="436.4" width="1.0" height="12.2" fill="#fdc086" opacity="0.86"/>
<rect x="614.1" y="436.4" width="0.4" height="12.2" fill="#7fc97f" opacity="0.76"/>
<rect x="615.2" y="436.4" width="1.3" height="12.2" fill="#7fc97f" opacity="0.88"/>
<rect x="615.9" y="436.4" width="0.8" height="12.2" fill="#7fc97f" opacity="0.79"/>
<rect x="616.8" y="436.4" width="0.6" height="12.2" fill="#7fc97f" opacity="0.89"/>
<rect x="617.9" y="436.4" width="0.8" height="12.2" fill="#fdc086" opacity="0.78"/>
<rect x="618.4" y="436.4" width="0.8" height="12.2" fill="#fdc086" opacity="0.71"/>
<rect x="619.3" y="436.4" width="0.6" height="12.2" fill="#7fc97f" opacity="0.86"/>
<rect x="620.7" y="436.4" width="0.4" height="12.2" fill="#fdc086" opacity="0.77"/>
<rect x="621.2" y="436.4" width="1.0" height="12.2" fill="#fdc086" opacity="0.88"/>
<rect x="622.8" y="436.4" width="1.3" height="12.2" fill="#beaed4" opacity="0.81"/>
<rect x="623.9" y="436.4" width="0.4" height="12.2" fill="#386cb0" opacity="0.66"/>
<rect x="624.6" y="436.4" width="0.4" height="12.2" fill="#7fc97f" opacity="0.71"/>
<rect x="626.4" y="436.4" width="1.3" height="12.2" fill="#fdc086" opacity="0.78"/>
<rect x="626.9" y="436.4" width="1.0" height="12.2" fill="#7fc97f" opacity="0.77"/>
<rect x="628.0" y="436.4" width="1.3" height="12.2" fill="#beaed4" opacity="0.86"/>
<rect x="628.5" y="436.4" width="0.6" height="12.2" fill="#7fc97f" opacity="0.80"/>
<rect x="629.6" y="436.4" width="0.8" height="12.2" fill="#7fc97f" opacity="0.82"/>
<rect x="631.2" y="436.4" width="0.8" height="12.2" fill="#7fc97f" opacity="0.87"/>
<rect x="632.3" y="436.4" width="0.6" height="12.2" fill="#fdc086" opacity="0.77"/>
<rect x="633.0" y="436.4" width="0.4" height="12.2" fill="#fdc086" opacity="0.79"/>
<rect x="633.5" y="436.4" width="0.8" height="12.2" fill="#7fc97f" opacity="0.92"/>
<rect x="634.2" y="436.4" width="0.6" height="12.2" fill="#7fc97f" opacity="0.95"/>
<rect x="634.9" y="436.4" width="0.6" height="12.2" fill="#fdc086" opacity="0.92"/>
<rect x="636.0" y="436.4" width="1.3" height="12.2" fill="#7fc97f" opacity="0.86"/>
<rect x="636.7" y="436.4" width="0.6" height="12.2" fill="#7fc97f" opacity="0.79"/>
<rect x="637.6" y="436.4" width="0.8" height="12.2" fill="#fdc086" opacity="0.90"/>
<rect x="639.2" y="436.4" width="0.4" height="12.2" fill="#fdc086" opacity="0.77"/>
<rect x="640.3" y="436.4" width="0.4" height="12.2" fill="#7fc97f" opacity="0.90"/>
<rect x="640.8" y="436.4" width="0.8" height="12.2" fill="#7fc97f" opacity="0.75"/>
<rect x="641.9" y="436.4" width="0.8" height="12.2" fill="#7fc97f" opacity="0.89"/>
<rect x="642.4" y="436.4" width="0.4" height="12.2" fill="#7fc97f" opacity="0.82"/>
<rect x="651.3" y="436.4" width="0.4" height="12.2" fill="#7fc97f" opacity="0.91"/>
<rect x="652.2" y="436.4" width="0.4" height="12.2" fill="#386cb0" opacity="0.74"/>
<rect x="653.1" y="436.4" width="0.4" height="12.2" fill="#386cb0" opacity="0.80"/>
<rect x="654.2" y="436.4" width="0.8" height="12.2" fill="#386cb0" opacity="0.77"/>
<rect x="655.3" y="436.4" width="1.3" height="12.2" fill="#7fc97f" opacity="0.84"/>
<rect x="656.9" y="436.4" width="1.3" height="12.2" fill="#7fc97f" opacity="0.84"/>
<rect x="658.7" y="436.4" width="1.3" height="12.2" fill="#7fc97f" opacity="0.81"/>
<rect x="659.8" y="436.4" width="0.8" height="12.2" fill="#fdc086" opacity="0.88"/>
<rect x="660.7" y="436.4" width="0.6" height="12.2" fill="#7fc97f" opacity="0.95"/>
<rect x="661.4" y="436.4" width="1.0" height="12.2" fill="#fdc086" opacity="0.82"/>
<rect x="662.6" y="436.4" width="1.0" height="12.2" fill="#fdc086" opacity="0.98"/>
<rect x="664.4" y="436.4" width="1.6" height="12.2" fill="#386cb0" opacity="0.82"/>
<rect x="664.9" y="436.4" width="0.4" height="12.2" fill="#fdc086" opacity="0.94"/>
<rect x="666.0" y="436.4" width="0.6" height="12.2" fill="#fdc086" opacity="0.80"/>
<rect x="666.9" y="436.4" width="1.3" height="12.2" fill="#7fc97f" opacity="0.94"/>
<rect x="667.8" y="436.4" width="1.3" height="12.2" fill="#7fc97f" opacity="0.87"/>
<rect x="668.5" y="436.4" width="1.0" height="12.2" fill="#fdc086" opacity="0.72"/>
<rect x="669.4" y="436.4" width="1.3" height="12.2" fill="#7fc97f" opacity="0.84"/>
<rect x="670.5" y="436.4" width="0.4" height="12.2" fill="#7fc97f" opacity="1.00"/>
<rect x="671.4" y="436.4" width="0.8" height="12.2" fill="#7fc97f" opacity="0.82"/>
<rect x="673.2" y="436.4" width="0.6" height="12.2" fill="#7fc97f" opacity="0.89"/>
<rect x="673.9" y="436.4" width="1.6" height="12.2" fill="#7fc97f" opacity="0.90"/>
<rect x="675.5" y="436.4" width="1.3" height="12.2" fill="#7fc97f" opacity="0.79"/>
<rect x="676.2" y="436.4" width="0.6" height="12.2" fill="#7fc97f" opacity="0.73"/>
</g>
<rect x="26.3" y="436.4" width="657.2" height="12.2" rx="6.1" fill="none" stroke="#222" stroke-width="1.3"/>
<text x="1.3" y="461.2" font-size="7.8" fill="#161616" stroke="#161616" stroke-width="0.22">ChrX</text>
<g clip-path="url(#cp5)">
<rect x="32.3" y="451.4" width="1.6" height="12.2" fill="#7fc97f" opacity="0.96"/>
<rect x="33.4" y="451.4" width="1.3" height="12.2" fill="#beaed4" opacity="0.86"/>
<rect x="34.3" y="451.4" width="1.3" height="12.2" fill="#7fc97f" opacity="0.93"/>
<rect x="35.2" y="451.4" width="0.4" height="12.2" fill="#ffff99" opacity="0.79"/>
<rect x="35.7" y="451.4" width="1.6" height="12.2" fill="#386cb0" opacity="0.75"/>
<rect x="36.2" y="451.4" width="1.6" height="12.2" fill="#7fc97f" opacity="0.85"/>
<rect x="37.3" y="451.4" width="1.3" height="12.2" fill="#7fc97f" opacity="0.81"/>
<rect x="38.0" y="451.4" width="0.4" height="12.2" fill="#beaed4" opacity="0.93"/>
<rect x="38.7" y="451.4" width="1.3" height="12.2" fill="#7fc97f" opacity="0.79"/>
<rect x="39.2" y="451.4" width="0.4" height="12.2" fill="#7fc97f" opacity="0.95"/>
<rect x="39.9" y="451.4" width="0.6" height="12.2" fill="#7fc97f" opacity="0.72"/>
<rect x="40.4" y="451.4" width="1.0" height="12.2" fill="#fdc086" opacity="0.77"/>
<rect x="41.1" y="451.4" width="0.8" height="12.2" fill="#7fc97f" opacity="0.73"/>
<rect x="41.8" y="451.4" width="1.6" height="12.2" fill="#fdc086" opacity="0.84"/>
<rect x="42.9" y="451.4" width="1.0" height="12.2" fill="#fdc086" opacity="0.74"/>
<rect x="43.8" y="451.4" width="1.6" height="12.2" fill="#7fc97f" opacity="0.74"/>
<rect x="44.7" y="451.4" width="1.0" height="12.2" fill="#7fc97f" opacity="0.98"/>
<rect x="45.8" y="451.4" width="0.4" height="12.2" fill="#fdc086" opacity="0.89"/>
<rect x="46.7" y="451.4" width="0.8" height="12.2" fill="#7fc97f" opacity="0.86"/>
<rect x="47.2" y="451.4" width="1.0" height="12.2" fill="#7fc97f" opacity="0.80"/>
<rect x="47.9" y="451.4" width="0.6" height="12.2" fill="#beaed4" opacity="0.91"/>
<rect x="49.0" y="451.4" width="0.6" height="12.2" fill="#7fc97f" opacity="0.74"/>
<rect x="50.1" y="451.4" width="1.6" height="12.2" fill="#7fc97f" opacity="0.71"/>
<rect x="51.2" y="451.4" width="1.0" height="12.2" fill="#386cb0" opacity="0.61"/>
<rect x="52.3" y="451.4" width="1.6" height="12.2" fill="#fdc086" opacity="0.73"/>
<rect x="53.4" y="451.4" width="1.6" height="12.2" fill="#beaed4" opacity="0.96"/>
<rect x="53.9" y="451.4" width="0.8" height="12.2" fill="#7fc97f" opacity="0.83"/>
<rect x="54.6" y="451.4" width="1.3" height="12.2" fill="#fdc086" opacity="0.76"/>
<rect x="55.3" y="451.4" width="1.0" height="12.2" fill="#fdc086" opacity="0.98"/>
<rect x="55.8" y="451.4" width="1.3" height="12.2" fill="#7fc97f" opacity="0.74"/>
<rect x="56.3" y="451.4" width="0.4" height="12.2" fill="#7fc97f" opacity="0.81"/>
<rect x="57.4" y="451.4" width="1.0" height="12.2" fill="#fdc086" opacity="0.99"/>
<rect x="58.5" y="451.4" width="1.3" height="12.2" fill="#386cb0" opacity="0.69"/>
<rect x="59.4" y="451.4" width="0.6" height="12.2" fill="#7fc97f" opacity="0.72"/>
<rect x="60.3" y="451.4" width="1.6" height="12.2" fill="#7fc97f" opacity="0.87"/>
<rect x="60.8" y="451.4" width="0.6" height="12.2" fill="#fdc086" opacity="0.72"/>
<rect x="61.9" y="451.4" width="1.0" height="12.2" fill="#7fc97f" opacity="0.96"/>
<rect x="63.0" y="451.4" width="0.4" height="12.2" fill="#386cb0" opacity="0.73"/>
<rect x="63.9" y="451.4" width="1.3" height="12.2" fill="#7fc97f" opacity="0.87"/>
<rect x="65.0" y="451.4" width="0.4" height="12.2" fill="#7fc97f" opacity="0.94"/>
<rect x="65.5" y="451.4" width="0.6" height="12.2" fill="#7fc97f" opacity="0.80"/>
<rect x="66.4" y="451.4" width="1.6" height="12.2" fill="#fdc086" opacity="0.79"/>
<rect x="67.5" y="451.4" width="1.3" height="12.2" fill="#beaed4" opacity="0.77"/>
<rect x="68.2" y="451.4" width="1.6" height="12.2" fill="#7fc97f" opacity="0.73"/>
<rect x="68.7" y="451.4" width="0.6" height="12.2" fill="#7fc97f" opacity="0.79"/>
<rect x="69.6" y="451.4" width="0.6" height="12.2" fill="#7fc97f" opacity="0.94"/>
<rect x="70.3" y="451.4" width="1.6" height="12.2" fill="#7fc97f" opacity="0.89"/>
<rect x="71.2" y="451.4" width="1.0" height="12.2" fill="#fdc086" opacity="0.83"/>
<rect x="71.9" y="451.4" width="1.0" height="12.2" fill="#fdc086" opacity="0.75"/>
<rect x="72.6" y="451.4" width="0.6" height="12.2" fill="#7fc97f" opacity="0.90"/>
<rect x="73.7" y="451.4" width="0.8" height="12.2" fill="#7fc97f" opacity="0.70"/>
<rect x="74.8" y="451.4" width="0.8" height="12.2" fill="#fdc086" opacity="0.86"/>
<rect x="75.9" y="451.4" width="1.3" height="12.2" fill="#7fc97f" opacity="0.91"/>
<rect x="76.4" y="451.4" width="0.4" height="12.2" fill="#7fc97f" opacity="0.74"/>
<rect x="77.1" y="451.4" width="1.0" height="12.2" fill="#386cb0" opacity="0.69"/>
<rect x="78.0" y="451.4" width="0.6" height="12.2" fill="#386cb0" opacity="0.85"/>
<rect x="78.5" y="451.4" width="1.6" height="12.2" fill="#7fc97f" opacity="0.75"/>
<rect x="80.3" y="451.4" width="0.4" height="12.2" fill="#7fc97f" opacity="0.74"/>
<rect x="81.0" y="451.4" width="0.6" height="12.2" fill="#7fc97f" opacity="0.74"/>
<rect x="81.7" y="451.4" width="1.6" height="12.2" fill="#fdc086" opacity="0.81"/>
<rect x="82.6" y="451.4" width="1.0" height="12.2" fill="#7fc97f" opacity="0.72"/>
<rect x="83.3" y="451.4" width="0.6" height="12.2" fill="#7fc97f" opacity="0.87"/>
<rect x="84.0" y="451.4" width="1.0" height="12.2" fill="#fdc086" opacity="0.85"/>
<rect x="85.6" y="451.4" width="0.6" height="12.2" fill="#7fc97f" opacity="1.00"/>
<rect x="87.2" y="451.4" width="0.4" height="12.2" fill="#fdc086" opacity="0.72"/>
<rect x="87.7" y="451.4" width="0.4" height="12.2" fill="#ffff99" opacity="0.85"/>
<rect x="88.4" y="451.4" width="0.6" height="12.2" fill="#fdc086" opacity="0.83"/>
<rect x="90.0" y="451.4" width="0.8" height="12.2" fill="#386cb0" opacity="0.83"/>
<rect x="90.7" y="451.4" width="0.4" height="12.2" fill="#7fc97f" opacity="0.83"/>
<rect x="92.5" y="451.4" width="0.4" height="12.2" fill="#fdc086" opacity="0.78"/>
<rect x="93.2" y="451.4" width="0.6" height="12.2" fill="#7fc97f" opacity="0.75"/>
<rect x="94.1" y="451.4" width="1.0" height="12.2" fill="#386cb0" opacity="0.68"/>
<rect x="95.0" y="451.4" width="0.4" height="12.2" fill="#fdc086" opacity="0.89"/>
<rect x="96.1" y="451.4" width="0.4" height="12.2" fill="#386cb0" opacity="0.80"/>
<rect x="96.8" y="451.4" width="1.6" height="12.2" fill="#7fc97f" opacity="0.72"/>
<rect x="97.7" y="451.4" width="0.6" height="12.2" fill="#fdc086" opacity="0.83"/>
<rect x="98.8" y="451.4" width="1.0" height="12.2" fill="#7fc97f" opacity="0.75"/>
<rect x="99.3" y="451.4" width="0.8" height="12.2" fill="#386cb0" opacity="0.62"/>
<rect x="100.4" y="451.4" width="0.8" height="12.2" fill="#386cb0" opacity="0.84"/>
<rect x="101.5" y="451.4" width="0.8" height="12.2" fill="#fdc086" opacity="0.79"/>
<rect x="102.2" y="451.4" width="0.8" height="12.2" fill="#7fc97f" opacity="0.85"/>
<rect x="103.3" y="451.4" width="0.4" height="12.2" fill="#386cb0" opacity="0.62"/>
<rect x="103.8" y="451.4" width="1.3" height="12.2" fill="#fdc086" opacity="0.99"/>
<rect x="104.5" y="451.4" width="0.8" height="12.2" fill="#7fc97f" opacity="0.94"/>
<rect x="105.4" y="451.4" width="1.3" height="12.2" fill="#7fc97f" opacity="0.95"/>
<rect x="106.1" y="451.4" width="0.4" height="12.2" fill="#7fc97f" opacity="0.94"/>
<rect x="106.8" y="451.4" width="0.8" height="12.2" fill="#fdc086" opacity="0.75"/>
<rect x="107.5" y="451.4" width="1.0" height="12.2" fill="#fdc086" opacity="0.94"/>
<rect x="108.0" y="451.4" width="1.0" height="12.2" fill="#fdc086" opacity="0.92"/>
<rect x="108.5" y="451.4" width="1.3" height="12.2" fill="#7fc97f" opacity="0.94"/>
<rect x="109.6" y="451.4" width="1.6" height="12.2" fill="#fdc086" opacity="0.71"/>
<rect x="110.5" y="451.4" width="1.6" height="12.2" fill="#7fc97f" opacity="0.96"/>
<rect x="111.0" y="451.4" width="1.6" height="12.2" fill="#386cb0" opacity="0.77"/>
<rect x="111.9" y="451.4" width="1.6" height="12.2" fill="#fdc086" opacity="0.71"/>
<rect x="113.0" y="451.4" width="0.4" height="12.2" fill="#fdc086" opacity="0.98"/>
<rect x="113.5" y="451.4" width="1.3" height="12.2" fill="#7fc97f" opacity="0.73"/>
<rect x="114.2" y="451.4" width="1.6" height="12.2" fill="#fdc086" opacity="0.70"/>
<rect x="114.9" y="451.4" width="1.3" height="12.2" fill="#7fc97f" opacity="0.90"/>
<rect x="115.6" y="451.4" width="1.0" height="12.2" fill="#7fc97f" opacity="0.87"/>
<rect x="116.3" y="451.4" width="1.3" height="12.2" fill="#7fc97f" opacity="0.71"/>
<rect x="116.8" y="451.4" width="0.8" height="12.2" fill="#7fc97f" opacity="0.91"/>
<rect x="117.9" y="451.4" width="1.3" height="12.2" fill="#7fc97f" opacity="0.70"/>
<rect x="119.0" y="451.4" width="0.6" height="12.2" fill="#7fc97f" opacity="0.70"/>
<rect x="119.7" y="451.4" width="1.3" height="12.2" fill="#fdc086" opacity="0.92"/>
<rect x="120.6" y="451.4" width="0.8" height="12.2" fill="#fdc086" opacity="0.96"/>
<rect x="121.3" y="451.4" width="1.3" height="12.2" fill="#beaed4" opacity="0.78"/>
<rect x="122.0" y="451.4" width="1.6" height="12.2" fill="#7fc97f" opacity="0.84"/>
<rect x="122.9" y="451.4" width="1.6" height="12.2" fill="#fdc086" opacity="0.98"/>
<rect x="124.0" y="451.4" width="0.4" height="12.2" fill="#7fc97f" opacity="0.90"/>
<rect x="124.7" y="451.4" width="1.6" height="12.2" fill="#fdc086" opacity="0.99"/>
<rect x="125.8" y="451.4" width="1.6" height="12.2" fill="#386cb0" opacity="0.79"/>
<rect x="126.5" y="451.4" width="1.0" height="12.2" fill="#7fc97f" opacity="0.99"/>
<rect x="127.2" y="451.4" width="0.4" height="12.2" fill="#386cb0" opacity="0.79"/>
<rect x="127.7" y="451.4" width="0.8" height="12.2" fill="#386cb0" opacity="0.68"/>
<rect x="128.4" y="451.4" width="1.3" height="12.2" fill="#fdc086" opacity="0.80"/>
<rect x="129.5" y="451.4" width="1.0" height="12.2" fill="#386cb0" opacity="0.74"/>
<rect x="130.6" y="451.4" width="1.0" height="12.2" fill="#386cb0" opacity="0.61"/>
<rect x="131.5" y="451.4" width="0.6" height="12.2" fill="#7fc97f" opacity="0.87"/>
<rect x="132.4" y="451.4" width="0.6" height="12.2" fill="#7fc97f" opacity="0.77"/>
<rect x="132.9" y="451.4" width="0.8" height="12.2" fill="#7fc97f" opacity="0.73"/>
<rect x="133.6" y="451.4" width="0.4" height="12.2" fill="#7fc97f" opacity="0.88"/>
<rect x="134.3" y="451.4" width="0.6" height="12.2" fill="#7fc97f" opacity="0.96"/>
<rect x="134.8" y="451.4" width="0.8" height="12.2" fill="#fdc086" opacity="0.74"/>
<rect x="135.5" y="451.4" width="0.6" height="12.2" fill="#7fc97f" opacity="0.76"/>
<rect x="136.0" y="451.4" width="1.6" height="12.2" fill="#7fc97f" opacity="0.77"/>
<rect x="136.7" y="451.4" width="1.3" height="12.2" fill="#7fc97f" opacity="0.75"/>
<rect x="137.8" y="451.4" width="1.3" height="12.2" fill="#7fc97f" opacity="0.72"/>
<rect x="138.7" y="451.4" width="1.0" height="12.2" fill="#fdc086" opacity="0.89"/>
<rect x="139.2" y="451.4" width="1.6" height="12.2" fill="#386cb0" opacity="0.63"/>
<rect x="139.9" y="451.4" width="1.3" height="12.2" fill="#7fc97f" opacity="0.73"/>
<rect x="140.4" y="451.4" width="1.6" height="12.2" fill="#fdc086" opacity="0.86"/>
<rect x="141.3" y="451.4" width="0.6" height="12.2" fill="#7fc97f" opacity="0.83"/>
<rect x="142.0" y="451.4" width="0.6" height="12.2" fill="#fdc086" opacity="0.98"/>
<rect x="143.1" y="451.4" width="1.0" height="12.2" fill="#beaed4" opacity="0.72"/>
<rect x="144.0" y="451.4" width="0.4" height="12.2" fill="#7fc97f" opacity="0.90"/>
<rect x="145.1" y="451.4" width="1.0" height="12.2" fill="#beaed4" opacity="0.74"/>
<rect x="145.6" y="451.4" width="1.0" height="12.2" fill="#fdc086" opacity="0.79"/>
<rect x="146.5" y="451.4" width="1.0" height="12.2" fill="#386cb0" opacity="0.85"/>
<rect x="147.6" y="451.4" width="1.3" height="12.2" fill="#7fc97f" opacity="0.73"/>
<rect x="148.5" y="451.4" width="0.4" height="12.2" fill="#fdc086" opacity="0.94"/>
<rect x="149.6" y="451.4" width="1.3" height="12.2" fill="#ffff99" opacity="0.80"/>
<rect x="150.5" y="451.4" width="1.6" height="12.2" fill="#386cb0" opacity="0.78"/>
<rect x="151.2" y="451.4" width="1.3" height="12.2" fill="#ffff99" opacity="0.77"/>
<rect x="152.1" y="451.4" width="0.6" height="12.2" fill="#fdc086" opacity="0.82"/>
<rect x="153.0" y="451.4" width="1.3" height="12.2" fill="#fdc086" opacity="0.87"/>
<rect x="154.1" y="451.4" width="0.8" height="12.2" fill="#7fc97f" opacity="0.77"/>
<rect x="154.8" y="451.4" width="0.6" height="12.2" fill="#7fc97f" opacity="0.91"/>
<rect x="155.5" y="451.4" width="1.6" height="12.2" fill="#fdc086" opacity="0.70"/>
<rect x="156.0" y="451.4" width="0.8" height="12.2" fill="#7fc97f" opacity="0.86"/>
<rect x="156.7" y="451.4" width="0.8" height="12.2" fill="#7fc97f" opacity="0.85"/>
<rect x="157.6" y="451.4" width="0.8" height="12.2" fill="#7fc97f" opacity="0.87"/>
<rect x="158.7" y="451.4" width="0.8" height="12.2" fill="#386cb0" opacity="0.63"/>
<rect x="159.6" y="451.4" width="0.4" height="12.2" fill="#fdc086" opacity="0.92"/>
<rect x="161.4" y="451.4" width="0.6" height="12.2" fill="#7fc97f" opacity="1.00"/>
<rect x="162.5" y="451.4" width="1.6" height="12.2" fill="#7fc97f" opacity="0.80"/>
<rect x="164.1" y="451.4" width="1.0" height="12.2" fill="#7fc97f" opacity="0.75"/>
<rect x="164.8" y="451.4" width="0.8" height="12.2" fill="#ffff99" opacity="0.68"/>
<rect x="165.5" y="451.4" width="1.0" height="12.2" fill="#ffff99" opacity="0.76"/>
<rect x="167.1" y="451.4" width="1.6" height="12.2" fill="#beaed4" opacity="0.80"/>
<rect x="168.2" y="451.4" width="0.6" height="12.2" fill="#fdc086" opacity="0.80"/>
<rect x="168.7" y="451.4" width="0.6" height="12.2" fill="#fdc086" opacity="0.71"/>
<rect x="169.2" y="451.4" width="1.3" height="12.2" fill="#7fc97f" opacity="0.76"/>
<rect x="169.9" y="451.4" width="0.8" height="12.2" fill="#fdc086" opacity="0.78"/>
<rect x="170.8" y="451.4" width="0.6" height="12.2" fill="#7fc97f" opacity="0.72"/>
<rect x="171.9" y="451.4" width="0.6" height="12.2" fill="#fdc086" opacity="0.85"/>
<rect x="172.8" y="451.4" width="0.4" height="12.2" fill="#fdc086" opacity="0.94"/>
<rect x="173.3" y="451.4" width="0.8" height="12.2" fill="#fdc086" opacity="0.85"/>
<rect x="174.2" y="451.4" width="0.8" height="12.2" fill="#fdc086" opacity="0.93"/>
<rect x="175.4" y="451.4" width="1.6" height="12.2" fill="#386cb0" opacity="0.68"/>
<rect x="175.9" y="451.4" width="1.0" height="12.2" fill="#386cb0" opacity="0.71"/>
<rect x="177.5" y="451.4" width="0.6" height="12.2" fill="#7fc97f" opacity="0.71"/>
<rect x="178.4" y="451.4" width="0.8" height="12.2" fill="#fdc086" opacity="0.92"/>
<rect x="179.5" y="451.4" width="0.8" height="12.2" fill="#fdc086" opacity="0.77"/>
<rect x="180.0" y="451.4" width="0.6" height="12.2" fill="#7fc97f" opacity="0.99"/>
<rect x="180.9" y="451.4" width="1.3" height="12.2" fill="#386cb0" opacity="0.61"/>
<rect x="181.4" y="451.4" width="0.8" height="12.2" fill="#7fc97f" opacity="0.85"/>
<rect x="182.3" y="451.4" width="1.0" height="12.2" fill="#7fc97f" opacity="0.88"/>
<rect x="182.8" y="451.4" width="0.6" height="12.2" fill="#fdc086" opacity="0.96"/>
<rect x="183.3" y="451.4" width="1.6" height="12.2" fill="#7fc97f" opacity="0.71"/>
<rect x="184.0" y="451.4" width="1.6" height="12.2" fill="#fdc086" opacity="0.95"/>
<rect x="185.1" y="451.4" width="1.6" height="12.2" fill="#7fc97f" opacity="0.74"/>
<rect x="186.2" y="451.4" width="0.6" height="12.2" fill="#7fc97f" opacity="0.81"/>
<rect x="187.3" y="451.4" width="0.8" height="12.2" fill="#386cb0" opacity="0.63"/>
<rect x="187.8" y="451.4" width="0.6" height="12.2" fill="#fdc086" opacity="0.79"/>
<rect x="188.3" y="451.4" width="1.6" height="12.2" fill="#beaed4" opacity="0.99"/>
<rect x="188.8" y="451.4" width="1.0" height="12.2" fill="#fdc086" opacity="0.75"/>
<rect x="189.7" y="451.4" width="0.4" height="12.2" fill="#ffff99" opacity="0.70"/>
<rect x="190.8" y="451.4" width="1.3" height="12.2" fill="#7fc97f" opacity="0.83"/>
<rect x="191.9" y="451.4" width="0.4" height="12.2" fill="#fdc086" opacity="0.71"/>
<rect x="192.8" y="451.4" width="0.8" height="12.2" fill="#fdc086" opacity="0.80"/>
<rect x="193.9" y="451.4" width="1.0" height="12.2" fill="#7fc97f" opacity="1.00"/>
<rect x="195.0" y="451.4" width="1.0" height="12.2" fill="#fdc086" opacity="0.94"/>
<rect x="195.9" y="451.4" width="0.4" height="12.2" fill="#7fc97f" opacity="0.89"/>
<rect x="197.0" y="451.4" width="0.8" height="12.2" fill="#7fc97f" opacity="0.80"/>
<rect x="197.5" y="451.4" width="0.4" height="12.2" fill="#fdc086" opacity="0.86"/>
<rect x="198.0" y="451.4" width="1.6" height="12.2" fill="#fdc086" opacity="0.72"/>
<rect x="198.5" y="451.4" width="0.6" height="12.2" fill="#beaed4" opacity="0.74"/>
<rect x="199.0" y="451.4" width="1.6" height="12.2" fill="#7fc97f" opacity="0.98"/>
<rect x="199.9" y="451.4" width="0.4" height="12.2" fill="#7fc97f" opacity="0.90"/>
<rect x="200.9" y="451.4" width="0.6" height="12.2" fill="#ffff99" opacity="0.69"/>
<rect x="202.0" y="451.4" width="1.3" height="12.2" fill="#7fc97f" opacity="0.76"/>
<rect x="202.9" y="451.4" width="0.4" height="12.2" fill="#7fc97f" opacity="0.77"/>
<rect x="203.4" y="451.4" width="0.8" height="12.2" fill="#fdc086" opacity="0.94"/>
<rect x="204.1" y="451.4" width="0.6" height="12.2" fill="#386cb0" opacity="0.68"/>
<rect x="204.8" y="451.4" width="0.4" height="12.2" fill="#fdc086" opacity="1.00"/>
<rect x="205.3" y="451.4" width="1.0" height="12.2" fill="#fdc086" opacity="0.75"/>
<rect x="206.9" y="451.4" width="1.3" height="12.2" fill="#7fc97f" opacity="0.92"/>
<rect x="207.4" y="451.4" width="0.4" height="12.2" fill="#7fc97f" opacity="0.95"/>
<rect x="208.1" y="451.4" width="0.4" height="12.2" fill="#7fc97f" opacity="0.97"/>
<rect x="208.8" y="451.4" width="1.6" height="12.2" fill="#7fc97f" opacity="0.75"/>
<rect x="209.5" y="451.4" width="1.3" height="12.2" fill="#7fc97f" opacity="0.73"/>
<rect x="210.0" y="451.4" width="1.0" height="12.2" fill="#fdc086" opacity="0.99"/>
<rect x="210.5" y="451.4" width="1.0" height="12.2" fill="#386cb0" opacity="0.78"/>
<rect x="211.6" y="451.4" width="0.6" height="12.2" fill="#fdc086" opacity="0.73"/>
<rect x="212.1" y="451.4" width="1.3" height="12.2" fill="#fdc086" opacity="0.91"/>
<rect x="213.2" y="451.4" width="0.4" height="12.2" fill="#fdc086" opacity="0.74"/>
<rect x="214.1" y="451.4" width="0.6" height="12.2" fill="#7fc97f" opacity="0.87"/>
<rect x="215.2" y="451.4" width="1.6" height="12.2" fill="#fdc086" opacity="0.73"/>
<rect x="216.1" y="451.4" width="1.3" height="12.2" fill="#7fc97f" opacity="0.77"/>
<rect x="216.6" y="451.4" width="0.6" height="12.2" fill="#fdc086" opacity="0.85"/>
<rect x="217.3" y="451.4" width="1.3" height="12.2" fill="#fdc086" opacity="0.92"/>
<rect x="218.2" y="451.4" width="0.6" height="12.2" fill="#7fc97f" opacity="0.75"/>
<rect x="219.3" y="451.4" width="0.6" height="12.2" fill="#7fc97f" opacity="0.97"/>
<rect x="220.2" y="451.4" width="1.0" height="12.2" fill="#7fc97f" opacity="0.78"/>
<rect x="220.7" y="451.4" width="0.4" height="12.2" fill="#7fc97f" opacity="0.72"/>
<rect x="221.8" y="451.4" width="0.8" height="12.2" fill="#386cb0" opacity="0.66"/>
<rect x="222.9" y="451.4" width="1.0" height="12.2" fill="#7fc97f" opacity="0.88"/>
<rect x="223.8" y="451.4" width="0.4" height="12.2" fill="#fdc086" opacity="0.95"/>
<rect x="224.9" y="451.4" width="1.3" height="12.2" fill="#7fc97f" opacity="0.78"/>
<rect x="226.0" y="451.4" width="0.6" height="12.2" fill="#ffff99" opacity="0.84"/>
<rect x="227.1" y="451.4" width="0.4" height="12.2" fill="#386cb0" opacity="0.81"/>
<rect x="227.6" y="451.4" width="0.6" height="12.2" fill="#fdc086" opacity="0.91"/>
<rect x="228.3" y="451.4" width="0.6" height="12.2" fill="#fdc086" opacity="0.71"/>
<rect x="229.0" y="451.4" width="0.8" height="12.2" fill="#7fc97f" opacity="0.96"/>
<rect x="229.5" y="451.4" width="0.8" height="12.2" fill="#fdc086" opacity="0.77"/>
<rect x="230.4" y="451.4" width="1.0" height="12.2" fill="#beaed4" opacity="0.95"/>
<rect x="231.1" y="451.4" width="0.6" height="12.2" fill="#beaed4" opacity="0.78"/>
<rect x="231.6" y="451.4" width="1.0" height="12.2" fill="#386cb0" opacity="0.76"/>
<rect x="232.7" y="451.4" width="0.4" height="12.2" fill="#386cb0" opacity="0.65"/>
<rect x="233.4" y="451.4" width="1.0" height="12.2" fill="#fdc086" opacity="0.87"/>
<rect x="233.9" y="451.4" width="1.3" height="12.2" fill="#7fc97f" opacity="0.77"/>
<rect x="234.4" y="451.4" width="1.3" height="12.2" fill="#7fc97f" opacity="0.86"/>
<rect x="235.3" y="451.4" width="0.8" height="12.2" fill="#beaed4" opacity="0.80"/>
<rect x="235.8" y="451.4" width="0.4" height="12.2" fill="#7fc97f" opacity="0.86"/>
<rect x="236.9" y="451.4" width="0.6" height="12.2" fill="#7fc97f" opacity="0.77"/>
<rect x="237.8" y="451.4" width="0.4" height="12.2" fill="#fdc086" opacity="0.72"/>
<rect x="238.3" y="451.4" width="1.6" height="12.2" fill="#7fc97f" opacity="0.91"/>
<rect x="239.4" y="451.4" width="1.0" height="12.2" fill="#fdc086" opacity="0.95"/>
<rect x="240.1" y="451.4" width="1.6" height="12.2" fill="#fdc086" opacity="0.79"/>
<rect x="240.8" y="451.4" width="1.6" height="12.2" fill="#fdc086" opacity="0.92"/>
<rect x="241.9" y="451.4" width="0.8" height="12.2" fill="#7fc97f" opacity="0.73"/>
<rect x="242.6" y="451.4" width="0.6" height="12.2" fill="#fdc086" opacity="0.92"/>
<rect x="243.1" y="451.4" width="0.8" height="12.2" fill="#7fc97f" opacity="0.86"/>
<rect x="243.6" y="451.4" width="0.4" height="12.2" fill="#7fc97f" opacity="0.91"/>
<rect x="244.3" y="451.4" width="1.6" height="12.2" fill="#fdc086" opacity="0.96"/>
<rect x="245.7" y="451.4" width="1.6" height="12.2" fill="#386cb0" opacity="0.60"/>
<rect x="246.2" y="451.4" width="1.6" height="12.2" fill="#7fc97f" opacity="0.82"/>
<rect x="246.7" y="451.4" width="0.4" height="12.2" fill="#7fc97f" opacity="0.96"/>
<rect x="247.4" y="451.4" width="1.3" height="12.2" fill="#7fc97f" opacity="0.79"/>
<rect x="247.9" y="451.4" width="0.4" height="12.2" fill="#7fc97f" opacity="0.85"/>
<rect x="248.4" y="451.4" width="1.3" height="12.2" fill="#fdc086" opacity="0.78"/>
<rect x="249.5" y="451.4" width="1.0" height="12.2" fill="#7fc97f" opacity="0.85"/>
<rect x="250.0" y="451.4" width="0.4" height="12.2" fill="#fdc086" opacity="0.71"/>
<rect x="251.1" y="451.4" width="0.6" height="12.2" fill="#7fc97f" opacity="0.99"/>
<rect x="251.6" y="451.4" width="0.6" height="12.2" fill="#7fc97f" opacity="0.89"/>
<rect x="252.5" y="451.4" width="1.3" height="12.2" fill="#fdc086" opacity="0.78"/>
<rect x="253.4" y="451.4" width="1.0" height="12.2" fill="#7fc97f" opacity="0.81"/>
<rect x="254.5" y="451.4" width="1.3" height="12.2" fill="#7fc97f" opacity="0.87"/>
<rect x="255.6" y="451.4" width="0.4" height="12.2" fill="#fdc086" opacity="0.81"/>
<rect x="256.5" y="451.4" width="1.0" height="12.2" fill="#7fc97f" opacity="0.86"/>
<rect x="257.4" y="451.4" width="0.4" height="12.2" fill="#7fc97f" opacity="0.81"/>
<rect x="257.9" y="451.4" width="1.6" height="12.2" fill="#fdc086" opacity="0.72"/>
<rect x="258.4" y="451.4" width="0.8" height="12.2" fill="#fdc086" opacity="0.87"/>
<rect x="259.1" y="451.4" width="1.0" height="12.2" fill="#7fc97f" opacity="0.98"/>
<rect x="260.2" y="451.4" width="1.3" height="12.2" fill="#7fc97f" opacity="0.96"/>
<rect x="261.1" y="451.4" width="1.0" height="12.2" fill="#fdc086" opacity="0.78"/>
<rect x="262.3" y="451.4" width="1.0" height="12.2" fill="#7fc97f" opacity="0.83"/>
<rect x="263.0" y="451.4" width="0.6" height="12.2" fill="#386cb0" opacity="0.69"/>
<rect x="264.4" y="451.4" width="1.0" height="12.2" fill="#fdc086" opacity="0.96"/>
<rect x="266.0" y="451.4" width="1.6" height="12.2" fill="#7fc97f" opacity="0.95"/>
<rect x="266.9" y="451.4" width="1.0" height="12.2" fill="#7fc97f" opacity="0.91"/>
<rect x="270.7" y="451.4" width="1.6" height="12.2" fill="#386cb0" opacity="0.83"/>
<rect x="271.4" y="451.4" width="1.6" height="12.2" fill="#fdc086" opacity="0.81"/>
<rect x="272.1" y="451.4" width="0.4" height="12.2" fill="#7fc97f" opacity="0.92"/>
<rect x="273.2" y="451.4" width="0.6" height="12.2" fill="#7fc97f" opacity="0.93"/>
<rect x="273.9" y="451.4" width="0.6" height="12.2" fill="#fdc086" opacity="0.81"/>
<rect x="276.7" y="451.4" width="1.3" height="12.2" fill="#beaed4" opacity="0.86"/>
<rect x="278.7" y="451.4" width="1.0" height="12.2" fill="#7fc97f" opacity="0.98"/>
<rect x="279.2" y="451.4" width="0.8" height="12.2" fill="#7fc97f" opacity="0.97"/>
<rect x="279.7" y="451.4" width="1.3" height="12.2" fill="#7fc97f" opacity="0.94"/>
<rect x="280.2" y="451.4" width="1.6" height="12.2" fill="#fdc086" opacity="0.72"/>
<rect x="281.3" y="451.4" width="1.6" height="12.2" fill="#fdc086" opacity="0.84"/>
<rect x="281.8" y="451.4" width="1.0" height="12.2" fill="#fdc086" opacity="0.88"/>
<rect x="282.9" y="451.4" width="1.3" height="12.2" fill="#beaed4" opacity="0.88"/>
<rect x="283.8" y="451.4" width="0.8" height="12.2" fill="#fdc086" opacity="0.97"/>
<rect x="284.5" y="451.4" width="0.4" height="12.2" fill="#beaed4" opacity="0.82"/>
<rect x="285.4" y="451.4" width="0.4" height="12.2" fill="#7fc97f" opacity="0.96"/>
<rect x="285.9" y="451.4" width="1.0" height="12.2" fill="#7fc97f" opacity="0.98"/>
<rect x="286.6" y="451.4" width="1.3" height="12.2" fill="#7fc97f" opacity="0.79"/>
<rect x="287.5" y="451.4" width="0.4" height="12.2" fill="#fdc086" opacity="0.74"/>
<rect x="288.0" y="451.4" width="1.6" height="12.2" fill="#386cb0" opacity="0.74"/>
<rect x="289.1" y="451.4" width="0.6" height="12.2" fill="#fdc086" opacity="0.93"/>
<rect x="289.8" y="451.4" width="0.8" height="12.2" fill="#fdc086" opacity="0.98"/>
<rect x="290.7" y="451.4" width="1.6" height="12.2" fill="#fdc086" opacity="0.91"/>
<rect x="291.6" y="451.4" width="0.6" height="12.2" fill="#fdc086" opacity="0.75"/>
<rect x="292.3" y="451.4" width="0.6" height="12.2" fill="#fdc086" opacity="0.75"/>
<rect x="294.1" y="451.4" width="0.8" height="12.2" fill="#7fc97f" opacity="0.89"/>
<rect x="295.0" y="451.4" width="0.6" height="12.2" fill="#fdc086" opacity="0.95"/>
<rect x="295.5" y="451.4" width="0.6" height="12.2" fill="#fdc086" opacity="0.90"/>
<rect x="297.1" y="451.4" width="0.8" height="12.2" fill="#7fc97f" opacity="0.91"/>
<rect x="297.6" y="451.4" width="1.6" height="12.2" fill="#fdc086" opacity="0.97"/>
<rect x="298.7" y="451.4" width="1.6" height="12.2" fill="#386cb0" opacity="0.75"/>
<rect x="301.0" y="451.4" width="0.6" height="12.2" fill="#7fc97f" opacity="0.95"/>
<rect x="301.9" y="451.4" width="1.3" height="12.2" fill="#fdc086" opacity="0.70"/>
<rect x="302.8" y="451.4" width="1.6" height="12.2" fill="#7fc97f" opacity="0.91"/>
<rect x="303.5" y="451.4" width="1.6" height="12.2" fill="#fdc086" opacity="0.95"/>
<rect x="304.4" y="451.4" width="0.6" height="12.2" fill="#fdc086" opacity="0.84"/>
<rect x="305.6" y="451.4" width="1.6" height="12.2" fill="#fdc086" opacity="0.94"/>
<rect x="306.3" y="451.4" width="1.0" height="12.2" fill="#fdc086" opacity="0.91"/>
<rect x="307.2" y="451.4" width="0.8" height="12.2" fill="#beaed4" opacity="0.76"/>
<rect x="307.7" y="451.4" width="1.6" height="12.2" fill="#fdc086" opacity="0.95"/>
<rect x="308.7" y="451.4" width="0.4" height="12.2" fill="#7fc97f" opacity="0.71"/>
<rect x="310.7" y="451.4" width="0.8" height="12.2" fill="#7fc97f" opacity="0.79"/>
<rect x="311.4" y="451.4" width="0.8" height="12.2" fill="#7fc97f" opacity="0.98"/>
<rect x="313.0" y="451.4" width="1.0" height="12.2" fill="#fdc086" opacity="0.94"/>
<rect x="313.5" y="451.4" width="0.6" height="12.2" fill="#fdc086" opacity="0.98"/>
<rect x="314.2" y="451.4" width="0.8" height="12.2" fill="#386cb0" opacity="0.81"/>
<rect x="315.4" y="451.4" width="1.6" height="12.2" fill="#7fc97f" opacity="0.95"/>
<rect x="316.1" y="451.4" width="1.0" height="12.2" fill="#fdc086" opacity="0.80"/>
<rect x="317.0" y="451.4" width="1.0" height="12.2" fill="#fdc086" opacity="0.98"/>
<rect x="317.5" y="451.4" width="1.3" height="12.2" fill="#386cb0" opacity="0.84"/>
<rect x="318.2" y="451.4" width="1.0" height="12.2" fill="#386cb0" opacity="0.71"/>
<rect x="319.1" y="451.4" width="1.3" height="12.2" fill="#7fc97f" opacity="0.82"/>
<rect x="319.6" y="451.4" width="1.6" height="12.2" fill="#fdc086" opacity="0.99"/>
<rect x="321.2" y="451.4" width="0.4" height="12.2" fill="#beaed4" opacity="0.71"/>
<rect x="321.9" y="451.4" width="0.4" height="12.2" fill="#7fc97f" opacity="0.90"/>
<rect x="323.0" y="451.4" width="1.0" height="12.2" fill="#fdc086" opacity="0.82"/>
<rect x="323.9" y="451.4" width="1.0" height="12.2" fill="#fdc086" opacity="0.74"/>
<rect x="325.0" y="451.4" width="0.8" height="12.2" fill="#fdc086" opacity="0.96"/>
<rect x="325.5" y="451.4" width="1.0" height="12.2" fill="#7fc97f" opacity="0.73"/>
<rect x="326.6" y="451.4" width="1.0" height="12.2" fill="#7fc97f" opacity="0.95"/>
<rect x="327.1" y="451.4" width="1.6" height="12.2" fill="#beaed4" opacity="0.85"/>
<rect x="328.1" y="451.4" width="1.0" height="12.2" fill="#386cb0" opacity="0.84"/>
<rect x="328.6" y="451.4" width="0.8" height="12.2" fill="#386cb0" opacity="0.66"/>
<rect x="329.7" y="451.4" width="1.6" height="12.2" fill="#7fc97f" opacity="0.76"/>
<rect x="330.4" y="451.4" width="0.8" height="12.2" fill="#beaed4" opacity="0.94"/>
<rect x="330.9" y="451.4" width="0.8" height="12.2" fill="#7fc97f" opacity="0.74"/>
<rect x="332.3" y="451.4" width="0.8" height="12.2" fill="#7fc97f" opacity="0.93"/>
<rect x="333.4" y="451.4" width="1.0" height="12.2" fill="#386cb0" opacity="0.73"/>
<rect x="333.9" y="451.4" width="0.4" height="12.2" fill="#7fc97f" opacity="0.87"/>
<rect x="334.8" y="451.4" width="1.0" height="12.2" fill="#fdc086" opacity="0.73"/>
<rect x="335.7" y="451.4" width="0.4" height="12.2" fill="#fdc086" opacity="0.79"/>
<rect x="336.8" y="451.4" width="1.0" height="12.2" fill="#7fc97f" opacity="0.96"/>
<rect x="337.5" y="451.4" width="0.6" height="12.2" fill="#fdc086" opacity="0.85"/>
<rect x="338.4" y="451.4" width="0.6" height="12.2" fill="#fdc086" opacity="0.87"/>
<rect x="339.5" y="451.4" width="1.3" height="12.2" fill="#7fc97f" opacity="0.71"/>
<rect x="340.6" y="451.4" width="1.0" height="12.2" fill="#fdc086" opacity="0.78"/>
<rect x="341.1" y="451.4" width="0.4" height="12.2" fill="#7fc97f" opacity="0.80"/>
<rect x="341.8" y="451.4" width="1.0" height="12.2" fill="#fdc086" opacity="0.92"/>
<rect x="342.9" y="451.4" width="0.4" height="12.2" fill="#7fc97f" opacity="0.86"/>
<rect x="343.6" y="451.4" width="1.6" height="12.2" fill="#7fc97f" opacity="0.78"/>
<rect x="344.7" y="451.4" width="1.6" height="12.2" fill="#ffff99" opacity="0.75"/>
<rect x="345.6" y="451.4" width="0.6" height="12.2" fill="#7fc97f" opacity="0.89"/>
<rect x="346.5" y="451.4" width="1.6" height="12.2" fill="#7fc97f" opacity="0.79"/>
<rect x="347.0" y="451.4" width="0.8" height="12.2" fill="#7fc97f" opacity="0.79"/>
<rect x="348.1" y="451.4" width="1.0" height="12.2" fill="#7fc97f" opacity="0.84"/>
<rect x="349.2" y="451.4" width="1.0" height="12.2" fill="#fdc086" opacity="0.89"/>
<rect x="349.9" y="451.4" width="0.6" height="12.2" fill="#7fc97f" opacity="0.92"/>
<rect x="351.0" y="451.4" width="1.3" height="12.2" fill="#fdc086" opacity="0.71"/>
<rect x="351.5" y="451.4" width="1.6" height="12.2" fill="#fdc086" opacity="0.95"/>
<rect x="352.6" y="451.4" width="1.3" height="12.2" fill="#fdc086" opacity="0.88"/>
<rect x="353.3" y="451.4" width="1.6" height="12.2" fill="#fdc086" opacity="0.89"/>
<rect x="354.4" y="451.4" width="1.6" height="12.2" fill="#7fc97f" opacity="0.79"/>
<rect x="355.1" y="451.4" width="0.8" height="12.2" fill="#7fc97f" opacity="0.95"/>
<rect x="356.5" y="451.4" width="1.6" height="12.2" fill="#fdc086" opacity="0.74"/>
<rect x="357.4" y="451.4" width="0.6" height="12.2" fill="#386cb0" opacity="0.66"/>
<rect x="357.9" y="451.4" width="0.8" height="12.2" fill="#7fc97f" opacity="0.89"/>
<rect x="361.1" y="451.4" width="0.8" height="12.2" fill="#7fc97f" opacity="0.97"/>
<rect x="362.5" y="451.4" width="1.3" height="12.2" fill="#fdc086" opacity="0.84"/>
<rect x="363.9" y="451.4" width="1.6" height="12.2" fill="#fdc086" opacity="0.76"/>
<rect x="365.5" y="451.4" width="0.4" height="12.2" fill="#7fc97f" opacity="0.74"/>
<rect x="366.4" y="451.4" width="0.6" height="12.2" fill="#386cb0" opacity="0.61"/>
<rect x="367.1" y="451.4" width="1.3" height="12.2" fill="#386cb0" opacity="0.69"/>
<rect x="367.8" y="451.4" width="0.6" height="12.2" fill="#beaed4" opacity="0.77"/>
<rect x="368.5" y="451.4" width="1.6" height="12.2" fill="#7fc97f" opacity="0.85"/>
<rect x="369.0" y="451.4" width="0.4" height="12.2" fill="#fdc086" opacity="0.94"/>
<rect x="369.7" y="451.4" width="0.8" height="12.2" fill="#fdc086" opacity="0.88"/>
<rect x="370.8" y="451.4" width="0.4" height="12.2" fill="#fdc086" opacity="0.92"/>
<rect x="371.7" y="451.4" width="0.8" height="12.2" fill="#386cb0" opacity="0.67"/>
<rect x="372.8" y="451.4" width="0.8" height="12.2" fill="#fdc086" opacity="0.87"/>
<rect x="373.7" y="451.4" width="1.6" height="12.2" fill="#7fc97f" opacity="0.94"/>
<rect x="375.1" y="451.4" width="0.8" height="12.2" fill="#386cb0" opacity="0.69"/>
<rect x="376.0" y="451.4" width="1.0" height="12.2" fill="#fdc086" opacity="0.83"/>
<rect x="376.7" y="451.4" width="1.0" height="12.2" fill="#7fc97f" opacity="0.89"/>
<rect x="377.2" y="451.4" width="0.6" height="12.2" fill="#fdc086" opacity="0.79"/>
<rect x="377.9" y="451.4" width="1.3" height="12.2" fill="#beaed4" opacity="0.99"/>
<rect x="378.6" y="451.4" width="0.6" height="12.2" fill="#7fc97f" opacity="0.87"/>
<rect x="379.1" y="451.4" width="1.6" height="12.2" fill="#386cb0" opacity="0.63"/>
<rect x="380.2" y="451.4" width="0.6" height="12.2" fill="#386cb0" opacity="0.63"/>
<rect x="380.9" y="451.4" width="1.3" height="12.2" fill="#fdc086" opacity="0.96"/>
<rect x="382.0" y="451.4" width="0.6" height="12.2" fill="#7fc97f" opacity="0.87"/>
<rect x="382.9" y="451.4" width="0.4" height="12.2" fill="#386cb0" opacity="0.85"/>
<rect x="383.6" y="451.4" width="0.6" height="12.2" fill="#7fc97f" opacity="0.89"/>
<rect x="384.5" y="451.4" width="1.6" height="12.2" fill="#fdc086" opacity="0.97"/>
<rect x="385.6" y="451.4" width="1.0" height="12.2" fill="#7fc97f" opacity="0.75"/>
<rect x="386.1" y="451.4" width="1.6" height="12.2" fill="#7fc97f" opacity="0.94"/>
<rect x="386.6" y="451.4" width="0.6" height="12.2" fill="#fdc086" opacity="0.94"/>
<rect x="387.5" y="451.4" width="1.6" height="12.2" fill="#fdc086" opacity="0.90"/>
<rect x="388.6" y="451.4" width="1.0" height="12.2" fill="#7fc97f" opacity="0.90"/>
<rect x="389.3" y="451.4" width="0.6" height="12.2" fill="#7fc97f" opacity="0.79"/>
<rect x="390.7" y="451.4" width="1.0" height="12.2" fill="#7fc97f" opacity="0.86"/>
<rect x="391.2" y="451.4" width="0.4" height="12.2" fill="#7fc97f" opacity="0.72"/>
<rect x="392.1" y="451.4" width="1.0" height="12.2" fill="#fdc086" opacity="0.74"/>
<rect x="393.2" y="451.4" width="0.6" height="12.2" fill="#fdc086" opacity="0.96"/>
<rect x="393.9" y="451.4" width="0.6" height="12.2" fill="#fdc086" opacity="0.77"/>
<rect x="394.8" y="451.4" width="0.4" height="12.2" fill="#7fc97f" opacity="0.85"/>
<rect x="395.9" y="451.4" width="1.0" height="12.2" fill="#386cb0" opacity="0.67"/>
<rect x="396.4" y="451.4" width="0.6" height="12.2" fill="#7fc97f" opacity="0.79"/>
<rect x="397.5" y="451.4" width="0.4" height="12.2" fill="#fdc086" opacity="0.95"/>
<rect x="398.0" y="451.4" width="1.0" height="12.2" fill="#7fc97f" opacity="0.86"/>
<rect x="398.7" y="451.4" width="0.4" height="12.2" fill="#7fc97f" opacity="0.86"/>
<rect x="399.2" y="451.4" width="1.3" height="12.2" fill="#fdc086" opacity="0.95"/>
<rect x="400.1" y="451.4" width="1.3" height="12.2" fill="#fdc086" opacity="0.78"/>
<rect x="401.2" y="451.4" width="1.0" height="12.2" fill="#fdc086" opacity="0.87"/>
<rect x="402.1" y="451.4" width="0.4" height="12.2" fill="#fdc086" opacity="0.95"/>
<rect x="403.2" y="451.4" width="1.0" height="12.2" fill="#fdc086" opacity="0.94"/>
<rect x="404.3" y="451.4" width="0.4" height="12.2" fill="#7fc97f" opacity="0.82"/>
<rect x="405.0" y="451.4" width="1.0" height="12.2" fill="#7fc97f" opacity="0.90"/>
<rect x="405.5" y="451.4" width="1.3" height="12.2" fill="#fdc086" opacity="0.98"/>
<rect x="406.4" y="451.4" width="1.6" height="12.2" fill="#7fc97f" opacity="0.82"/>
<rect x="406.9" y="451.4" width="0.8" height="12.2" fill="#7fc97f" opacity="0.76"/>
<rect x="407.6" y="451.4" width="0.8" height="12.2" fill="#7fc97f" opacity="0.75"/>
<rect x="408.3" y="451.4" width="0.4" height="12.2" fill="#7fc97f" opacity="0.97"/>
<rect x="408.8" y="451.4" width="0.4" height="12.2" fill="#ffff99" opacity="0.74"/>
<rect x="409.3" y="451.4" width="1.0" height="12.2" fill="#7fc97f" opacity="0.72"/>
<rect x="410.0" y="451.4" width="0.6" height="12.2" fill="#386cb0" opacity="0.72"/>
<rect x="410.7" y="451.4" width="0.8" height="12.2" fill="#7fc97f" opacity="0.77"/>
<rect x="411.2" y="451.4" width="0.6" height="12.2" fill="#7fc97f" opacity="0.91"/>
<rect x="412.1" y="451.4" width="0.6" height="12.2" fill="#7fc97f" opacity="0.97"/>
<rect x="412.8" y="451.4" width="0.6" height="12.2" fill="#7fc97f" opacity="0.80"/>
<rect x="413.5" y="451.4" width="1.6" height="12.2" fill="#7fc97f" opacity="0.96"/>
<rect x="414.6" y="451.4" width="0.6" height="12.2" fill="#ffff99" opacity="0.76"/>
<rect x="415.1" y="451.4" width="0.6" height="12.2" fill="#ffff99" opacity="0.63"/>
<rect x="416.2" y="451.4" width="0.8" height="12.2" fill="#beaed4" opacity="0.94"/>
<rect x="416.9" y="451.4" width="0.8" height="12.2" fill="#fdc086" opacity="0.88"/>
<rect x="417.4" y="451.4" width="0.6" height="12.2" fill="#fdc086" opacity="0.98"/>
<rect x="418.5" y="451.4" width="1.0" height="12.2" fill="#386cb0" opacity="0.84"/>
<rect x="419.0" y="451.4" width="1.6" height="12.2" fill="#fdc086" opacity="0.80"/>
<rect x="419.9" y="451.4" width="1.6" height="12.2" fill="#7fc97f" opacity="0.70"/>
<rect x="420.4" y="451.4" width="0.6" height="12.2" fill="#fdc086" opacity="0.95"/>
<rect x="421.5" y="451.4" width="1.0" height="12.2" fill="#7fc97f" opacity="0.84"/>
<rect x="422.4" y="451.4" width="0.8" height="12.2" fill="#fdc086" opacity="0.91"/>
<rect x="423.1" y="451.4" width="0.8" height="12.2" fill="#fdc086" opacity="0.90"/>
<rect x="424.2" y="451.4" width="0.4" height="12.2" fill="#7fc97f" opacity="0.89"/>
<rect x="425.1" y="451.4" width="1.0" height="12.2" fill="#fdc086" opacity="0.80"/>
<rect x="426.2" y="451.4" width="0.6" height="12.2" fill="#7fc97f" opacity="0.88"/>
<rect x="427.3" y="451.4" width="1.6" height="12.2" fill="#7fc97f" opacity="0.96"/>
<rect x="428.2" y="451.4" width="0.4" height="12.2" fill="#fdc086" opacity="0.75"/>
<rect x="429.3" y="451.4" width="0.8" height="12.2" fill="#7fc97f" opacity="0.72"/>
<rect x="429.8" y="451.4" width="0.4" height="12.2" fill="#7fc97f" opacity="0.78"/>
<rect x="430.5" y="451.4" width="0.8" height="12.2" fill="#fdc086" opacity="0.77"/>
<rect x="431.2" y="451.4" width="0.6" height="12.2" fill="#7fc97f" opacity="0.84"/>
<rect x="431.7" y="451.4" width="1.6" height="12.2" fill="#7fc97f" opacity="0.80"/>
<rect x="432.8" y="451.4" width="0.4" height="12.2" fill="#fdc086" opacity="0.95"/>
<rect x="433.5" y="451.4" width="0.6" height="12.2" fill="#386cb0" opacity="0.75"/>
<rect x="434.0" y="451.4" width="1.6" height="12.2" fill="#fdc086" opacity="0.96"/>
<rect x="434.5" y="451.4" width="0.6" height="12.2" fill="#7fc97f" opacity="0.93"/>
<rect x="435.2" y="451.4" width="1.0" height="12.2" fill="#7fc97f" opacity="0.78"/>
<rect x="436.3" y="451.4" width="0.4" height="12.2" fill="#fdc086" opacity="0.84"/>
<rect x="437.0" y="451.4" width="0.8" height="12.2" fill="#7fc97f" opacity="0.75"/>
<rect x="437.7" y="451.4" width="0.6" height="12.2" fill="#7fc97f" opacity="0.73"/>
<rect x="438.6" y="451.4" width="1.6" height="12.2" fill="#fdc086" opacity="0.76"/>
<rect x="439.7" y="451.4" width="1.0" height="12.2" fill="#fdc086" opacity="0.78"/>
<rect x="440.6" y="451.4" width="0.6" height="12.2" fill="#7fc97f" opacity="0.80"/>
<rect x="441.3" y="451.4" width="0.6" height="12.2" fill="#7fc97f" opacity="0.77"/>
<rect x="442.0" y="451.4" width="1.3" height="12.2" fill="#fdc086" opacity="0.81"/>
<rect x="443.1" y="451.4" width="0.8" height="12.2" fill="#7fc97f" opacity="0.83"/>
<rect x="443.8" y="451.4" width="1.3" height="12.2" fill="#7fc97f" opacity="0.99"/>
<rect x="444.3" y="451.4" width="0.8" height="12.2" fill="#fdc086" opacity="0.83"/>
<rect x="445.2" y="451.4" width="1.3" height="12.2" fill="#7fc97f" opacity="0.76"/>
<rect x="446.1" y="451.4" width="1.0" height="12.2" fill="#fdc086" opacity="0.93"/>
<rect x="447.2" y="451.4" width="1.3" height="12.2" fill="#7fc97f" opacity="0.77"/>
<rect x="447.9" y="451.4" width="0.4" height="12.2" fill="#fdc086" opacity="0.97"/>
<rect x="448.6" y="451.4" width="1.6" height="12.2" fill="#7fc97f" opacity="0.97"/>
<rect x="449.7" y="451.4" width="1.6" height="12.2" fill="#7fc97f" opacity="0.83"/>
<rect x="450.8" y="451.4" width="1.3" height="12.2" fill="#386cb0" opacity="0.68"/>
<rect x="451.7" y="451.4" width="0.8" height="12.2" fill="#7fc97f" opacity="0.92"/>
<rect x="452.2" y="451.4" width="1.3" height="12.2" fill="#7fc97f" opacity="0.88"/>
<rect x="452.9" y="451.4" width="0.4" height="12.2" fill="#fdc086" opacity="0.73"/>
<rect x="453.4" y="451.4" width="1.0" height="12.2" fill="#fdc086" opacity="0.72"/>
<rect x="454.1" y="451.4" width="1.6" height="12.2" fill="#7fc97f" opacity="0.76"/>
<rect x="455.2" y="451.4" width="1.0" height="12.2" fill="#7fc97f" opacity="0.72"/>
<rect x="456.1" y="451.4" width="1.6" height="12.2" fill="#7fc97f" opacity="0.89"/>
<rect x="456.8" y="451.4" width="1.0" height="12.2" fill="#fdc086" opacity="0.88"/>
<rect x="457.7" y="451.4" width="0.8" height="12.2" fill="#fdc086" opacity="0.72"/>
<rect x="458.6" y="451.4" width="1.6" height="12.2" fill="#fdc086" opacity="0.96"/>
<rect x="459.7" y="451.4" width="0.4" height="12.2" fill="#7fc97f" opacity="0.97"/>
<rect x="460.6" y="451.4" width="1.6" height="12.2" fill="#fdc086" opacity="0.81"/>
<rect x="461.7" y="451.4" width="1.6" height="12.2" fill="#fdc086" opacity="0.86"/>
<rect x="462.6" y="451.4" width="0.8" height="12.2" fill="#fdc086" opacity="0.85"/>
<rect x="463.5" y="451.4" width="0.8" height="12.2" fill="#7fc97f" opacity="0.88"/>
<rect x="464.6" y="451.4" width="1.6" height="12.2" fill="#7fc97f" opacity="0.95"/>
<rect x="465.5" y="451.4" width="1.0" height="12.2" fill="#fdc086" opacity="0.95"/>
<rect x="466.0" y="451.4" width="1.0" height="12.2" fill="#fdc086" opacity="0.94"/>
<rect x="466.7" y="451.4" width="0.4" height="12.2" fill="#7fc97f" opacity="0.88"/>
<rect x="467.8" y="451.4" width="0.4" height="12.2" fill="#7fc97f" opacity="0.81"/>
<rect x="468.7" y="451.4" width="1.6" height="12.2" fill="#fdc086" opacity="0.94"/>
<rect x="469.2" y="451.4" width="0.8" height="12.2" fill="#386cb0" opacity="0.84"/>
<rect x="469.7" y="451.4" width="1.0" height="12.2" fill="#fdc086" opacity="0.88"/>
<rect x="470.4" y="451.4" width="0.4" height="12.2" fill="#beaed4" opacity="0.95"/>
<rect x="471.1" y="451.4" width="1.6" height="12.2" fill="#7fc97f" opacity="0.87"/>
<rect x="472.0" y="451.4" width="0.8" height="12.2" fill="#fdc086" opacity="0.98"/>
<rect x="472.7" y="451.4" width="0.6" height="12.2" fill="#7fc97f" opacity="0.75"/>
<rect x="473.6" y="451.4" width="0.4" height="12.2" fill="#7fc97f" opacity="0.89"/>
<rect x="474.7" y="451.4" width="0.6" height="12.2" fill="#7fc97f" opacity="0.92"/>
<rect x="475.4" y="451.4" width="1.0" height="12.2" fill="#7fc97f" opacity="0.81"/>
<rect x="475.9" y="451.4" width="0.4" height="12.2" fill="#fdc086" opacity="0.74"/>
<rect x="476.4" y="451.4" width="0.6" height="12.2" fill="#fdc086" opacity="0.83"/>
<rect x="476.9" y="451.4" width="0.6" height="12.2" fill="#7fc97f" opacity="0.73"/>
<rect x="477.8" y="451.4" width="1.3" height="12.2" fill="#386cb0" opacity="0.74"/>
<rect x="478.3" y="451.4" width="1.3" height="12.2" fill="#7fc97f" opacity="0.91"/>
<rect x="479.2" y="451.4" width="0.4" height="12.2" fill="#7fc97f" opacity="0.92"/>
<rect x="479.9" y="451.4" width="1.0" height="12.2" fill="#7fc97f" opacity="0.72"/>
<rect x="481.0" y="451.4" width="0.8" height="12.2" fill="#386cb0" opacity="0.67"/>
<rect x="481.5" y="451.4" width="1.0" height="12.2" fill="#386cb0" opacity="0.82"/>
<rect x="482.0" y="451.4" width="0.4" height="12.2" fill="#7fc97f" opacity="0.83"/>
<rect x="482.7" y="451.4" width="0.8" height="12.2" fill="#fdc086" opacity="0.92"/>
<rect x="483.6" y="451.4" width="0.4" height="12.2" fill="#7fc97f" opacity="0.82"/>
<rect x="484.7" y="451.4" width="1.3" height="12.2" fill="#fdc086" opacity="0.77"/>
<rect x="485.8" y="451.4" width="0.8" height="12.2" fill="#fdc086" opacity="0.86"/>
<rect x="486.7" y="451.4" width="1.0" height="12.2" fill="#fdc086" opacity="0.70"/>
<rect x="487.6" y="451.4" width="1.6" height="12.2" fill="#7fc97f" opacity="0.74"/>
<rect x="488.5" y="451.4" width="0.8" height="12.2" fill="#fdc086" opacity="0.75"/>
<rect x="489.4" y="451.4" width="1.0" height="12.2" fill="#386cb0" opacity="0.76"/>
<rect x="490.1" y="451.4" width="0.4" height="12.2" fill="#7fc97f" opacity="0.71"/>
<rect x="490.8" y="451.4" width="0.4" height="12.2" fill="#386cb0" opacity="0.67"/>
<rect x="491.5" y="451.4" width="0.6" height="12.2" fill="#7fc97f" opacity="0.97"/>
<rect x="492.2" y="451.4" width="0.6" height="12.2" fill="#fdc086" opacity="0.81"/>
<rect x="492.9" y="451.4" width="1.3" height="12.2" fill="#7fc97f" opacity="0.98"/>
<rect x="493.4" y="451.4" width="0.6" height="12.2" fill="#386cb0" opacity="0.68"/>
<rect x="494.1" y="451.4" width="1.3" height="12.2" fill="#7fc97f" opacity="0.74"/>
<rect x="494.8" y="451.4" width="0.4" height="12.2" fill="#386cb0" opacity="0.79"/>
<rect x="495.5" y="451.4" width="0.6" height="12.2" fill="#7fc97f" opacity="0.93"/>
<rect x="497.3" y="451.4" width="1.3" height="12.2" fill="#7fc97f" opacity="0.85"/>
<rect x="498.0" y="451.4" width="1.3" height="12.2" fill="#386cb0" opacity="0.65"/>
<rect x="498.9" y="451.4" width="0.8" height="12.2" fill="#fdc086" opacity="0.94"/>
<rect x="499.4" y="451.4" width="0.4" height="12.2" fill="#beaed4" opacity="0.84"/>
<rect x="500.5" y="451.4" width="0.6" height="12.2" fill="#7fc97f" opacity="0.86"/>
<rect x="501.2" y="451.4" width="0.8" height="12.2" fill="#7fc97f" opacity="0.76"/>
<rect x="501.7" y="451.4" width="0.4" height="12.2" fill="#fdc086" opacity="0.78"/>
<rect x="502.4" y="451.4" width="1.3" height="12.2" fill="#7fc97f" opacity="0.95"/>
<rect x="503.1" y="451.4" width="1.3" height="12.2" fill="#7fc97f" opacity="0.80"/>
<rect x="504.2" y="451.4" width="1.0" height="12.2" fill="#7fc97f" opacity="0.87"/>
<rect x="504.9" y="451.4" width="0.8" height="12.2" fill="#7fc97f" opacity="0.80"/>
<rect x="505.4" y="451.4" width="0.4" height="12.2" fill="#386cb0" opacity="0.81"/>
</g>
<rect x="26.3" y="451.4" width="485.1" height="12.2" rx="6.1" fill="none" stroke="#222" stroke-width="1.3"/>
<text x="1.3" y="476.2" font-size="7.8" fill="#161616" stroke="#161616" stroke-width="0.22">ChrY</text>
<g clip-path="url(#cp6)">
<rect x="32.3" y="466.4" width="0.6" height="12.2" fill="#7fc97f" opacity="0.79"/>
<rect x="33.4" y="466.4" width="1.0" height="12.2" fill="#fdc086" opacity="0.94"/>
<rect x="34.8" y="466.4" width="0.4" height="12.2" fill="#7fc97f" opacity="0.92"/>
<rect x="35.9" y="466.4" width="1.0" height="12.2" fill="#7fc97f" opacity="0.84"/>
<rect x="36.4" y="466.4" width="1.3" height="12.2" fill="#fdc086" opacity="0.79"/>
<rect x="37.3" y="466.4" width="1.3" height="12.2" fill="#7fc97f" opacity="1.00"/>
<rect x="38.4" y="466.4" width="1.0" height="12.2" fill="#fdc086" opacity="0.95"/>
<rect x="39.1" y="466.4" width="1.6" height="12.2" fill="#7fc97f" opacity="0.84"/>
<rect x="40.0" y="466.4" width="0.8" height="12.2" fill="#7fc97f" opacity="0.91"/>
<rect x="41.1" y="466.4" width="1.3" height="12.2" fill="#fdc086" opacity="0.80"/>
<rect x="41.6" y="466.4" width="0.8" height="12.2" fill="#7fc97f" opacity="0.88"/>
<rect x="42.3" y="466.4" width="1.6" height="12.2" fill="#7fc97f" opacity="0.72"/>
<rect x="43.0" y="466.4" width="1.0" height="12.2" fill="#7fc97f" opacity="0.72"/>
<rect x="43.5" y="466.4" width="0.8" height="12.2" fill="#386cb0" opacity="0.64"/>
<rect x="44.6" y="466.4" width="1.0" height="12.2" fill="#7fc97f" opacity="0.99"/>
<rect x="45.3" y="466.4" width="1.3" height="12.2" fill="#7fc97f" opacity="0.93"/>
<rect x="46.0" y="466.4" width="1.3" height="12.2" fill="#fdc086" opacity="0.82"/>
<rect x="46.5" y="466.4" width="0.8" height="12.2" fill="#7fc97f" opacity="0.96"/>
<rect x="49.0" y="466.4" width="1.3" height="12.2" fill="#fdc086" opacity="0.71"/>
<rect x="50.1" y="466.4" width="1.0" height="12.2" fill="#fdc086" opacity="0.71"/>
<rect x="51.9" y="466.4" width="1.3" height="12.2" fill="#7fc97f" opacity="0.92"/>
<rect x="52.8" y="466.4" width="0.6" height="12.2" fill="#7fc97f" opacity="0.84"/>
<rect x="53.7" y="466.4" width="0.4" height="12.2" fill="#fdc086" opacity="0.78"/>
<rect x="56.4" y="466.4" width="0.8" height="12.2" fill="#7fc97f" opacity="0.87"/>
<rect x="57.5" y="466.4" width="0.8" height="12.2" fill="#fdc086" opacity="0.93"/>
<rect x="59.6" y="466.4" width="0.4" height="12.2" fill="#7fc97f" opacity="0.92"/>
<rect x="60.3" y="466.4" width="0.4" height="12.2" fill="#fdc086" opacity="0.75"/>
<rect x="61.9" y="466.4" width="1.6" height="12.2" fill="#7fc97f" opacity="0.83"/>
<rect x="62.4" y="466.4" width="0.8" height="12.2" fill="#fdc086" opacity="0.84"/>
<rect x="64.5" y="466.4" width="1.6" height="12.2" fill="#fdc086" opacity="0.79"/>
<rect x="66.3" y="466.4" width="0.4" height="12.2" fill="#fdc086" opacity="0.74"/>
<rect x="67.2" y="466.4" width="0.4" height="12.2" fill="#beaed4" opacity="0.75"/>
<rect x="67.9" y="466.4" width="0.6" height="12.2" fill="#7fc97f" opacity="0.95"/>
<rect x="69.5" y="466.4" width="1.0" height="12.2" fill="#fdc086" opacity="0.75"/>
<rect x="70.4" y="466.4" width="0.4" height="12.2" fill="#386cb0" opacity="0.74"/>
<rect x="71.3" y="466.4" width="1.0" height="12.2" fill="#fdc086" opacity="0.97"/>
<rect x="72.2" y="466.4" width="1.0" height="12.2" fill="#fdc086" opacity="0.70"/>
<rect x="73.1" y="466.4" width="0.6" height="12.2" fill="#7fc97f" opacity="0.91"/>
<rect x="74.2" y="466.4" width="0.6" height="12.2" fill="#fdc086" opacity="0.85"/>
<rect x="74.9" y="466.4" width="1.6" height="12.2" fill="#fdc086" opacity="0.99"/>
<rect x="76.0" y="466.4" width="1.6" height="12.2" fill="#7fc97f" opacity="0.79"/>
<rect x="76.5" y="466.4" width="1.0" height="12.2" fill="#fdc086" opacity="0.92"/>
<rect x="77.2" y="466.4" width="1.0" height="12.2" fill="#7fc97f" opacity="0.77"/>
<rect x="77.7" y="466.4" width="0.6" height="12.2" fill="#386cb0" opacity="0.70"/>
<rect x="78.6" y="466.4" width="1.0" height="12.2" fill="#7fc97f" opacity="0.95"/>
<rect x="79.5" y="466.4" width="0.8" height="12.2" fill="#7fc97f" opacity="0.84"/>
<rect x="80.2" y="466.4" width="0.8" height="12.2" fill="#beaed4" opacity="0.73"/>
<rect x="81.1" y="466.4" width="1.6" height="12.2" fill="#fdc086" opacity="0.80"/>
<rect x="82.2" y="466.4" width="1.3" height="12.2" fill="#7fc97f" opacity="0.74"/>
<rect x="83.3" y="466.4" width="1.3" height="12.2" fill="#fdc086" opacity="0.95"/>
<rect x="83.8" y="466.4" width="1.6" height="12.2" fill="#7fc97f" opacity="0.74"/>
<rect x="84.7" y="466.4" width="1.3" height="12.2" fill="#fdc086" opacity="0.86"/>
<rect x="85.2" y="466.4" width="0.8" height="12.2" fill="#fdc086" opacity="0.79"/>
<rect x="86.1" y="466.4" width="1.3" height="12.2" fill="#fdc086" opacity="0.99"/>
<rect x="87.0" y="466.4" width="1.0" height="12.2" fill="#7fc97f" opacity="0.75"/>
<rect x="87.9" y="466.4" width="1.0" height="12.2" fill="#fdc086" opacity="0.71"/>
<rect x="89.0" y="466.4" width="1.0" height="12.2" fill="#7fc97f" opacity="0.81"/>
<rect x="89.5" y="466.4" width="0.4" height="12.2" fill="#fdc086" opacity="0.94"/>
<rect x="90.4" y="466.4" width="1.3" height="12.2" fill="#fdc086" opacity="0.80"/>
<rect x="91.1" y="466.4" width="1.3" height="12.2" fill="#7fc97f" opacity="0.87"/>
<rect x="92.0" y="466.4" width="0.8" height="12.2" fill="#7fc97f" opacity="0.85"/>
<rect x="92.7" y="466.4" width="0.8" height="12.2" fill="#7fc97f" opacity="0.79"/>
<rect x="93.6" y="466.4" width="1.0" height="12.2" fill="#7fc97f" opacity="0.93"/>
<rect x="94.1" y="466.4" width="1.3" height="12.2" fill="#fdc086" opacity="0.74"/>
<rect x="95.2" y="466.4" width="0.6" height="12.2" fill="#fdc086" opacity="0.73"/>
<rect x="95.7" y="466.4" width="1.0" height="12.2" fill="#7fc97f" opacity="0.79"/>
<rect x="96.4" y="466.4" width="1.3" height="12.2" fill="#fdc086" opacity="0.87"/>
<rect x="97.1" y="466.4" width="1.3" height="12.2" fill="#7fc97f" opacity="0.97"/>
<rect x="98.2" y="466.4" width="0.6" height="12.2" fill="#386cb0" opacity="0.68"/>
<rect x="99.1" y="466.4" width="0.6" height="12.2" fill="#7fc97f" opacity="0.73"/>
<rect x="100.2" y="466.4" width="1.3" height="12.2" fill="#fdc086" opacity="0.75"/>
<rect x="101.3" y="466.4" width="1.3" height="12.2" fill="#7fc97f" opacity="0.96"/>
<rect x="102.4" y="466.4" width="1.3" height="12.2" fill="#7fc97f" opacity="0.84"/>
<rect x="102.9" y="466.4" width="1.6" height="12.2" fill="#fdc086" opacity="0.70"/>
<rect x="103.4" y="466.4" width="1.6" height="12.2" fill="#fdc086" opacity="0.71"/>
<rect x="104.5" y="466.4" width="0.6" height="12.2" fill="#7fc97f" opacity="0.79"/>
<rect x="105.0" y="466.4" width="1.6" height="12.2" fill="#fdc086" opacity="0.70"/>
<rect x="105.9" y="466.4" width="1.6" height="12.2" fill="#7fc97f" opacity="0.78"/>
</g>
<rect x="26.3" y="466.4" width="86.7" height="12.2" rx="6.1" fill="none" stroke="#222" stroke-width="1.3"/>
<rect x="624.7" y="379.5" width="9.3" height="9.2" fill="#7fc97f"/>
<rect x="624.7" y="388.6" width="9.3" height="9.2" fill="#beaed4"/>
<rect x="624.7" y="397.7" width="9.3" height="9.2" fill="#fdc086"/>
<rect x="624.7" y="406.8" width="9.3" height="9.2" fill="#ffff99"/>
<rect x="624.7" y="415.9" width="9.3" height="9.2" fill="#386cb0"/>
<text x="652.5" y="388.3" font-size="9" text-anchor="middle" fill="#161616" stroke="#161616" stroke-width="0.22">DEL</text>
<text x="652.5" y="397.4" font-size="9" text-anchor="middle" fill="#161616" stroke="#161616" stroke-width="0.22">DUP</text>
<text x="652.5" y="406.5" font-size="9" text-anchor="middle" fill="#161616" stroke="#161616" stroke-width="0.22">INS</text>
<text x="652.5" y="415.6" font-size="9" text-anchor="middle" fill="#161616" stroke="#161616" stroke-width="0.22">INV</text>
<text x="652.5" y="424.7" font-size="9" text-anchor="middle" fill="#161616" stroke="#161616" stroke-width="0.22">TRA</text>
</svg></body></html>
